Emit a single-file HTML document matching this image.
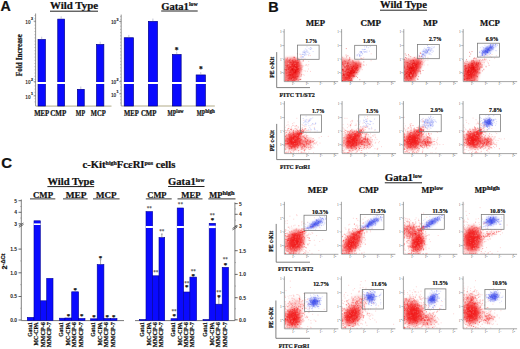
<!DOCTYPE html>
<html><head><meta charset="utf-8"><style>html,body{margin:0;padding:0;background:#fff;width:520px;height:349px;overflow:hidden}svg{display:block} text[font-weight="bold"]{stroke:#111;stroke-width:0.22px}</style></head>
<body><svg width="520" height="349" viewBox="0 0 520 349">
<defs><filter id="b1" x="-50%" y="-50%" width="200%" height="200%"><feGaussianBlur stdDeviation="1.5"/></filter><filter id="b2" x="-50%" y="-50%" width="200%" height="200%"><feGaussianBlur stdDeviation="2"/></filter><radialGradient id="rg"><stop offset="0" stop-color="#f01010" stop-opacity="1"/><stop offset="0.6" stop-color="#f01010" stop-opacity="0.88"/><stop offset="1" stop-color="#f01010" stop-opacity="0.3"/></radialGradient><radialGradient id="bg"><stop offset="0" stop-color="#2236e0" stop-opacity="1"/><stop offset="0.5" stop-color="#2c3ce6" stop-opacity="0.75"/><stop offset="1" stop-color="#2c3ce6" stop-opacity="0.15"/></radialGradient></defs>
<rect width="520" height="349" fill="#fff"/>
<text x="0.6" y="11.1" font-size="14.2" text-anchor="start" font-family='"Liberation Sans", sans-serif' font-weight="bold" fill="#111" >A</text>
<text x="268.2" y="11.6" font-size="14.4" text-anchor="start" font-family='"Liberation Sans", sans-serif' font-weight="bold" fill="#111" >B</text>
<text x="1.3" y="168.2" font-size="15" text-anchor="start" font-family='"Liberation Sans", sans-serif' font-weight="bold" fill="#111" >C</text>
<text x="50" y="9.3" font-size="10.5" font-family='"Liberation Serif", serif' font-weight="bold" fill="#111" textLength="48.0" lengthAdjust="spacingAndGlyphs">Wild Type</text>
<line x1="50" y1="11.2" x2="98" y2="11.2" stroke="#222" stroke-width="1.0"/>
<text x="161.2" y="9.5" font-size="10.5" font-family='"Liberation Serif", serif' font-weight="bold" fill="#111" textLength="36.5" lengthAdjust="spacingAndGlyphs">Gata1<tspan font-size="5.8" dy="-3.5">low</tspan></text>
<line x1="161.2" y1="11.0" x2="197.7" y2="11.0" stroke="#222" stroke-width="1.0"/>
<line x1="35.6" y1="13.5" x2="35.6" y2="106" stroke="#666" stroke-width="0.7"/>
<line x1="34.4" y1="15.5" x2="35.6" y2="15.5" stroke="#888" stroke-width="0.5"/>
<line x1="34.4" y1="18.7" x2="35.6" y2="18.7" stroke="#888" stroke-width="0.5"/>
<line x1="34.4" y1="21.9" x2="35.6" y2="21.9" stroke="#888" stroke-width="0.5"/>
<line x1="34.4" y1="25.099999999999998" x2="35.6" y2="25.099999999999998" stroke="#888" stroke-width="0.5"/>
<line x1="34.4" y1="28.299999999999997" x2="35.6" y2="28.299999999999997" stroke="#888" stroke-width="0.5"/>
<line x1="34.4" y1="31.499999999999996" x2="35.6" y2="31.499999999999996" stroke="#888" stroke-width="0.5"/>
<line x1="34.4" y1="34.699999999999996" x2="35.6" y2="34.699999999999996" stroke="#888" stroke-width="0.5"/>
<line x1="34.4" y1="37.9" x2="35.6" y2="37.9" stroke="#888" stroke-width="0.5"/>
<line x1="34.4" y1="41.1" x2="35.6" y2="41.1" stroke="#888" stroke-width="0.5"/>
<line x1="34.4" y1="44.300000000000004" x2="35.6" y2="44.300000000000004" stroke="#888" stroke-width="0.5"/>
<line x1="34.4" y1="47.50000000000001" x2="35.6" y2="47.50000000000001" stroke="#888" stroke-width="0.5"/>
<line x1="34.4" y1="50.70000000000001" x2="35.6" y2="50.70000000000001" stroke="#888" stroke-width="0.5"/>
<line x1="34.4" y1="53.90000000000001" x2="35.6" y2="53.90000000000001" stroke="#888" stroke-width="0.5"/>
<line x1="34.4" y1="57.100000000000016" x2="35.6" y2="57.100000000000016" stroke="#888" stroke-width="0.5"/>
<line x1="34.4" y1="60.30000000000002" x2="35.6" y2="60.30000000000002" stroke="#888" stroke-width="0.5"/>
<line x1="34.4" y1="63.50000000000002" x2="35.6" y2="63.50000000000002" stroke="#888" stroke-width="0.5"/>
<line x1="34.4" y1="66.70000000000002" x2="35.6" y2="66.70000000000002" stroke="#888" stroke-width="0.5"/>
<line x1="34.4" y1="69.90000000000002" x2="35.6" y2="69.90000000000002" stroke="#888" stroke-width="0.5"/>
<line x1="34.4" y1="73.10000000000002" x2="35.6" y2="73.10000000000002" stroke="#888" stroke-width="0.5"/>
<line x1="34.4" y1="76.30000000000003" x2="35.6" y2="76.30000000000003" stroke="#888" stroke-width="0.5"/>
<line x1="34.4" y1="79.50000000000003" x2="35.6" y2="79.50000000000003" stroke="#888" stroke-width="0.5"/>
<line x1="34.4" y1="82.70000000000003" x2="35.6" y2="82.70000000000003" stroke="#888" stroke-width="0.5"/>
<line x1="34.4" y1="85.90000000000003" x2="35.6" y2="85.90000000000003" stroke="#888" stroke-width="0.5"/>
<line x1="34.4" y1="89.10000000000004" x2="35.6" y2="89.10000000000004" stroke="#888" stroke-width="0.5"/>
<line x1="34.4" y1="92.30000000000004" x2="35.6" y2="92.30000000000004" stroke="#888" stroke-width="0.5"/>
<line x1="34.4" y1="95.50000000000004" x2="35.6" y2="95.50000000000004" stroke="#888" stroke-width="0.5"/>
<line x1="34.4" y1="98.70000000000005" x2="35.6" y2="98.70000000000005" stroke="#888" stroke-width="0.5"/>
<line x1="34.4" y1="101.90000000000005" x2="35.6" y2="101.90000000000005" stroke="#888" stroke-width="0.5"/>
<line x1="33.6" y1="21.2" x2="35.6" y2="21.2" stroke="#555" stroke-width="0.6"/>
<text x="25.3" y="23.9" font-size="6.2" font-family='"Liberation Sans", sans-serif' font-weight="bold" fill="#333" style="stroke:none" textLength="5.4" lengthAdjust="spacingAndGlyphs">10</text>
<text x="31.0" y="20.3" font-size="3.6" font-family='"Liberation Sans", sans-serif' font-weight="bold" fill="#444">3</text>
<line x1="33.6" y1="81.7" x2="35.6" y2="81.7" stroke="#555" stroke-width="0.6"/>
<text x="25.3" y="84.4" font-size="6.2" font-family='"Liberation Sans", sans-serif' font-weight="bold" fill="#333" style="stroke:none" textLength="5.4" lengthAdjust="spacingAndGlyphs">10</text>
<text x="31.0" y="80.8" font-size="3.6" font-family='"Liberation Sans", sans-serif' font-weight="bold" fill="#444">2</text>
<line x1="33.6" y1="95.9" x2="35.6" y2="95.9" stroke="#555" stroke-width="0.6"/>
<text x="25.3" y="98.60000000000001" font-size="6.2" font-family='"Liberation Sans", sans-serif' font-weight="bold" fill="#333" style="stroke:none" textLength="5.4" lengthAdjust="spacingAndGlyphs">10</text>
<text x="31.0" y="95.0" font-size="3.6" font-family='"Liberation Sans", sans-serif' font-weight="bold" fill="#444">1</text>
<line x1="35.6" y1="106.1" x2="111.5" y2="106.1" stroke="#a9a27a" stroke-width="0.9"/>
<rect x="38.05" y="39.55" width="7.30" height="66.45" fill="#0a0aff" stroke="#00008a" stroke-width="0.7"/>
<line x1="41.7" y1="36.7" x2="41.7" y2="39.2" stroke="#88a" stroke-width="0.5"/>
<rect x="57.75" y="19.15" width="6.80" height="86.85" fill="#0a0aff" stroke="#00008a" stroke-width="0.7"/>
<line x1="61.150000000000006" y1="16.3" x2="61.150000000000006" y2="18.8" stroke="#88a" stroke-width="0.5"/>
<rect x="77.35" y="89.35" width="6.90" height="16.65" fill="#0a0aff" stroke="#00008a" stroke-width="0.7"/>
<line x1="80.8" y1="86.5" x2="80.8" y2="89" stroke="#88a" stroke-width="0.5"/>
<rect x="96.55" y="44.55" width="7.30" height="61.45" fill="#0a0aff" stroke="#00008a" stroke-width="0.7"/>
<line x1="100.2" y1="41.7" x2="100.2" y2="44.2" stroke="#88a" stroke-width="0.5"/>
<rect x="36.20" y="82.00" width="76.00" height="2.00" fill="#fff" />
<line x1="121.2" y1="14.6" x2="121.2" y2="106" stroke="#666" stroke-width="0.7"/>
<line x1="120.0" y1="16.6" x2="121.2" y2="16.6" stroke="#888" stroke-width="0.5"/>
<line x1="120.0" y1="19.8" x2="121.2" y2="19.8" stroke="#888" stroke-width="0.5"/>
<line x1="120.0" y1="23.0" x2="121.2" y2="23.0" stroke="#888" stroke-width="0.5"/>
<line x1="120.0" y1="26.2" x2="121.2" y2="26.2" stroke="#888" stroke-width="0.5"/>
<line x1="120.0" y1="29.4" x2="121.2" y2="29.4" stroke="#888" stroke-width="0.5"/>
<line x1="120.0" y1="32.6" x2="121.2" y2="32.6" stroke="#888" stroke-width="0.5"/>
<line x1="120.0" y1="35.800000000000004" x2="121.2" y2="35.800000000000004" stroke="#888" stroke-width="0.5"/>
<line x1="120.0" y1="39.00000000000001" x2="121.2" y2="39.00000000000001" stroke="#888" stroke-width="0.5"/>
<line x1="120.0" y1="42.20000000000001" x2="121.2" y2="42.20000000000001" stroke="#888" stroke-width="0.5"/>
<line x1="120.0" y1="45.40000000000001" x2="121.2" y2="45.40000000000001" stroke="#888" stroke-width="0.5"/>
<line x1="120.0" y1="48.600000000000016" x2="121.2" y2="48.600000000000016" stroke="#888" stroke-width="0.5"/>
<line x1="120.0" y1="51.80000000000002" x2="121.2" y2="51.80000000000002" stroke="#888" stroke-width="0.5"/>
<line x1="120.0" y1="55.00000000000002" x2="121.2" y2="55.00000000000002" stroke="#888" stroke-width="0.5"/>
<line x1="120.0" y1="58.200000000000024" x2="121.2" y2="58.200000000000024" stroke="#888" stroke-width="0.5"/>
<line x1="120.0" y1="61.40000000000003" x2="121.2" y2="61.40000000000003" stroke="#888" stroke-width="0.5"/>
<line x1="120.0" y1="64.60000000000002" x2="121.2" y2="64.60000000000002" stroke="#888" stroke-width="0.5"/>
<line x1="120.0" y1="67.80000000000003" x2="121.2" y2="67.80000000000003" stroke="#888" stroke-width="0.5"/>
<line x1="120.0" y1="71.00000000000003" x2="121.2" y2="71.00000000000003" stroke="#888" stroke-width="0.5"/>
<line x1="120.0" y1="74.20000000000003" x2="121.2" y2="74.20000000000003" stroke="#888" stroke-width="0.5"/>
<line x1="120.0" y1="77.40000000000003" x2="121.2" y2="77.40000000000003" stroke="#888" stroke-width="0.5"/>
<line x1="120.0" y1="80.60000000000004" x2="121.2" y2="80.60000000000004" stroke="#888" stroke-width="0.5"/>
<line x1="120.0" y1="83.80000000000004" x2="121.2" y2="83.80000000000004" stroke="#888" stroke-width="0.5"/>
<line x1="120.0" y1="87.00000000000004" x2="121.2" y2="87.00000000000004" stroke="#888" stroke-width="0.5"/>
<line x1="120.0" y1="90.20000000000005" x2="121.2" y2="90.20000000000005" stroke="#888" stroke-width="0.5"/>
<line x1="120.0" y1="93.40000000000005" x2="121.2" y2="93.40000000000005" stroke="#888" stroke-width="0.5"/>
<line x1="120.0" y1="96.60000000000005" x2="121.2" y2="96.60000000000005" stroke="#888" stroke-width="0.5"/>
<line x1="120.0" y1="99.80000000000005" x2="121.2" y2="99.80000000000005" stroke="#888" stroke-width="0.5"/>
<line x1="120.0" y1="103.00000000000006" x2="121.2" y2="103.00000000000006" stroke="#888" stroke-width="0.5"/>
<line x1="119.2" y1="21.5" x2="121.2" y2="21.5" stroke="#555" stroke-width="0.6"/>
<text x="110.9" y="24.2" font-size="6.2" font-family='"Liberation Sans", sans-serif' font-weight="bold" fill="#333" style="stroke:none" textLength="5.4" lengthAdjust="spacingAndGlyphs">10</text>
<text x="116.60000000000001" y="20.6" font-size="3.6" font-family='"Liberation Sans", sans-serif' font-weight="bold" fill="#444">3</text>
<line x1="119.2" y1="81.7" x2="121.2" y2="81.7" stroke="#555" stroke-width="0.6"/>
<text x="110.9" y="84.4" font-size="6.2" font-family='"Liberation Sans", sans-serif' font-weight="bold" fill="#333" style="stroke:none" textLength="5.4" lengthAdjust="spacingAndGlyphs">10</text>
<text x="116.60000000000001" y="80.8" font-size="3.6" font-family='"Liberation Sans", sans-serif' font-weight="bold" fill="#444">2</text>
<line x1="119.2" y1="93.8" x2="121.2" y2="93.8" stroke="#555" stroke-width="0.6"/>
<text x="110.9" y="96.5" font-size="6.2" font-family='"Liberation Sans", sans-serif' font-weight="bold" fill="#333" style="stroke:none" textLength="5.4" lengthAdjust="spacingAndGlyphs">10</text>
<text x="116.60000000000001" y="92.89999999999999" font-size="3.6" font-family='"Liberation Sans", sans-serif' font-weight="bold" fill="#444">1</text>
<line x1="121.2" y1="106" x2="214.8" y2="106" stroke="#a9a27a" stroke-width="0.9"/>
<rect x="124.25" y="37.75" width="9.20" height="68.25" fill="#0a0aff" stroke="#00008a" stroke-width="0.7"/>
<line x1="128.85000000000002" y1="34.9" x2="128.85000000000002" y2="37.4" stroke="#88a" stroke-width="0.5"/>
<rect x="148.35" y="21.45" width="9.10" height="84.55" fill="#0a0aff" stroke="#00008a" stroke-width="0.7"/>
<line x1="152.9" y1="18.6" x2="152.9" y2="21.1" stroke="#88a" stroke-width="0.5"/>
<rect x="172.35" y="54.55" width="8.80" height="51.45" fill="#0a0aff" stroke="#00008a" stroke-width="0.7"/>
<line x1="176.75" y1="51.7" x2="176.75" y2="54.2" stroke="#88a" stroke-width="0.5"/>
<rect x="196.15" y="74.95" width="9.20" height="31.05" fill="#0a0aff" stroke="#00008a" stroke-width="0.7"/>
<line x1="200.75" y1="72.1" x2="200.75" y2="74.6" stroke="#88a" stroke-width="0.5"/>
<rect x="121.80" y="82.00" width="93.00" height="2.00" fill="#fff" />
<text x="176.7" y="52.8" font-size="7.5" text-anchor="middle" font-family='"Liberation Serif", serif' font-weight="bold" fill="#111" >*</text>
<text x="200.9" y="72.4" font-size="7.5" text-anchor="middle" font-family='"Liberation Serif", serif' font-weight="bold" fill="#111" >*</text>
<text transform="translate(22.3,55.2) rotate(-90)" font-size="7.3" text-anchor="middle" font-family='"Liberation Serif", serif' font-weight="bold" fill="#111">Fold Increase</text>
<text x="34.3" y="115.5" font-size="8.0" font-family='"Liberation Serif", serif' font-weight="bold" fill="#111" stroke="#111" stroke-width="0.3" textLength="14.9" lengthAdjust="spacingAndGlyphs">MEP</text>
<text x="50.3" y="115.5" font-size="8.0" font-family='"Liberation Serif", serif' font-weight="bold" fill="#111" stroke="#111" stroke-width="0.3" textLength="15.9" lengthAdjust="spacingAndGlyphs">CMP</text>
<text x="75.8" y="115.5" font-size="8.0" font-family='"Liberation Serif", serif' font-weight="bold" fill="#111" stroke="#111" stroke-width="0.3" textLength="9.2" lengthAdjust="spacingAndGlyphs">MP</text>
<text x="90.8" y="115.5" font-size="8.0" font-family='"Liberation Serif", serif' font-weight="bold" fill="#111" stroke="#111" stroke-width="0.3" textLength="14.9" lengthAdjust="spacingAndGlyphs">MCP</text>
<text x="124.1" y="115.5" font-size="8.0" font-family='"Liberation Serif", serif' font-weight="bold" fill="#111" stroke="#111" stroke-width="0.3" textLength="14.7" lengthAdjust="spacingAndGlyphs">MEP</text>
<text x="140.9" y="115.5" font-size="8.0" font-family='"Liberation Serif", serif' font-weight="bold" fill="#111" stroke="#111" stroke-width="0.3" textLength="15.5" lengthAdjust="spacingAndGlyphs">CMP</text>
<text x="167.5" y="115.5" font-size="8.0" font-family='"Liberation Serif", serif' font-weight="bold" fill="#111" stroke="#111" stroke-width="0.3" textLength="8.6" lengthAdjust="spacingAndGlyphs">MP</text>
<text x="196.7" y="115.5" font-size="8.0" font-family='"Liberation Serif", serif' font-weight="bold" fill="#111" stroke="#111" stroke-width="0.3" textLength="8.3" lengthAdjust="spacingAndGlyphs">MP</text>
<text x="176.3" y="113.4" font-size="5.2" font-family='"Liberation Serif", serif' font-weight="bold" fill="#111" stroke="#111" stroke-width="0.3" textLength="7.3" lengthAdjust="spacingAndGlyphs">low</text>
<text x="205.2" y="113.4" font-size="5.2" font-family='"Liberation Serif", serif' font-weight="bold" fill="#111" stroke="#111" stroke-width="0.3" textLength="9.6" lengthAdjust="spacingAndGlyphs">high</text>
<text x="82.4" y="168.4" font-size="10.5" font-family='"Liberation Serif", serif' font-weight="bold" fill="#111" textLength="93" lengthAdjust="spacingAndGlyphs">c-Kit<tspan font-size="5.8" dy="-3.3">high</tspan><tspan dy="3.3">Fc&#949;RI</tspan><tspan font-size="5.8" dy="-3.3">pos</tspan><tspan dy="3.3"> cells</tspan></text>
<text x="47.4" y="185" font-size="10.5" font-family='"Liberation Serif", serif' font-weight="bold" fill="#111" textLength="46.8" lengthAdjust="spacingAndGlyphs">Wild Type</text>
<line x1="47.4" y1="186.6" x2="94.2" y2="186.6" stroke="#222" stroke-width="1.0"/>
<text x="168.1" y="185.2" font-size="10.5" font-family='"Liberation Serif", serif' font-weight="bold" fill="#111" textLength="36.4" lengthAdjust="spacingAndGlyphs">Gata1<tspan font-size="5.8" dy="-3.5">low</tspan></text>
<line x1="168.1" y1="186.5" x2="204.5" y2="186.5" stroke="#222" stroke-width="1.0"/>
<text x="33" y="197.7" font-size="8.8" font-family='"Liberation Serif", serif' font-weight="bold" fill="#111" textLength="20.0" lengthAdjust="spacingAndGlyphs">CMP</text>
<line x1="30" y1="198.9" x2="55.3" y2="198.9" stroke="#222" stroke-width="0.9"/>
<text x="65.8" y="197.7" font-size="8.8" font-family='"Liberation Serif", serif' font-weight="bold" fill="#111" textLength="20.7" lengthAdjust="spacingAndGlyphs">MEP</text>
<line x1="63" y1="198.9" x2="87.7" y2="198.9" stroke="#222" stroke-width="0.9"/>
<text x="96" y="197.7" font-size="8.8" font-family='"Liberation Serif", serif' font-weight="bold" fill="#111" textLength="20.5" lengthAdjust="spacingAndGlyphs">MCP</text>
<line x1="93" y1="198.9" x2="119.6" y2="198.9" stroke="#222" stroke-width="0.9"/>
<text x="147.3" y="197.7" font-size="8.8" font-family='"Liberation Serif", serif' font-weight="bold" fill="#111" textLength="19.2" lengthAdjust="spacingAndGlyphs">CMP</text>
<line x1="145.8" y1="198.9" x2="171.7" y2="198.9" stroke="#222" stroke-width="0.9"/>
<text x="181.3" y="197.7" font-size="8.8" font-family='"Liberation Serif", serif' font-weight="bold" fill="#111" textLength="19.3" lengthAdjust="spacingAndGlyphs">MEP</text>
<line x1="177.5" y1="198.9" x2="202.5" y2="198.9" stroke="#222" stroke-width="0.9"/>
<text x="209.2" y="197.7" font-size="8.8" font-family='"Liberation Serif", serif' font-weight="bold" fill="#111" textLength="13.1" lengthAdjust="spacingAndGlyphs">MP</text>
<text x="222.5" y="194.6" font-size="6" font-family='"Liberation Serif", serif' font-weight="bold" fill="#111" textLength="12.1" lengthAdjust="spacingAndGlyphs">high</text>
<line x1="208.3" y1="198.9" x2="235.5" y2="198.9" stroke="#222" stroke-width="0.9"/>
<line x1="21.3" y1="199.5" x2="21.3" y2="320.5" stroke="#555" stroke-width="0.75"/>
<line x1="21.3" y1="200.7" x2="18.5" y2="200.7" stroke="#444" stroke-width="0.8"/>
<text x="17.1" y="202.6" font-size="5.0" text-anchor="end" font-family='"Liberation Sans", sans-serif' font-weight="bold" fill="#222" style="stroke:none">5</text>
<line x1="21.3" y1="212.3" x2="18.5" y2="212.3" stroke="#444" stroke-width="0.8"/>
<text x="17.1" y="214.20000000000002" font-size="5.0" text-anchor="end" font-family='"Liberation Sans", sans-serif' font-weight="bold" fill="#222" style="stroke:none">4</text>
<line x1="21.3" y1="223.8" x2="18.5" y2="223.8" stroke="#444" stroke-width="0.8"/>
<text x="17.1" y="225.70000000000002" font-size="5.0" text-anchor="end" font-family='"Liberation Sans", sans-serif' font-weight="bold" fill="#222" style="stroke:none">3</text>
<line x1="21.3" y1="249.1" x2="18.5" y2="249.1" stroke="#444" stroke-width="0.8"/>
<text x="17.1" y="251.0" font-size="5.0" text-anchor="end" font-family='"Liberation Sans", sans-serif' font-weight="bold" fill="#222" style="stroke:none">1.5</text>
<line x1="21.3" y1="272.8" x2="18.5" y2="272.8" stroke="#444" stroke-width="0.8"/>
<text x="17.1" y="274.7" font-size="5.0" text-anchor="end" font-family='"Liberation Sans", sans-serif' font-weight="bold" fill="#222" style="stroke:none">1.0</text>
<line x1="21.3" y1="296.5" x2="18.5" y2="296.5" stroke="#444" stroke-width="0.8"/>
<text x="17.1" y="298.4" font-size="5.0" text-anchor="end" font-family='"Liberation Sans", sans-serif' font-weight="bold" fill="#222" style="stroke:none">0.5</text>
<line x1="21.3" y1="320" x2="18.5" y2="320" stroke="#444" stroke-width="0.8"/>
<text x="17.1" y="321.9" font-size="5.0" text-anchor="end" font-family='"Liberation Sans", sans-serif' font-weight="bold" fill="#222" style="stroke:none">0.0</text>
<line x1="21.3" y1="206.5" x2="20.2" y2="206.5" stroke="#777" stroke-width="0.5"/>
<line x1="21.3" y1="218.05" x2="20.2" y2="218.05" stroke="#777" stroke-width="0.5"/>
<line x1="21.3" y1="260.95" x2="20.2" y2="260.95" stroke="#777" stroke-width="0.5"/>
<line x1="21.3" y1="284.65" x2="20.2" y2="284.65" stroke="#777" stroke-width="0.5"/>
<line x1="21.3" y1="308.25" x2="20.2" y2="308.25" stroke="#777" stroke-width="0.5"/>
<path d="M18.900000000000002 225.79999999999998 L23.5 223.0 M18.900000000000002 227.29999999999998 L23.5 224.5" stroke="#333" stroke-width="0.7" fill="none"/>
<line x1="234.9" y1="202.4" x2="234.9" y2="320.5" stroke="#555" stroke-width="0.75"/>
<line x1="234.9" y1="203.6" x2="237.70000000000002" y2="203.6" stroke="#444" stroke-width="0.8"/>
<text x="239.1" y="205.5" font-size="5.0" text-anchor="start" font-family='"Liberation Sans", sans-serif' font-weight="bold" fill="#222" style="stroke:none">5</text>
<line x1="234.9" y1="214.3" x2="237.70000000000002" y2="214.3" stroke="#444" stroke-width="0.8"/>
<text x="239.1" y="216.20000000000002" font-size="5.0" text-anchor="start" font-family='"Liberation Sans", sans-serif' font-weight="bold" fill="#222" style="stroke:none">4</text>
<line x1="234.9" y1="226" x2="237.70000000000002" y2="226" stroke="#444" stroke-width="0.8"/>
<text x="239.1" y="227.9" font-size="5.0" text-anchor="start" font-family='"Liberation Sans", sans-serif' font-weight="bold" fill="#222" style="stroke:none">3</text>
<line x1="234.9" y1="250.7" x2="237.70000000000002" y2="250.7" stroke="#444" stroke-width="0.8"/>
<text x="239.1" y="252.6" font-size="5.0" text-anchor="start" font-family='"Liberation Sans", sans-serif' font-weight="bold" fill="#222" style="stroke:none">1.5</text>
<line x1="234.9" y1="274.4" x2="237.70000000000002" y2="274.4" stroke="#444" stroke-width="0.8"/>
<text x="239.1" y="276.29999999999995" font-size="5.0" text-anchor="start" font-family='"Liberation Sans", sans-serif' font-weight="bold" fill="#222" style="stroke:none">1.0</text>
<line x1="234.9" y1="297.7" x2="237.70000000000002" y2="297.7" stroke="#444" stroke-width="0.8"/>
<text x="239.1" y="299.59999999999997" font-size="5.0" text-anchor="start" font-family='"Liberation Sans", sans-serif' font-weight="bold" fill="#222" style="stroke:none">0.5</text>
<line x1="234.9" y1="319.8" x2="237.70000000000002" y2="319.8" stroke="#444" stroke-width="0.8"/>
<text x="239.1" y="321.7" font-size="5.0" text-anchor="start" font-family='"Liberation Sans", sans-serif' font-weight="bold" fill="#222" style="stroke:none">0.0</text>
<line x1="234.9" y1="208.95" x2="236.0" y2="208.95" stroke="#777" stroke-width="0.5"/>
<line x1="234.9" y1="220.15" x2="236.0" y2="220.15" stroke="#777" stroke-width="0.5"/>
<line x1="234.9" y1="262.54999999999995" x2="236.0" y2="262.54999999999995" stroke="#777" stroke-width="0.5"/>
<line x1="234.9" y1="286.04999999999995" x2="236.0" y2="286.04999999999995" stroke="#777" stroke-width="0.5"/>
<line x1="234.9" y1="308.75" x2="236.0" y2="308.75" stroke="#777" stroke-width="0.5"/>
<path d="M232.5 228.4 L237.1 225.60000000000002 M232.5 229.9 L237.1 227.10000000000002" stroke="#333" stroke-width="0.7" fill="none"/>
<line x1="21.3" y1="320.6" x2="124" y2="320.6" stroke="#555" stroke-width="0.8"/>
<line x1="135" y1="320.6" x2="234.9" y2="320.6" stroke="#555" stroke-width="0.8"/>
<rect x="27.30" y="317.40" width="6.70" height="3.10" fill="#0a0aff" />
<rect x="27.30" y="317.40" width="6.70" height="3.10" fill="none" stroke="#00009a" stroke-width="0.6"/>
<rect x="34.00" y="220.80" width="6.30" height="99.70" fill="#0a0aff" />
<rect x="34.00" y="220.80" width="6.30" height="99.70" fill="none" stroke="#00009a" stroke-width="0.6"/>
<rect x="33.70" y="223.40" width="6.90" height="1.60" fill="#fff" />
<rect x="40.30" y="300.80" width="6.40" height="19.70" fill="#0a0aff" />
<rect x="40.30" y="300.80" width="6.40" height="19.70" fill="none" stroke="#00009a" stroke-width="0.6"/>
<rect x="46.70" y="278.40" width="6.30" height="42.10" fill="#0a0aff" />
<rect x="46.70" y="278.40" width="6.30" height="42.10" fill="none" stroke="#00009a" stroke-width="0.6"/>
<rect x="59.50" y="318.20" width="5.50" height="2.30" fill="#0a0aff" />
<rect x="59.50" y="318.20" width="5.50" height="2.30" fill="none" stroke="#00009a" stroke-width="0.6"/>
<rect x="65.00" y="318.00" width="6.70" height="2.50" fill="#0a0aff" />
<rect x="65.00" y="318.00" width="6.70" height="2.50" fill="none" stroke="#00009a" stroke-width="0.6"/>
<text x="68.35" y="317.96" font-size="6.8" text-anchor="middle" font-family='"Liberation Serif", serif' font-weight="bold" fill="#111" >*</text>
<rect x="71.70" y="291.80" width="6.90" height="28.70" fill="#0a0aff" />
<rect x="71.70" y="291.80" width="6.90" height="28.70" fill="none" stroke="#00009a" stroke-width="0.6"/>
<text x="75.15" y="291.76" font-size="6.8" text-anchor="middle" font-family='"Liberation Serif", serif' font-weight="bold" fill="#111" >*</text>
<rect x="78.60" y="318.50" width="6.40" height="2.00" fill="#0a0aff" />
<rect x="78.60" y="318.50" width="6.40" height="2.00" fill="none" stroke="#00009a" stroke-width="0.6"/>
<text x="81.8" y="318.46" font-size="6.8" text-anchor="middle" font-family='"Liberation Serif", serif' font-weight="bold" fill="#111" >*</text>
<rect x="90.60" y="318.80" width="6.60" height="1.70" fill="#0a0aff" />
<rect x="90.60" y="318.80" width="6.60" height="1.70" fill="none" stroke="#00009a" stroke-width="0.6"/>
<text x="93.9" y="318.66" font-size="6.8" text-anchor="middle" font-family='"Liberation Serif", serif' font-weight="bold" fill="#111" >*</text>
<rect x="97.20" y="264.60" width="6.70" height="55.90" fill="#0a0aff" />
<rect x="97.20" y="264.60" width="6.70" height="55.90" fill="none" stroke="#00009a" stroke-width="0.6"/>
<line x1="100.55000000000001" y1="259.7" x2="100.55000000000001" y2="264.6" stroke="#555" stroke-width="0.5"/>
<line x1="99.65" y1="259.7" x2="101.45000000000002" y2="259.7" stroke="#555" stroke-width="0.5"/>
<text x="100.55000000000001" y="259.56" font-size="6.8" text-anchor="middle" font-family='"Liberation Serif", serif' font-weight="bold" fill="#111" >*</text>
<rect x="103.90" y="318.50" width="6.50" height="2.00" fill="#0a0aff" />
<rect x="103.90" y="318.50" width="6.50" height="2.00" fill="none" stroke="#00009a" stroke-width="0.6"/>
<text x="107.15" y="318.96" font-size="6.8" text-anchor="middle" font-family='"Liberation Serif", serif' font-weight="bold" fill="#111" >*</text>
<rect x="110.40" y="318.50" width="6.60" height="2.00" fill="#0a0aff" />
<rect x="110.40" y="318.50" width="6.60" height="2.00" fill="none" stroke="#00009a" stroke-width="0.6"/>
<text x="113.7" y="318.96" font-size="6.8" text-anchor="middle" font-family='"Liberation Serif", serif' font-weight="bold" fill="#111" >*</text>
<rect x="139.30" y="319.50" width="6.70" height="1.00" fill="#0a0aff" />
<rect x="139.30" y="319.50" width="6.70" height="1.00" fill="none" stroke="#00009a" stroke-width="0.6"/>
<rect x="146.00" y="211.60" width="6.60" height="108.90" fill="#0a0aff" />
<rect x="146.00" y="211.60" width="6.60" height="108.90" fill="none" stroke="#00009a" stroke-width="0.6"/>
<rect x="145.70" y="226.00" width="7.20" height="2.00" fill="#fff" />
<text x="149.3" y="210.42" font-size="5.2" text-anchor="middle" font-family='"Liberation Serif", serif' font-weight="bold" fill="#555" style="stroke:none">**</text>
<rect x="152.60" y="275.80" width="6.40" height="44.70" fill="#0a0aff" />
<rect x="152.60" y="275.80" width="6.40" height="44.70" fill="none" stroke="#00009a" stroke-width="0.6"/>
<text x="155.8" y="273.92" font-size="5.2" text-anchor="middle" font-family='"Liberation Serif", serif' font-weight="bold" fill="#555" style="stroke:none">**</text>
<rect x="159.00" y="237.60" width="5.70" height="82.90" fill="#0a0aff" />
<rect x="159.00" y="237.60" width="5.70" height="82.90" fill="none" stroke="#00009a" stroke-width="0.6"/>
<line x1="161.85" y1="234" x2="161.85" y2="237.6" stroke="#555" stroke-width="0.5"/>
<line x1="160.95" y1="234" x2="162.75" y2="234" stroke="#555" stroke-width="0.5"/>
<text x="161.85" y="233.42" font-size="5.2" text-anchor="middle" font-family='"Liberation Serif", serif' font-weight="bold" fill="#555" style="stroke:none">**</text>
<rect x="171.00" y="318.70" width="6.20" height="1.80" fill="#0a0aff" />
<rect x="171.00" y="318.70" width="6.20" height="1.80" fill="none" stroke="#00009a" stroke-width="0.6"/>
<text x="174.1" y="312.92" font-size="5.2" text-anchor="middle" font-family='"Liberation Serif", serif' font-weight="bold" fill="#555" style="stroke:none">**</text>
<text x="174.1" y="318.06" font-size="6.8" text-anchor="middle" font-family='"Liberation Serif", serif' font-weight="bold" fill="#111" >*</text>
<rect x="177.20" y="208.00" width="6.40" height="112.50" fill="#0a0aff" />
<rect x="177.20" y="208.00" width="6.40" height="112.50" fill="none" stroke="#00009a" stroke-width="0.6"/>
<rect x="176.90" y="226.00" width="7.00" height="2.00" fill="#fff" />
<text x="180.39999999999998" y="206.42" font-size="5.2" text-anchor="middle" font-family='"Liberation Serif", serif' font-weight="bold" fill="#555" style="stroke:none">**</text>
<rect x="183.60" y="292.00" width="6.30" height="28.50" fill="#0a0aff" />
<rect x="183.60" y="292.00" width="6.30" height="28.50" fill="none" stroke="#00009a" stroke-width="0.6"/>
<text x="186.75" y="284.72" font-size="5.2" text-anchor="middle" font-family='"Liberation Serif", serif' font-weight="bold" fill="#555" style="stroke:none">**</text>
<text x="186.75" y="288.86" font-size="6.8" text-anchor="middle" font-family='"Liberation Serif", serif' font-weight="bold" fill="#111" >*</text>
<rect x="189.90" y="277.10" width="6.70" height="43.40" fill="#0a0aff" />
<rect x="189.90" y="277.10" width="6.70" height="43.40" fill="none" stroke="#00009a" stroke-width="0.6"/>
<text x="193.25" y="272.62" font-size="5.2" text-anchor="middle" font-family='"Liberation Serif", serif' font-weight="bold" fill="#555" style="stroke:none">**</text>
<text x="193.25" y="277.66" font-size="6.8" text-anchor="middle" font-family='"Liberation Serif", serif' font-weight="bold" fill="#111" >*</text>
<rect x="203.00" y="319.50" width="6.20" height="1.00" fill="#0a0aff" />
<rect x="203.00" y="319.50" width="6.20" height="1.00" fill="none" stroke="#00009a" stroke-width="0.6"/>
<rect x="209.20" y="223.30" width="6.30" height="97.20" fill="#0a0aff" />
<rect x="209.20" y="223.30" width="6.30" height="97.20" fill="none" stroke="#00009a" stroke-width="0.6"/>
<rect x="208.90" y="225.70" width="6.90" height="2.40" fill="#fff" />
<text x="212.35" y="216.92" font-size="5.2" text-anchor="middle" font-family='"Liberation Serif", serif' font-weight="bold" fill="#555" style="stroke:none">**</text>
<text x="212.35" y="222.36" font-size="6.8" text-anchor="middle" font-family='"Liberation Serif", serif' font-weight="bold" fill="#111" >*</text>
<rect x="215.50" y="304.20" width="6.70" height="16.30" fill="#0a0aff" />
<rect x="215.50" y="304.20" width="6.70" height="16.30" fill="none" stroke="#00009a" stroke-width="0.6"/>
<line x1="218.85" y1="297.5" x2="218.85" y2="304.2" stroke="#555" stroke-width="0.5"/>
<line x1="217.95" y1="297.5" x2="219.75" y2="297.5" stroke="#555" stroke-width="0.5"/>
<text x="218.85" y="294.42" font-size="5.2" text-anchor="middle" font-family='"Liberation Serif", serif' font-weight="bold" fill="#555" style="stroke:none">**</text>
<text x="218.85" y="299.36" font-size="6.8" text-anchor="middle" font-family='"Liberation Serif", serif' font-weight="bold" fill="#111" >*</text>
<rect x="222.20" y="267.40" width="6.30" height="53.10" fill="#0a0aff" />
<rect x="222.20" y="267.40" width="6.30" height="53.10" fill="none" stroke="#00009a" stroke-width="0.6"/>
<text x="225.35" y="261.02" font-size="5.2" text-anchor="middle" font-family='"Liberation Serif", serif' font-weight="bold" fill="#555" style="stroke:none">**</text>
<text x="225.35" y="266.56" font-size="6.8" text-anchor="middle" font-family='"Liberation Serif", serif' font-weight="bold" fill="#111" >*</text>
<text transform="translate(7.4,269.4) rotate(-90)" font-size="7.2" text-anchor="start" font-family='"Liberation Sans", sans-serif' font-weight="bold" fill="#111">2<tspan font-size="5.6" dy="-2.9">-&#916;Ct</tspan></text>
<text transform="translate(31.85,322.2) rotate(-90)" font-size="6.2" text-anchor="end" font-family='"Liberation Serif", serif' font-weight="bold" fill="#111" textLength="14.6" lengthAdjust="spacingAndGlyphs">Gata1</text>
<text transform="translate(38.35,322.2) rotate(-90)" font-size="6.2" text-anchor="end" font-family='"Liberation Serif", serif' font-weight="bold" fill="#111" textLength="23.2" lengthAdjust="spacingAndGlyphs">MC-CPA</text>
<text transform="translate(44.70,322.2) rotate(-90)" font-size="6.2" text-anchor="end" font-family='"Liberation Serif", serif' font-weight="bold" fill="#111" textLength="25" lengthAdjust="spacingAndGlyphs">MMCP-6</text>
<text transform="translate(51.05,322.2) rotate(-90)" font-size="6.2" text-anchor="end" font-family='"Liberation Serif", serif' font-weight="bold" fill="#111" textLength="25" lengthAdjust="spacingAndGlyphs">MMCP-7</text>
<text transform="translate(63.45,322.2) rotate(-90)" font-size="6.2" text-anchor="end" font-family='"Liberation Serif", serif' font-weight="bold" fill="#111" textLength="14.6" lengthAdjust="spacingAndGlyphs">Gata1</text>
<text transform="translate(69.55,322.2) rotate(-90)" font-size="6.2" text-anchor="end" font-family='"Liberation Serif", serif' font-weight="bold" fill="#111" textLength="23.2" lengthAdjust="spacingAndGlyphs">MC-CPA</text>
<text transform="translate(76.35,322.2) rotate(-90)" font-size="6.2" text-anchor="end" font-family='"Liberation Serif", serif' font-weight="bold" fill="#111" textLength="25" lengthAdjust="spacingAndGlyphs">MMCP-6</text>
<text transform="translate(83.00,322.2) rotate(-90)" font-size="6.2" text-anchor="end" font-family='"Liberation Serif", serif' font-weight="bold" fill="#111" textLength="25" lengthAdjust="spacingAndGlyphs">MMCP-7</text>
<text transform="translate(95.10,322.2) rotate(-90)" font-size="6.2" text-anchor="end" font-family='"Liberation Serif", serif' font-weight="bold" fill="#111" textLength="14.6" lengthAdjust="spacingAndGlyphs">Gata1</text>
<text transform="translate(101.75,322.2) rotate(-90)" font-size="6.2" text-anchor="end" font-family='"Liberation Serif", serif' font-weight="bold" fill="#111" textLength="23.2" lengthAdjust="spacingAndGlyphs">MC-CPA</text>
<text transform="translate(108.35,322.2) rotate(-90)" font-size="6.2" text-anchor="end" font-family='"Liberation Serif", serif' font-weight="bold" fill="#111" textLength="25" lengthAdjust="spacingAndGlyphs">MMCP-6</text>
<text transform="translate(114.90,322.2) rotate(-90)" font-size="6.2" text-anchor="end" font-family='"Liberation Serif", serif' font-weight="bold" fill="#111" textLength="25" lengthAdjust="spacingAndGlyphs">MMCP-7</text>
<text transform="translate(143.85,322.2) rotate(-90)" font-size="6.2" text-anchor="end" font-family='"Liberation Serif", serif' font-weight="bold" fill="#111" textLength="14.6" lengthAdjust="spacingAndGlyphs">Gata1</text>
<text transform="translate(150.50,322.2) rotate(-90)" font-size="6.2" text-anchor="end" font-family='"Liberation Serif", serif' font-weight="bold" fill="#111" textLength="23.2" lengthAdjust="spacingAndGlyphs">MC-CPA</text>
<text transform="translate(157.00,322.2) rotate(-90)" font-size="6.2" text-anchor="end" font-family='"Liberation Serif", serif' font-weight="bold" fill="#111" textLength="25" lengthAdjust="spacingAndGlyphs">MMCP-6</text>
<text transform="translate(163.05,322.2) rotate(-90)" font-size="6.2" text-anchor="end" font-family='"Liberation Serif", serif' font-weight="bold" fill="#111" textLength="25" lengthAdjust="spacingAndGlyphs">MMCP-7</text>
<text transform="translate(175.30,322.2) rotate(-90)" font-size="6.2" text-anchor="end" font-family='"Liberation Serif", serif' font-weight="bold" fill="#111" textLength="14.6" lengthAdjust="spacingAndGlyphs">Gata1</text>
<text transform="translate(181.60,322.2) rotate(-90)" font-size="6.2" text-anchor="end" font-family='"Liberation Serif", serif' font-weight="bold" fill="#111" textLength="23.2" lengthAdjust="spacingAndGlyphs">MC-CPA</text>
<text transform="translate(187.95,322.2) rotate(-90)" font-size="6.2" text-anchor="end" font-family='"Liberation Serif", serif' font-weight="bold" fill="#111" textLength="25" lengthAdjust="spacingAndGlyphs">MMCP-6</text>
<text transform="translate(194.45,322.2) rotate(-90)" font-size="6.2" text-anchor="end" font-family='"Liberation Serif", serif' font-weight="bold" fill="#111" textLength="25" lengthAdjust="spacingAndGlyphs">MMCP-7</text>
<text transform="translate(207.30,322.2) rotate(-90)" font-size="6.2" text-anchor="end" font-family='"Liberation Serif", serif' font-weight="bold" fill="#111" textLength="14.6" lengthAdjust="spacingAndGlyphs">Gata1</text>
<text transform="translate(213.55,322.2) rotate(-90)" font-size="6.2" text-anchor="end" font-family='"Liberation Serif", serif' font-weight="bold" fill="#111" textLength="23.2" lengthAdjust="spacingAndGlyphs">MC-CPA</text>
<text transform="translate(220.05,322.2) rotate(-90)" font-size="6.2" text-anchor="end" font-family='"Liberation Serif", serif' font-weight="bold" fill="#111" textLength="25" lengthAdjust="spacingAndGlyphs">MMCP-6</text>
<text transform="translate(226.55,322.2) rotate(-90)" font-size="6.2" text-anchor="end" font-family='"Liberation Serif", serif' font-weight="bold" fill="#111" textLength="25" lengthAdjust="spacingAndGlyphs">MMCP-7</text>
<clipPath id="c1"><rect x="284.5" y="29.099999999999994" width="53.7" height="52.2"/></clipPath>
<clipPath id="g1"><rect x="297.79999999999995" y="45.5" width="20.9" height="13.4"/></clipPath>
<g clip-path="url(#c1)">
<path d="M283 58.8 L294 57.8 L299.5 60 L301.3 66 L300 74 L297.5 83 L283 83Z" fill="#f01010" fill-opacity="0.60" filter="url(#b1)"/>
<ellipse cx="294" cy="70" rx="6" ry="11" transform="rotate(12 294 70)" fill="url(#rg)" fill-opacity="0.90" filter="url(#b1)"/>
<path d="M298.4 80.1h0M292.3 64.6h0M286.5 70.2h0M286.9 59.9h0M293.0 70.9h0M294.7 63.6h0M292.0 69.5h0M284.7 73.8h0M293.6 81.3h0M293.0 69.0h0M298.2 71.4h0M296.5 67.4h0M293.1 77.2h0M295.5 70.9h0M286.6 73.1h0M292.4 75.0h0M293.1 77.6h0M291.7 71.4h0M295.3 62.4h0M290.0 66.5h0M301.9 69.3h0M295.3 74.3h0M290.6 59.1h0M296.8 67.1h0M295.6 60.9h0M289.8 78.8h0M299.2 60.9h0M285.3 69.7h0M295.6 71.1h0M293.5 63.1h0M294.9 77.8h0M289.8 60.0h0M288.2 75.3h0M284.7 69.4h0M287.0 69.1h0M290.8 70.1h0M299.5 72.9h0M298.7 69.0h0M289.6 72.7h0M284.6 69.7h0M292.8 61.4h0M294.3 66.1h0M284.9 68.5h0M287.1 66.4h0M291.2 78.8h0M292.5 69.8h0M293.9 57.3h0M298.2 62.5h0M294.2 62.1h0M287.1 67.2h0M301.5 74.9h0M289.0 68.0h0M286.2 69.8h0M289.1 75.1h0M285.2 67.7h0M287.8 65.0h0M295.6 70.9h0M294.9 78.3h0M297.7 60.4h0M294.7 57.7h0M291.7 81.2h0M291.0 67.4h0M292.9 70.1h0M292.1 64.7h0M297.4 76.2h0M290.9 72.2h0M295.3 77.2h0M294.0 74.9h0M290.7 62.5h0M289.5 77.1h0M296.9 71.0h0M289.2 72.2h0M300.3 79.5h0M288.6 69.7h0M284.7 62.1h0M292.9 70.2h0M296.8 78.9h0M296.2 79.2h0M289.3 62.1h0M294.5 81.2h0M293.8 61.9h0M293.2 80.0h0M286.8 75.6h0M288.9 78.9h0M295.9 72.1h0M302.0 67.1h0M288.6 80.8h0M287.6 81.1h0M291.8 62.7h0M292.0 70.9h0M293.0 68.7h0M297.4 53.8h0M289.2 68.2h0M301.1 56.1h0M290.3 62.0h0M288.7 74.5h0M294.1 80.1h0M289.0 71.9h0M297.9 76.3h0M290.3 77.9h0M287.4 80.7h0M292.8 69.2h0M293.4 75.9h0M300.7 69.0h0M290.2 74.1h0M287.6 58.1h0M296.2 67.3h0M297.6 62.8h0M284.9 72.0h0M292.8 81.2h0M294.6 72.2h0M294.9 67.4h0M292.4 60.5h0M294.6 64.4h0M289.8 74.9h0M296.6 62.9h0M302.0 65.9h0M296.2 76.7h0M293.1 71.2h0M301.0 76.2h0M294.2 57.2h0M288.3 78.1h0M293.0 63.3h0M288.8 67.9h0M295.4 72.7h0M297.0 64.3h0M296.9 66.5h0M290.5 80.6h0M292.4 69.0h0M290.9 67.3h0M299.8 79.6h0M295.6 71.3h0M297.2 69.5h0M294.3 72.8h0M292.4 81.2h0M300.8 79.3h0M284.9 80.7h0M295.5 66.8h0M291.9 78.0h0M297.9 76.0h0M292.7 70.3h0M296.2 69.4h0M287.5 65.6h0M291.3 72.3h0M303.3 60.4h0M294.4 69.4h0M293.5 79.5h0M298.2 68.9h0M289.2 60.5h0M291.6 78.7h0M290.7 74.9h0M295.5 72.8h0M297.4 69.2h0M287.9 61.8h0M296.6 67.5h0M290.4 75.8h0M288.1 81.2h0M295.3 66.3h0M288.8 77.6h0M286.1 65.5h0" stroke="#d00" stroke-opacity="0.5" stroke-width="0.8" stroke-linecap="square" fill="none"/>
<path d="M295.2 68.5h0M294.6 48.0h0M294.1 63.9h0M297.2 75.8h0M296.0 66.9h0M294.4 67.4h0M293.2 69.0h0M287.2 80.7h0M296.0 54.2h0M296.9 59.3h0M290.7 65.5h0M289.1 71.9h0M290.2 58.8h0M292.0 72.8h0M301.7 66.8h0M285.5 67.1h0M295.6 63.2h0M288.0 74.3h0M291.9 71.7h0M288.5 63.6h0M290.2 68.8h0M290.2 73.3h0M295.0 74.2h0M294.6 63.2h0M285.8 76.2h0M292.1 70.9h0M285.6 68.4h0M288.5 63.3h0M288.5 58.5h0M292.5 79.0h0M288.1 70.7h0M286.0 75.2h0M302.3 60.5h0M290.7 81.0h0M294.0 70.9h0M285.2 68.8h0M297.0 81.1h0M295.5 65.5h0M288.2 56.0h0M286.1 78.6h0M291.4 59.7h0M299.3 57.1h0M298.9 67.5h0M293.9 75.2h0M293.4 79.8h0M292.1 67.5h0M288.4 58.9h0M288.2 77.6h0M296.5 80.7h0M307.0 75.5h0M294.8 59.9h0M290.7 80.8h0M294.9 68.9h0" stroke="#fff" stroke-opacity="0.25" stroke-width="0.9" stroke-linecap="square" fill="none"/>
<path d="M296.7 64.5h0M310.3 55.6h0M297.1 77.3h0M298.8 70.7h0M300.9 70.7h0M308.6 55.7h0M308.5 69.0h0M299.5 70.4h0M301.7 71.8h0M300.8 67.6h0M305.6 71.1h0M308.7 64.6h0M290.3 67.4h0M304.1 70.8h0M296.5 69.4h0M296.6 68.3h0M293.2 63.1h0M299.8 54.2h0M294.4 69.9h0M303.1 59.0h0M295.3 68.8h0M301.6 70.3h0M300.7 65.4h0M297.7 62.6h0M308.7 61.4h0M303.6 66.0h0M294.2 71.9h0M301.4 74.1h0M299.4 74.4h0M306.6 64.8h0M297.5 71.6h0M296.3 76.7h0M295.9 64.8h0M296.0 66.4h0M301.3 68.3h0M303.1 74.5h0M305.0 58.3h0M285.2 75.9h0M292.6 75.5h0M296.0 76.0h0M305.3 65.2h0M307.5 71.3h0M295.7 70.0h0M306.2 65.1h0M297.4 72.7h0M302.9 61.0h0M294.6 59.4h0M298.0 63.0h0M297.2 61.9h0M293.8 65.6h0M296.8 74.9h0M288.5 65.1h0M298.3 58.6h0M297.5 59.5h0M295.8 67.7h0M304.2 75.2h0M303.3 61.5h0M310.5 71.4h0M295.5 71.8h0M307.8 66.0h0" stroke="#f53535" stroke-opacity="0.28" stroke-width="0.8" stroke-linecap="square" fill="none"/>
</g>
<g clip-path="url(#g1)">
<path d="M304.3 51.8h0M303.2 57.3h0M310.2 49.4h0M310.5 47.7h0M301.6 58.1h0M303.0 54.2h0M309.7 53.7h0M305.7 53.6h0M306.7 49.8h0M303.3 56.7h0M304.7 52.4h0M300.7 54.3h0M306.0 51.1h0M302.9 54.2h0M303.1 54.6h0M305.4 49.0h0M304.8 54.9h0M311.0 47.7h0M305.8 52.3h0M309.0 48.4h0M304.8 55.6h0M304.2 50.4h0M308.8 52.9h0M313.1 51.5h0M303.4 51.9h0M306.4 54.8h0M307.3 52.4h0M303.8 52.5h0M304.8 52.1h0M302.7 52.1h0M305.3 54.1h0M302.7 56.8h0M307.9 51.8h0M310.8 49.5h0M307.1 50.7h0M311.7 48.5h0M307.0 46.8h0M302.2 54.5h0M306.1 51.6h0M304.5 53.0h0M302.6 56.9h0M304.3 54.9h0M308.2 54.6h0M300.9 57.5h0" stroke="#7580f0" stroke-opacity="0.4" stroke-width="0.8" stroke-linecap="square" fill="none"/>
</g>
<line x1="284.2" y1="29.099999999999994" x2="284.2" y2="81.6" stroke="#808080" stroke-width="0.7"/>
<line x1="284.2" y1="81.6" x2="338.2" y2="81.6" stroke="#808080" stroke-width="0.7"/>
<line x1="283.0" y1="31.899999999999995" x2="284.2" y2="31.899999999999995" stroke="#777" stroke-width="0.5"/>
<text x="282.8" y="33.099999999999994" font-size="3.4" text-anchor="end" font-family='"Liberation Serif", serif' fill="#555">1<tspan font-size="2.4" dy="-1.1">1</tspan></text>
<line x1="283.0" y1="45.599999999999994" x2="284.2" y2="45.599999999999994" stroke="#777" stroke-width="0.5"/>
<text x="282.8" y="46.8" font-size="3.4" text-anchor="end" font-family='"Liberation Serif", serif' fill="#555">1<tspan font-size="2.4" dy="-1.1">2</tspan></text>
<line x1="283.0" y1="59.3" x2="284.2" y2="59.3" stroke="#777" stroke-width="0.5"/>
<text x="282.8" y="60.5" font-size="3.4" text-anchor="end" font-family='"Liberation Serif", serif' fill="#555">1<tspan font-size="2.4" dy="-1.1">3</tspan></text>
<line x1="283.0" y1="73.1" x2="284.2" y2="73.1" stroke="#777" stroke-width="0.5"/>
<text x="282.8" y="74.3" font-size="3.4" text-anchor="end" font-family='"Liberation Serif", serif' fill="#555">1<tspan font-size="2.4" dy="-1.1">4</tspan></text>
<line x1="293.2" y1="81.6" x2="293.2" y2="82.8" stroke="#777" stroke-width="0.5"/>
<text x="293.2" y="85.39999999999999" font-size="3.4" text-anchor="middle" font-family='"Liberation Serif", serif' fill="#555">1<tspan font-size="2.4" dy="-1.1">1</tspan></text>
<line x1="307.0" y1="81.6" x2="307.0" y2="82.8" stroke="#777" stroke-width="0.5"/>
<text x="307.0" y="85.39999999999999" font-size="3.4" text-anchor="middle" font-family='"Liberation Serif", serif' fill="#555">1<tspan font-size="2.4" dy="-1.1">2</tspan></text>
<line x1="320.8" y1="81.6" x2="320.8" y2="82.8" stroke="#777" stroke-width="0.5"/>
<text x="320.8" y="85.39999999999999" font-size="3.4" text-anchor="middle" font-family='"Liberation Serif", serif' fill="#555">1<tspan font-size="2.4" dy="-1.1">3</tspan></text>
<line x1="334.59999999999997" y1="81.6" x2="334.59999999999997" y2="82.8" stroke="#777" stroke-width="0.5"/>
<text x="334.59999999999997" y="85.39999999999999" font-size="3.4" text-anchor="middle" font-family='"Liberation Serif", serif' fill="#555">1<tspan font-size="2.4" dy="-1.1">4</tspan></text>
<rect x="297.4" y="45.1" width="21.7" height="14.2" fill="none" stroke="#767676" stroke-width="0.75"/>
<text x="305.6" y="43.1" font-size="5.6" font-family='"Liberation Serif", serif' font-weight="bold" fill="#111" textLength="11.6" lengthAdjust="spacingAndGlyphs">1.7%</text>
<clipPath id="c2"><rect x="341.90000000000003" y="29.099999999999994" width="53.7" height="52.2"/></clipPath>
<clipPath id="g2"><rect x="355.09999999999997" y="45.699999999999996" width="21.0" height="13.1"/></clipPath>
<g clip-path="url(#c2)">
<path d="M340 58 L350 60 L356 61.5 L361.5 64 L358 70 L353 76 L349.5 83 L340 83Z" fill="#f01010" fill-opacity="0.55" filter="url(#b1)"/>
<ellipse cx="351" cy="72.5" rx="5" ry="13" transform="rotate(40 351 72.5)" fill="url(#rg)" fill-opacity="0.90" filter="url(#b1)"/>
<path d="M360.7 66.4h0M351.0 72.0h0M353.2 61.2h0M346.9 65.7h0M343.6 65.1h0M346.4 69.0h0M344.5 74.0h0M346.3 48.6h0M355.0 68.3h0M345.3 72.9h0M350.1 71.4h0M344.7 72.3h0M342.4 81.1h0M342.7 69.6h0M349.1 72.5h0M347.8 74.4h0M342.6 69.4h0M347.6 67.1h0M356.0 63.3h0M347.9 55.8h0M349.7 58.7h0M341.9 80.5h0M351.9 70.0h0M349.2 59.9h0M343.0 73.1h0M342.5 72.0h0M342.4 70.9h0M342.7 80.6h0M353.5 66.4h0M342.6 64.5h0M348.1 63.0h0M349.8 77.1h0M348.1 67.0h0M352.3 68.0h0M352.7 67.8h0M356.5 68.1h0M343.0 70.8h0M345.1 63.4h0M347.7 75.4h0M342.0 69.8h0M347.6 69.1h0M352.4 60.8h0M351.7 68.5h0M348.9 68.6h0M346.7 66.4h0M350.5 80.6h0M353.8 76.3h0M351.3 66.8h0M351.5 80.7h0M342.0 76.2h0M353.6 72.3h0M352.5 80.2h0M359.8 79.7h0M357.0 72.8h0M352.8 71.7h0M350.1 67.2h0M352.1 80.8h0M347.9 72.4h0M351.9 70.7h0M353.5 72.5h0M342.8 63.4h0M352.4 75.1h0M354.4 72.5h0M349.8 59.6h0M355.9 64.2h0M354.1 62.7h0M345.5 71.9h0M346.7 65.8h0M353.4 75.6h0M350.8 68.4h0M344.7 67.4h0M346.2 70.6h0M352.7 69.6h0M344.9 66.5h0M355.3 72.0h0M350.1 72.8h0M351.9 71.9h0M354.8 76.6h0M342.1 70.0h0M363.8 61.9h0M349.6 78.5h0M349.0 80.4h0M342.6 62.2h0M348.0 65.8h0M343.6 75.0h0M350.3 71.1h0M347.0 72.8h0M348.4 65.9h0M351.6 73.6h0M349.4 75.9h0M343.5 70.0h0M346.4 80.3h0M351.5 80.7h0M356.9 68.4h0M343.5 74.4h0M347.6 69.9h0M343.7 75.2h0M349.9 73.8h0M350.6 64.7h0M342.4 69.1h0M345.8 67.3h0M353.8 70.3h0M356.5 72.3h0M352.4 74.6h0M353.0 62.2h0M354.5 71.8h0M344.1 75.3h0M350.7 80.0h0M352.7 73.6h0M342.1 80.7h0M356.4 76.4h0M351.3 79.5h0M344.7 75.9h0M349.1 64.0h0M350.8 73.5h0M357.5 77.6h0M342.0 57.3h0M348.6 69.5h0M344.3 60.8h0M348.0 62.9h0M345.5 77.0h0M350.2 65.7h0M343.4 69.7h0M357.7 67.4h0M357.7 65.5h0M347.9 75.9h0M345.1 71.4h0M342.2 75.6h0M354.8 66.4h0M349.9 68.1h0M342.4 81.0h0M352.1 76.8h0M350.9 72.2h0M360.9 58.2h0M347.4 68.1h0M348.0 75.9h0M345.4 61.7h0M343.4 74.2h0M353.8 76.7h0M357.0 67.4h0M354.0 75.8h0M348.2 65.7h0M353.4 66.2h0M347.5 64.2h0M357.7 70.6h0M346.5 69.3h0M347.9 71.6h0M342.1 62.9h0M351.5 78.6h0M343.9 71.8h0M346.1 55.1h0M347.4 63.4h0M353.4 69.5h0M348.8 60.7h0M349.7 57.4h0M350.1 80.6h0M342.9 77.0h0M356.0 69.6h0M354.6 71.6h0M346.5 56.9h0" stroke="#d00" stroke-opacity="0.5" stroke-width="0.8" stroke-linecap="square" fill="none"/>
<path d="M343.4 67.5h0M353.0 80.8h0M349.4 71.3h0M342.2 72.3h0M344.0 60.2h0M342.2 72.1h0M346.8 76.2h0M347.7 71.0h0M357.1 77.2h0M353.2 81.2h0M350.2 63.3h0M344.6 58.9h0M350.9 67.9h0M351.8 77.4h0M344.5 72.4h0M356.0 71.6h0M354.1 69.5h0M343.8 69.2h0M342.7 76.5h0M346.1 81.0h0M342.2 72.0h0M350.9 69.4h0M351.1 65.1h0M343.1 60.1h0M345.9 64.7h0M350.3 68.1h0M345.3 65.3h0M342.3 68.1h0M351.3 60.6h0M347.6 76.2h0M345.1 72.5h0M346.6 80.6h0M356.7 80.2h0M345.2 76.0h0M348.1 73.8h0M345.8 72.2h0M344.7 73.3h0M358.8 60.3h0M342.0 74.9h0M353.4 68.1h0M352.3 74.3h0M352.1 80.5h0M345.4 76.1h0M350.1 65.6h0M351.8 60.8h0M342.0 79.4h0M342.8 81.3h0M354.8 66.9h0M344.1 53.5h0M348.6 58.2h0M357.8 57.8h0M349.3 49.6h0M347.0 81.0h0" stroke="#fff" stroke-opacity="0.25" stroke-width="0.9" stroke-linecap="square" fill="none"/>
<path d="M354.8 75.4h0M361.6 58.5h0M353.6 71.6h0M362.4 69.7h0M356.1 69.6h0M355.5 66.4h0M357.8 74.4h0M360.7 64.9h0M360.4 66.8h0M355.6 69.4h0M357.3 69.0h0M361.0 68.8h0M357.3 69.8h0M357.5 65.0h0M366.5 64.9h0M352.2 73.8h0M363.5 64.9h0M358.9 62.3h0M356.1 62.3h0M349.6 80.7h0M355.3 71.0h0M353.9 67.1h0M359.0 60.6h0M351.9 68.6h0M371.2 53.8h0M358.9 61.6h0M354.5 71.5h0M360.4 64.5h0M360.4 63.9h0M363.3 59.3h0M359.2 64.2h0M358.4 72.2h0M360.2 64.2h0M357.3 68.5h0M364.4 65.3h0M371.1 60.7h0M356.6 66.1h0M359.9 62.7h0M352.4 71.2h0M363.2 65.1h0M361.3 64.2h0M363.7 57.7h0M350.7 71.3h0M359.0 63.6h0M355.6 68.1h0M360.3 65.4h0M359.0 66.4h0M360.8 67.4h0M348.8 68.3h0M362.3 58.9h0M347.6 74.4h0M359.9 66.0h0M358.2 60.8h0M360.9 67.2h0M358.5 69.5h0M354.7 70.5h0M357.1 59.9h0M352.4 69.0h0M359.5 71.2h0M361.2 63.1h0" stroke="#f53535" stroke-opacity="0.28" stroke-width="0.8" stroke-linecap="square" fill="none"/>
</g>
<g clip-path="url(#g2)">
<path d="M359.6 52.0h0M368.3 47.7h0M364.5 52.0h0M357.1 55.8h0M357.0 54.9h0M360.5 51.9h0M370.3 46.6h0M364.6 46.9h0M361.9 52.6h0M364.1 51.9h0M358.6 53.9h0M369.4 51.2h0M359.9 55.2h0M366.9 52.4h0M361.2 52.0h0M366.5 47.2h0M360.0 55.9h0M361.0 51.5h0M361.4 52.5h0M361.2 52.0h0M365.0 49.4h0M361.6 55.6h0M359.9 56.4h0M365.1 49.4h0M362.2 49.4h0M362.9 49.8h0M359.7 55.6h0M360.0 54.9h0M365.8 51.7h0M365.8 51.8h0M359.4 54.4h0M367.0 51.0h0M364.3 49.7h0M357.5 54.9h0M366.6 46.6h0M362.7 53.6h0M364.0 49.5h0M365.0 52.0h0M362.4 54.0h0M361.4 51.5h0M359.4 56.0h0M363.2 51.4h0M360.8 53.4h0" stroke="#7580f0" stroke-opacity="0.4" stroke-width="0.8" stroke-linecap="square" fill="none"/>
</g>
<line x1="341.6" y1="29.099999999999994" x2="341.6" y2="81.6" stroke="#808080" stroke-width="0.7"/>
<line x1="341.6" y1="81.6" x2="395.6" y2="81.6" stroke="#808080" stroke-width="0.7"/>
<line x1="340.40000000000003" y1="31.899999999999995" x2="341.6" y2="31.899999999999995" stroke="#777" stroke-width="0.5"/>
<text x="340.20000000000005" y="33.099999999999994" font-size="3.4" text-anchor="end" font-family='"Liberation Serif", serif' fill="#555">1<tspan font-size="2.4" dy="-1.1">1</tspan></text>
<line x1="340.40000000000003" y1="45.599999999999994" x2="341.6" y2="45.599999999999994" stroke="#777" stroke-width="0.5"/>
<text x="340.20000000000005" y="46.8" font-size="3.4" text-anchor="end" font-family='"Liberation Serif", serif' fill="#555">1<tspan font-size="2.4" dy="-1.1">2</tspan></text>
<line x1="340.40000000000003" y1="59.3" x2="341.6" y2="59.3" stroke="#777" stroke-width="0.5"/>
<text x="340.20000000000005" y="60.5" font-size="3.4" text-anchor="end" font-family='"Liberation Serif", serif' fill="#555">1<tspan font-size="2.4" dy="-1.1">3</tspan></text>
<line x1="340.40000000000003" y1="73.1" x2="341.6" y2="73.1" stroke="#777" stroke-width="0.5"/>
<text x="340.20000000000005" y="74.3" font-size="3.4" text-anchor="end" font-family='"Liberation Serif", serif' fill="#555">1<tspan font-size="2.4" dy="-1.1">4</tspan></text>
<line x1="350.6" y1="81.6" x2="350.6" y2="82.8" stroke="#777" stroke-width="0.5"/>
<text x="350.6" y="85.39999999999999" font-size="3.4" text-anchor="middle" font-family='"Liberation Serif", serif' fill="#555">1<tspan font-size="2.4" dy="-1.1">1</tspan></text>
<line x1="364.40000000000003" y1="81.6" x2="364.40000000000003" y2="82.8" stroke="#777" stroke-width="0.5"/>
<text x="364.40000000000003" y="85.39999999999999" font-size="3.4" text-anchor="middle" font-family='"Liberation Serif", serif' fill="#555">1<tspan font-size="2.4" dy="-1.1">2</tspan></text>
<line x1="378.20000000000005" y1="81.6" x2="378.20000000000005" y2="82.8" stroke="#777" stroke-width="0.5"/>
<text x="378.20000000000005" y="85.39999999999999" font-size="3.4" text-anchor="middle" font-family='"Liberation Serif", serif' fill="#555">1<tspan font-size="2.4" dy="-1.1">3</tspan></text>
<line x1="392.0" y1="81.6" x2="392.0" y2="82.8" stroke="#777" stroke-width="0.5"/>
<text x="392.0" y="85.39999999999999" font-size="3.4" text-anchor="middle" font-family='"Liberation Serif", serif' fill="#555">1<tspan font-size="2.4" dy="-1.1">4</tspan></text>
<rect x="354.7" y="45.3" width="21.8" height="13.9" fill="none" stroke="#767676" stroke-width="0.75"/>
<text x="363" y="43.1" font-size="5.6" font-family='"Liberation Serif", serif' font-weight="bold" fill="#111" textLength="12.5" lengthAdjust="spacingAndGlyphs">1.8%</text>
<clipPath id="c3"><rect x="404.1" y="29.099999999999994" width="53.7" height="52.2"/></clipPath>
<clipPath id="g3"><rect x="417.9" y="44.9" width="21.0" height="13.4"/></clipPath>
<g clip-path="url(#c3)">
<path d="M402 59.5 L412 59 L418 58.5 L423 60.5 L421 66 L418 72 L415 79 L413 83 L402 83Z" fill="#f01010" fill-opacity="0.55" filter="url(#b1)"/>
<ellipse cx="412.5" cy="69.5" rx="6" ry="12" transform="rotate(32 412.5 69.5)" fill="url(#rg)" fill-opacity="0.90" filter="url(#b1)"/>
<path d="M411.5 78.8h0M406.3 76.9h0M409.7 68.2h0M420.5 71.1h0M410.8 75.1h0M416.6 69.8h0M413.9 63.2h0M409.2 66.9h0M404.3 59.4h0M404.7 68.3h0M410.1 67.8h0M411.3 60.7h0M410.6 71.7h0M414.8 64.1h0M409.0 55.9h0M408.5 54.6h0M404.5 77.7h0M404.7 75.6h0M412.6 67.8h0M413.3 73.7h0M416.2 68.4h0M408.0 65.8h0M406.1 69.7h0M407.1 77.5h0M404.2 62.3h0M406.2 55.3h0M420.5 53.1h0M409.6 66.3h0M419.3 56.1h0M416.4 64.9h0M410.2 65.3h0M414.2 62.0h0M410.6 72.5h0M420.2 53.2h0M418.6 76.6h0M408.6 72.1h0M408.7 80.7h0M412.0 68.5h0M409.9 68.6h0M410.1 63.8h0M421.3 56.6h0M404.8 69.1h0M410.3 72.6h0M410.0 69.0h0M412.7 76.8h0M408.8 67.4h0M420.7 73.7h0M406.1 81.3h0M414.9 65.9h0M405.1 72.1h0M406.8 62.6h0M404.5 66.5h0M416.5 67.0h0M404.4 74.7h0M411.3 75.9h0M417.0 68.8h0M410.3 69.7h0M405.3 74.7h0M417.9 71.2h0M409.8 68.2h0M407.1 64.4h0M409.0 64.1h0M408.8 59.0h0M412.8 70.3h0M405.2 53.9h0M411.0 77.7h0M407.3 66.6h0M408.2 74.6h0M406.4 76.9h0M409.5 76.5h0M411.2 68.4h0M404.6 65.2h0M409.7 74.6h0M412.2 65.1h0M413.0 76.9h0M410.3 66.9h0M409.0 75.7h0M413.7 63.5h0M412.9 66.6h0M407.2 78.7h0M415.1 64.9h0M411.4 73.5h0M407.8 69.2h0M414.3 57.5h0M412.6 75.2h0M413.5 60.6h0M412.6 64.0h0M413.8 74.2h0M412.1 64.6h0M408.0 76.0h0M406.5 73.5h0M413.6 68.0h0M423.0 70.5h0M421.7 55.9h0M404.8 76.9h0M414.2 67.8h0M410.7 56.7h0M407.9 62.8h0M409.9 76.2h0M411.3 72.6h0M407.5 67.0h0M411.6 68.0h0M417.3 63.9h0M420.5 63.1h0M416.3 64.6h0M419.2 71.0h0M413.0 75.2h0M407.8 62.7h0M404.3 78.5h0M407.5 65.9h0M410.8 81.2h0M404.3 71.7h0M409.0 73.7h0M404.6 67.2h0M415.2 80.9h0M419.0 64.0h0M411.3 69.2h0M404.1 59.9h0M414.8 71.7h0M410.3 78.5h0M406.0 73.7h0M411.0 69.6h0M413.5 71.2h0M412.3 71.9h0M420.7 67.8h0M416.1 74.3h0M409.3 75.6h0M406.7 78.1h0M407.0 66.6h0M412.6 75.8h0M415.5 76.3h0M410.0 63.3h0M413.7 72.1h0M406.2 76.8h0M412.0 63.3h0M413.2 60.7h0M406.6 72.8h0M404.7 70.3h0M404.2 75.2h0M407.4 71.3h0M404.4 67.6h0M415.7 73.2h0M404.4 76.5h0M415.5 67.4h0M418.1 62.6h0M410.6 77.8h0M417.6 79.0h0M405.5 57.5h0M413.0 60.0h0M410.3 61.0h0M416.3 75.6h0M413.8 70.1h0M411.2 67.9h0M412.9 71.7h0M413.3 67.0h0M420.5 72.0h0M418.0 79.3h0M406.6 58.2h0M417.3 67.3h0M411.4 68.2h0" stroke="#d00" stroke-opacity="0.5" stroke-width="0.8" stroke-linecap="square" fill="none"/>
<path d="M406.9 74.3h0M409.0 71.6h0M404.6 70.0h0M404.6 76.7h0M415.5 80.0h0M411.3 58.5h0M404.7 69.1h0M404.7 57.1h0M412.5 72.8h0M410.9 52.8h0M405.1 69.1h0M410.3 65.2h0M410.6 75.1h0M406.9 66.6h0M411.9 81.1h0M415.4 68.1h0M409.4 62.4h0M415.4 61.9h0M410.6 75.4h0M417.2 71.3h0M408.5 73.2h0M407.9 75.2h0M411.5 65.8h0M417.3 69.5h0M406.0 65.0h0M416.2 57.7h0M405.1 66.9h0M409.0 55.1h0M404.7 77.3h0M417.0 67.9h0M411.5 75.6h0M409.3 58.7h0M421.4 66.1h0M411.2 75.0h0M410.8 75.0h0M407.9 55.4h0M414.4 66.5h0M414.2 65.0h0M404.9 75.8h0M413.1 71.7h0M413.3 64.5h0M406.5 78.0h0M410.7 69.2h0M408.0 77.1h0M407.2 70.5h0M404.6 60.2h0M405.7 76.1h0M414.2 74.2h0M409.6 66.8h0M420.1 59.0h0M421.7 80.5h0M404.3 79.4h0M411.2 63.6h0" stroke="#fff" stroke-opacity="0.25" stroke-width="0.9" stroke-linecap="square" fill="none"/>
<path d="M417.6 65.6h0M415.8 67.7h0M415.8 61.8h0M416.8 65.6h0M413.9 64.7h0M427.8 64.9h0M417.9 64.1h0M421.9 61.5h0M419.1 70.2h0M413.8 66.3h0M415.2 64.5h0M420.0 66.2h0M427.9 60.0h0M417.7 61.0h0M417.9 62.1h0M421.4 66.6h0M420.5 62.7h0M416.5 66.9h0M418.7 61.4h0M419.4 68.0h0M411.5 69.4h0M417.6 72.1h0M423.8 62.8h0M422.4 63.1h0M418.3 59.2h0M422.3 64.4h0M415.0 71.4h0M420.1 57.9h0M417.2 65.1h0M418.3 66.9h0M413.7 68.4h0M422.4 64.8h0M419.8 63.3h0M419.3 56.8h0M423.7 59.7h0M413.4 67.8h0M407.6 66.4h0M417.0 63.5h0M421.7 59.1h0M412.2 66.8h0M427.9 57.4h0M415.3 64.1h0M414.6 67.9h0M424.2 65.0h0M425.8 60.2h0M415.3 64.6h0M407.4 70.6h0M421.3 61.6h0M419.1 59.5h0M424.7 61.2h0M421.0 64.8h0M408.6 71.3h0M419.4 71.6h0M418.2 63.5h0M421.9 58.3h0M425.2 56.9h0M418.0 62.1h0M419.5 55.9h0M421.6 59.5h0M418.0 61.2h0" stroke="#f53535" stroke-opacity="0.28" stroke-width="0.8" stroke-linecap="square" fill="none"/>
</g>
<g clip-path="url(#g3)">
<path d="M427.5 51.3h0M429.6 50.0h0M430.7 50.9h0M422.4 51.8h0M425.2 55.3h0M425.0 50.2h0M433.4 51.2h0M423.8 51.3h0M422.4 57.0h0M422.3 53.9h0M429.8 49.1h0M426.0 50.6h0M422.7 55.0h0M427.6 52.3h0M423.7 54.7h0M428.7 50.1h0M430.4 51.1h0M427.2 51.3h0M421.1 56.7h0M425.1 51.9h0M422.2 56.5h0M427.0 52.3h0M422.8 54.7h0M421.6 53.8h0M427.6 51.4h0M424.4 51.2h0M426.1 49.1h0M429.8 48.1h0M427.0 53.2h0M427.5 47.6h0M425.1 53.7h0M425.5 52.2h0M428.5 50.3h0M427.0 51.8h0M434.2 46.8h0M428.5 49.0h0M432.0 46.9h0M427.5 45.5h0M427.2 50.8h0M425.0 56.0h0M428.1 50.0h0M425.4 57.2h0M430.9 49.8h0M423.4 57.3h0M428.7 49.2h0M423.4 49.9h0M428.2 47.5h0M430.1 47.7h0M423.0 55.3h0M425.8 49.3h0M426.3 53.3h0M423.0 51.0h0M423.5 51.5h0M422.9 54.6h0M425.5 51.9h0M424.4 52.2h0M429.2 54.4h0M429.2 47.5h0M424.4 55.4h0M431.6 48.8h0M428.3 49.8h0M423.3 53.6h0M433.8 47.7h0M426.5 52.4h0M432.0 50.3h0M425.2 52.4h0M431.0 54.7h0M428.9 53.0h0M422.4 54.5h0M427.4 51.8h0M426.7 50.4h0M432.1 52.3h0M432.0 48.8h0M430.0 53.5h0M418.9 55.1h0M424.3 48.2h0M423.1 57.1h0M423.7 54.2h0M428.4 47.2h0M426.7 49.9h0M419.7 56.2h0" stroke="#7580f0" stroke-opacity="0.45" stroke-width="0.8" stroke-linecap="square" fill="none"/>
<ellipse cx="426" cy="52" rx="6" ry="1.6" transform="rotate(-38 426 52)" fill="url(#bg)" fill-opacity="0.30" filter="url(#b1)"/>
</g>
<line x1="403.8" y1="29.099999999999994" x2="403.8" y2="81.6" stroke="#808080" stroke-width="0.7"/>
<line x1="403.8" y1="81.6" x2="457.8" y2="81.6" stroke="#808080" stroke-width="0.7"/>
<line x1="402.6" y1="31.899999999999995" x2="403.8" y2="31.899999999999995" stroke="#777" stroke-width="0.5"/>
<text x="402.40000000000003" y="33.099999999999994" font-size="3.4" text-anchor="end" font-family='"Liberation Serif", serif' fill="#555">1<tspan font-size="2.4" dy="-1.1">1</tspan></text>
<line x1="402.6" y1="45.599999999999994" x2="403.8" y2="45.599999999999994" stroke="#777" stroke-width="0.5"/>
<text x="402.40000000000003" y="46.8" font-size="3.4" text-anchor="end" font-family='"Liberation Serif", serif' fill="#555">1<tspan font-size="2.4" dy="-1.1">2</tspan></text>
<line x1="402.6" y1="59.3" x2="403.8" y2="59.3" stroke="#777" stroke-width="0.5"/>
<text x="402.40000000000003" y="60.5" font-size="3.4" text-anchor="end" font-family='"Liberation Serif", serif' fill="#555">1<tspan font-size="2.4" dy="-1.1">3</tspan></text>
<line x1="402.6" y1="73.1" x2="403.8" y2="73.1" stroke="#777" stroke-width="0.5"/>
<text x="402.40000000000003" y="74.3" font-size="3.4" text-anchor="end" font-family='"Liberation Serif", serif' fill="#555">1<tspan font-size="2.4" dy="-1.1">4</tspan></text>
<line x1="412.8" y1="81.6" x2="412.8" y2="82.8" stroke="#777" stroke-width="0.5"/>
<text x="412.8" y="85.39999999999999" font-size="3.4" text-anchor="middle" font-family='"Liberation Serif", serif' fill="#555">1<tspan font-size="2.4" dy="-1.1">1</tspan></text>
<line x1="426.6" y1="81.6" x2="426.6" y2="82.8" stroke="#777" stroke-width="0.5"/>
<text x="426.6" y="85.39999999999999" font-size="3.4" text-anchor="middle" font-family='"Liberation Serif", serif' fill="#555">1<tspan font-size="2.4" dy="-1.1">2</tspan></text>
<line x1="440.40000000000003" y1="81.6" x2="440.40000000000003" y2="82.8" stroke="#777" stroke-width="0.5"/>
<text x="440.40000000000003" y="85.39999999999999" font-size="3.4" text-anchor="middle" font-family='"Liberation Serif", serif' fill="#555">1<tspan font-size="2.4" dy="-1.1">3</tspan></text>
<line x1="454.2" y1="81.6" x2="454.2" y2="82.8" stroke="#777" stroke-width="0.5"/>
<text x="454.2" y="85.39999999999999" font-size="3.4" text-anchor="middle" font-family='"Liberation Serif", serif' fill="#555">1<tspan font-size="2.4" dy="-1.1">4</tspan></text>
<rect x="417.5" y="44.5" width="21.8" height="14.2" fill="none" stroke="#767676" stroke-width="0.75"/>
<text x="429" y="40.7" font-size="5.6" font-family='"Liberation Serif", serif' font-weight="bold" fill="#111" textLength="12.6" lengthAdjust="spacingAndGlyphs">2.7%</text>
<clipPath id="c4"><rect x="463.5" y="29.099999999999994" width="53.7" height="52.2"/></clipPath>
<clipPath id="g4"><rect x="477.9" y="43.6" width="21.3" height="13.1"/></clipPath>
<g clip-path="url(#c4)">
<path d="M462 64.5 L470 62.5 L478 60.3 L481 61 L480.5 66 L478.5 74 L476.5 83 L462 83Z" fill="#f01010" fill-opacity="0.55" filter="url(#b1)"/>
<ellipse cx="471.5" cy="71" rx="6.5" ry="11" transform="rotate(30 471.5 71)" fill="url(#rg)" fill-opacity="0.90" filter="url(#b1)"/>
<path d="M471.2 73.3h0M468.2 72.5h0M476.6 72.9h0M480.4 63.8h0M471.4 65.1h0M466.3 68.7h0M472.3 72.9h0M474.0 81.0h0M476.2 58.8h0M472.2 65.6h0M467.9 79.1h0M469.7 56.3h0M472.9 68.0h0M464.0 63.6h0M467.2 69.8h0M468.4 70.5h0M482.0 64.4h0M466.2 68.3h0M477.6 65.1h0M479.6 60.8h0M464.8 69.6h0M465.8 65.7h0M473.7 75.1h0M471.7 68.1h0M479.1 72.8h0M469.6 78.5h0M465.6 71.2h0M475.0 69.9h0M467.6 72.5h0M467.8 65.8h0M464.9 79.1h0M467.7 78.1h0M473.3 68.2h0M475.0 71.9h0M471.8 60.4h0M471.4 76.3h0M473.9 77.0h0M479.9 72.9h0M482.8 59.4h0M469.6 52.3h0M475.9 70.7h0M481.1 67.4h0M463.5 78.9h0M463.6 61.1h0M469.9 74.4h0M467.9 71.3h0M463.9 80.7h0M470.6 70.8h0M474.5 71.2h0M472.2 63.5h0M470.3 73.1h0M477.3 69.2h0M471.5 72.4h0M474.4 71.4h0M469.5 66.4h0M477.7 72.1h0M471.1 80.8h0M476.3 76.0h0M471.9 62.9h0M477.8 69.4h0M471.3 77.2h0M477.1 71.7h0M471.1 81.0h0M474.4 62.8h0M475.5 71.1h0M471.2 74.8h0M472.4 80.5h0M472.2 71.8h0M478.0 66.1h0M477.1 69.6h0M478.1 64.1h0M473.5 58.8h0M468.4 70.1h0M474.0 80.8h0M482.0 60.6h0M466.5 78.8h0M473.6 60.4h0M473.9 62.1h0M465.9 61.2h0M469.4 81.2h0M473.3 69.3h0M486.1 66.8h0M470.1 68.2h0M473.5 67.8h0M479.7 68.0h0M474.4 71.6h0M465.9 63.2h0M470.7 54.0h0M471.1 70.6h0M471.9 69.5h0M473.1 67.6h0M474.9 58.6h0M476.5 63.9h0M473.9 66.8h0M468.5 64.5h0M479.0 62.4h0M463.8 71.5h0M472.6 70.3h0M465.2 65.5h0M476.4 62.8h0M474.7 75.1h0M471.8 61.5h0M482.4 70.9h0M472.2 67.4h0M465.3 68.2h0M472.2 64.1h0M471.7 78.0h0M473.6 69.3h0M477.3 76.4h0M476.4 64.5h0M463.6 75.6h0M471.4 67.4h0M473.9 66.9h0M467.3 80.5h0M464.3 75.9h0M477.1 80.6h0M472.5 73.6h0M465.5 70.2h0M464.0 66.1h0M470.8 69.3h0M468.1 78.1h0M463.7 70.9h0M468.6 70.3h0M471.3 81.2h0M464.6 79.4h0M479.4 69.1h0M467.3 61.4h0M465.9 81.1h0M463.7 73.2h0M466.9 80.6h0M472.9 60.6h0M467.9 71.4h0M471.8 63.4h0M469.3 66.8h0M473.9 71.9h0M472.4 65.9h0M475.7 66.1h0M466.0 67.0h0M469.1 67.9h0M464.2 79.4h0M474.7 79.2h0M468.6 75.2h0M472.2 70.2h0M481.7 65.9h0M474.4 57.9h0M474.4 68.8h0M464.9 65.9h0M464.1 62.6h0M472.0 51.6h0M477.5 76.8h0M466.5 59.7h0M463.6 61.1h0M466.5 81.1h0M464.3 75.3h0M478.5 63.4h0M469.4 74.7h0M467.1 78.7h0M483.8 69.7h0M466.1 74.2h0M473.0 64.8h0" stroke="#d00" stroke-opacity="0.5" stroke-width="0.8" stroke-linecap="square" fill="none"/>
<path d="M466.1 80.6h0M477.0 80.8h0M467.5 61.2h0M476.0 68.5h0M467.2 69.3h0M472.4 71.1h0M469.6 73.6h0M490.1 79.0h0M467.6 80.8h0M467.8 58.1h0M463.5 54.3h0M478.6 61.5h0M464.1 65.6h0M469.6 60.4h0M467.2 69.9h0M475.2 62.7h0M474.6 71.9h0M474.6 65.8h0M463.5 77.4h0M474.8 64.8h0M465.8 75.3h0M484.3 72.8h0M487.6 72.3h0M473.2 73.7h0M478.1 58.3h0M471.9 79.7h0M463.9 71.8h0M475.9 81.2h0M481.3 69.7h0M484.7 61.4h0M463.8 80.3h0M475.4 61.1h0M478.2 76.7h0M475.8 66.5h0M464.2 56.9h0M469.5 68.8h0M467.6 65.6h0M477.1 61.2h0M466.0 80.7h0M466.8 65.0h0M478.0 56.0h0M481.7 60.1h0M465.4 60.0h0M464.6 64.2h0M477.1 69.4h0M480.1 76.0h0M464.2 70.1h0M466.9 66.6h0M471.8 72.8h0M473.8 53.5h0M469.9 66.4h0M483.2 68.1h0M470.7 70.0h0" stroke="#fff" stroke-opacity="0.25" stroke-width="0.9" stroke-linecap="square" fill="none"/>
<path d="M482.5 65.3h0M480.7 62.4h0M474.1 74.2h0M478.4 57.2h0M482.7 67.1h0M480.8 57.1h0M479.8 64.8h0M492.0 54.5h0M484.7 58.4h0M480.2 59.5h0M473.2 64.0h0M481.7 67.2h0M484.1 64.9h0M485.8 59.4h0M483.8 68.9h0M489.6 60.5h0M496.4 55.8h0M483.8 62.0h0M488.9 65.0h0M473.7 61.7h0M479.7 63.9h0M481.1 66.4h0M484.7 59.6h0M486.0 66.1h0M494.6 58.3h0M482.7 66.3h0M473.1 62.2h0M491.6 57.4h0M487.9 62.7h0M490.3 56.2h0M484.5 62.3h0M486.3 59.1h0M480.7 73.0h0M477.4 63.5h0M484.7 59.5h0M489.2 65.5h0M487.8 55.4h0M483.5 60.6h0M486.2 55.0h0M474.4 61.8h0M485.2 60.9h0M487.1 61.1h0M475.8 65.8h0M479.5 69.0h0M483.3 55.3h0M484.8 60.2h0M484.0 63.1h0M478.7 63.6h0M477.8 63.0h0M479.6 68.7h0M484.4 59.1h0M478.9 73.6h0M482.7 62.3h0M488.5 63.4h0M476.2 57.7h0M480.7 63.1h0M482.3 67.6h0M480.7 64.4h0M479.9 66.9h0M480.6 66.6h0" stroke="#f53535" stroke-opacity="0.28" stroke-width="0.8" stroke-linecap="square" fill="none"/>
</g>
<g clip-path="url(#g4)">
<ellipse cx="487.6" cy="50" rx="8" ry="2.8" transform="rotate(-36 487.6 50)" fill="url(#bg)" fill-opacity="1.00" filter="url(#b1)"/>
<path d="M488.4 49.8h0M487.4 46.9h0M486.2 51.5h0M487.4 52.7h0M490.4 46.5h0M492.1 46.3h0M491.1 50.1h0M482.6 52.0h0M487.3 49.8h0M481.9 55.6h0M488.6 49.8h0M489.6 50.1h0M484.8 52.7h0M485.6 50.5h0M485.5 54.1h0M490.1 47.6h0M486.2 53.2h0M483.8 52.2h0M488.8 48.1h0M485.8 51.5h0M490.6 46.0h0M489.7 48.4h0M485.0 49.1h0M495.0 45.8h0M488.4 48.8h0M493.3 44.5h0M483.0 51.8h0M487.8 50.5h0M480.2 56.0h0M489.8 50.7h0M487.9 52.9h0M487.6 52.1h0M492.4 46.6h0M490.6 44.6h0M491.8 47.9h0M491.7 48.1h0M489.9 47.5h0M488.1 48.4h0M488.2 49.6h0M490.8 47.7h0M483.4 52.8h0M493.0 47.7h0M483.7 50.3h0M482.6 53.4h0M486.7 49.9h0M485.9 51.7h0M493.8 47.6h0M486.8 52.3h0M488.0 52.4h0M492.7 48.3h0M497.4 45.1h0M492.7 49.3h0M483.4 52.4h0M487.3 52.1h0M486.7 48.2h0M484.6 51.8h0M485.5 50.6h0M482.2 54.3h0M482.3 53.1h0M485.0 51.3h0M492.9 45.3h0M483.7 47.7h0M484.5 52.8h0M487.3 51.9h0M487.4 51.9h0M489.8 50.7h0M487.5 52.0h0M485.1 50.3h0M490.8 44.9h0M485.8 54.8h0M488.8 50.0h0M488.6 49.3h0M495.5 44.4h0M493.3 45.9h0M484.8 51.5h0M490.5 53.3h0M485.8 52.3h0M482.3 55.1h0M487.6 50.9h0M487.6 49.1h0M488.0 49.8h0M491.7 46.9h0M485.9 48.6h0M491.0 47.2h0M485.4 54.2h0M491.3 47.3h0M486.6 48.0h0M482.5 55.1h0M486.6 51.3h0M486.0 52.1h0M490.9 47.9h0M491.4 48.9h0M485.4 48.1h0M489.5 47.4h0M481.8 50.4h0M495.9 46.8h0M489.2 46.0h0M482.6 55.0h0M490.4 46.1h0M479.7 52.5h0M487.7 51.8h0M495.8 45.0h0M482.5 51.4h0" stroke="#3a4af0" stroke-opacity="0.45" stroke-width="0.8" stroke-linecap="square" fill="none"/>
<path d="M489.1 51.3h0M484.5 55.4h0M486.3 46.7h0M485.8 48.2h0M493.2 48.7h0M489.4 54.7h0M484.5 56.0h0M484.9 45.3h0M483.7 50.3h0M483.5 51.3h0M484.0 50.7h0M490.6 45.4h0M487.1 48.2h0M481.9 52.8h0M490.2 48.6h0M483.3 51.0h0M487.7 48.6h0M483.5 51.4h0M492.3 46.7h0M487.8 47.3h0M495.9 44.3h0M484.1 56.6h0M492.3 44.8h0M484.6 50.8h0M488.4 51.1h0M490.5 45.2h0M480.4 47.7h0M484.8 53.8h0M489.8 52.8h0M486.0 52.1h0M482.2 46.9h0M483.6 49.0h0M491.3 48.6h0M493.1 49.7h0M490.4 45.1h0M482.1 52.8h0M482.9 51.1h0M494.9 44.9h0M488.2 47.5h0M479.8 51.4h0M496.6 50.8h0M484.8 51.7h0M487.3 51.7h0M484.7 52.5h0M481.7 53.7h0M495.6 50.6h0" stroke="#7580f0" stroke-opacity="0.35" stroke-width="0.8" stroke-linecap="square" fill="none"/>
</g>
<line x1="463.2" y1="29.099999999999994" x2="463.2" y2="81.6" stroke="#808080" stroke-width="0.7"/>
<line x1="463.2" y1="81.6" x2="517.2" y2="81.6" stroke="#808080" stroke-width="0.7"/>
<line x1="462.0" y1="31.899999999999995" x2="463.2" y2="31.899999999999995" stroke="#777" stroke-width="0.5"/>
<text x="461.8" y="33.099999999999994" font-size="3.4" text-anchor="end" font-family='"Liberation Serif", serif' fill="#555">1<tspan font-size="2.4" dy="-1.1">1</tspan></text>
<line x1="462.0" y1="45.599999999999994" x2="463.2" y2="45.599999999999994" stroke="#777" stroke-width="0.5"/>
<text x="461.8" y="46.8" font-size="3.4" text-anchor="end" font-family='"Liberation Serif", serif' fill="#555">1<tspan font-size="2.4" dy="-1.1">2</tspan></text>
<line x1="462.0" y1="59.3" x2="463.2" y2="59.3" stroke="#777" stroke-width="0.5"/>
<text x="461.8" y="60.5" font-size="3.4" text-anchor="end" font-family='"Liberation Serif", serif' fill="#555">1<tspan font-size="2.4" dy="-1.1">3</tspan></text>
<line x1="462.0" y1="73.1" x2="463.2" y2="73.1" stroke="#777" stroke-width="0.5"/>
<text x="461.8" y="74.3" font-size="3.4" text-anchor="end" font-family='"Liberation Serif", serif' fill="#555">1<tspan font-size="2.4" dy="-1.1">4</tspan></text>
<line x1="472.2" y1="81.6" x2="472.2" y2="82.8" stroke="#777" stroke-width="0.5"/>
<text x="472.2" y="85.39999999999999" font-size="3.4" text-anchor="middle" font-family='"Liberation Serif", serif' fill="#555">1<tspan font-size="2.4" dy="-1.1">1</tspan></text>
<line x1="486.0" y1="81.6" x2="486.0" y2="82.8" stroke="#777" stroke-width="0.5"/>
<text x="486.0" y="85.39999999999999" font-size="3.4" text-anchor="middle" font-family='"Liberation Serif", serif' fill="#555">1<tspan font-size="2.4" dy="-1.1">2</tspan></text>
<line x1="499.8" y1="81.6" x2="499.8" y2="82.8" stroke="#777" stroke-width="0.5"/>
<text x="499.8" y="85.39999999999999" font-size="3.4" text-anchor="middle" font-family='"Liberation Serif", serif' fill="#555">1<tspan font-size="2.4" dy="-1.1">3</tspan></text>
<line x1="513.6" y1="81.6" x2="513.6" y2="82.8" stroke="#777" stroke-width="0.5"/>
<text x="513.6" y="85.39999999999999" font-size="3.4" text-anchor="middle" font-family='"Liberation Serif", serif' fill="#555">1<tspan font-size="2.4" dy="-1.1">4</tspan></text>
<rect x="477.5" y="43.2" width="22.1" height="13.9" fill="none" stroke="#767676" stroke-width="0.75"/>
<text x="485.8" y="40.8" font-size="5.6" font-family='"Liberation Serif", serif' font-weight="bold" fill="#111" textLength="12.7" lengthAdjust="spacingAndGlyphs">6.9%</text>
<clipPath id="c5"><rect x="284.7" y="101.1" width="53.7" height="52.2"/></clipPath>
<clipPath id="g5"><rect x="301.0" y="115.30000000000001" width="20.0" height="16.5"/></clipPath>
<g clip-path="url(#c5)">
<ellipse cx="305.5" cy="143" rx="7" ry="5.5" transform="rotate(-10 305.5 143)" fill="url(#rg)" fill-opacity="0.38" filter="url(#b1)"/>
<path d="M300.4 140.4h0M306.8 135.7h0M303.8 136.4h0M309.8 142.9h0M310.4 140.6h0M306.9 141.9h0M302.8 143.9h0M300.5 142.8h0M308.2 142.7h0M305.1 149.8h0M305.4 141.2h0M305.8 141.3h0M303.9 142.2h0M313.2 141.7h0M306.5 144.9h0M313.0 141.0h0M304.4 150.8h0M299.8 142.9h0M309.2 149.4h0M300.6 136.4h0M307.7 141.0h0M304.3 144.6h0M306.5 143.7h0M304.5 147.1h0M311.2 142.1h0M304.2 145.5h0M306.8 139.6h0M304.3 146.4h0M305.0 142.1h0M306.3 142.8h0M304.5 137.3h0M312.2 142.4h0M302.7 146.5h0M306.7 142.8h0M310.7 149.0h0M308.4 147.4h0M313.1 138.5h0M303.9 145.7h0M298.9 143.3h0M310.9 145.2h0M306.7 137.0h0M314.7 143.1h0M308.7 144.0h0M298.2 139.9h0M301.9 149.5h0M302.2 142.8h0M304.8 144.9h0M307.5 143.5h0M299.1 134.5h0M306.3 143.7h0M310.1 141.9h0M303.4 144.6h0M299.1 140.9h0M301.8 144.5h0M313.8 143.9h0M310.0 142.9h0M306.3 141.5h0M303.2 135.9h0M300.3 140.0h0M309.0 144.4h0M310.6 146.9h0M304.9 146.3h0M312.9 141.7h0M309.5 141.8h0M299.4 144.4h0M302.4 143.9h0M303.9 144.3h0M298.5 150.6h0M310.5 141.0h0M302.1 143.6h0M308.3 143.8h0M306.0 136.9h0M301.9 147.8h0M305.6 138.3h0M301.4 139.3h0M302.2 147.2h0M305.3 146.5h0M305.4 138.3h0M304.2 150.4h0M302.0 140.3h0M310.3 142.4h0M306.3 147.5h0M298.9 145.5h0M300.7 139.5h0M303.0 147.1h0M304.0 137.5h0M302.0 148.4h0M308.9 139.0h0M314.7 140.2h0M300.8 143.4h0M310.0 147.3h0M309.3 141.0h0" stroke="#f41818" stroke-opacity="0.5" stroke-width="0.8" stroke-linecap="square" fill="none"/>
<path d="M302.3 138.6h0M304.8 141.1h0M305.8 138.6h0M302.8 140.5h0M299.7 140.0h0M300.5 139.8h0M308.0 142.9h0M300.2 145.7h0M307.6 147.6h0M304.6 142.4h0M302.7 143.9h0M307.7 143.2h0M304.8 145.1h0M306.0 143.8h0M301.7 144.4h0M300.8 140.9h0M307.4 149.9h0M309.7 142.3h0M305.3 146.4h0M312.1 146.0h0" stroke="#fff" stroke-opacity="0.25" stroke-width="0.9" stroke-linecap="square" fill="none"/>
<path d="M304.4 144.2h0M303.0 141.9h0M299.5 142.7h0M290.0 139.2h0M307.5 137.6h0M307.9 135.6h0M303.4 145.5h0M297.9 140.5h0M321.4 136.5h0M300.2 140.8h0M305.7 142.8h0M312.8 146.0h0M302.5 141.6h0M294.6 136.8h0M301.2 147.7h0M307.1 147.1h0M311.7 141.0h0M319.1 137.8h0M300.9 141.5h0M313.0 140.9h0M301.0 146.2h0M313.0 141.1h0M304.8 149.0h0M313.0 146.8h0M300.6 145.4h0M306.3 133.1h0M313.6 142.1h0M305.3 153.1h0M305.8 139.0h0M305.6 146.0h0M310.9 141.7h0M299.1 140.4h0M299.1 138.4h0M304.9 140.4h0M305.1 138.6h0M299.5 143.0h0M304.2 149.5h0M299.6 145.1h0M304.0 136.2h0M310.5 143.0h0M292.0 148.6h0M311.0 137.7h0M317.0 141.8h0M298.3 147.3h0M301.9 136.4h0M291.4 146.8h0M301.2 147.2h0M307.6 139.8h0M303.6 152.9h0M317.6 144.9h0M302.2 138.3h0M304.5 152.2h0M308.3 140.9h0M297.5 145.3h0M299.6 144.1h0M311.4 147.7h0M306.1 141.0h0M308.7 152.2h0M306.7 135.2h0M316.1 142.5h0M328.3 136.4h0M304.6 141.6h0M307.5 139.5h0M293.9 134.7h0M304.2 140.5h0M303.6 152.9h0M311.8 147.8h0M302.4 145.2h0M303.9 142.2h0M311.0 145.3h0M307.7 143.4h0M295.2 140.8h0M307.7 140.6h0M300.7 145.8h0M298.7 140.6h0M311.0 140.1h0M315.5 144.1h0M311.9 148.0h0M291.1 145.1h0M296.5 142.1h0" stroke="#f53535" stroke-opacity="0.26" stroke-width="0.8" stroke-linecap="square" fill="none"/>
<ellipse cx="300" cy="133" rx="5" ry="2.5" transform="rotate(-45 300 133)" fill="url(#rg)" fill-opacity="0.28" filter="url(#b1)"/>
<path d="M301.5 134.7h0M298.9 134.0h0M301.1 133.7h0M299.3 132.5h0M298.0 132.3h0M303.2 131.3h0M301.1 132.4h0M298.4 133.8h0M300.8 130.6h0M300.0 136.1h0M303.4 130.2h0M301.2 132.1h0M302.4 129.8h0M300.6 133.3h0M302.6 129.9h0M300.0 132.1h0M298.1 133.6h0M301.0 133.7h0M298.0 133.8h0M299.6 134.1h0M300.1 130.4h0M299.7 131.3h0M300.5 130.7h0M297.2 134.4h0M298.9 132.1h0M300.6 132.7h0M300.4 133.1h0M301.0 130.6h0M300.0 133.0h0M296.4 137.4h0M297.8 133.8h0M299.2 134.0h0M301.1 132.8h0M299.3 135.0h0M300.4 131.8h0M300.7 133.8h0M301.5 132.8h0M301.3 133.9h0M304.8 129.1h0M298.6 137.8h0M297.5 132.8h0M295.8 138.0h0M303.1 131.8h0M300.7 135.2h0M299.3 132.6h0M300.3 133.1h0M300.5 133.3h0M297.3 138.8h0M299.5 134.7h0M298.6 134.7h0M298.1 131.8h0M301.4 132.9h0M295.8 133.1h0M297.9 133.4h0M300.2 132.8h0M303.8 130.5h0M299.7 133.7h0M293.5 137.7h0M298.1 134.7h0M300.8 132.6h0M301.1 130.5h0M300.5 132.3h0M300.3 133.3h0M299.7 133.8h0M300.9 134.1h0M300.1 133.5h0M305.7 128.6h0M302.0 133.1h0M298.7 135.6h0" stroke="#f41818" stroke-opacity="0.5" stroke-width="0.8" stroke-linecap="square" fill="none"/>
<path d="M302.1 131.9h0M302.9 131.8h0M301.8 129.8h0M300.3 131.5h0M302.8 130.5h0M297.4 135.9h0M298.9 136.2h0M297.0 131.4h0M300.3 134.9h0M300.0 131.6h0M302.0 132.2h0M304.1 130.8h0M299.9 131.4h0M300.9 132.7h0M300.5 133.4h0" stroke="#fff" stroke-opacity="0.25" stroke-width="0.9" stroke-linecap="square" fill="none"/>
<path d="M297.0 137.9h0M300.6 133.6h0M299.2 132.8h0M302.2 133.5h0M299.5 134.6h0M298.1 136.3h0M297.9 130.8h0M302.4 127.6h0M298.1 130.5h0M295.3 139.9h0M291.9 134.2h0M296.7 131.1h0M302.4 136.7h0M299.3 134.9h0M302.3 131.5h0M302.1 135.9h0M300.3 133.9h0M298.2 130.5h0M301.2 132.0h0M303.3 132.0h0M302.1 124.6h0M297.4 134.1h0M297.8 136.6h0M300.0 133.5h0M293.0 136.8h0M299.0 132.5h0M297.8 134.8h0M297.3 132.2h0M304.4 126.3h0M303.2 131.8h0M302.3 128.8h0M297.4 137.0h0M296.9 128.2h0M290.4 140.8h0M298.3 133.8h0M299.8 130.0h0M310.3 125.7h0M304.8 129.1h0M293.5 140.3h0M298.9 135.6h0M300.7 134.5h0M296.5 135.3h0M298.8 131.7h0M299.5 135.5h0M306.0 126.3h0M300.8 128.4h0M299.0 135.1h0M300.2 129.4h0M302.2 131.3h0M305.9 130.2h0M301.2 130.5h0M299.4 130.7h0M294.2 132.7h0M293.6 135.2h0M299.8 133.5h0M295.4 137.3h0M302.9 133.2h0M300.0 133.7h0M300.3 135.8h0M295.2 138.6h0" stroke="#f53535" stroke-opacity="0.26" stroke-width="0.8" stroke-linecap="square" fill="none"/>
<ellipse cx="293.5" cy="140.5" rx="8.5" ry="9.5" transform="rotate(20 293.5 140.5)" fill="url(#rg)" fill-opacity="0.95" filter="url(#b1)"/>
<path d="M284.9 145.1h0M301.2 131.7h0M293.7 132.8h0M286.6 135.7h0M287.8 144.1h0M293.2 134.3h0M292.4 142.3h0M296.1 144.2h0M288.5 134.1h0M294.2 136.1h0M297.3 140.0h0M293.8 138.5h0M296.3 133.2h0M303.5 141.0h0M293.5 130.7h0M295.5 133.6h0M292.8 146.7h0M296.9 139.2h0M299.3 141.5h0M293.1 140.6h0M290.7 141.7h0M291.3 129.9h0M299.9 138.7h0M291.3 141.5h0M293.5 134.0h0M294.3 135.5h0M296.6 139.1h0M291.0 143.7h0M289.4 130.8h0M294.4 147.7h0M295.1 137.1h0M297.9 144.8h0M301.1 133.3h0M294.7 135.2h0M287.7 141.5h0M297.4 139.3h0M290.0 146.7h0M296.5 140.8h0M295.5 141.7h0M288.9 135.9h0M293.6 143.8h0M289.7 134.6h0M293.6 132.2h0M297.4 144.3h0M303.0 131.9h0M286.8 147.9h0M290.6 129.4h0M291.7 148.3h0M297.9 136.8h0M295.1 143.3h0M293.9 142.7h0M295.0 147.3h0M297.5 147.7h0M296.1 131.2h0M298.5 134.0h0M305.3 138.4h0M288.7 128.6h0M294.6 142.5h0M295.8 142.8h0M288.7 143.1h0M293.1 132.1h0M296.4 144.4h0M289.9 137.7h0M296.3 146.6h0M286.9 144.1h0M285.3 136.8h0M295.3 140.4h0M296.8 132.8h0M292.0 142.6h0M289.2 139.6h0M296.7 129.3h0M289.8 142.3h0M286.7 138.1h0M297.2 134.8h0M290.8 144.4h0M298.3 136.8h0M297.3 143.7h0M291.4 147.9h0M296.0 143.4h0M296.5 145.2h0M299.2 141.9h0M284.9 145.2h0M296.0 144.3h0M293.8 140.1h0M295.6 136.0h0M296.7 142.1h0M288.9 140.2h0M292.1 139.8h0M291.1 152.9h0M288.1 140.8h0M295.8 143.6h0M300.7 140.7h0M292.1 139.9h0M285.6 143.7h0M287.1 141.2h0M300.2 138.3h0M293.1 139.2h0M300.5 144.5h0M285.3 142.9h0M301.5 132.4h0M285.2 148.9h0M297.6 130.3h0M295.6 149.0h0M284.8 142.9h0M296.6 141.5h0M289.8 141.2h0M289.7 140.0h0M293.2 137.9h0M294.1 146.1h0M296.6 144.1h0M303.0 137.0h0M293.5 141.5h0M302.8 131.4h0M292.1 138.2h0M290.3 151.8h0M294.7 140.4h0M293.6 145.9h0M289.8 148.4h0M286.0 144.6h0M294.8 146.5h0M300.7 141.8h0M294.8 142.4h0M292.2 135.8h0M288.6 143.4h0M285.8 130.6h0M291.5 147.0h0M290.8 146.5h0M294.2 137.8h0M286.3 138.9h0M300.9 143.7h0M287.9 141.7h0M289.5 132.7h0M297.6 144.3h0M297.3 143.2h0M292.7 141.2h0M290.2 145.1h0M291.2 129.2h0M288.2 143.5h0M295.2 128.4h0M307.6 140.5h0M291.6 143.0h0M295.4 140.3h0M285.8 140.6h0M289.5 138.1h0M297.5 139.8h0M286.7 134.7h0M294.9 144.9h0M287.7 138.7h0M292.9 146.2h0M295.0 141.9h0M291.3 142.3h0M297.1 140.9h0M289.2 148.5h0M294.7 136.6h0M298.6 135.5h0M287.1 143.2h0M292.2 144.4h0M298.2 138.0h0M296.4 139.5h0M294.0 142.1h0M295.4 134.1h0M294.8 141.1h0M297.7 136.2h0M294.7 139.8h0M292.1 138.5h0M294.8 133.5h0M291.9 137.4h0M295.8 140.5h0M298.6 145.7h0M294.5 142.0h0M286.7 140.0h0M300.8 137.6h0M298.1 145.6h0M295.5 138.9h0M295.0 136.7h0M293.3 140.7h0M295.9 134.7h0M298.7 138.8h0M294.2 144.0h0M288.3 152.0h0M293.3 142.7h0M291.8 141.7h0M286.9 141.6h0M292.8 137.5h0M295.2 146.1h0M293.5 134.9h0M286.6 132.5h0M294.5 144.3h0M288.0 138.8h0M299.4 138.5h0M292.7 135.3h0M298.6 132.0h0M292.1 142.6h0M291.6 145.0h0M297.0 139.0h0M291.0 133.8h0M295.8 140.6h0M295.6 136.3h0M296.9 146.5h0M298.7 136.3h0M303.2 148.6h0M287.1 143.4h0M294.3 136.5h0M289.3 141.7h0M294.5 142.0h0M294.4 135.2h0M295.0 139.6h0M291.6 143.1h0M301.9 140.1h0M298.9 138.5h0M296.0 144.9h0M293.2 141.7h0M290.8 137.7h0M296.3 145.7h0M305.0 139.2h0M291.3 140.3h0M294.6 138.2h0M291.9 139.4h0M299.2 142.0h0M289.7 140.8h0M284.9 132.3h0M290.3 141.0h0M285.3 135.9h0M287.2 143.5h0M297.7 139.6h0M297.5 135.6h0M294.0 142.1h0M298.8 140.1h0M285.3 141.0h0M289.8 136.2h0" stroke="#f41818" stroke-opacity="0.5" stroke-width="0.8" stroke-linecap="square" fill="none"/>
<path d="M302.7 152.8h0M294.6 143.6h0M296.8 145.2h0M289.2 130.8h0M294.8 149.0h0M296.9 146.6h0M291.6 145.5h0M299.7 145.9h0M297.1 149.0h0M288.0 145.4h0M291.7 134.4h0M304.2 134.7h0M290.9 144.9h0M296.1 139.2h0M288.2 141.6h0M296.1 141.0h0M291.7 131.4h0M293.6 140.2h0M298.0 140.3h0M300.0 135.8h0M285.3 142.5h0M293.1 135.4h0M295.2 134.0h0M294.5 132.7h0M295.4 137.8h0M293.3 140.4h0M298.8 132.4h0M294.7 139.4h0M288.7 137.2h0M295.0 143.8h0M303.4 142.2h0M290.5 150.8h0M292.3 135.2h0M292.5 136.7h0M293.1 141.2h0M292.1 133.3h0M295.6 134.1h0M289.1 141.0h0M294.9 135.2h0M288.8 132.9h0M285.6 140.8h0M296.4 143.3h0M295.9 138.5h0M294.2 141.1h0M294.6 138.1h0M288.0 140.2h0M297.4 135.4h0M292.5 139.9h0M299.0 132.6h0M289.6 131.0h0" stroke="#fff" stroke-opacity="0.25" stroke-width="0.9" stroke-linecap="square" fill="none"/>
<path d="M303.2 133.3h0M308.3 148.4h0M298.7 142.0h0M298.7 145.9h0M297.6 147.4h0M296.9 145.3h0M301.5 143.6h0M285.0 152.2h0M288.8 142.5h0M310.8 140.9h0M293.5 134.3h0M284.8 143.4h0M291.6 141.0h0M285.5 139.9h0M294.0 122.8h0M293.0 125.5h0M310.2 131.0h0M298.7 132.8h0M291.3 127.8h0M305.7 134.7h0M288.2 140.7h0M288.7 145.2h0M292.9 125.3h0M293.3 151.5h0M299.9 135.1h0M299.7 150.1h0M289.4 143.1h0M292.9 141.4h0M295.6 149.4h0M294.0 141.3h0M285.3 127.3h0M299.3 135.2h0M296.8 139.9h0M293.7 141.5h0M301.6 148.1h0M297.4 131.0h0M299.4 132.7h0M304.6 138.1h0M289.4 137.7h0M285.0 141.9h0M297.9 135.9h0M285.3 152.9h0M300.3 148.1h0M291.1 152.8h0M291.5 137.4h0M295.7 131.5h0M285.2 153.3h0M297.3 133.7h0M293.2 136.0h0M290.5 138.9h0M288.1 122.0h0M292.7 138.1h0M285.3 136.6h0M288.8 140.7h0M288.7 149.1h0M301.8 149.7h0M291.2 147.6h0M297.5 146.4h0M300.3 139.6h0M297.6 147.0h0M297.0 140.4h0M288.9 144.3h0M293.1 130.6h0M302.3 152.6h0M285.3 149.9h0M285.5 140.2h0M297.8 144.5h0M289.8 146.5h0M300.7 132.9h0M285.3 146.9h0M302.4 133.5h0M285.1 140.4h0M289.8 132.7h0M289.2 141.2h0M285.1 141.7h0M288.2 147.2h0M287.9 130.7h0M294.2 150.1h0M294.2 138.0h0M300.1 153.1h0M296.5 139.6h0M300.7 149.7h0M286.7 151.7h0M301.0 145.5h0M294.7 148.3h0M293.8 129.9h0M307.0 130.7h0M286.8 125.4h0M294.1 150.5h0M285.1 149.6h0M301.5 152.8h0M285.1 148.0h0M312.9 139.6h0M284.7 146.9h0M297.5 141.9h0M298.3 126.8h0M286.9 140.1h0M294.3 149.6h0M301.8 139.5h0M288.9 152.2h0M285.5 141.5h0M286.8 140.3h0M305.9 148.9h0M292.4 134.1h0M285.0 136.9h0M285.1 134.2h0M297.3 133.8h0M284.7 148.4h0M296.6 153.1h0M301.0 146.4h0M288.4 150.3h0M298.1 144.1h0M307.2 144.3h0M291.7 150.3h0M297.0 142.8h0M293.0 152.6h0M289.2 145.6h0M296.3 143.4h0M306.1 144.6h0M309.0 137.4h0M297.0 134.6h0M294.3 147.4h0M297.1 144.2h0M295.4 130.2h0M299.8 143.3h0M307.1 130.2h0M296.9 126.3h0M303.8 137.8h0M284.9 145.2h0M292.3 142.6h0M289.6 149.7h0M294.9 143.7h0M290.7 148.7h0M302.9 141.0h0M304.4 130.9h0M289.4 134.4h0M286.6 143.2h0M288.1 124.4h0M297.6 134.2h0M293.8 141.6h0M289.9 135.7h0M299.8 143.1h0M292.1 146.4h0M291.9 129.0h0M286.2 153.1h0M291.4 153.1h0M298.1 150.9h0M294.9 126.0h0M285.3 136.3h0M288.9 128.2h0M296.8 144.7h0M284.9 139.4h0M301.0 152.1h0M285.7 146.6h0M285.2 133.0h0M286.6 149.6h0M287.5 129.7h0M288.9 146.0h0M285.2 138.9h0M292.3 136.0h0M285.4 140.8h0M293.4 144.6h0M295.2 140.3h0M287.1 138.3h0M298.9 144.0h0M294.9 149.3h0M296.8 139.6h0M285.1 148.5h0M292.8 138.9h0M291.8 147.6h0M302.0 137.2h0M289.6 150.0h0M289.0 139.4h0M291.7 126.6h0M285.0 138.6h0M303.6 120.3h0M292.4 138.2h0M284.9 136.0h0M285.0 149.7h0M284.7 146.6h0M288.0 129.1h0M306.3 138.4h0M295.2 126.6h0M290.5 152.6h0M292.3 137.7h0M295.9 134.5h0M284.8 137.7h0M296.4 125.5h0M284.8 138.1h0M285.0 141.0h0M300.3 142.5h0M296.8 118.3h0M302.1 152.1h0M291.2 129.9h0M303.1 125.5h0M296.0 150.2h0M287.9 128.6h0M308.1 141.4h0M295.8 138.2h0M285.3 143.4h0" stroke="#f53535" stroke-opacity="0.26" stroke-width="0.8" stroke-linecap="square" fill="none"/>
<path d="M304.7 135.0h0M296.0 145.5h0M288.1 130.6h0M305.0 145.4h0M295.3 143.0h0M297.0 133.9h0M285.1 143.7h0M285.3 133.1h0M286.1 152.6h0M316.4 143.2h0M295.3 138.3h0M294.2 152.8h0M292.6 123.6h0M296.4 137.1h0M292.1 147.4h0M314.4 127.4h0M313.5 152.8h0M288.0 135.4h0M305.2 142.7h0M285.1 136.7h0M287.0 152.7h0M287.5 139.2h0M297.3 131.4h0M291.9 140.0h0M298.6 152.7h0M287.2 130.4h0M289.1 126.1h0M286.5 136.9h0M297.5 139.8h0M303.4 144.3h0M311.0 138.9h0M292.2 143.6h0M291.5 147.7h0M300.9 153.1h0M292.3 138.4h0M314.1 147.7h0M288.7 134.5h0M295.3 135.3h0M314.0 124.4h0M294.4 135.5h0M285.0 145.7h0M290.3 134.6h0M296.4 141.2h0M289.7 137.2h0M284.8 144.4h0M305.5 131.9h0M297.1 133.3h0M315.0 132.2h0M284.7 140.0h0M287.8 152.8h0M286.0 153.0h0M308.2 120.1h0M295.4 134.5h0M293.3 150.9h0M308.7 130.6h0M305.0 140.0h0M292.6 142.6h0M297.9 148.7h0M290.5 143.1h0M284.9 149.5h0M284.7 129.4h0M298.3 137.1h0M299.3 135.3h0M301.4 151.9h0M296.3 125.6h0M284.7 140.2h0M290.1 140.6h0M296.9 142.3h0M320.0 143.1h0M304.8 135.4h0M289.1 141.8h0M298.3 127.7h0M306.0 152.8h0M298.8 136.8h0M289.2 139.6h0M290.0 131.5h0M293.5 145.3h0M286.8 131.4h0M285.0 139.0h0M285.0 141.6h0" stroke="#f53535" stroke-opacity="0.28" stroke-width="0.8" stroke-linecap="square" fill="none"/>
</g>
<g clip-path="url(#g5)">
<path d="M306.1 116.2h0M309.1 121.3h0M312.5 123.8h0M305.0 121.2h0M305.2 120.0h0M314.9 129.8h0M308.7 129.4h0M309.7 120.5h0M309.7 127.6h0M315.8 123.2h0M304.9 124.9h0M308.3 121.4h0M311.7 124.9h0M305.3 121.3h0M315.5 123.2h0M305.8 124.1h0M306.2 124.7h0M310.3 118.8h0M317.2 130.9h0M303.4 122.9h0M304.9 122.4h0M308.2 123.1h0M314.4 128.7h0M308.8 125.7h0M312.7 117.9h0M310.3 120.1h0M314.6 129.0h0M311.3 129.8h0M308.9 121.0h0M315.3 124.1h0M311.3 118.8h0M312.9 123.7h0M309.5 119.8h0M307.0 122.4h0M310.6 129.0h0M303.2 118.5h0M306.3 121.1h0M306.7 119.4h0" stroke="#7580f0" stroke-opacity="0.4" stroke-width="0.8" stroke-linecap="square" fill="none"/>
</g>
<line x1="284.4" y1="101.1" x2="284.4" y2="153.6" stroke="#808080" stroke-width="0.7"/>
<line x1="284.4" y1="153.6" x2="338.4" y2="153.6" stroke="#808080" stroke-width="0.7"/>
<line x1="283.2" y1="103.89999999999999" x2="284.4" y2="103.89999999999999" stroke="#777" stroke-width="0.5"/>
<text x="283.0" y="105.1" font-size="3.4" text-anchor="end" font-family='"Liberation Serif", serif' fill="#555">1<tspan font-size="2.4" dy="-1.1">1</tspan></text>
<line x1="283.2" y1="117.6" x2="284.4" y2="117.6" stroke="#777" stroke-width="0.5"/>
<text x="283.0" y="118.8" font-size="3.4" text-anchor="end" font-family='"Liberation Serif", serif' fill="#555">1<tspan font-size="2.4" dy="-1.1">2</tspan></text>
<line x1="283.2" y1="131.29999999999998" x2="284.4" y2="131.29999999999998" stroke="#777" stroke-width="0.5"/>
<text x="283.0" y="132.49999999999997" font-size="3.4" text-anchor="end" font-family='"Liberation Serif", serif' fill="#555">1<tspan font-size="2.4" dy="-1.1">3</tspan></text>
<line x1="283.2" y1="145.1" x2="284.4" y2="145.1" stroke="#777" stroke-width="0.5"/>
<text x="283.0" y="146.29999999999998" font-size="3.4" text-anchor="end" font-family='"Liberation Serif", serif' fill="#555">1<tspan font-size="2.4" dy="-1.1">4</tspan></text>
<line x1="293.4" y1="153.6" x2="293.4" y2="154.79999999999998" stroke="#777" stroke-width="0.5"/>
<text x="293.4" y="157.4" font-size="3.4" text-anchor="middle" font-family='"Liberation Serif", serif' fill="#555">1<tspan font-size="2.4" dy="-1.1">1</tspan></text>
<line x1="307.2" y1="153.6" x2="307.2" y2="154.79999999999998" stroke="#777" stroke-width="0.5"/>
<text x="307.2" y="157.4" font-size="3.4" text-anchor="middle" font-family='"Liberation Serif", serif' fill="#555">1<tspan font-size="2.4" dy="-1.1">2</tspan></text>
<line x1="321.0" y1="153.6" x2="321.0" y2="154.79999999999998" stroke="#777" stroke-width="0.5"/>
<text x="321.0" y="157.4" font-size="3.4" text-anchor="middle" font-family='"Liberation Serif", serif' fill="#555">1<tspan font-size="2.4" dy="-1.1">3</tspan></text>
<line x1="334.79999999999995" y1="153.6" x2="334.79999999999995" y2="154.79999999999998" stroke="#777" stroke-width="0.5"/>
<text x="334.79999999999995" y="157.4" font-size="3.4" text-anchor="middle" font-family='"Liberation Serif", serif' fill="#555">1<tspan font-size="2.4" dy="-1.1">4</tspan></text>
<rect x="300.6" y="114.9" width="20.8" height="17.3" fill="none" stroke="#767676" stroke-width="0.75"/>
<text x="312" y="113.2" font-size="5.6" font-family='"Liberation Serif", serif' font-weight="bold" fill="#111" textLength="12.5" lengthAdjust="spacingAndGlyphs">1.7%</text>
<clipPath id="c6"><rect x="342.40000000000003" y="101.1" width="53.7" height="52.2"/></clipPath>
<clipPath id="g6"><rect x="359.09999999999997" y="115.30000000000001" width="20.1" height="16.5"/></clipPath>
<g clip-path="url(#c6)">
<ellipse cx="364.5" cy="142" rx="7" ry="5.5" transform="rotate(-10 364.5 142)" fill="url(#rg)" fill-opacity="0.38" filter="url(#b1)"/>
<path d="M365.5 136.3h0M361.6 142.7h0M370.1 141.0h0M358.4 144.0h0M360.6 146.5h0M364.5 147.5h0M363.5 139.0h0M358.7 141.9h0M366.8 145.2h0M365.1 139.6h0M365.6 137.4h0M366.0 139.4h0M370.7 144.0h0M365.4 138.7h0M366.8 142.7h0M362.1 140.5h0M369.1 140.0h0M366.9 145.8h0M359.8 148.3h0M368.0 139.4h0M360.3 139.0h0M366.7 133.7h0M368.1 141.9h0M361.6 140.9h0M363.0 141.6h0M367.4 138.9h0M369.2 144.2h0M363.9 144.0h0M362.5 142.5h0M367.4 147.4h0M364.2 141.6h0M364.5 141.4h0M361.4 148.3h0M361.8 140.7h0M362.2 144.5h0M377.3 149.1h0M368.4 142.4h0M363.9 139.0h0M367.3 141.2h0M372.3 139.8h0M359.7 137.2h0M358.1 145.0h0M365.2 138.3h0M358.8 143.9h0M363.3 142.9h0M364.0 139.7h0M358.0 143.6h0M365.0 142.5h0M368.6 144.1h0M362.9 144.1h0M356.6 145.5h0M364.9 145.1h0M367.8 138.5h0M364.6 145.4h0M362.5 142.6h0M362.5 144.2h0M365.2 139.3h0M357.9 136.3h0M367.5 140.1h0M361.6 140.9h0M361.3 144.7h0M365.7 134.8h0M364.4 142.3h0M363.3 142.5h0M371.1 141.8h0M369.6 144.3h0M359.7 148.4h0M365.2 141.0h0M368.9 148.2h0M361.1 140.5h0M365.0 136.4h0M360.3 142.9h0M367.7 143.1h0M368.3 144.7h0M362.7 141.3h0M363.1 141.2h0M369.3 143.9h0M356.9 144.9h0M359.9 139.4h0M370.2 145.2h0M369.4 143.3h0M370.9 137.3h0M367.4 139.4h0M361.3 137.5h0M371.4 146.4h0M367.6 139.7h0M364.7 138.7h0M364.3 146.8h0M371.1 143.0h0M367.5 141.1h0M365.9 141.3h0M366.1 139.8h0" stroke="#f41818" stroke-opacity="0.5" stroke-width="0.8" stroke-linecap="square" fill="none"/>
<path d="M368.7 140.5h0M365.4 141.4h0M371.6 143.9h0M360.7 139.5h0M367.1 142.0h0M363.7 142.9h0M371.5 140.5h0M370.3 139.4h0M363.8 143.2h0M364.0 140.5h0M359.9 141.7h0M362.9 142.3h0M369.3 143.0h0M369.6 141.9h0M366.9 143.8h0M368.2 144.9h0M362.5 143.9h0M366.2 146.0h0M367.8 139.6h0M366.8 144.1h0" stroke="#fff" stroke-opacity="0.25" stroke-width="0.9" stroke-linecap="square" fill="none"/>
<path d="M366.2 148.6h0M365.3 135.2h0M367.4 145.8h0M360.0 146.7h0M348.2 153.0h0M354.9 141.2h0M361.2 135.1h0M365.8 137.0h0M353.6 131.6h0M370.3 147.4h0M363.0 143.5h0M375.6 142.3h0M373.2 146.0h0M370.1 144.0h0M372.8 141.9h0M364.9 138.2h0M350.1 139.8h0M363.5 147.9h0M360.6 132.2h0M370.4 147.8h0M367.1 143.3h0M366.6 141.5h0M373.3 136.2h0M358.4 135.4h0M360.8 139.1h0M360.6 143.9h0M370.5 133.8h0M364.9 138.3h0M359.9 140.6h0M365.8 133.3h0M374.7 139.9h0M358.5 134.7h0M372.5 144.6h0M370.8 141.9h0M377.8 148.3h0M379.4 141.5h0M370.8 139.1h0M365.3 140.4h0M365.2 142.5h0M365.0 142.1h0M365.5 139.8h0M359.7 140.6h0M369.8 145.2h0M374.2 153.2h0M358.8 147.8h0M355.5 140.7h0M359.4 143.4h0M374.9 148.6h0M367.9 146.8h0M366.5 135.2h0M375.3 137.0h0M361.2 142.4h0M357.7 139.9h0M368.9 136.2h0M358.8 133.9h0M352.5 146.0h0M367.2 139.7h0M375.2 134.9h0M367.5 137.7h0M364.9 144.8h0M356.9 150.9h0M364.1 142.5h0M363.9 144.2h0M355.4 137.3h0M366.9 140.6h0M362.3 144.3h0M374.1 134.9h0M348.1 143.3h0M353.1 142.9h0M358.3 143.5h0M377.0 139.4h0M352.5 138.3h0M356.3 135.8h0M367.9 142.6h0M372.2 145.2h0M363.3 139.2h0M361.3 142.5h0M358.7 134.5h0M381.5 146.7h0M362.4 140.0h0" stroke="#f53535" stroke-opacity="0.26" stroke-width="0.8" stroke-linecap="square" fill="none"/>
<ellipse cx="359" cy="133" rx="5" ry="2.5" transform="rotate(-45 359 133)" fill="url(#rg)" fill-opacity="0.28" filter="url(#b1)"/>
<path d="M356.3 131.5h0M360.1 133.0h0M354.9 134.3h0M357.8 132.1h0M361.9 131.8h0M356.1 136.9h0M355.5 135.2h0M361.4 130.1h0M359.9 131.3h0M363.0 129.0h0M365.7 127.5h0M358.4 133.8h0M360.1 135.0h0M357.9 135.9h0M363.1 131.1h0M357.7 136.9h0M361.9 132.4h0M357.2 135.1h0M361.5 130.8h0M359.1 132.1h0M358.8 133.3h0M364.0 127.8h0M357.0 133.0h0M360.1 132.3h0M356.4 132.3h0M362.7 129.0h0M357.9 134.7h0M357.0 134.5h0M354.6 136.3h0M354.6 139.0h0M358.6 132.8h0M357.5 131.6h0M358.8 133.1h0M359.9 130.6h0M357.7 134.0h0M359.4 132.7h0M360.2 133.4h0M359.7 132.9h0M357.1 131.9h0M359.5 131.5h0M357.4 132.1h0M363.4 130.7h0M358.7 134.3h0M362.8 133.2h0M360.3 133.6h0M357.0 134.5h0M358.2 133.1h0M357.2 135.9h0M356.1 134.0h0M360.0 134.7h0M361.0 130.6h0M355.3 133.8h0M359.7 133.8h0M360.5 131.2h0M357.7 135.1h0M361.4 130.5h0M359.6 131.7h0M359.9 134.9h0M359.1 135.5h0M358.2 133.8h0M361.3 132.1h0M357.7 134.1h0M359.0 133.1h0M359.7 134.0h0M357.8 135.8h0M359.6 129.9h0M358.1 132.3h0M355.9 136.2h0M359.7 131.4h0" stroke="#f41818" stroke-opacity="0.5" stroke-width="0.8" stroke-linecap="square" fill="none"/>
<path d="M359.7 132.3h0M354.5 137.1h0M362.6 132.4h0M354.7 134.0h0M359.5 131.9h0M358.8 132.1h0M361.3 132.2h0M358.2 133.8h0M359.4 133.9h0M360.0 132.7h0M360.6 131.6h0M358.9 135.0h0M356.6 132.6h0M357.2 134.9h0M357.5 133.6h0" stroke="#fff" stroke-opacity="0.25" stroke-width="0.9" stroke-linecap="square" fill="none"/>
<path d="M360.5 133.0h0M357.3 133.1h0M361.1 134.0h0M353.6 136.5h0M354.0 135.5h0M365.1 133.9h0M357.0 131.6h0M356.8 137.8h0M364.2 131.1h0M360.7 129.5h0M356.4 135.6h0M360.9 129.4h0M357.6 138.4h0M356.5 140.7h0M356.4 138.0h0M359.6 136.6h0M357.6 134.7h0M359.9 130.8h0M353.4 136.3h0M356.4 136.2h0M348.3 147.5h0M366.2 126.3h0M354.8 134.8h0M354.1 134.3h0M359.4 124.5h0M355.7 136.0h0M357.0 140.6h0M357.8 134.4h0M357.2 134.0h0M358.2 137.8h0M354.5 134.8h0M359.2 128.8h0M364.5 126.4h0M361.4 136.4h0M356.9 141.3h0M355.2 134.4h0M364.9 132.9h0M358.9 133.6h0M358.9 132.7h0M359.9 132.3h0M354.6 134.0h0M351.6 141.2h0M357.0 135.5h0M360.6 131.4h0M361.6 131.1h0M362.2 129.3h0M358.3 136.3h0M357.2 138.9h0M356.2 133.7h0M364.1 133.6h0M354.6 135.9h0M366.2 134.6h0M350.9 139.7h0M354.7 133.1h0M366.9 126.2h0M359.3 131.7h0M364.6 129.8h0M357.0 133.1h0M360.5 131.4h0M354.7 135.7h0" stroke="#f53535" stroke-opacity="0.26" stroke-width="0.8" stroke-linecap="square" fill="none"/>
<ellipse cx="352.5" cy="140.5" rx="8.5" ry="9.5" transform="rotate(20 352.5 140.5)" fill="url(#rg)" fill-opacity="0.95" filter="url(#b1)"/>
<path d="M347.0 145.7h0M344.4 141.0h0M352.8 139.9h0M348.0 145.0h0M348.5 146.2h0M354.4 141.7h0M349.5 139.1h0M351.9 145.8h0M348.6 134.6h0M349.5 135.6h0M342.9 141.6h0M361.5 134.8h0M359.6 140.2h0M352.0 148.5h0M350.3 144.3h0M351.3 140.9h0M349.4 140.7h0M351.1 145.9h0M355.3 133.5h0M347.1 146.7h0M348.1 141.8h0M348.7 141.6h0M355.2 153.2h0M348.7 134.5h0M349.8 135.4h0M352.3 139.9h0M356.6 144.7h0M351.8 140.4h0M351.9 144.9h0M361.4 141.6h0M356.3 143.2h0M350.3 142.1h0M344.0 152.9h0M356.2 139.7h0M353.9 138.1h0M351.8 138.5h0M350.6 134.0h0M358.4 142.4h0M356.0 139.6h0M351.2 137.4h0M361.7 150.5h0M356.3 142.7h0M350.2 143.1h0M359.4 135.7h0M346.8 143.2h0M353.8 139.3h0M350.6 130.8h0M349.6 135.3h0M351.4 143.5h0M352.8 145.3h0M347.8 148.2h0M352.9 143.1h0M355.8 135.9h0M356.4 148.7h0M356.2 143.2h0M346.9 142.2h0M349.1 152.0h0M349.9 137.1h0M351.1 135.8h0M347.9 136.0h0M349.1 150.5h0M358.7 149.9h0M346.9 141.5h0M355.3 145.7h0M347.4 145.3h0M352.5 138.1h0M359.2 148.2h0M351.7 148.3h0M354.7 131.7h0M358.7 143.0h0M353.5 139.6h0M361.4 144.3h0M352.8 132.4h0M355.6 134.1h0M352.3 143.5h0M358.7 143.5h0M350.3 124.9h0M351.6 143.3h0M342.8 145.8h0M349.6 150.9h0M349.9 132.3h0M356.3 148.5h0M344.9 143.1h0M355.6 143.0h0M349.9 137.8h0M350.7 139.2h0M349.7 147.4h0M342.4 150.3h0M348.9 142.7h0M345.9 142.7h0M343.1 151.2h0M352.0 147.4h0M355.9 138.6h0M350.9 146.5h0M360.3 134.6h0M359.0 136.0h0M359.3 148.9h0M352.7 141.4h0M351.7 140.2h0M355.0 142.4h0M356.2 141.4h0M362.2 133.4h0M352.0 142.9h0M351.3 147.8h0M352.6 135.9h0M353.5 138.8h0M356.4 142.7h0M350.8 130.8h0M362.8 140.3h0M358.9 141.4h0M350.9 140.7h0M345.3 132.7h0M355.6 135.5h0M350.1 132.2h0M359.6 142.8h0M345.6 130.4h0M352.6 140.5h0M356.4 140.9h0M356.2 141.9h0M352.6 140.9h0M355.5 136.5h0M356.0 147.6h0M352.2 145.3h0M348.4 141.7h0M353.4 137.2h0M356.2 136.1h0M348.3 141.1h0M356.0 139.7h0M348.8 141.4h0M352.9 141.5h0M352.1 131.1h0M348.8 144.6h0M353.6 139.2h0M348.5 148.0h0M351.2 144.2h0M349.3 138.5h0M352.8 142.1h0M360.8 142.5h0M351.7 143.0h0M347.4 137.8h0M357.2 140.1h0M355.7 149.6h0M353.4 144.2h0M350.6 150.9h0M357.1 141.0h0M349.9 133.2h0M343.9 140.3h0M347.0 146.8h0M352.9 143.3h0M353.1 143.6h0M356.0 140.8h0M352.3 139.7h0M359.6 136.3h0M350.6 125.4h0M359.2 144.8h0M357.2 151.3h0M356.2 142.1h0M348.4 137.0h0M353.6 138.9h0M353.3 140.1h0M360.8 140.7h0M353.9 141.2h0M353.4 142.5h0M353.0 144.0h0M347.7 137.8h0M347.3 152.9h0M349.3 135.6h0M357.6 135.6h0M360.7 136.0h0M344.0 146.2h0M352.1 139.5h0M346.8 145.8h0M353.0 132.5h0M356.4 133.0h0M356.1 139.4h0M362.2 137.6h0M354.9 137.6h0M347.7 132.1h0M355.3 138.4h0M357.3 144.0h0M356.1 145.1h0M353.5 142.8h0M358.6 137.4h0M356.7 144.7h0M349.3 145.2h0M356.6 130.2h0M353.1 140.9h0M355.1 139.9h0M357.7 135.5h0M348.3 135.1h0M343.6 143.2h0M356.3 140.7h0M350.9 145.8h0M347.0 143.6h0M356.7 140.2h0M356.3 140.0h0M345.3 144.6h0M351.8 129.4h0M350.7 136.8h0M354.9 137.4h0M356.2 142.5h0M353.3 140.6h0M358.9 136.2h0M351.5 133.6h0M352.1 146.4h0M360.9 143.4h0M347.4 141.4h0M348.0 141.3h0M349.5 142.2h0M353.6 140.3h0M354.1 147.2h0M358.6 135.8h0M354.1 146.1h0M361.7 142.8h0M348.9 152.9h0M355.1 141.4h0M355.2 138.6h0M356.3 143.4h0M359.9 142.0h0M352.9 150.5h0M347.0 147.7h0M347.0 136.3h0M346.2 138.3h0M346.9 131.0h0M343.9 137.7h0M350.7 139.6h0M348.1 131.5h0M347.5 141.3h0M351.1 136.9h0M351.3 146.5h0" stroke="#f41818" stroke-opacity="0.5" stroke-width="0.8" stroke-linecap="square" fill="none"/>
<path d="M345.9 134.4h0M357.6 137.9h0M352.2 135.9h0M352.0 146.9h0M350.0 144.7h0M351.2 133.6h0M353.3 147.9h0M356.2 141.6h0M353.4 135.5h0M354.3 127.8h0M362.2 142.6h0M347.0 150.0h0M356.5 149.5h0M350.8 125.6h0M343.0 144.9h0M350.4 140.0h0M355.5 140.0h0M350.3 132.4h0M351.6 132.4h0M360.3 140.4h0M357.5 144.9h0M361.8 140.3h0M346.1 140.9h0M356.0 131.1h0M355.8 143.1h0M351.7 140.8h0M350.8 133.1h0M348.9 147.2h0M358.1 141.4h0M352.4 146.7h0M352.3 137.1h0M350.9 133.0h0M358.0 142.9h0M358.2 143.8h0M351.8 143.3h0M345.1 142.0h0M359.6 146.0h0M346.1 143.1h0M348.0 136.5h0M353.4 142.1h0M343.1 153.0h0M351.6 138.4h0M349.1 135.1h0M350.4 148.9h0M366.6 137.5h0M343.9 134.3h0M356.8 139.2h0M349.4 139.4h0M358.4 129.5h0M353.2 135.4h0" stroke="#fff" stroke-opacity="0.25" stroke-width="0.9" stroke-linecap="square" fill="none"/>
<path d="M352.8 149.9h0M345.0 152.8h0M366.1 147.6h0M350.8 140.8h0M358.9 135.0h0M356.6 152.4h0M343.8 138.9h0M348.5 144.1h0M356.2 138.9h0M358.6 147.5h0M352.7 132.1h0M368.8 139.7h0M343.0 128.2h0M357.8 140.3h0M344.8 153.3h0M342.9 152.9h0M357.7 128.4h0M350.6 127.0h0M362.0 132.8h0M353.8 143.2h0M357.2 153.1h0M352.8 141.8h0M348.3 146.1h0M363.0 129.4h0M359.9 143.3h0M349.3 134.0h0M367.8 141.1h0M357.2 145.7h0M375.7 137.7h0M354.1 146.3h0M354.6 131.4h0M351.0 153.3h0M352.3 138.5h0M343.2 140.3h0M348.3 145.9h0M355.5 139.4h0M358.9 146.9h0M356.0 143.8h0M343.2 144.6h0M358.1 138.3h0M351.2 152.0h0M348.8 140.9h0M359.8 150.6h0M352.2 134.4h0M352.7 144.8h0M342.5 148.6h0M356.1 124.1h0M355.9 131.2h0M356.1 142.2h0M367.2 152.7h0M342.5 144.2h0M349.3 144.3h0M350.4 135.8h0M361.3 135.3h0M345.6 144.3h0M352.1 132.7h0M342.5 153.1h0M350.6 137.2h0M357.5 132.2h0M351.0 147.0h0M355.6 135.3h0M351.1 135.4h0M342.5 144.9h0M352.2 142.6h0M342.9 142.5h0M359.0 146.6h0M343.1 150.6h0M355.2 143.5h0M364.4 149.1h0M348.8 126.1h0M347.0 118.3h0M352.1 141.1h0M351.3 134.9h0M352.9 144.3h0M351.4 123.4h0M353.7 148.4h0M365.9 138.2h0M358.2 142.5h0M352.3 139.8h0M343.6 143.2h0M350.3 148.5h0M366.3 148.9h0M356.1 148.9h0M351.8 151.1h0M342.8 149.7h0M352.4 121.7h0M351.2 139.1h0M356.7 135.4h0M361.0 130.1h0M346.4 153.1h0M353.0 130.2h0M350.0 145.9h0M353.8 141.9h0M350.1 146.5h0M359.4 138.0h0M361.8 142.0h0M353.1 143.6h0M356.7 141.9h0M344.3 131.6h0M348.6 143.9h0M345.0 135.0h0M347.7 140.3h0M354.8 149.2h0M348.2 152.9h0M346.5 134.8h0M343.1 135.3h0M367.9 125.8h0M344.4 137.2h0M345.0 148.0h0M342.8 152.5h0M349.0 131.1h0M355.2 125.5h0M344.9 152.1h0M355.6 132.9h0M343.9 131.5h0M362.8 148.8h0M345.6 144.6h0M355.6 135.2h0M361.7 144.1h0M346.0 152.7h0M344.8 153.1h0M342.8 146.9h0M361.1 127.0h0M357.6 121.0h0M364.0 137.6h0M358.2 138.7h0M360.9 153.1h0M343.2 133.7h0M357.3 142.7h0M355.0 135.8h0M368.9 128.8h0M354.1 136.2h0M351.7 120.8h0M359.2 145.6h0M364.0 153.2h0M355.7 153.2h0M360.5 126.6h0M368.0 141.2h0M360.7 152.5h0M343.0 153.1h0M347.3 145.1h0M344.9 137.1h0M349.8 131.6h0M343.1 142.1h0M361.0 142.5h0M361.0 129.4h0M348.6 144.2h0M345.6 134.4h0M345.9 148.7h0M343.9 142.8h0M342.5 134.8h0M350.6 121.8h0M355.2 130.7h0M347.4 152.7h0M352.1 138.0h0M362.3 153.1h0M352.3 140.9h0M371.9 128.7h0M351.1 124.9h0M347.2 147.0h0M349.9 138.0h0M344.7 150.2h0M342.5 146.0h0M378.6 142.7h0M359.9 141.5h0M346.8 135.1h0M352.8 141.9h0M342.9 148.0h0M345.7 147.3h0M354.9 146.6h0M366.8 134.5h0M362.4 141.4h0M351.2 152.2h0M350.5 147.9h0M342.7 150.5h0M354.2 133.6h0M365.5 129.7h0M353.1 143.8h0M348.0 137.9h0M357.4 142.3h0M351.8 136.9h0M349.5 133.9h0M349.1 150.1h0M347.4 153.3h0M358.5 137.2h0M343.7 145.0h0M356.0 139.0h0M351.5 145.9h0M359.4 138.3h0M363.4 126.3h0M360.9 136.9h0M346.5 144.9h0M343.0 138.2h0M342.7 153.0h0M356.5 137.3h0M348.1 153.1h0M352.6 143.0h0M344.8 145.7h0M344.8 149.7h0M352.6 120.4h0" stroke="#f53535" stroke-opacity="0.26" stroke-width="0.8" stroke-linecap="square" fill="none"/>
<path d="M363.3 148.6h0M342.9 148.3h0M356.2 125.3h0M367.6 118.7h0M342.6 139.0h0M363.5 145.2h0M354.1 139.5h0M357.2 137.7h0M357.9 144.5h0M360.4 132.9h0M368.5 134.6h0M347.0 142.8h0M342.7 137.6h0M353.7 133.3h0M351.7 138.7h0M367.4 144.8h0M358.0 144.8h0M359.0 136.7h0M350.9 145.2h0M342.7 131.4h0M351.8 144.7h0M362.4 128.0h0M343.0 124.6h0M355.9 147.6h0M347.6 134.2h0M363.2 139.0h0M346.6 149.1h0M364.0 134.1h0M346.1 145.5h0M366.8 127.6h0M369.1 146.6h0M350.0 138.5h0M355.4 140.8h0M352.7 145.6h0M351.6 133.0h0M344.8 130.3h0M367.3 132.8h0M348.1 147.4h0M353.2 136.5h0M342.6 144.7h0M360.3 138.4h0M370.0 147.3h0M362.6 140.6h0M374.9 130.4h0M344.7 133.1h0M357.7 150.0h0M375.2 143.2h0M347.4 127.7h0M368.0 134.9h0M354.5 130.8h0M344.2 129.2h0M367.5 116.6h0M355.1 141.5h0M347.7 124.3h0M363.8 138.1h0M344.9 118.3h0M356.1 144.9h0M354.9 145.2h0M342.7 127.6h0M347.1 141.8h0M347.8 144.4h0M360.0 141.9h0M348.9 152.9h0M352.8 152.8h0M357.2 139.2h0M361.7 152.5h0M360.4 142.2h0M359.2 132.9h0M351.7 130.9h0M362.2 131.5h0M360.8 128.0h0M361.3 144.4h0M342.8 141.1h0M357.1 137.8h0M365.8 143.3h0M356.2 144.7h0M350.2 140.6h0M363.0 123.2h0M372.6 135.7h0M354.9 133.7h0" stroke="#f53535" stroke-opacity="0.28" stroke-width="0.8" stroke-linecap="square" fill="none"/>
</g>
<g clip-path="url(#g6)">
<path d="M368.0 123.5h0M370.1 124.6h0M366.4 124.7h0M364.3 120.5h0M366.9 120.2h0M365.5 126.1h0M371.7 121.5h0M371.2 128.9h0M366.3 121.7h0M369.7 120.9h0M367.0 121.8h0M365.5 123.5h0M366.5 125.7h0M373.2 123.7h0M367.1 123.8h0M364.7 117.1h0M374.6 119.1h0M365.9 121.6h0M369.3 128.8h0M370.1 124.3h0M375.1 129.5h0M364.5 122.5h0M365.9 119.2h0M362.6 126.8h0M363.5 120.1h0M370.6 121.8h0M367.8 127.0h0M367.3 126.6h0M365.9 119.8h0M370.5 121.2h0M360.1 121.1h0M359.6 116.9h0M369.0 124.2h0M363.8 121.9h0M359.7 122.9h0M366.8 121.5h0M371.6 127.3h0M363.9 125.9h0" stroke="#7580f0" stroke-opacity="0.4" stroke-width="0.8" stroke-linecap="square" fill="none"/>
</g>
<line x1="342.1" y1="101.1" x2="342.1" y2="153.6" stroke="#808080" stroke-width="0.7"/>
<line x1="342.1" y1="153.6" x2="396.1" y2="153.6" stroke="#808080" stroke-width="0.7"/>
<line x1="340.90000000000003" y1="103.89999999999999" x2="342.1" y2="103.89999999999999" stroke="#777" stroke-width="0.5"/>
<text x="340.70000000000005" y="105.1" font-size="3.4" text-anchor="end" font-family='"Liberation Serif", serif' fill="#555">1<tspan font-size="2.4" dy="-1.1">1</tspan></text>
<line x1="340.90000000000003" y1="117.6" x2="342.1" y2="117.6" stroke="#777" stroke-width="0.5"/>
<text x="340.70000000000005" y="118.8" font-size="3.4" text-anchor="end" font-family='"Liberation Serif", serif' fill="#555">1<tspan font-size="2.4" dy="-1.1">2</tspan></text>
<line x1="340.90000000000003" y1="131.29999999999998" x2="342.1" y2="131.29999999999998" stroke="#777" stroke-width="0.5"/>
<text x="340.70000000000005" y="132.49999999999997" font-size="3.4" text-anchor="end" font-family='"Liberation Serif", serif' fill="#555">1<tspan font-size="2.4" dy="-1.1">3</tspan></text>
<line x1="340.90000000000003" y1="145.1" x2="342.1" y2="145.1" stroke="#777" stroke-width="0.5"/>
<text x="340.70000000000005" y="146.29999999999998" font-size="3.4" text-anchor="end" font-family='"Liberation Serif", serif' fill="#555">1<tspan font-size="2.4" dy="-1.1">4</tspan></text>
<line x1="351.1" y1="153.6" x2="351.1" y2="154.79999999999998" stroke="#777" stroke-width="0.5"/>
<text x="351.1" y="157.4" font-size="3.4" text-anchor="middle" font-family='"Liberation Serif", serif' fill="#555">1<tspan font-size="2.4" dy="-1.1">1</tspan></text>
<line x1="364.90000000000003" y1="153.6" x2="364.90000000000003" y2="154.79999999999998" stroke="#777" stroke-width="0.5"/>
<text x="364.90000000000003" y="157.4" font-size="3.4" text-anchor="middle" font-family='"Liberation Serif", serif' fill="#555">1<tspan font-size="2.4" dy="-1.1">2</tspan></text>
<line x1="378.70000000000005" y1="153.6" x2="378.70000000000005" y2="154.79999999999998" stroke="#777" stroke-width="0.5"/>
<text x="378.70000000000005" y="157.4" font-size="3.4" text-anchor="middle" font-family='"Liberation Serif", serif' fill="#555">1<tspan font-size="2.4" dy="-1.1">3</tspan></text>
<line x1="392.5" y1="153.6" x2="392.5" y2="154.79999999999998" stroke="#777" stroke-width="0.5"/>
<text x="392.5" y="157.4" font-size="3.4" text-anchor="middle" font-family='"Liberation Serif", serif' fill="#555">1<tspan font-size="2.4" dy="-1.1">4</tspan></text>
<rect x="358.7" y="114.9" width="20.9" height="17.3" fill="none" stroke="#767676" stroke-width="0.75"/>
<text x="366" y="113.2" font-size="5.6" font-family='"Liberation Serif", serif' font-weight="bold" fill="#111" textLength="12.7" lengthAdjust="spacingAndGlyphs">1.5%</text>
<clipPath id="c7"><rect x="403.7" y="101.1" width="53.7" height="52.2"/></clipPath>
<clipPath id="g7"><rect x="420.0" y="114.80000000000001" width="20.8" height="16.5"/></clipPath>
<g clip-path="url(#c7)">
<ellipse cx="426" cy="142" rx="6.5" ry="5" transform="rotate(-10 426 142)" fill="url(#rg)" fill-opacity="0.38" filter="url(#b1)"/>
<path d="M425.3 143.5h0M425.1 141.3h0M422.6 142.0h0M430.1 142.5h0M429.8 142.0h0M427.5 142.3h0M420.5 145.4h0M428.0 143.0h0M419.2 138.3h0M422.6 141.3h0M427.1 141.7h0M427.5 139.9h0M427.3 142.9h0M424.5 147.1h0M428.5 144.9h0M423.5 140.4h0M424.7 141.9h0M428.3 142.3h0M424.0 139.7h0M424.8 145.6h0M423.3 143.2h0M426.8 137.7h0M426.8 145.5h0M418.8 142.4h0M425.2 139.9h0M427.7 141.5h0M421.2 145.2h0M428.8 144.1h0M431.2 142.1h0M425.8 138.4h0M427.9 140.0h0M423.8 138.9h0M422.3 141.2h0M429.6 135.7h0M421.0 143.6h0M431.4 142.7h0M418.1 136.4h0M426.9 139.8h0M422.5 145.3h0M430.0 141.7h0M427.1 143.0h0M431.9 142.7h0M428.1 143.2h0M421.1 146.4h0M429.6 142.8h0M418.7 141.5h0M428.1 136.6h0M425.8 144.9h0M422.2 147.2h0M427.9 141.3h0M427.5 143.6h0M427.0 145.0h0M423.5 141.3h0M429.7 141.4h0M423.4 145.1h0M430.9 139.9h0M421.1 142.5h0M425.3 141.3h0M430.5 138.3h0M429.8 137.8h0M423.5 144.2h0M430.4 143.6h0M427.3 142.2h0M426.8 143.5h0M425.5 142.9h0M428.0 141.6h0M429.0 143.1h0M433.2 141.6h0M424.3 141.3h0M426.4 144.5h0M425.0 143.3h0M431.2 133.9h0M422.2 143.4h0M427.5 142.4h0M424.8 144.0h0M426.7 140.4h0M434.7 141.5h0M424.0 142.1h0M425.2 142.0h0M416.2 142.4h0M429.0 138.2h0M426.2 144.6h0M429.7 145.5h0M419.8 142.1h0M425.1 143.9h0M428.6 134.1h0M429.1 137.4h0M427.7 137.5h0M427.2 145.1h0M425.6 142.6h0M428.9 141.9h0M426.4 146.2h0" stroke="#f41818" stroke-opacity="0.5" stroke-width="0.8" stroke-linecap="square" fill="none"/>
<path d="M429.9 140.4h0M435.9 136.8h0M429.4 140.6h0M426.9 144.0h0M427.2 143.7h0M419.3 138.6h0M427.9 138.7h0M421.3 138.4h0M431.3 143.3h0M431.2 138.2h0M425.4 138.6h0M429.8 146.2h0M423.4 147.2h0M429.7 140.8h0M419.2 147.5h0M425.3 140.3h0M427.7 142.9h0M431.2 138.0h0M431.1 145.6h0M431.5 140.5h0" stroke="#fff" stroke-opacity="0.25" stroke-width="0.9" stroke-linecap="square" fill="none"/>
<path d="M422.3 147.6h0M426.8 142.5h0M434.4 139.2h0M411.7 142.7h0M415.4 147.8h0M427.4 138.8h0M426.6 145.9h0M427.6 148.1h0M426.5 146.9h0M436.4 147.9h0M422.6 146.8h0M413.7 138.9h0M414.9 149.1h0M418.5 143.3h0M424.8 142.1h0M422.6 143.7h0M436.9 140.3h0M430.1 146.1h0M423.8 136.3h0M423.5 147.6h0M415.5 141.0h0M432.8 144.6h0M426.7 145.8h0M426.0 136.3h0M416.0 140.7h0M431.1 138.4h0M419.9 139.4h0M416.6 143.1h0M419.1 145.0h0M411.9 146.1h0M420.5 133.6h0M430.2 139.9h0M411.7 140.3h0M427.4 139.5h0M431.4 144.7h0M430.3 142.8h0M434.7 143.7h0M427.0 131.8h0M432.5 147.2h0M423.8 140.1h0M436.3 131.7h0M430.9 152.8h0M420.9 146.2h0M437.4 139.4h0M430.2 145.6h0M420.4 142.6h0M428.5 145.5h0M425.6 141.1h0M419.5 141.4h0M431.5 141.5h0M420.1 139.0h0M443.2 144.5h0M427.7 129.2h0M430.2 143.6h0M436.6 142.2h0M426.0 144.5h0M415.0 148.9h0M427.4 138.4h0M435.6 149.0h0M416.9 140.4h0M427.9 142.5h0M422.8 137.9h0M439.8 144.6h0M417.6 137.0h0M437.2 144.8h0M437.7 143.8h0M420.9 144.2h0M412.2 140.8h0M426.1 144.5h0M421.5 142.2h0M429.1 143.3h0M430.1 142.3h0M424.7 146.0h0M425.6 138.1h0M422.2 142.7h0M425.5 142.9h0M426.1 142.8h0M424.1 136.3h0M429.4 146.5h0M428.5 140.6h0" stroke="#f53535" stroke-opacity="0.26" stroke-width="0.8" stroke-linecap="square" fill="none"/>
<ellipse cx="419" cy="132.5" rx="5" ry="3" transform="rotate(-45 419 132.5)" fill="url(#rg)" fill-opacity="0.43" filter="url(#b1)"/>
<path d="M418.7 130.5h0M415.4 136.3h0M418.1 135.2h0M413.8 131.5h0M418.8 136.4h0M416.7 131.6h0M418.1 134.6h0M420.2 131.7h0M422.7 130.4h0M419.7 133.2h0M423.4 130.4h0M419.7 129.2h0M419.6 133.6h0M419.7 134.3h0M421.2 132.4h0M421.6 135.9h0M421.2 129.8h0M422.2 135.4h0M419.4 134.2h0M420.9 130.6h0M416.9 135.0h0M421.0 133.1h0M420.6 131.0h0M421.3 131.5h0M419.5 132.2h0M419.3 133.8h0M416.2 133.8h0M417.3 130.8h0M415.8 131.0h0M418.3 134.5h0M420.0 131.3h0M416.9 131.3h0M423.2 129.5h0M420.1 129.3h0M416.5 130.7h0M421.6 132.1h0M415.2 136.1h0M418.2 129.2h0M414.2 134.8h0M416.1 132.1h0M419.4 132.7h0M421.1 132.1h0M423.3 130.9h0M415.9 134.5h0M415.7 133.3h0M418.8 132.7h0M418.1 129.7h0M416.6 134.9h0M418.2 132.5h0M418.0 131.7h0M420.8 131.5h0M418.0 131.9h0M415.5 129.7h0M417.1 134.5h0M416.3 135.7h0M417.7 130.6h0M418.1 132.6h0M420.6 132.3h0M417.9 131.6h0M418.6 132.7h0M420.8 131.4h0M416.0 132.3h0M417.4 132.4h0M416.7 134.5h0M418.2 133.6h0M419.5 131.0h0M423.1 127.6h0M421.3 130.5h0M418.4 127.6h0M417.8 134.2h0M422.9 134.1h0M421.1 133.4h0M421.6 132.1h0M419.8 131.3h0M418.7 130.3h0M420.1 129.0h0M422.0 134.5h0M418.6 133.0h0M421.3 130.3h0M417.7 134.4h0M421.0 132.2h0M419.5 136.0h0M422.3 129.3h0M419.0 131.5h0M420.9 128.9h0M419.8 130.6h0M418.5 134.7h0M421.6 129.9h0M418.6 134.8h0M419.3 133.0h0M423.3 130.9h0M420.7 136.2h0M419.9 133.4h0M417.7 133.7h0M417.7 138.0h0M420.2 128.4h0M414.2 133.5h0M420.8 129.7h0M418.5 132.3h0M417.5 131.5h0M417.4 130.8h0M419.2 133.0h0M419.6 131.3h0" stroke="#f41818" stroke-opacity="0.5" stroke-width="0.8" stroke-linecap="square" fill="none"/>
<path d="M417.3 134.6h0M420.0 135.5h0M420.5 130.7h0M417.1 132.6h0M416.6 134.0h0M420.3 132.5h0M422.9 134.0h0M417.5 134.0h0M422.6 124.2h0M418.1 133.8h0M419.8 132.7h0M419.0 133.5h0M420.1 133.4h0M413.9 135.4h0M417.7 131.2h0M417.6 135.5h0M418.4 134.7h0M421.0 131.3h0M419.9 131.3h0M416.0 135.5h0M419.3 130.9h0M419.7 133.7h0" stroke="#fff" stroke-opacity="0.25" stroke-width="0.9" stroke-linecap="square" fill="none"/>
<path d="M417.3 136.7h0M424.1 125.1h0M419.2 131.7h0M424.8 128.0h0M420.6 128.1h0M418.9 132.5h0M415.9 141.4h0M418.5 126.0h0M421.2 129.7h0M421.2 131.7h0M413.5 137.1h0M422.9 126.3h0M412.8 133.2h0M415.6 137.3h0M425.6 127.7h0M424.3 136.2h0M415.9 132.9h0M421.9 131.8h0M413.2 133.6h0M420.5 132.0h0M414.2 136.5h0M418.1 135.2h0M418.4 132.7h0M419.9 135.8h0M422.9 127.1h0M420.3 128.1h0M420.8 133.8h0M423.3 126.6h0M419.1 133.1h0M414.0 137.6h0M417.5 135.5h0M411.2 132.3h0M419.7 132.9h0M418.9 136.1h0M416.9 132.2h0M417.4 127.7h0M416.7 134.7h0M421.5 129.3h0M418.7 130.1h0M423.4 134.8h0M421.5 139.6h0M416.9 134.7h0M421.6 134.0h0M410.6 132.4h0M422.6 132.1h0M426.4 135.7h0M420.2 132.3h0M422.9 130.1h0M422.1 124.4h0M410.8 126.8h0M421.0 129.0h0M426.4 133.7h0M418.5 132.0h0M415.6 132.5h0M418.2 135.9h0M419.3 132.5h0M420.3 134.9h0M420.4 130.6h0M420.9 130.0h0M418.1 139.3h0M418.6 129.0h0M423.3 129.6h0M417.0 141.0h0M421.9 133.2h0M419.4 131.5h0M415.8 139.7h0M418.5 131.8h0M420.3 131.5h0M420.5 129.5h0M414.6 128.3h0M418.9 135.3h0M422.8 127.3h0M421.8 136.1h0M419.4 135.1h0M424.7 126.9h0M421.7 126.9h0M419.5 131.6h0M421.7 134.4h0M425.7 123.1h0M418.1 135.4h0M416.5 137.0h0M420.4 130.0h0M417.7 127.6h0M418.4 126.8h0M415.5 133.7h0M419.4 135.6h0M418.5 131.4h0M424.0 133.9h0M419.8 133.2h0M423.7 128.9h0" stroke="#f53535" stroke-opacity="0.26" stroke-width="0.8" stroke-linecap="square" fill="none"/>
<ellipse cx="412.5" cy="140.5" rx="9" ry="10" transform="rotate(30 412.5 140.5)" fill="url(#rg)" fill-opacity="0.95" filter="url(#b1)"/>
<path d="M404.4 149.2h0M427.4 136.5h0M411.2 142.4h0M414.8 146.1h0M414.2 134.8h0M410.1 145.7h0M410.7 132.9h0M417.7 131.2h0M412.6 137.8h0M416.4 138.3h0M409.8 136.4h0M414.1 137.2h0M410.5 144.1h0M412.9 151.6h0M410.3 136.6h0M404.1 143.4h0M409.5 138.5h0M418.5 135.3h0M414.6 141.5h0M403.9 137.4h0M422.8 134.6h0M415.4 143.5h0M413.3 143.8h0M418.7 142.7h0M417.4 140.7h0M417.9 138.4h0M407.3 148.5h0M414.8 140.8h0M409.8 133.9h0M410.7 145.5h0M412.9 144.1h0M408.6 146.8h0M412.3 136.9h0M416.1 143.0h0M412.9 137.1h0M409.7 142.8h0M417.3 135.6h0M413.8 142.4h0M406.1 141.7h0M412.2 138.2h0M412.3 148.8h0M408.3 140.9h0M404.0 149.4h0M407.1 145.0h0M407.5 142.8h0M429.0 133.9h0M409.3 141.8h0M413.9 137.1h0M421.5 146.2h0M404.4 140.5h0M403.9 141.7h0M409.6 139.8h0M417.6 144.2h0M411.2 129.0h0M415.5 147.0h0M406.6 142.6h0M412.8 144.8h0M404.1 133.5h0M414.3 146.2h0M423.0 131.0h0M411.9 143.3h0M426.1 142.3h0M411.0 139.9h0M417.5 140.6h0M419.6 139.6h0M415.1 138.6h0M415.1 137.6h0M404.1 141.8h0M415.3 138.6h0M410.6 145.7h0M408.6 137.6h0M413.4 144.3h0M416.9 129.6h0M416.9 145.1h0M413.3 139.2h0M414.8 139.1h0M410.1 134.4h0M411.6 136.1h0M405.8 140.7h0M405.1 140.4h0M407.2 139.7h0M417.8 144.9h0M409.2 138.9h0M417.9 132.6h0M409.4 139.8h0M410.3 139.7h0M413.5 146.0h0M414.8 145.5h0M411.3 139.7h0M412.2 138.3h0M416.5 131.8h0M411.1 139.6h0M408.4 138.0h0M415.2 141.0h0M428.6 133.2h0M416.6 131.3h0M409.4 152.7h0M404.3 134.9h0M415.6 140.3h0M421.0 131.2h0M415.1 144.4h0M414.2 137.8h0M416.6 139.8h0M414.9 138.6h0M404.2 134.8h0M411.3 144.6h0M408.8 138.2h0M414.7 142.7h0M412.3 153.1h0M413.9 129.1h0M412.0 149.9h0M414.2 146.7h0M411.8 135.6h0M418.8 138.4h0M407.5 131.3h0M417.9 153.0h0M411.6 135.3h0M415.6 137.5h0M418.3 143.4h0M404.2 144.0h0M409.4 140.1h0M413.3 139.0h0M415.8 138.0h0M410.7 125.4h0M409.2 133.8h0M412.2 140.7h0M414.6 142.4h0M411.0 135.2h0M403.9 134.5h0M413.1 144.2h0M412.5 139.4h0M416.5 142.9h0M414.1 145.1h0M409.8 147.3h0M411.0 137.4h0M411.2 134.7h0M414.3 152.7h0M411.0 143.3h0M415.3 147.3h0M421.1 137.5h0M408.5 141.1h0M418.4 144.5h0M409.8 136.7h0M412.0 134.8h0M420.7 141.2h0M406.6 150.9h0M416.7 145.0h0M408.7 140.9h0M417.7 147.5h0M417.6 144.1h0M415.3 140.8h0M410.8 147.8h0M406.5 136.7h0M415.1 138.4h0M409.0 143.5h0M419.3 148.5h0M418.2 133.9h0M420.6 145.6h0M415.4 135.1h0M415.3 135.1h0M411.5 142.9h0M411.9 141.9h0M404.9 145.2h0M414.7 130.2h0M413.8 136.4h0M409.1 136.3h0M417.0 135.6h0M408.0 147.0h0M415.8 141.5h0M413.4 140.2h0M410.3 143.9h0M418.7 128.8h0M414.9 136.2h0M417.0 139.2h0M407.1 151.2h0M411.1 132.6h0M413.0 125.6h0M404.0 137.6h0M414.9 130.0h0M404.4 139.8h0M410.2 136.8h0M410.2 147.8h0M418.0 150.2h0M412.6 141.7h0M416.3 151.8h0M409.9 141.9h0M413.6 141.5h0M414.0 132.9h0M414.5 131.8h0M416.3 146.1h0M403.8 144.2h0M421.6 133.6h0M418.2 148.9h0M424.7 139.7h0M413.6 143.8h0M412.9 141.8h0M421.1 136.0h0M411.0 130.8h0M411.8 136.2h0M413.3 142.7h0M414.5 137.4h0M408.0 143.9h0M415.5 142.9h0M406.8 147.1h0M408.2 142.1h0M418.2 142.1h0M419.1 137.2h0M416.3 144.0h0M403.9 139.8h0M405.1 144.4h0M410.0 138.0h0M414.6 139.6h0M415.1 138.5h0M415.4 142.2h0M421.0 127.9h0M417.4 143.5h0M404.6 136.5h0M411.6 146.8h0M404.4 145.2h0M405.2 151.5h0M410.0 143.4h0M414.0 134.3h0M414.7 147.5h0M416.7 148.4h0M414.6 131.2h0M411.6 135.7h0M407.4 141.3h0M414.6 140.0h0M413.6 140.2h0M411.3 144.6h0" stroke="#f41818" stroke-opacity="0.5" stroke-width="0.8" stroke-linecap="square" fill="none"/>
<path d="M412.7 130.9h0M412.1 146.8h0M417.3 134.3h0M413.8 146.7h0M416.5 139.5h0M411.5 145.4h0M415.4 129.4h0M412.6 143.9h0M409.9 145.2h0M410.0 138.5h0M409.4 142.6h0M420.7 143.5h0M417.5 153.0h0M414.4 145.7h0M421.3 144.3h0M415.2 134.7h0M410.7 148.8h0M413.7 144.1h0M411.1 140.8h0M404.3 142.1h0M413.9 133.7h0M411.5 134.2h0M413.3 148.3h0M403.8 141.6h0M418.4 139.9h0M407.8 132.6h0M408.5 140.6h0M416.9 129.0h0M418.2 133.2h0M420.4 136.7h0M411.8 134.2h0M406.1 145.8h0M414.7 145.9h0M418.6 133.3h0M411.7 136.2h0M406.4 140.5h0M411.2 134.8h0M413.8 127.0h0M411.3 149.0h0M416.2 135.9h0M404.5 134.1h0M417.3 145.3h0M412.4 150.7h0M419.1 141.2h0M415.1 147.4h0M406.5 134.2h0M406.2 136.1h0M418.4 136.5h0M404.0 141.7h0M409.8 149.2h0" stroke="#fff" stroke-opacity="0.25" stroke-width="0.9" stroke-linecap="square" fill="none"/>
<path d="M416.7 146.0h0M411.1 140.7h0M404.0 140.8h0M414.5 132.0h0M408.6 146.0h0M422.8 120.5h0M407.9 136.6h0M419.3 134.1h0M411.0 145.2h0M423.3 127.0h0M411.0 130.4h0M408.9 135.4h0M420.2 142.7h0M410.4 123.8h0M420.7 134.0h0M404.2 149.0h0M416.0 153.1h0M403.8 148.1h0M407.1 148.0h0M407.3 149.1h0M412.4 141.2h0M415.2 133.3h0M408.7 147.6h0M404.1 137.1h0M410.7 127.2h0M404.1 148.5h0M415.3 139.2h0M429.2 129.1h0M415.9 136.6h0M423.5 133.3h0M413.6 141.3h0M424.9 142.9h0M410.3 144.3h0M413.2 147.1h0M417.9 133.7h0M413.3 153.2h0M416.4 136.4h0M424.5 137.9h0M421.6 129.8h0M427.9 137.5h0M417.8 137.4h0M414.8 129.2h0M417.2 131.4h0M423.5 137.5h0M408.6 146.2h0M413.8 151.1h0M418.3 148.3h0M413.4 151.1h0M403.9 135.3h0M413.5 140.1h0M421.5 135.3h0M405.1 130.0h0M420.2 136.0h0M403.8 141.2h0M418.8 151.3h0M412.2 138.3h0M408.4 127.6h0M420.3 140.9h0M421.9 144.4h0M404.2 133.1h0M422.4 149.9h0M410.8 132.5h0M420.5 137.1h0M403.7 136.9h0M416.4 135.3h0M404.3 139.8h0M403.9 127.8h0M403.7 153.2h0M404.4 141.9h0M405.7 149.5h0M424.2 144.8h0M418.3 134.4h0M406.3 145.4h0M407.0 129.3h0M414.3 138.5h0M419.6 122.1h0M410.7 138.5h0M411.7 141.2h0M408.7 153.1h0M408.5 128.0h0M426.6 125.3h0M408.9 128.6h0M409.8 126.8h0M407.4 128.1h0M408.2 152.6h0M404.4 137.2h0M414.5 145.8h0M423.0 151.0h0M425.3 139.7h0M404.4 146.3h0M420.6 131.5h0M408.2 147.3h0M404.8 140.6h0M403.8 139.9h0M415.4 140.7h0M411.1 138.4h0M416.5 152.9h0M403.8 123.6h0M411.1 140.3h0M404.4 143.3h0M436.8 142.8h0M404.2 137.4h0M416.9 152.5h0M410.8 145.7h0M413.2 141.0h0M413.2 135.8h0M416.0 141.6h0M417.0 138.9h0M423.4 148.7h0M405.4 152.6h0M412.0 143.5h0M421.7 128.7h0M425.9 134.3h0M418.1 151.5h0M415.5 130.5h0M419.2 140.9h0M425.7 144.2h0M413.7 141.3h0M411.6 123.6h0M416.1 147.1h0M414.8 135.3h0M422.2 136.4h0M417.4 147.2h0M407.7 132.4h0M413.0 135.3h0M418.9 134.2h0M411.4 127.6h0M403.8 140.8h0M427.7 123.5h0M420.6 131.3h0M410.2 142.9h0M425.1 145.0h0M419.4 135.8h0M404.5 117.3h0M423.0 133.6h0M405.0 147.0h0M421.0 138.5h0M414.4 127.9h0M428.4 137.6h0M412.1 140.9h0M406.9 148.7h0M405.4 125.9h0M415.1 139.9h0M426.8 131.4h0M423.6 136.3h0M404.2 152.9h0M423.2 131.1h0M420.6 140.0h0M417.5 150.5h0M417.0 136.1h0M423.5 121.4h0M407.1 152.3h0M413.6 130.1h0M410.5 147.5h0M421.0 126.0h0M408.9 139.6h0M424.6 129.8h0M407.3 151.9h0M430.7 137.3h0M404.9 134.4h0M410.1 135.3h0M411.4 146.3h0M414.7 131.8h0M407.5 133.2h0M408.6 137.6h0M432.4 153.0h0M408.4 141.8h0M409.9 124.7h0M412.7 152.9h0M404.4 145.8h0M414.3 141.9h0M427.9 148.1h0M404.1 135.9h0M404.2 153.2h0M403.9 140.2h0M422.7 126.2h0M418.8 142.3h0M416.6 144.6h0M412.0 144.4h0M419.6 149.0h0M422.0 137.1h0M431.3 143.5h0M419.2 150.2h0M408.1 141.3h0M419.0 142.1h0M405.4 130.2h0M425.0 143.3h0M403.7 142.4h0M412.4 152.7h0M417.9 143.2h0M417.1 145.2h0M404.1 149.2h0M429.3 138.4h0M422.5 151.9h0M416.5 127.5h0M415.1 141.7h0M413.8 153.2h0M425.5 141.9h0M404.4 149.3h0M414.9 136.7h0" stroke="#f53535" stroke-opacity="0.26" stroke-width="0.8" stroke-linecap="square" fill="none"/>
<path d="M413.9 147.2h0M419.4 143.9h0M419.8 131.1h0M420.7 147.1h0M406.0 153.0h0M435.9 152.9h0M434.9 144.7h0M411.6 132.6h0M406.9 139.0h0M414.7 144.0h0M403.7 153.2h0M437.8 137.8h0M421.8 142.3h0M417.7 136.1h0M413.8 130.6h0M416.8 137.8h0M418.2 130.3h0M415.4 138.4h0M421.0 128.4h0M419.2 146.8h0M421.0 134.7h0M410.1 135.9h0M422.3 152.0h0M413.4 132.2h0M418.8 139.8h0M405.9 131.4h0M414.0 144.0h0M404.5 128.8h0M420.0 127.0h0M416.1 141.2h0M413.9 128.8h0M414.4 135.0h0M418.4 130.5h0M425.9 122.9h0M413.2 138.1h0M424.6 132.5h0M420.5 132.9h0M422.4 152.7h0M411.0 142.0h0M405.7 146.8h0M427.1 138.3h0M404.4 141.6h0M426.5 147.8h0M423.1 121.5h0M408.2 150.8h0M404.2 148.2h0M433.8 144.9h0M426.2 135.0h0M404.3 137.1h0M413.0 137.6h0M422.0 136.7h0M416.9 141.8h0M414.9 152.6h0M419.4 138.8h0M412.9 132.4h0M428.4 139.4h0M404.2 132.9h0M413.6 134.0h0M425.8 127.5h0M419.9 139.3h0M404.4 138.4h0M414.1 142.5h0M410.5 140.7h0M403.7 128.2h0M422.8 147.4h0M414.9 132.6h0M425.8 119.2h0M407.0 144.0h0M421.5 128.7h0M404.2 151.1h0M416.5 129.9h0M415.5 146.1h0M403.9 148.0h0M422.4 119.3h0M422.7 122.0h0M426.4 141.6h0M437.5 132.5h0M415.0 147.4h0M408.6 131.7h0M411.3 137.3h0" stroke="#f53535" stroke-opacity="0.28" stroke-width="0.8" stroke-linecap="square" fill="none"/>
</g>
<g clip-path="url(#g7)">
<path d="M427.6 120.5h0M420.2 120.9h0M426.8 121.2h0M424.8 122.5h0M432.1 122.1h0M427.0 127.8h0M432.9 126.2h0M433.6 121.9h0M428.5 126.9h0M426.8 122.6h0M430.5 124.3h0M427.9 126.4h0M428.3 125.5h0M433.3 125.3h0M431.9 118.9h0M423.8 120.8h0M430.9 128.3h0M424.1 124.1h0M425.6 120.4h0M427.9 125.4h0M429.9 127.1h0M425.1 126.1h0M432.7 123.2h0M430.9 121.0h0M424.6 121.6h0M427.1 128.8h0M429.8 124.1h0M432.0 120.3h0M432.7 124.3h0M422.9 125.1h0M431.2 124.6h0M435.3 121.5h0M431.0 125.6h0M425.4 127.2h0M423.2 118.4h0M431.1 119.2h0M428.5 117.2h0M429.3 119.0h0M430.4 117.6h0M430.8 122.1h0M429.3 122.8h0M429.5 118.4h0M425.3 121.4h0M430.7 116.1h0M425.9 120.9h0M424.8 124.1h0M428.4 120.1h0M425.1 125.8h0M426.4 125.0h0M430.8 116.4h0M424.7 123.0h0M430.4 125.7h0M432.2 126.6h0M427.5 122.3h0M432.1 121.5h0M433.2 117.4h0M431.6 122.4h0M421.1 126.4h0M430.2 123.1h0M424.7 121.4h0M435.0 120.1h0M424.2 122.5h0M427.4 119.8h0M425.6 126.7h0M423.2 129.8h0M426.8 119.2h0M432.1 125.0h0M424.8 125.6h0M421.6 119.8h0M433.5 122.1h0M423.8 124.8h0M432.7 122.9h0M421.8 121.8h0M430.7 125.7h0M436.4 122.1h0M427.1 122.9h0M433.8 119.7h0M432.2 120.6h0M430.8 125.4h0M424.3 122.7h0M430.0 125.1h0M425.3 119.5h0M428.2 122.2h0M423.0 126.3h0M426.9 128.0h0" stroke="#7580f0" stroke-opacity="0.45" stroke-width="0.8" stroke-linecap="square" fill="none"/>
<ellipse cx="429" cy="122.5" rx="4" ry="3.2" transform="rotate(0 429 122.5)" fill="url(#bg)" fill-opacity="0.30" filter="url(#b1)"/>
</g>
<line x1="403.4" y1="101.1" x2="403.4" y2="153.6" stroke="#808080" stroke-width="0.7"/>
<line x1="403.4" y1="153.6" x2="457.4" y2="153.6" stroke="#808080" stroke-width="0.7"/>
<line x1="402.2" y1="103.89999999999999" x2="403.4" y2="103.89999999999999" stroke="#777" stroke-width="0.5"/>
<text x="402.0" y="105.1" font-size="3.4" text-anchor="end" font-family='"Liberation Serif", serif' fill="#555">1<tspan font-size="2.4" dy="-1.1">1</tspan></text>
<line x1="402.2" y1="117.6" x2="403.4" y2="117.6" stroke="#777" stroke-width="0.5"/>
<text x="402.0" y="118.8" font-size="3.4" text-anchor="end" font-family='"Liberation Serif", serif' fill="#555">1<tspan font-size="2.4" dy="-1.1">2</tspan></text>
<line x1="402.2" y1="131.29999999999998" x2="403.4" y2="131.29999999999998" stroke="#777" stroke-width="0.5"/>
<text x="402.0" y="132.49999999999997" font-size="3.4" text-anchor="end" font-family='"Liberation Serif", serif' fill="#555">1<tspan font-size="2.4" dy="-1.1">3</tspan></text>
<line x1="402.2" y1="145.1" x2="403.4" y2="145.1" stroke="#777" stroke-width="0.5"/>
<text x="402.0" y="146.29999999999998" font-size="3.4" text-anchor="end" font-family='"Liberation Serif", serif' fill="#555">1<tspan font-size="2.4" dy="-1.1">4</tspan></text>
<line x1="412.4" y1="153.6" x2="412.4" y2="154.79999999999998" stroke="#777" stroke-width="0.5"/>
<text x="412.4" y="157.4" font-size="3.4" text-anchor="middle" font-family='"Liberation Serif", serif' fill="#555">1<tspan font-size="2.4" dy="-1.1">1</tspan></text>
<line x1="426.2" y1="153.6" x2="426.2" y2="154.79999999999998" stroke="#777" stroke-width="0.5"/>
<text x="426.2" y="157.4" font-size="3.4" text-anchor="middle" font-family='"Liberation Serif", serif' fill="#555">1<tspan font-size="2.4" dy="-1.1">2</tspan></text>
<line x1="440.0" y1="153.6" x2="440.0" y2="154.79999999999998" stroke="#777" stroke-width="0.5"/>
<text x="440.0" y="157.4" font-size="3.4" text-anchor="middle" font-family='"Liberation Serif", serif' fill="#555">1<tspan font-size="2.4" dy="-1.1">3</tspan></text>
<line x1="453.79999999999995" y1="153.6" x2="453.79999999999995" y2="154.79999999999998" stroke="#777" stroke-width="0.5"/>
<text x="453.79999999999995" y="157.4" font-size="3.4" text-anchor="middle" font-family='"Liberation Serif", serif' fill="#555">1<tspan font-size="2.4" dy="-1.1">4</tspan></text>
<rect x="419.6" y="114.4" width="21.6" height="17.3" fill="none" stroke="#767676" stroke-width="0.75"/>
<text x="430.6" y="112.1" font-size="5.6" font-family='"Liberation Serif", serif' font-weight="bold" fill="#111" textLength="12.9" lengthAdjust="spacingAndGlyphs">2.9%</text>
<clipPath id="c8"><rect x="463.40000000000003" y="101.1" width="53.7" height="52.2"/></clipPath>
<clipPath id="g8"><rect x="480.09999999999997" y="114.80000000000001" width="20.1" height="16.5"/></clipPath>
<g clip-path="url(#c8)">
<ellipse cx="486" cy="142" rx="7" ry="5" transform="rotate(-10 486 142)" fill="url(#rg)" fill-opacity="0.43" filter="url(#b1)"/>
<path d="M488.6 148.6h0M490.7 144.3h0M488.6 142.6h0M488.6 141.5h0M482.9 140.1h0M481.9 143.7h0M489.4 146.3h0M488.5 142.6h0M489.0 141.7h0M479.7 146.4h0M484.8 143.2h0M486.9 150.5h0M491.1 142.6h0M482.5 145.5h0M483.6 146.1h0M480.5 143.0h0M489.7 139.2h0M487.0 142.6h0M490.0 140.2h0M490.2 147.6h0M480.2 140.9h0M488.0 140.1h0M481.9 147.2h0M490.9 144.7h0M491.2 143.5h0M482.1 136.2h0M488.0 138.9h0M487.0 143.3h0M481.4 142.2h0M493.8 143.2h0M480.1 142.8h0M486.9 143.9h0M489.5 141.6h0M486.1 144.9h0M481.5 146.5h0M487.6 140.6h0M484.4 143.3h0M479.6 136.7h0M488.7 146.1h0M485.9 142.5h0M485.9 139.5h0M488.4 144.2h0M486.9 144.7h0M482.4 143.6h0M483.1 141.3h0M487.4 142.4h0M490.0 143.4h0M482.3 146.6h0M480.0 142.9h0M487.3 141.6h0M488.1 141.8h0M482.7 145.0h0M485.4 139.5h0M486.3 141.9h0M487.1 140.2h0M486.6 141.4h0M492.1 139.9h0M490.9 140.9h0M491.5 147.7h0M484.6 142.7h0M482.1 140.7h0M483.9 142.6h0M490.0 143.8h0M484.2 142.7h0M480.6 144.6h0M484.6 139.2h0M483.5 144.1h0M486.7 143.7h0M484.4 142.7h0M484.3 138.0h0M485.3 141.7h0M483.7 144.6h0M495.0 144.5h0M485.6 138.8h0M485.0 140.4h0M487.2 145.2h0M485.1 138.1h0M491.2 141.2h0M490.8 138.7h0M495.0 136.9h0M486.9 144.1h0M475.7 141.6h0M480.7 147.8h0M488.2 138.9h0M478.4 138.4h0M486.3 139.7h0M487.2 140.3h0M480.3 148.1h0M487.5 139.7h0M485.3 145.8h0M488.6 138.0h0M491.3 139.3h0M487.6 138.3h0M483.8 144.6h0M481.4 143.0h0M487.3 139.9h0M491.9 142.9h0M486.0 144.9h0M491.9 144.5h0M485.9 144.3h0M487.0 138.7h0M485.6 147.8h0M483.2 143.9h0" stroke="#f41818" stroke-opacity="0.5" stroke-width="0.8" stroke-linecap="square" fill="none"/>
<path d="M492.9 139.6h0M485.6 139.8h0M487.5 137.9h0M487.5 139.2h0M486.5 136.6h0M481.9 145.6h0M486.9 132.4h0M491.9 138.4h0M490.2 144.4h0M485.1 141.0h0M478.1 144.8h0M493.1 136.9h0M491.1 143.4h0M489.4 138.1h0M485.6 142.8h0M492.7 137.9h0M483.3 140.1h0M488.8 136.6h0M484.4 138.2h0M484.9 144.5h0M484.1 144.5h0M483.9 142.2h0" stroke="#fff" stroke-opacity="0.25" stroke-width="0.9" stroke-linecap="square" fill="none"/>
<path d="M484.2 137.9h0M489.2 144.6h0M481.2 146.1h0M486.2 139.8h0M487.6 145.7h0M492.1 148.1h0M487.8 142.7h0M475.5 141.1h0M488.9 136.0h0M481.2 151.7h0M484.4 136.8h0M471.1 140.3h0M501.1 139.1h0M490.5 144.4h0M482.9 144.1h0M485.9 140.3h0M491.9 136.8h0M480.3 139.7h0M493.5 138.2h0M496.7 133.5h0M477.1 130.7h0M479.8 143.4h0M489.6 136.5h0M483.6 149.2h0M482.7 143.0h0M489.2 136.6h0M493.8 139.6h0M490.7 139.6h0M488.6 147.3h0M485.8 133.1h0M483.6 140.4h0M484.8 143.0h0M476.5 152.1h0M481.2 149.0h0M483.1 140.7h0M484.7 140.4h0M490.4 147.0h0M499.3 148.6h0M478.3 146.4h0M489.0 141.0h0M487.9 141.7h0M477.6 139.3h0M492.1 140.5h0M494.6 138.2h0M482.1 143.1h0M487.3 146.3h0M483.1 146.3h0M487.5 137.4h0M484.6 141.3h0M493.5 146.5h0M489.9 138.7h0M490.8 141.9h0M482.6 146.1h0M480.6 141.4h0M477.9 136.7h0M486.9 134.1h0M481.3 140.9h0M488.4 138.2h0M489.9 137.3h0M480.0 138.9h0M482.0 139.1h0M475.9 140.0h0M481.1 147.9h0M479.1 144.7h0M480.6 147.0h0M484.5 139.4h0M494.6 147.6h0M496.6 144.6h0M485.7 138.7h0M482.2 139.9h0M488.8 139.3h0M487.5 142.6h0M484.6 139.0h0M481.0 153.2h0M483.7 134.5h0M477.1 140.4h0M498.1 140.5h0M481.3 151.2h0M474.5 149.5h0M504.4 138.8h0M493.0 144.0h0M467.2 146.9h0M479.9 129.7h0M491.2 138.2h0M488.6 143.7h0M480.0 131.6h0M482.3 138.8h0M477.5 139.5h0M487.1 149.2h0M486.7 143.0h0" stroke="#f53535" stroke-opacity="0.26" stroke-width="0.8" stroke-linecap="square" fill="none"/>
<ellipse cx="479" cy="132.5" rx="5" ry="3" transform="rotate(-45 479 132.5)" fill="url(#rg)" fill-opacity="0.38" filter="url(#b1)"/>
<path d="M476.1 135.6h0M480.5 133.4h0M477.6 132.2h0M476.2 134.9h0M478.3 134.0h0M476.2 131.9h0M482.3 133.1h0M474.9 132.7h0M478.1 130.7h0M477.6 131.9h0M478.1 132.6h0M478.8 135.0h0M480.1 129.1h0M481.0 127.9h0M481.4 129.6h0M476.5 133.2h0M481.7 133.9h0M477.7 132.9h0M479.9 133.2h0M477.0 131.4h0M481.6 133.3h0M477.2 133.6h0M474.5 139.5h0M480.6 132.3h0M474.7 134.4h0M480.2 130.2h0M478.5 131.8h0M477.6 136.9h0M476.8 132.5h0M476.4 133.5h0M474.4 135.6h0M480.2 131.1h0M476.3 129.5h0M476.4 133.4h0M478.4 135.0h0M475.9 134.1h0M487.2 129.9h0M480.1 134.3h0M481.4 133.2h0M481.0 131.4h0M478.4 134.4h0M477.9 133.7h0M475.7 136.1h0M473.2 133.8h0M480.7 130.0h0M476.2 136.1h0M479.8 129.7h0M476.0 132.4h0M476.6 134.7h0M478.0 135.0h0M475.9 136.3h0M480.0 132.5h0M480.4 129.8h0M475.1 131.5h0M477.3 131.2h0M481.1 129.4h0M478.1 133.9h0M482.6 132.4h0M479.8 130.4h0M475.8 135.1h0M477.2 133.1h0M480.3 129.6h0M476.6 131.4h0M476.9 136.0h0M481.3 133.0h0M476.1 132.8h0M479.4 133.5h0M480.2 132.1h0M481.1 132.8h0M475.5 134.5h0M476.7 136.3h0M481.0 130.9h0M481.7 131.7h0M476.0 134.1h0M477.6 134.6h0M479.1 133.4h0M481.0 133.0h0M478.0 133.1h0M479.0 132.0h0M481.4 131.9h0M479.1 134.9h0M476.6 132.0h0M478.2 130.7h0M477.0 132.3h0M479.9 132.3h0M481.0 132.8h0M480.1 134.4h0M474.6 132.4h0M484.3 132.0h0M483.1 128.4h0M480.7 130.5h0M478.4 130.5h0" stroke="#f41818" stroke-opacity="0.5" stroke-width="0.8" stroke-linecap="square" fill="none"/>
<path d="M474.2 135.4h0M480.3 130.4h0M482.7 134.4h0M473.7 134.8h0M482.2 134.2h0M480.2 132.5h0M480.7 136.5h0M478.2 135.1h0M479.3 133.2h0M477.2 135.4h0M479.0 136.0h0M480.1 138.0h0M480.4 129.2h0M482.2 131.3h0M475.5 133.5h0M476.9 136.5h0M482.3 129.2h0M482.3 130.1h0M476.0 133.3h0M479.5 131.7h0" stroke="#fff" stroke-opacity="0.25" stroke-width="0.9" stroke-linecap="square" fill="none"/>
<path d="M484.7 127.5h0M481.1 131.7h0M478.6 129.5h0M481.1 125.6h0M475.7 132.5h0M489.7 127.3h0M480.9 124.1h0M476.2 135.1h0M475.1 133.4h0M480.5 132.8h0M478.0 134.7h0M483.5 139.1h0M483.7 124.4h0M473.1 137.9h0M483.8 132.5h0M484.3 126.1h0M483.5 127.6h0M479.2 133.1h0M481.9 137.1h0M473.9 136.6h0M478.3 130.0h0M486.7 131.3h0M478.1 132.9h0M474.2 131.2h0M478.1 131.3h0M481.4 136.5h0M475.9 132.4h0M481.5 129.4h0M479.7 130.4h0M470.5 144.3h0M473.9 131.3h0M480.6 127.1h0M471.9 137.4h0M469.7 139.8h0M478.9 132.4h0M481.4 138.2h0M479.7 132.3h0M473.0 135.5h0M486.9 123.3h0M473.1 133.9h0M471.8 138.2h0M477.4 132.1h0M477.8 132.8h0M479.0 135.6h0M480.4 129.7h0M477.7 137.4h0M482.2 133.6h0M480.5 137.1h0M477.6 128.7h0M479.9 128.1h0M478.1 131.6h0M477.9 135.9h0M480.4 128.0h0M477.5 138.1h0M484.0 125.4h0M477.8 128.0h0M478.0 128.6h0M477.9 135.9h0M480.6 134.6h0M472.3 139.2h0M481.3 134.2h0M481.0 135.1h0M484.4 129.2h0M480.2 124.4h0M478.7 134.7h0M475.0 129.8h0M480.1 132.7h0M475.7 132.4h0M474.3 136.4h0M479.6 130.5h0M479.5 133.1h0M477.7 132.3h0M479.6 127.5h0M476.2 135.0h0M479.4 130.6h0M471.6 136.2h0M477.9 132.5h0M482.2 131.5h0M477.7 131.6h0M484.6 124.6h0" stroke="#f53535" stroke-opacity="0.26" stroke-width="0.8" stroke-linecap="square" fill="none"/>
<ellipse cx="473.5" cy="139.5" rx="9" ry="9" transform="rotate(30 473.5 139.5)" fill="url(#rg)" fill-opacity="0.95" filter="url(#b1)"/>
<path d="M467.8 131.1h0M472.9 136.6h0M472.4 139.6h0M464.0 137.5h0M466.2 140.1h0M466.6 142.1h0M464.0 144.9h0M469.6 139.7h0M471.5 139.3h0M466.6 143.7h0M468.1 139.9h0M469.7 147.9h0M478.5 138.5h0M478.0 142.2h0M480.4 137.6h0M472.6 141.7h0M475.5 139.1h0M471.4 133.2h0M473.0 144.8h0M489.6 133.8h0M474.2 140.5h0M472.6 140.8h0M475.5 139.6h0M464.2 142.5h0M470.0 138.4h0M475.7 142.3h0M466.0 145.5h0M467.3 138.8h0M470.6 143.7h0M475.9 139.7h0M474.4 135.3h0M465.6 139.4h0M468.3 141.9h0M468.4 137.0h0M476.2 143.6h0M468.5 140.7h0M469.8 143.4h0M474.4 137.8h0M476.8 144.6h0M468.8 132.0h0M474.0 140.0h0M472.2 136.3h0M469.8 137.6h0M476.5 145.1h0M468.9 142.9h0M478.7 137.9h0M477.2 137.6h0M473.0 144.5h0M467.7 144.9h0M475.8 147.1h0M471.8 144.3h0M472.7 142.1h0M476.0 153.1h0M478.1 149.8h0M463.6 136.7h0M473.0 146.0h0M473.9 135.3h0M470.0 129.4h0M472.3 139.5h0M470.5 131.4h0M464.3 137.3h0M468.5 141.5h0M471.3 139.3h0M477.5 145.3h0M476.6 139.0h0M477.9 139.2h0M472.1 139.5h0M479.0 143.0h0M480.4 138.1h0M475.2 146.6h0M474.8 144.9h0M475.9 135.3h0M470.0 142.0h0M472.9 140.1h0M475.3 134.9h0M473.0 143.7h0M477.5 143.4h0M470.1 133.5h0M463.9 136.9h0M473.8 142.8h0M470.4 135.5h0M467.5 144.7h0M468.3 135.8h0M474.3 134.4h0M463.9 131.2h0M473.7 145.0h0M470.7 131.6h0M474.6 141.7h0M469.2 145.4h0M473.1 140.8h0M470.6 139.5h0M475.1 127.5h0M476.8 134.0h0M472.4 139.6h0M467.5 138.8h0M469.7 142.9h0M478.2 140.3h0M470.5 143.9h0M474.9 139.7h0M463.7 134.9h0M470.2 136.7h0M466.9 143.3h0M476.1 151.4h0M475.3 128.8h0M473.5 140.4h0M468.9 142.7h0M468.2 135.0h0M482.0 147.4h0M473.8 142.7h0M474.7 144.2h0M473.8 147.3h0M471.1 140.5h0M464.7 142.3h0M472.2 138.1h0M470.7 134.4h0M466.9 134.6h0M474.6 147.1h0M480.3 130.8h0M470.0 140.2h0M478.0 123.3h0M479.8 141.7h0M464.3 145.8h0M474.1 146.6h0M479.4 137.2h0M475.9 134.8h0M474.3 136.2h0M473.7 136.8h0M473.4 142.0h0M473.0 139.8h0M475.9 128.8h0M474.8 138.8h0M471.2 138.3h0M473.1 138.8h0M478.8 140.7h0M473.3 144.6h0M469.0 143.0h0M464.0 139.8h0M472.0 140.6h0M469.8 135.3h0M463.7 144.2h0M478.1 137.3h0M475.3 149.6h0M482.1 132.1h0M469.9 139.9h0M468.8 135.7h0M474.6 137.0h0M479.4 141.3h0M468.8 144.3h0M479.0 147.0h0M471.1 137.2h0M477.6 144.1h0M476.2 137.0h0M480.1 141.2h0M463.5 132.1h0M466.4 142.4h0M469.1 140.6h0M464.1 131.8h0M475.6 144.0h0M476.8 143.4h0M478.8 146.7h0M474.5 126.9h0M475.4 135.3h0M472.6 136.7h0M471.2 139.2h0M480.5 141.8h0M470.3 144.7h0M463.5 141.2h0M473.9 131.8h0M472.8 136.8h0M468.0 131.6h0M473.0 139.6h0M472.7 140.1h0M470.2 134.9h0M477.0 148.8h0M470.8 144.1h0M474.2 145.5h0M469.1 133.1h0M475.9 141.1h0M473.9 143.7h0M481.0 133.4h0M476.3 133.8h0M476.7 142.1h0M466.8 135.0h0M468.2 140.7h0M468.6 143.1h0M468.8 139.0h0M480.3 139.8h0M473.3 129.7h0M475.2 136.1h0M477.0 133.6h0M467.5 134.7h0M477.1 137.4h0M469.2 143.9h0M477.2 147.4h0M472.6 143.7h0M480.4 131.8h0M472.1 141.6h0M473.7 132.7h0M470.4 139.8h0M475.6 140.2h0M476.9 138.3h0M471.0 144.0h0M475.2 147.7h0M472.9 143.4h0M465.5 143.6h0M479.4 145.1h0M468.8 145.0h0M476.5 140.5h0M476.7 142.2h0M474.5 136.0h0M463.5 147.2h0M485.3 135.3h0M471.3 146.8h0M467.4 144.3h0M479.6 135.5h0M467.3 135.9h0M473.9 136.6h0M474.2 137.0h0M477.7 137.8h0M473.9 140.3h0M472.8 137.7h0M472.0 139.6h0M474.8 129.7h0M478.8 143.8h0M472.8 133.2h0M477.6 140.8h0M479.6 138.7h0M472.1 143.2h0M476.8 147.2h0M471.2 145.7h0" stroke="#f41818" stroke-opacity="0.5" stroke-width="0.8" stroke-linecap="square" fill="none"/>
<path d="M475.8 133.5h0M475.6 152.4h0M479.5 143.6h0M463.4 135.2h0M469.2 130.0h0M471.2 145.7h0M476.9 135.6h0M475.7 134.4h0M469.6 141.4h0M475.0 123.7h0M476.2 142.1h0M475.5 142.2h0M467.6 135.8h0M474.0 136.7h0M476.8 138.0h0M477.1 135.4h0M465.1 133.5h0M480.2 139.4h0M476.4 143.2h0M476.4 129.9h0M480.3 138.3h0M475.2 143.5h0M470.6 139.3h0M469.3 141.4h0M475.7 133.9h0M471.0 135.7h0M475.9 133.1h0M479.6 150.1h0M475.0 143.3h0M478.2 147.9h0M479.1 137.4h0M479.0 131.5h0M485.6 134.8h0M472.7 132.2h0M476.3 142.1h0M479.4 142.5h0M477.3 140.1h0M481.3 133.9h0M475.4 135.2h0M477.8 141.8h0M484.8 145.6h0M474.5 141.4h0M469.3 139.7h0M470.1 139.9h0M474.7 137.4h0M471.5 135.1h0M467.1 143.1h0M480.8 144.8h0M465.1 136.8h0M483.5 132.7h0" stroke="#fff" stroke-opacity="0.25" stroke-width="0.9" stroke-linecap="square" fill="none"/>
<path d="M469.1 146.0h0M468.5 134.3h0M463.5 138.3h0M475.6 136.6h0M467.4 141.1h0M465.5 139.0h0M464.5 153.2h0M475.5 140.7h0M475.8 134.0h0M485.7 139.7h0M491.8 128.5h0M484.6 120.3h0M473.2 145.2h0M473.8 139.7h0M483.5 130.5h0M470.0 142.7h0M477.7 148.8h0M473.9 139.7h0M465.4 129.0h0M471.0 143.8h0M488.4 139.7h0M463.6 150.2h0M464.1 135.9h0M475.6 130.2h0M469.9 140.7h0M463.4 143.3h0M467.3 143.5h0M470.5 141.3h0M485.3 135.9h0M468.7 123.7h0M470.1 131.4h0M479.2 137.2h0M484.9 118.9h0M475.1 145.6h0M463.8 143.8h0M466.6 134.3h0M482.4 138.8h0M472.7 141.5h0M499.5 148.8h0M484.3 143.4h0M463.7 124.8h0M468.0 133.8h0M473.2 133.1h0M468.9 136.4h0M470.2 147.2h0M476.3 124.0h0M479.4 147.6h0M477.0 137.8h0M468.4 150.6h0M464.0 152.0h0M483.1 148.1h0M470.1 133.6h0M476.1 132.9h0M478.9 148.1h0M480.2 148.5h0M471.0 149.1h0M485.9 143.3h0M464.1 127.6h0M463.8 139.2h0M496.7 142.7h0M483.7 146.0h0M482.1 125.3h0M470.1 137.0h0M466.8 139.3h0M469.8 137.2h0M479.8 153.0h0M463.6 134.6h0M470.6 131.4h0M466.6 122.4h0M475.0 152.4h0M496.5 146.4h0M471.9 137.2h0M475.1 129.8h0M479.4 141.8h0M474.5 143.2h0M466.1 129.7h0M463.7 132.3h0M477.7 141.6h0M466.5 133.5h0M476.2 144.4h0M467.5 132.7h0M471.4 141.8h0M477.9 122.0h0M474.8 153.3h0M463.5 141.4h0M495.0 143.9h0M484.4 148.4h0M475.3 141.3h0M469.9 133.6h0M483.4 142.3h0M466.9 147.4h0M472.1 138.9h0M484.7 136.7h0M478.5 124.0h0M474.5 138.4h0M475.2 127.6h0M472.8 128.3h0M476.9 138.6h0M463.9 143.1h0M463.8 143.1h0M484.5 140.2h0M474.5 136.6h0M466.5 147.3h0M484.1 145.8h0M469.7 136.7h0M473.5 130.2h0M477.0 144.4h0M472.1 149.8h0M466.4 134.4h0M475.8 139.0h0M481.4 134.6h0M473.1 146.2h0M463.5 152.8h0M469.8 133.4h0M463.9 153.0h0M463.9 153.1h0M472.1 140.3h0M489.5 149.3h0M490.2 141.9h0M472.4 138.4h0M468.8 135.0h0M463.6 135.3h0M471.8 152.7h0M474.2 142.0h0M475.9 147.4h0M478.2 152.8h0M463.6 138.7h0M469.9 150.2h0M476.9 142.2h0M473.7 146.8h0M479.6 136.1h0M471.0 148.9h0M480.4 143.7h0M469.8 128.9h0M482.5 136.8h0M470.2 136.3h0M463.7 126.8h0M472.3 136.7h0M463.7 140.1h0M487.9 151.8h0M481.0 130.1h0M479.0 131.2h0M472.6 129.7h0M474.7 134.1h0M467.9 143.9h0M463.6 125.5h0M463.9 135.4h0M478.3 138.9h0M466.0 149.5h0M481.4 132.5h0M465.3 152.7h0M471.8 138.4h0M476.5 153.1h0M470.3 142.4h0M463.9 150.4h0M475.9 147.6h0M481.0 135.1h0M469.3 138.9h0M473.6 146.2h0M469.8 144.9h0M475.6 145.8h0M466.1 120.3h0M463.8 142.8h0M472.4 148.0h0M470.7 147.1h0M474.6 153.2h0M477.6 136.4h0M480.4 145.7h0M464.1 146.6h0M469.5 153.0h0M483.7 137.7h0M488.6 135.4h0M475.4 153.2h0M482.5 141.5h0M475.9 137.6h0M499.2 138.5h0M489.8 148.4h0M477.3 127.9h0M464.1 138.6h0M468.2 139.6h0M479.4 145.0h0M477.0 140.6h0M464.0 143.8h0M485.9 125.8h0M469.2 130.3h0M480.4 138.7h0M468.0 132.2h0M465.5 139.6h0M463.5 130.9h0M476.9 139.5h0M467.4 139.0h0M484.2 141.8h0M469.3 131.6h0M473.2 148.6h0M463.9 148.0h0M477.2 132.9h0M467.4 141.4h0M485.9 141.6h0M471.6 134.3h0M490.2 145.4h0" stroke="#f53535" stroke-opacity="0.26" stroke-width="0.8" stroke-linecap="square" fill="none"/>
<path d="M495.8 140.2h0M478.9 142.8h0M463.7 135.9h0M467.7 141.5h0M463.6 140.2h0M469.7 136.4h0M478.8 133.9h0M469.3 136.0h0M475.5 139.9h0M471.9 136.5h0M492.7 136.5h0M485.6 132.3h0M479.5 134.5h0M463.7 139.9h0M470.4 136.7h0M475.5 152.7h0M476.8 138.2h0M475.2 130.8h0M469.7 135.7h0M477.6 153.1h0M495.7 132.0h0M468.1 139.4h0M474.8 128.5h0M478.2 128.5h0M468.2 131.0h0M468.5 131.9h0M471.1 138.3h0M463.4 134.3h0M480.0 141.1h0M480.2 142.3h0M476.0 119.7h0M471.5 144.5h0M483.0 145.3h0M479.4 118.0h0M464.0 145.1h0M484.8 153.0h0M472.8 131.9h0M463.6 139.2h0M480.4 130.9h0M473.1 118.1h0M478.2 141.9h0M477.2 152.6h0M491.6 134.7h0M485.2 131.8h0M464.9 134.0h0M463.8 144.7h0M482.0 139.0h0M474.8 145.3h0M477.7 140.5h0M476.8 141.9h0M464.6 149.5h0M476.4 132.4h0M474.3 145.5h0M496.4 145.3h0M475.0 128.2h0M476.7 147.1h0M480.7 138.0h0M469.6 139.7h0M463.8 148.4h0M481.3 123.6h0M489.6 152.9h0M483.6 134.6h0M472.1 136.7h0M464.9 142.2h0M478.0 134.2h0M484.3 144.2h0M475.4 140.2h0M475.2 134.7h0M484.2 125.6h0M488.0 149.6h0M465.1 135.1h0M470.0 145.8h0M471.8 145.6h0M472.7 151.4h0M491.1 145.0h0M471.7 152.5h0M493.6 142.1h0M480.7 147.3h0M472.9 129.8h0M470.0 143.6h0" stroke="#f53535" stroke-opacity="0.28" stroke-width="0.8" stroke-linecap="square" fill="none"/>
</g>
<g clip-path="url(#g8)">
<ellipse cx="488.3" cy="122.3" rx="4.2" ry="3.6" transform="rotate(-30 488.3 122.3)" fill="url(#bg)" fill-opacity="1.00" filter="url(#b1)"/>
<path d="M489.0 122.6h0M487.5 127.3h0M490.0 121.8h0M491.8 124.8h0M488.3 124.7h0M482.6 123.8h0M484.6 121.5h0M488.2 123.7h0M489.9 119.7h0M486.0 122.2h0M486.7 125.1h0M487.0 121.7h0M490.4 121.8h0M489.7 121.3h0M487.9 123.0h0M487.6 126.8h0M488.1 120.4h0M490.6 120.8h0M489.4 120.6h0M489.0 128.8h0M486.8 120.5h0M487.8 119.8h0M489.8 118.7h0M490.0 124.6h0M490.5 120.6h0M486.5 126.6h0M487.4 122.7h0M486.7 122.6h0M488.8 123.8h0M485.1 122.8h0M489.6 122.6h0M484.8 122.7h0M489.0 122.2h0M491.5 122.6h0M490.2 121.8h0M488.2 123.4h0M483.7 119.2h0M485.6 121.4h0M490.3 120.9h0M489.4 121.3h0M490.9 124.3h0M492.5 125.3h0M487.6 123.6h0M491.3 119.5h0M485.2 121.9h0M486.6 122.0h0M486.8 125.9h0M489.1 119.5h0M485.2 122.1h0M489.3 123.6h0M492.6 123.6h0M484.6 120.9h0M489.5 119.2h0M488.4 123.4h0M487.3 122.6h0M490.0 118.1h0M490.3 123.0h0M484.2 123.8h0M484.0 126.1h0M490.8 123.8h0M489.9 122.2h0M490.1 122.8h0M486.7 125.7h0M493.4 120.2h0M491.1 124.1h0M488.8 122.5h0M486.2 124.1h0M489.3 121.3h0M489.3 120.0h0M489.2 121.6h0M484.0 125.3h0M488.1 124.4h0M489.6 123.4h0M488.6 123.6h0M484.1 119.4h0M489.8 123.6h0M485.9 124.3h0M483.0 122.4h0M488.2 121.5h0M487.7 126.1h0M487.8 120.3h0M488.6 121.4h0M488.3 124.9h0M490.9 124.3h0M493.8 119.8h0M487.6 121.0h0M488.8 119.4h0M488.9 115.5h0M491.9 125.5h0M489.4 122.7h0M489.6 124.0h0M485.1 124.1h0M489.9 125.0h0M485.8 122.0h0M490.4 120.7h0M488.7 122.5h0M486.6 124.0h0M485.7 120.1h0M489.3 123.2h0M490.1 123.1h0M488.9 126.0h0M487.4 122.9h0M489.0 120.6h0M491.9 120.2h0M486.6 122.3h0M490.4 123.6h0M488.7 119.5h0M485.3 120.4h0M485.3 120.0h0M491.4 120.0h0" stroke="#3a4af0" stroke-opacity="0.45" stroke-width="0.8" stroke-linecap="square" fill="none"/>
<path d="M484.3 122.9h0M490.8 120.4h0M489.0 125.9h0M488.3 122.5h0M486.5 118.7h0M492.0 124.2h0M482.7 122.4h0M496.6 121.6h0M494.1 115.1h0M484.2 121.7h0M487.6 129.7h0M489.0 122.8h0M495.3 119.0h0M490.2 120.8h0M484.7 130.6h0M485.6 124.1h0M493.6 120.2h0M485.6 126.7h0M484.0 122.2h0M483.8 126.6h0M490.6 118.8h0M481.7 120.5h0M488.8 118.2h0M483.1 123.0h0M496.1 123.8h0M493.0 121.5h0M482.6 126.7h0M494.4 122.4h0M494.1 120.0h0M495.9 119.5h0M491.1 120.1h0M493.4 115.7h0M489.2 126.6h0M480.5 117.6h0M484.8 122.2h0M491.6 122.8h0M485.6 124.9h0M484.4 124.6h0M488.8 122.2h0M484.7 120.1h0M487.5 124.0h0M485.8 115.2h0M492.2 120.1h0M481.3 118.5h0M485.4 125.0h0M481.1 125.6h0M491.6 123.8h0M489.9 124.2h0M489.0 122.8h0M487.2 125.4h0M492.4 125.6h0M484.0 127.3h0M481.0 130.5h0M488.0 117.0h0M495.5 125.4h0M489.5 117.5h0M487.0 118.6h0M485.6 118.1h0M488.8 123.3h0M486.1 126.1h0M480.3 121.6h0M488.8 128.7h0" stroke="#7580f0" stroke-opacity="0.35" stroke-width="0.8" stroke-linecap="square" fill="none"/>
</g>
<line x1="463.1" y1="101.1" x2="463.1" y2="153.6" stroke="#808080" stroke-width="0.7"/>
<line x1="463.1" y1="153.6" x2="517.1" y2="153.6" stroke="#808080" stroke-width="0.7"/>
<line x1="461.90000000000003" y1="103.89999999999999" x2="463.1" y2="103.89999999999999" stroke="#777" stroke-width="0.5"/>
<text x="461.70000000000005" y="105.1" font-size="3.4" text-anchor="end" font-family='"Liberation Serif", serif' fill="#555">1<tspan font-size="2.4" dy="-1.1">1</tspan></text>
<line x1="461.90000000000003" y1="117.6" x2="463.1" y2="117.6" stroke="#777" stroke-width="0.5"/>
<text x="461.70000000000005" y="118.8" font-size="3.4" text-anchor="end" font-family='"Liberation Serif", serif' fill="#555">1<tspan font-size="2.4" dy="-1.1">2</tspan></text>
<line x1="461.90000000000003" y1="131.29999999999998" x2="463.1" y2="131.29999999999998" stroke="#777" stroke-width="0.5"/>
<text x="461.70000000000005" y="132.49999999999997" font-size="3.4" text-anchor="end" font-family='"Liberation Serif", serif' fill="#555">1<tspan font-size="2.4" dy="-1.1">3</tspan></text>
<line x1="461.90000000000003" y1="145.1" x2="463.1" y2="145.1" stroke="#777" stroke-width="0.5"/>
<text x="461.70000000000005" y="146.29999999999998" font-size="3.4" text-anchor="end" font-family='"Liberation Serif", serif' fill="#555">1<tspan font-size="2.4" dy="-1.1">4</tspan></text>
<line x1="472.1" y1="153.6" x2="472.1" y2="154.79999999999998" stroke="#777" stroke-width="0.5"/>
<text x="472.1" y="157.4" font-size="3.4" text-anchor="middle" font-family='"Liberation Serif", serif' fill="#555">1<tspan font-size="2.4" dy="-1.1">1</tspan></text>
<line x1="485.90000000000003" y1="153.6" x2="485.90000000000003" y2="154.79999999999998" stroke="#777" stroke-width="0.5"/>
<text x="485.90000000000003" y="157.4" font-size="3.4" text-anchor="middle" font-family='"Liberation Serif", serif' fill="#555">1<tspan font-size="2.4" dy="-1.1">2</tspan></text>
<line x1="499.70000000000005" y1="153.6" x2="499.70000000000005" y2="154.79999999999998" stroke="#777" stroke-width="0.5"/>
<text x="499.70000000000005" y="157.4" font-size="3.4" text-anchor="middle" font-family='"Liberation Serif", serif' fill="#555">1<tspan font-size="2.4" dy="-1.1">3</tspan></text>
<line x1="513.5" y1="153.6" x2="513.5" y2="154.79999999999998" stroke="#777" stroke-width="0.5"/>
<text x="513.5" y="157.4" font-size="3.4" text-anchor="middle" font-family='"Liberation Serif", serif' fill="#555">1<tspan font-size="2.4" dy="-1.1">4</tspan></text>
<rect x="479.7" y="114.4" width="20.9" height="17.3" fill="none" stroke="#767676" stroke-width="0.75"/>
<text x="489" y="112.3" font-size="5.6" font-family='"Liberation Serif", serif' font-weight="bold" fill="#111" textLength="13.2" lengthAdjust="spacingAndGlyphs">7.8%</text>
<clipPath id="c9"><rect x="284.7" y="201.8" width="53.7" height="52.2"/></clipPath>
<clipPath id="g9"><rect x="304.4" y="215.6" width="21.8" height="14.6"/></clipPath>
<g clip-path="url(#c9)">
<ellipse cx="302" cy="232.5" rx="5" ry="2.2" transform="rotate(-35 302 232.5)" fill="url(#rg)" fill-opacity="0.17" filter="url(#b1)"/>
<path d="M300.0 234.2h0M306.0 232.0h0M304.7 230.7h0M302.6 231.7h0M298.7 234.1h0M304.3 231.3h0M300.6 232.0h0M301.4 232.1h0M302.4 232.9h0M296.8 236.0h0M298.1 233.9h0M300.0 235.5h0M303.8 231.9h0M299.3 232.2h0M301.3 233.3h0M302.3 233.3h0M302.4 234.8h0M304.8 233.4h0M302.4 231.9h0M300.7 234.6h0M304.5 231.0h0M302.7 231.6h0M300.9 232.9h0M297.1 234.5h0M302.2 232.6h0M304.9 231.4h0M303.0 231.9h0M297.0 236.1h0M300.3 234.4h0M301.1 232.6h0M300.6 233.1h0M296.5 234.0h0M305.0 231.0h0M300.8 232.9h0M303.4 236.3h0M303.1 231.7h0M298.8 231.2h0M303.2 233.7h0M304.2 231.3h0M299.8 232.3h0M301.9 232.0h0" stroke="#f41818" stroke-opacity="0.5" stroke-width="0.8" stroke-linecap="square" fill="none"/>
<path d="M300.4 236.2h0M299.3 233.5h0M297.4 238.4h0M301.5 232.7h0M302.0 231.1h0M300.7 233.9h0M300.2 234.3h0M305.5 231.2h0M306.2 231.2h0" stroke="#fff" stroke-opacity="0.25" stroke-width="0.9" stroke-linecap="square" fill="none"/>
<path d="M309.0 228.3h0M302.3 229.5h0M300.4 231.8h0M300.4 230.9h0M306.3 236.0h0M299.6 235.6h0M303.5 229.6h0M300.2 232.4h0M302.9 230.2h0M313.1 226.9h0M309.0 233.1h0M307.2 228.6h0M303.4 231.6h0M304.1 233.4h0M292.2 235.0h0M301.2 234.2h0M299.8 233.5h0M307.0 230.7h0M301.1 232.2h0M296.8 237.4h0M301.2 230.6h0M303.3 230.6h0M298.5 230.6h0M304.4 228.8h0M303.2 232.1h0M299.5 234.0h0M300.5 232.8h0M301.7 230.9h0M304.5 230.9h0M297.6 236.4h0M300.6 234.5h0M293.0 239.5h0M292.3 237.9h0M314.8 225.0h0M304.8 228.5h0M297.0 235.5h0" stroke="#f53535" stroke-opacity="0.26" stroke-width="0.8" stroke-linecap="square" fill="none"/>
<ellipse cx="295" cy="241.5" rx="9.5" ry="12.5" transform="rotate(25 295 241.5)" fill="url(#rg)" fill-opacity="0.95" filter="url(#b1)"/>
<path d="M297.0 241.0h0M294.1 233.7h0M288.2 249.9h0M295.9 238.5h0M296.4 234.2h0M288.0 238.9h0M299.8 247.1h0M284.9 247.5h0M290.7 253.5h0M298.2 232.4h0M296.5 240.7h0M291.9 234.1h0M295.6 234.8h0M297.0 244.5h0M293.8 237.9h0M298.0 245.7h0M288.6 240.2h0M302.3 247.0h0M286.5 249.0h0M306.3 247.8h0M288.3 227.2h0M304.4 244.6h0M296.8 246.7h0M290.9 252.7h0M294.3 246.2h0M295.9 244.4h0M310.0 240.6h0M286.2 246.3h0M288.6 240.4h0M287.4 245.8h0M293.1 246.4h0M292.1 239.6h0M285.1 242.2h0M297.0 242.9h0M296.5 239.7h0M289.3 253.6h0M293.6 237.6h0M297.7 245.0h0M287.4 250.9h0M304.0 243.7h0M307.8 237.3h0M307.2 235.2h0M297.3 241.9h0M291.5 245.1h0M292.7 235.0h0M285.3 248.8h0M291.2 242.8h0M290.9 247.9h0M292.7 234.1h0M291.5 241.7h0M290.1 243.1h0M294.6 249.7h0M293.6 251.9h0M294.9 238.0h0M293.8 236.1h0M287.6 241.4h0M301.7 228.9h0M296.7 237.1h0M291.6 238.1h0M300.5 245.2h0M285.4 239.4h0M286.1 250.2h0M293.0 240.2h0M296.5 236.1h0M293.5 240.2h0M305.2 247.4h0M297.2 243.6h0M295.0 244.4h0M310.4 226.5h0M294.5 235.2h0M301.5 238.7h0M296.5 250.9h0M290.8 244.2h0M290.4 246.1h0M294.0 250.6h0M302.0 237.5h0M301.9 245.4h0M299.9 244.9h0M303.0 236.7h0M304.3 238.9h0M293.0 244.8h0M286.9 241.1h0M292.9 247.3h0M297.6 235.7h0M292.4 234.6h0M296.3 241.3h0M293.6 253.0h0M295.1 238.6h0M295.7 245.7h0M286.8 233.3h0M293.8 245.9h0M295.9 234.6h0M313.9 227.2h0M303.7 240.9h0M293.3 240.8h0M299.4 236.4h0M287.5 240.5h0M301.7 242.5h0M309.3 238.5h0M297.4 246.2h0M304.4 237.5h0M298.3 242.1h0M285.5 233.6h0M289.2 236.0h0M298.2 242.2h0M301.7 249.8h0M293.2 238.2h0M299.0 238.0h0M296.0 246.6h0M299.0 245.1h0M299.1 235.2h0M296.5 241.7h0M294.8 245.1h0M293.1 238.3h0M295.2 233.6h0M289.7 231.9h0M304.0 229.1h0M295.4 247.7h0M300.3 242.1h0M290.5 247.9h0M293.8 253.2h0M294.6 238.8h0M301.4 242.4h0M290.8 250.0h0M300.0 241.6h0M298.0 243.3h0M299.1 246.8h0M286.3 251.1h0M294.7 242.7h0M292.3 241.1h0M291.8 245.1h0M294.2 250.8h0M300.3 241.1h0M294.3 236.0h0M302.0 239.9h0M301.8 246.9h0M294.5 243.5h0M303.3 247.1h0M296.5 235.3h0M289.7 234.8h0M299.5 249.0h0M298.8 225.8h0M299.4 247.1h0M286.1 236.6h0M287.2 246.3h0M300.1 239.7h0M285.6 235.6h0M305.8 250.9h0M290.0 246.9h0M288.0 251.4h0M288.3 235.8h0M299.1 252.9h0M302.0 234.4h0M293.4 246.6h0M293.0 241.4h0M300.5 241.8h0M298.4 241.7h0M294.1 230.2h0M294.3 234.9h0M299.7 244.6h0M285.2 247.0h0M307.9 244.4h0M298.1 242.4h0M298.4 244.3h0M297.3 242.8h0M293.1 238.2h0M293.3 235.9h0M285.5 253.8h0M293.3 253.5h0M288.8 236.7h0M296.1 251.9h0M298.7 240.0h0M287.5 239.9h0M286.4 239.5h0M294.5 236.1h0M296.1 230.2h0M288.0 240.5h0M293.9 234.5h0M297.5 246.8h0M300.9 232.3h0M298.3 246.9h0M291.9 235.2h0M295.6 250.6h0M296.5 233.3h0M302.2 241.2h0M298.7 243.7h0M295.6 238.8h0M303.1 242.7h0M297.0 237.8h0M304.4 246.5h0M290.1 238.7h0M287.5 236.5h0M285.7 246.6h0M295.0 253.9h0M296.0 235.7h0M284.8 238.8h0M287.6 248.5h0M309.1 237.7h0M289.5 252.4h0M291.7 231.2h0M298.2 246.3h0M285.1 241.1h0M293.4 241.4h0M292.0 253.9h0M302.1 238.2h0M299.7 250.0h0M299.4 238.9h0M290.8 240.3h0M300.7 248.2h0M295.1 244.2h0M297.5 240.8h0M300.9 230.3h0M292.2 247.5h0M291.8 251.7h0M303.5 243.4h0M289.0 239.1h0M286.2 244.0h0M292.4 245.9h0M295.9 236.4h0M303.0 244.3h0M294.8 242.9h0M293.8 238.6h0M288.6 238.5h0M299.4 236.5h0M288.2 234.4h0M295.9 247.0h0M299.2 236.8h0M297.3 241.2h0M297.5 246.3h0M290.0 240.8h0" stroke="#f41818" stroke-opacity="0.5" stroke-width="0.8" stroke-linecap="square" fill="none"/>
<path d="M298.5 236.9h0M295.1 253.6h0M296.1 246.2h0M295.9 253.7h0M295.5 237.0h0M302.1 252.7h0M297.0 251.9h0M296.4 231.9h0M289.3 240.0h0M289.1 250.4h0M295.5 249.4h0M291.7 247.8h0M302.8 238.3h0M294.1 231.6h0M304.0 245.8h0M304.8 236.4h0M286.0 235.0h0M299.8 241.4h0M294.9 247.9h0M298.5 243.8h0M295.4 242.2h0M294.3 241.7h0M285.3 238.4h0M295.6 239.2h0M296.6 236.9h0M301.8 233.5h0M290.6 237.0h0M298.8 242.6h0M299.1 240.1h0M296.8 245.5h0M303.1 248.9h0M293.9 250.9h0M291.3 247.5h0M300.4 233.8h0M288.9 252.2h0M295.2 243.5h0M297.4 227.4h0M300.6 231.4h0M308.7 239.9h0M292.9 238.4h0M291.8 235.8h0M296.6 234.8h0M297.1 244.9h0M296.2 252.6h0M296.2 232.6h0M286.9 249.9h0M288.1 241.4h0M290.6 253.7h0M288.3 241.7h0M293.1 249.3h0" stroke="#fff" stroke-opacity="0.25" stroke-width="0.9" stroke-linecap="square" fill="none"/>
<path d="M291.5 226.2h0M298.0 253.6h0M299.1 247.7h0M299.2 237.7h0M288.5 251.8h0M319.7 241.5h0M290.3 253.5h0M305.0 232.4h0M290.5 246.3h0M296.6 243.9h0M305.1 252.5h0M293.4 238.1h0M322.7 239.6h0M285.9 243.6h0M308.8 234.3h0M298.0 234.6h0M299.2 229.4h0M296.9 243.8h0M290.8 249.1h0M285.1 253.6h0M288.5 243.8h0M296.2 244.8h0M285.0 244.5h0M300.8 251.7h0M293.3 242.8h0M289.8 240.3h0M293.2 253.5h0M286.0 242.7h0M285.2 229.8h0M289.9 216.2h0M297.9 231.1h0M296.7 241.6h0M294.2 247.3h0M286.2 245.7h0M285.4 247.1h0M284.9 249.1h0M297.0 215.6h0M303.8 242.3h0M285.2 253.4h0M312.7 227.0h0M297.4 249.7h0M286.8 242.8h0M285.0 238.4h0M284.9 246.3h0M284.7 252.1h0M290.9 237.3h0M304.7 254.0h0M302.6 234.6h0M294.0 246.8h0M291.9 228.0h0M309.3 240.4h0M288.2 230.5h0M316.6 235.6h0M294.8 247.2h0M295.3 243.2h0M317.9 225.1h0M285.1 235.0h0M295.0 225.2h0M284.8 250.9h0M291.5 245.5h0M305.7 253.8h0M307.7 222.2h0M300.2 235.0h0M287.6 246.1h0M295.6 241.2h0M285.1 253.7h0M294.9 240.7h0M296.8 247.5h0M291.0 253.8h0M308.2 252.4h0M285.0 239.4h0M285.4 252.7h0M301.9 253.6h0M289.2 253.5h0M286.6 230.1h0M285.5 231.1h0M302.6 250.2h0M285.2 236.1h0M300.1 253.2h0M296.4 244.2h0M312.0 253.4h0M295.0 253.4h0M303.1 251.4h0M290.6 253.5h0M301.6 225.0h0M285.5 231.3h0M297.7 242.8h0M290.2 253.6h0M296.3 239.1h0M291.9 253.6h0M291.6 244.8h0M293.5 243.7h0M309.7 250.6h0M285.0 253.5h0M287.1 253.9h0M296.8 240.7h0M287.3 220.7h0M298.0 236.3h0M301.7 222.8h0M295.2 253.7h0M293.4 234.7h0M310.8 225.5h0M300.7 250.8h0M294.5 240.4h0M285.5 229.8h0M285.2 250.2h0M314.3 240.3h0M299.1 241.7h0M302.3 244.9h0M289.2 245.3h0M305.1 229.8h0M284.8 240.4h0M284.8 235.3h0M296.0 253.7h0M293.9 243.6h0M299.2 241.9h0M307.6 226.2h0M284.9 243.2h0M291.8 249.1h0M310.7 234.3h0M301.5 230.1h0M306.9 252.0h0M303.0 242.3h0M293.8 235.7h0M309.4 243.3h0M303.7 253.4h0M295.9 229.4h0M285.2 221.2h0M296.3 228.6h0M307.9 243.8h0M303.0 228.8h0M304.2 223.2h0M285.8 237.3h0M291.9 253.3h0M298.9 230.0h0M303.5 253.8h0M293.7 225.8h0M296.2 253.7h0M301.9 221.4h0M295.7 250.2h0M294.3 240.9h0M300.5 242.7h0M296.2 253.5h0M289.4 254.0h0M294.6 234.1h0M304.7 252.3h0M312.0 232.6h0M298.1 250.1h0M292.6 241.4h0M312.7 233.4h0M315.0 245.2h0M302.2 235.5h0M293.7 219.2h0M298.1 243.2h0M298.7 242.8h0M304.4 238.9h0M290.4 252.1h0M308.6 235.1h0M299.2 253.8h0M285.0 254.0h0M285.2 233.7h0M289.1 235.1h0M318.8 250.5h0M287.3 233.2h0M289.8 227.2h0M285.4 253.3h0M285.1 247.6h0M284.9 223.2h0M302.7 240.1h0M304.1 249.5h0M290.4 234.0h0M287.8 246.5h0M299.5 251.6h0M287.1 235.8h0M304.4 234.3h0M303.7 223.6h0M286.1 236.8h0M288.6 253.3h0M319.5 227.1h0M314.4 217.8h0M290.0 232.0h0M308.0 245.3h0M305.2 253.3h0M287.3 223.4h0M285.3 245.5h0M289.7 228.7h0M304.4 237.0h0M296.6 214.7h0M303.5 253.5h0M296.8 229.2h0M302.9 248.8h0M294.9 248.9h0M285.2 235.7h0M308.4 240.1h0M302.4 228.6h0M301.5 246.4h0M298.6 253.7h0M284.8 253.7h0M292.4 243.7h0M286.2 253.5h0" stroke="#f53535" stroke-opacity="0.26" stroke-width="0.8" stroke-linecap="square" fill="none"/>
</g>
<g clip-path="url(#g9)">
<ellipse cx="315.8" cy="223.8" rx="9.5" ry="2.3" transform="rotate(-30 315.8 223.8)" fill="url(#bg)" fill-opacity="1.00" filter="url(#b1)"/>
<path d="M311.4 228.2h0M318.4 221.4h0M315.3 223.4h0M318.8 222.6h0M315.2 225.8h0M325.6 219.2h0M316.6 224.7h0M310.7 227.1h0M314.6 224.3h0M314.5 224.3h0M318.4 223.4h0M307.8 228.2h0M317.0 223.2h0M313.0 226.0h0M312.7 222.8h0M319.2 221.5h0M313.3 224.9h0M308.1 227.5h0M305.0 226.7h0M312.6 226.8h0M322.3 218.4h0M318.4 223.8h0M315.8 223.2h0M318.7 219.1h0M314.0 224.2h0M313.0 225.1h0M318.3 221.6h0M321.2 221.2h0M317.9 225.7h0M317.2 223.7h0M312.6 226.9h0M308.6 229.9h0M320.2 222.6h0M322.2 218.2h0M314.2 224.2h0M320.5 221.1h0M314.4 224.0h0M320.4 222.1h0M316.8 220.7h0M313.3 226.1h0M310.7 226.0h0M316.2 224.4h0M317.9 222.8h0M316.2 219.7h0M317.2 220.7h0M312.2 226.3h0M310.9 226.8h0M320.4 217.6h0M312.9 226.2h0M312.8 221.9h0M317.1 220.2h0M308.5 228.4h0M321.6 225.6h0M317.8 225.4h0M316.7 220.1h0M312.5 227.1h0M326.0 218.3h0M313.2 224.9h0M313.7 226.3h0M311.7 226.4h0M316.0 225.6h0M315.2 222.4h0M311.5 226.8h0M323.1 218.6h0M315.0 223.8h0M315.5 222.3h0M313.2 223.6h0M321.6 221.4h0M315.0 223.3h0M312.5 224.9h0M317.4 222.9h0M313.3 226.0h0M318.3 223.6h0M316.3 221.7h0M305.6 228.2h0M318.0 225.9h0M311.3 224.1h0M318.1 222.0h0M311.3 227.5h0M316.7 224.6h0M316.1 220.9h0M315.3 224.6h0M309.5 227.5h0M319.1 220.3h0M307.2 228.0h0M311.4 224.4h0M323.6 219.6h0M310.4 227.7h0M307.2 228.1h0M322.2 222.9h0M322.6 222.2h0M316.4 223.1h0M306.7 228.1h0M315.0 225.1h0M318.9 221.6h0M320.3 221.2h0M321.4 219.9h0M319.2 222.4h0M315.2 224.0h0M317.1 224.6h0M311.1 226.4h0M314.5 225.1h0M309.3 226.1h0M314.2 221.5h0" stroke="#3a4af0" stroke-opacity="0.45" stroke-width="0.8" stroke-linecap="square" fill="none"/>
<path d="M320.6 218.9h0M316.8 224.5h0M309.6 223.4h0M317.3 222.5h0M314.3 222.3h0M313.5 226.0h0M319.6 225.4h0M321.6 218.8h0M313.5 223.1h0M312.7 227.0h0M308.1 227.3h0M315.5 229.4h0M307.7 222.7h0M324.7 216.9h0M313.2 228.7h0M311.2 224.4h0M316.9 219.7h0M310.4 227.4h0M321.2 223.0h0M313.1 223.7h0M320.2 227.8h0M319.5 216.2h0M324.7 223.9h0M306.2 229.6h0M315.9 226.4h0M312.1 223.8h0M324.7 215.8h0M314.0 222.6h0M318.9 223.0h0M316.4 227.7h0M319.9 217.2h0M310.2 224.5h0M310.4 228.7h0M305.6 224.3h0M319.7 224.9h0M314.8 226.7h0M323.4 225.0h0M324.9 222.8h0M309.6 228.6h0M315.8 223.3h0M313.6 226.2h0M326.0 218.0h0" stroke="#7580f0" stroke-opacity="0.35" stroke-width="0.8" stroke-linecap="square" fill="none"/>
</g>
<line x1="284.4" y1="201.8" x2="284.4" y2="254.3" stroke="#808080" stroke-width="0.7"/>
<line x1="284.4" y1="254.3" x2="338.4" y2="254.3" stroke="#808080" stroke-width="0.7"/>
<line x1="283.2" y1="204.60000000000002" x2="284.4" y2="204.60000000000002" stroke="#777" stroke-width="0.5"/>
<text x="283.0" y="205.8" font-size="3.4" text-anchor="end" font-family='"Liberation Serif", serif' fill="#555">1<tspan font-size="2.4" dy="-1.1">1</tspan></text>
<line x1="283.2" y1="218.3" x2="284.4" y2="218.3" stroke="#777" stroke-width="0.5"/>
<text x="283.0" y="219.5" font-size="3.4" text-anchor="end" font-family='"Liberation Serif", serif' fill="#555">1<tspan font-size="2.4" dy="-1.1">2</tspan></text>
<line x1="283.2" y1="232.0" x2="284.4" y2="232.0" stroke="#777" stroke-width="0.5"/>
<text x="283.0" y="233.2" font-size="3.4" text-anchor="end" font-family='"Liberation Serif", serif' fill="#555">1<tspan font-size="2.4" dy="-1.1">3</tspan></text>
<line x1="283.2" y1="245.8" x2="284.4" y2="245.8" stroke="#777" stroke-width="0.5"/>
<text x="283.0" y="247.0" font-size="3.4" text-anchor="end" font-family='"Liberation Serif", serif' fill="#555">1<tspan font-size="2.4" dy="-1.1">4</tspan></text>
<line x1="293.4" y1="254.3" x2="293.4" y2="255.5" stroke="#777" stroke-width="0.5"/>
<text x="293.4" y="258.1" font-size="3.4" text-anchor="middle" font-family='"Liberation Serif", serif' fill="#555">1<tspan font-size="2.4" dy="-1.1">1</tspan></text>
<line x1="307.2" y1="254.3" x2="307.2" y2="255.5" stroke="#777" stroke-width="0.5"/>
<text x="307.2" y="258.1" font-size="3.4" text-anchor="middle" font-family='"Liberation Serif", serif' fill="#555">1<tspan font-size="2.4" dy="-1.1">2</tspan></text>
<line x1="321.0" y1="254.3" x2="321.0" y2="255.5" stroke="#777" stroke-width="0.5"/>
<text x="321.0" y="258.1" font-size="3.4" text-anchor="middle" font-family='"Liberation Serif", serif' fill="#555">1<tspan font-size="2.4" dy="-1.1">3</tspan></text>
<line x1="334.79999999999995" y1="254.3" x2="334.79999999999995" y2="255.5" stroke="#777" stroke-width="0.5"/>
<text x="334.79999999999995" y="258.1" font-size="3.4" text-anchor="middle" font-family='"Liberation Serif", serif' fill="#555">1<tspan font-size="2.4" dy="-1.1">4</tspan></text>
<rect x="304" y="215.2" width="22.6" height="15.4" fill="none" stroke="#767676" stroke-width="0.75"/>
<text x="312" y="213.6" font-size="5.6" font-family='"Liberation Serif", serif' font-weight="bold" fill="#111" textLength="16.5" lengthAdjust="spacingAndGlyphs">10.3%</text>
<clipPath id="c10"><rect x="341.7" y="201.8" width="53.7" height="52.2"/></clipPath>
<clipPath id="g10"><rect x="360.7" y="214.8" width="22.8" height="14.5"/></clipPath>
<g clip-path="url(#c10)">
<ellipse cx="360" cy="231.5" rx="4.5" ry="2" transform="rotate(-40 360 231.5)" fill="url(#rg)" fill-opacity="0.17" filter="url(#b1)"/>
<path d="M357.9 232.6h0M358.6 232.2h0M360.2 228.9h0M359.0 231.6h0M358.2 232.8h0M361.7 233.6h0M360.6 231.0h0M360.9 229.2h0M359.3 232.9h0M358.4 231.5h0M357.9 231.3h0M363.1 230.7h0M364.8 227.1h0M359.4 231.7h0M361.0 230.7h0M361.3 230.0h0M358.4 235.1h0M359.9 233.3h0M359.5 232.2h0M356.2 233.3h0M361.2 231.4h0M359.7 232.0h0M356.5 234.5h0M358.0 231.7h0M360.3 230.6h0M358.0 232.6h0M359.0 231.9h0M359.8 231.0h0M362.8 231.4h0M361.7 229.6h0M359.1 232.8h0M360.6 233.0h0M360.7 231.5h0M359.0 232.6h0M356.9 232.0h0M359.6 230.2h0M359.5 233.2h0M363.0 229.0h0M359.7 232.8h0M362.2 230.4h0M358.0 232.5h0" stroke="#f41818" stroke-opacity="0.5" stroke-width="0.8" stroke-linecap="square" fill="none"/>
<path d="M361.3 228.7h0M361.1 232.5h0M361.6 229.1h0M359.2 231.8h0M357.8 233.5h0M358.7 233.5h0M357.3 232.8h0M358.8 232.6h0M355.7 236.6h0" stroke="#fff" stroke-opacity="0.25" stroke-width="0.9" stroke-linecap="square" fill="none"/>
<path d="M359.4 232.3h0M364.1 228.1h0M361.5 230.5h0M363.6 230.2h0M363.7 228.3h0M356.9 234.7h0M356.4 234.5h0M356.4 229.3h0M357.7 231.0h0M353.6 232.5h0M362.1 231.2h0M355.1 233.1h0M356.0 232.3h0M360.6 228.5h0M360.0 225.5h0M355.0 237.6h0M356.1 229.7h0M367.7 226.6h0M357.8 227.0h0M362.5 229.1h0M358.5 231.5h0M352.4 234.8h0M362.1 231.9h0M362.3 230.4h0M360.9 231.8h0M366.8 225.7h0M355.2 236.5h0M357.3 231.0h0M356.5 236.1h0M357.3 233.1h0M358.3 235.6h0M357.8 232.1h0M353.3 233.9h0M362.0 227.2h0M363.7 229.5h0M361.2 231.0h0" stroke="#f53535" stroke-opacity="0.26" stroke-width="0.8" stroke-linecap="square" fill="none"/>
<ellipse cx="352.5" cy="242" rx="7.5" ry="13.5" transform="rotate(35 352.5 242)" fill="url(#rg)" fill-opacity="0.95" filter="url(#b1)"/>
<path d="M347.7 248.6h0M358.8 233.6h0M345.0 250.4h0M348.7 238.9h0M347.6 248.3h0M343.8 248.1h0M348.3 240.2h0M348.0 240.3h0M356.8 231.6h0M357.7 236.9h0M365.5 228.5h0M358.2 245.3h0M355.2 250.9h0M353.5 241.3h0M347.8 245.8h0M358.1 233.5h0M349.4 245.5h0M351.6 244.9h0M364.2 229.6h0M346.6 252.6h0M355.4 242.3h0M351.2 236.9h0M360.6 244.8h0M354.5 244.0h0M359.6 237.3h0M347.5 236.2h0M363.8 227.4h0M350.8 243.3h0M353.4 239.9h0M349.7 232.9h0M345.4 244.4h0M351.2 245.8h0M352.5 230.8h0M353.4 242.6h0M358.5 241.0h0M347.0 245.6h0M351.6 237.4h0M349.9 253.5h0M356.9 233.1h0M363.1 223.3h0M348.3 253.3h0M357.4 237.9h0M350.7 237.1h0M349.5 248.9h0M348.9 253.4h0M348.8 251.2h0M349.1 229.2h0M357.2 237.1h0M350.8 242.8h0M354.1 245.6h0M353.9 242.1h0M349.2 251.2h0M349.0 244.0h0M353.9 242.1h0M352.2 236.2h0M348.9 244.4h0M350.6 248.6h0M357.3 235.2h0M362.3 230.5h0M348.0 253.4h0M351.6 236.7h0M346.2 236.0h0M350.1 242.9h0M354.7 242.4h0M352.5 251.0h0M348.2 245.9h0M355.5 228.7h0M342.4 250.0h0M353.1 233.9h0M352.1 241.4h0M349.9 251.6h0M353.8 239.1h0M353.7 235.0h0M351.5 237.0h0M349.2 248.0h0M355.2 242.7h0M359.2 238.2h0M354.5 250.9h0M358.0 247.7h0M342.4 250.8h0M356.0 236.0h0M354.4 224.4h0M351.0 246.4h0M343.3 251.9h0M349.3 246.6h0M352.9 234.3h0M346.1 243.1h0M352.8 242.4h0M353.4 243.1h0M365.5 226.1h0M351.9 247.9h0M355.7 245.1h0M355.1 233.0h0M359.1 240.0h0M354.3 246.1h0M348.6 241.3h0M355.8 247.1h0M346.7 239.0h0M350.4 243.2h0M349.7 245.6h0M350.0 241.5h0M353.7 248.1h0M352.0 244.9h0M351.8 251.2h0M361.9 233.1h0M351.0 235.1h0M357.1 235.6h0M347.6 237.7h0M353.8 233.6h0M354.2 234.2h0M349.6 247.5h0M355.4 235.2h0M357.8 238.9h0M353.5 238.8h0M342.6 251.9h0M349.3 251.1h0M356.0 246.6h0M342.9 241.1h0M361.7 234.5h0M344.5 247.8h0M350.6 249.4h0M346.5 244.3h0M349.2 245.9h0M348.4 237.5h0M348.8 230.8h0M351.5 239.5h0M353.5 236.6h0M355.0 241.9h0M345.9 241.0h0M357.5 243.4h0M343.2 246.2h0M363.4 230.1h0M354.4 238.7h0M360.8 246.7h0M345.5 242.3h0M364.5 233.0h0M354.1 239.2h0M353.8 246.5h0M348.7 241.5h0M359.7 231.7h0M344.4 244.6h0M345.6 253.7h0M350.1 245.6h0M341.8 246.7h0M352.1 233.7h0M357.7 237.5h0M365.3 244.2h0M348.6 235.9h0M359.8 237.5h0M351.3 250.9h0M343.8 240.8h0M352.0 243.0h0M351.0 246.0h0M348.8 243.6h0M345.3 247.4h0M350.6 249.3h0M352.0 242.3h0M355.1 234.3h0M362.2 230.5h0M355.6 248.4h0M343.6 240.5h0M351.9 253.1h0M350.3 242.2h0M343.7 240.2h0M353.6 246.7h0M352.6 242.6h0M359.3 236.6h0M349.9 231.8h0M354.3 253.3h0M360.9 230.2h0M357.8 237.4h0M361.9 253.2h0M353.9 232.4h0M354.9 236.5h0M354.3 235.0h0M348.1 249.5h0M349.0 241.1h0M361.8 228.7h0M352.4 240.8h0M349.6 236.4h0M357.0 238.1h0M348.7 248.1h0M349.4 253.1h0M355.9 246.3h0M353.9 241.0h0M346.5 253.3h0M343.6 250.3h0M355.4 245.8h0M354.1 244.9h0M356.9 246.5h0M348.4 241.5h0M344.9 243.3h0M349.9 245.4h0M355.6 247.6h0M353.9 237.2h0M344.7 234.2h0M345.6 239.7h0M345.6 246.5h0M359.9 233.4h0M352.2 237.5h0M354.4 247.0h0M355.9 236.0h0M356.7 234.8h0M354.1 248.2h0M350.8 238.4h0M343.8 253.5h0M351.3 233.7h0M356.0 248.3h0M350.4 249.4h0M347.2 243.9h0M355.8 238.4h0M361.5 242.3h0M345.1 237.8h0M348.2 232.8h0M342.4 236.7h0M358.5 233.0h0M357.9 245.3h0M346.5 250.9h0M350.4 248.6h0M354.5 237.8h0M348.9 242.5h0M348.8 242.8h0M358.4 229.7h0M346.4 239.4h0M360.4 231.1h0M360.0 234.7h0M359.0 231.9h0M347.6 236.3h0M348.2 252.4h0M353.8 234.3h0" stroke="#f41818" stroke-opacity="0.5" stroke-width="0.8" stroke-linecap="square" fill="none"/>
<path d="M355.8 241.6h0M356.7 237.9h0M345.7 244.2h0M345.9 243.0h0M352.7 244.0h0M355.7 236.5h0M344.4 251.5h0M358.4 233.9h0M357.8 237.4h0M360.8 238.8h0M363.4 234.7h0M360.0 225.9h0M357.7 234.8h0M352.1 248.5h0M352.6 240.6h0M352.1 236.0h0M350.9 241.4h0M354.0 249.8h0M349.6 245.6h0M354.5 240.9h0M358.8 228.8h0M360.9 239.1h0M354.6 247.0h0M358.6 239.0h0M348.3 235.4h0M351.5 236.9h0M351.9 235.5h0M350.3 243.7h0M341.9 253.5h0M347.4 247.3h0M354.5 242.8h0M347.9 248.4h0M347.8 240.9h0M349.6 245.5h0M351.4 239.1h0M358.5 246.6h0M357.2 236.0h0M356.0 240.5h0M361.1 239.3h0M353.2 239.7h0M355.5 238.1h0M349.3 237.0h0M353.9 246.1h0M361.7 240.4h0M341.7 253.6h0M354.4 249.6h0M363.4 231.5h0M354.9 230.8h0M344.5 253.7h0M356.0 232.7h0" stroke="#fff" stroke-opacity="0.25" stroke-width="0.9" stroke-linecap="square" fill="none"/>
<path d="M355.2 232.0h0M352.4 238.8h0M341.7 250.1h0M364.0 232.9h0M360.6 241.2h0M364.6 237.5h0M348.0 240.7h0M368.9 228.8h0M344.4 245.3h0M345.1 250.9h0M354.3 253.3h0M347.3 242.2h0M355.1 235.0h0M353.4 241.6h0M348.1 231.5h0M346.4 246.3h0M364.6 238.1h0M355.5 235.2h0M364.2 252.3h0M351.0 245.8h0M363.2 229.5h0M358.9 248.6h0M341.8 231.4h0M351.9 236.8h0M354.4 223.5h0M358.7 243.6h0M352.0 239.3h0M356.8 242.5h0M357.8 220.4h0M341.7 234.5h0M341.9 245.1h0M354.2 240.9h0M370.6 231.8h0M347.3 253.6h0M347.1 248.3h0M344.1 234.4h0M344.0 245.8h0M344.2 253.3h0M349.7 224.3h0M353.7 241.1h0M351.3 247.8h0M342.0 253.3h0M342.3 236.5h0M361.5 235.7h0M356.4 245.0h0M353.3 228.9h0M343.5 253.3h0M355.1 245.4h0M345.8 234.8h0M361.1 240.4h0M362.7 232.8h0M342.5 253.5h0M343.0 236.0h0M342.2 253.6h0M350.4 241.2h0M354.6 249.5h0M348.4 242.5h0M364.5 234.1h0M363.9 242.7h0M357.9 236.6h0M355.1 246.9h0M349.7 242.5h0M359.6 241.2h0M355.1 239.2h0M360.9 236.5h0M345.5 235.1h0M352.7 233.7h0M345.1 252.3h0M352.4 241.8h0M350.0 246.2h0M366.9 231.0h0M366.3 231.3h0M356.1 247.6h0M362.9 237.4h0M347.1 246.5h0M356.4 241.1h0M344.3 246.7h0M356.4 218.6h0M370.6 214.1h0M342.3 253.5h0M354.4 238.3h0M348.6 224.9h0M355.6 246.3h0M346.9 233.4h0M345.1 227.9h0M341.8 248.2h0M345.9 229.3h0M342.0 249.8h0M367.5 232.0h0M365.4 239.4h0M342.4 253.7h0M343.8 247.5h0M353.9 229.8h0M358.7 246.0h0M361.6 241.4h0M344.6 253.4h0M355.7 232.5h0M351.3 232.4h0M354.3 244.0h0M342.4 248.6h0M344.8 253.4h0M348.0 244.5h0M342.3 253.4h0M366.3 232.6h0M356.5 252.9h0M356.0 246.1h0M355.9 254.0h0M359.6 235.9h0M360.0 246.8h0M358.7 237.9h0M364.8 229.4h0M355.4 253.7h0M360.1 232.2h0M349.4 246.0h0M352.3 233.9h0M345.2 253.9h0M350.6 253.6h0M344.8 248.3h0M343.6 242.6h0M346.2 242.3h0M368.4 219.8h0M348.6 229.3h0M359.9 235.2h0M364.7 235.6h0M354.6 228.6h0M363.3 237.4h0M356.9 233.3h0M348.7 253.3h0M357.6 237.8h0M357.6 233.2h0M352.0 253.7h0M355.5 249.9h0M356.9 224.9h0M356.1 237.4h0M351.3 251.0h0M372.4 228.2h0M345.5 243.1h0M353.0 231.4h0M359.2 249.3h0M365.0 240.7h0M354.9 237.8h0M353.4 218.3h0M345.4 250.7h0M342.6 253.5h0M341.7 253.7h0M357.5 227.9h0M357.8 235.0h0M344.8 253.0h0M342.7 245.5h0M358.2 244.9h0M370.3 230.3h0M343.4 249.9h0M359.8 250.5h0M348.5 240.1h0M362.3 239.1h0M344.5 253.6h0M349.8 250.3h0M355.8 226.2h0M352.6 253.9h0M362.5 229.8h0M352.7 228.5h0M365.5 226.7h0M362.7 230.7h0M348.5 240.9h0M357.8 226.0h0M364.1 227.7h0M350.4 240.7h0M356.2 225.7h0M351.3 249.7h0M348.8 241.2h0M354.9 243.4h0M363.0 219.2h0M355.6 250.8h0M342.0 241.9h0M362.3 243.9h0M367.3 220.9h0M352.5 246.7h0M356.8 218.7h0M365.0 217.3h0M349.8 250.9h0M346.7 253.9h0M357.6 242.7h0M343.6 241.6h0M349.6 236.1h0M352.2 242.0h0M359.5 247.2h0M352.7 253.2h0M343.1 244.3h0M341.8 253.4h0M341.9 253.2h0M355.9 253.3h0M342.4 253.3h0M359.3 253.6h0M360.5 231.9h0M356.4 253.8h0M363.7 222.5h0M360.1 221.1h0M341.8 246.4h0M360.0 239.8h0M347.0 251.3h0" stroke="#f53535" stroke-opacity="0.26" stroke-width="0.8" stroke-linecap="square" fill="none"/>
</g>
<g clip-path="url(#g10)">
<ellipse cx="371.5" cy="223" rx="9.5" ry="2.4" transform="rotate(-32 371.5 223)" fill="url(#bg)" fill-opacity="1.00" filter="url(#b1)"/>
<path d="M367.9 225.9h0M375.7 224.2h0M369.4 223.7h0M367.5 225.9h0M372.2 220.4h0M377.5 219.5h0M367.8 225.4h0M368.3 225.5h0M374.7 222.1h0M373.2 221.9h0M362.8 227.0h0M374.4 219.8h0M369.4 222.5h0M368.8 224.3h0M374.0 218.7h0M371.8 225.1h0M375.3 223.5h0M374.0 222.2h0M367.5 225.8h0M369.4 224.7h0M370.3 222.8h0M377.0 220.8h0M373.8 219.3h0M370.4 222.4h0M368.0 226.9h0M370.6 225.1h0M371.5 222.3h0M368.5 223.7h0M372.1 225.7h0M372.0 222.1h0M375.7 221.2h0M367.2 226.3h0M368.1 223.9h0M375.2 225.3h0M380.3 217.4h0M377.3 215.4h0M371.9 220.6h0M374.8 221.3h0M366.3 225.2h0M371.8 222.6h0M369.9 224.3h0M371.3 224.7h0M369.4 221.4h0M369.0 222.8h0M363.4 227.7h0M370.0 222.9h0M376.2 217.7h0M369.3 221.9h0M368.4 224.6h0M373.5 222.1h0M375.0 221.1h0M377.8 219.0h0M380.7 217.2h0M376.5 220.5h0M367.7 224.8h0M374.4 219.8h0M362.7 226.1h0M368.5 227.4h0M370.7 221.4h0M366.9 226.4h0M368.5 224.0h0M367.9 225.6h0M368.9 224.3h0M379.0 218.8h0M371.7 223.2h0M377.6 221.7h0M367.7 226.5h0M361.4 227.1h0M369.7 220.9h0M377.1 220.7h0M369.2 223.3h0M370.3 224.2h0M370.9 221.3h0M378.3 220.7h0M376.4 219.3h0M376.3 218.7h0M368.8 226.2h0M380.7 216.5h0M366.0 227.3h0M368.0 228.0h0M373.0 220.7h0M369.7 223.9h0M378.8 221.0h0M373.7 221.3h0M372.3 221.9h0M369.8 225.7h0M375.1 219.6h0M367.9 226.7h0M377.0 220.3h0M372.2 223.6h0M381.6 217.9h0M373.3 224.4h0M368.0 226.2h0M372.7 221.1h0M366.7 226.5h0M371.1 219.5h0M370.5 223.9h0M378.4 219.8h0M371.1 222.9h0M377.4 219.0h0M372.0 223.0h0M369.6 224.8h0M373.6 221.2h0M368.9 222.9h0M376.1 219.3h0M361.0 225.5h0M368.2 226.6h0" stroke="#3a4af0" stroke-opacity="0.45" stroke-width="0.8" stroke-linecap="square" fill="none"/>
<path d="M372.2 223.9h0M371.3 218.9h0M375.4 218.5h0M371.9 228.7h0M379.3 219.1h0M370.5 218.8h0M366.7 229.2h0M361.9 227.7h0M378.3 220.5h0M364.1 227.5h0M364.4 226.5h0M373.5 220.0h0M365.4 221.9h0M365.4 226.5h0M383.1 216.9h0M376.5 216.1h0M367.3 221.1h0M379.1 215.3h0M372.6 222.1h0M370.8 221.0h0M375.7 215.0h0M372.3 222.7h0M370.1 224.3h0M375.0 220.6h0M369.0 226.8h0M380.5 218.7h0M381.5 219.7h0M366.7 225.6h0M368.8 222.9h0M381.9 221.0h0M381.1 220.1h0M370.1 222.4h0M375.6 218.4h0M363.2 226.8h0M367.2 227.7h0M378.0 218.8h0M381.6 215.2h0M363.0 227.9h0M374.0 216.9h0M364.9 227.1h0M363.2 226.1h0M367.6 228.0h0M376.8 219.1h0M361.6 228.7h0M382.5 217.6h0M365.1 225.8h0M375.0 218.7h0M378.5 216.8h0M378.0 218.3h0M375.5 222.6h0M381.4 219.7h0" stroke="#7580f0" stroke-opacity="0.35" stroke-width="0.8" stroke-linecap="square" fill="none"/>
</g>
<line x1="341.4" y1="201.8" x2="341.4" y2="254.3" stroke="#808080" stroke-width="0.7"/>
<line x1="341.4" y1="254.3" x2="395.4" y2="254.3" stroke="#808080" stroke-width="0.7"/>
<line x1="340.2" y1="204.60000000000002" x2="341.4" y2="204.60000000000002" stroke="#777" stroke-width="0.5"/>
<text x="340.0" y="205.8" font-size="3.4" text-anchor="end" font-family='"Liberation Serif", serif' fill="#555">1<tspan font-size="2.4" dy="-1.1">1</tspan></text>
<line x1="340.2" y1="218.3" x2="341.4" y2="218.3" stroke="#777" stroke-width="0.5"/>
<text x="340.0" y="219.5" font-size="3.4" text-anchor="end" font-family='"Liberation Serif", serif' fill="#555">1<tspan font-size="2.4" dy="-1.1">2</tspan></text>
<line x1="340.2" y1="232.0" x2="341.4" y2="232.0" stroke="#777" stroke-width="0.5"/>
<text x="340.0" y="233.2" font-size="3.4" text-anchor="end" font-family='"Liberation Serif", serif' fill="#555">1<tspan font-size="2.4" dy="-1.1">3</tspan></text>
<line x1="340.2" y1="245.8" x2="341.4" y2="245.8" stroke="#777" stroke-width="0.5"/>
<text x="340.0" y="247.0" font-size="3.4" text-anchor="end" font-family='"Liberation Serif", serif' fill="#555">1<tspan font-size="2.4" dy="-1.1">4</tspan></text>
<line x1="350.4" y1="254.3" x2="350.4" y2="255.5" stroke="#777" stroke-width="0.5"/>
<text x="350.4" y="258.1" font-size="3.4" text-anchor="middle" font-family='"Liberation Serif", serif' fill="#555">1<tspan font-size="2.4" dy="-1.1">1</tspan></text>
<line x1="364.2" y1="254.3" x2="364.2" y2="255.5" stroke="#777" stroke-width="0.5"/>
<text x="364.2" y="258.1" font-size="3.4" text-anchor="middle" font-family='"Liberation Serif", serif' fill="#555">1<tspan font-size="2.4" dy="-1.1">2</tspan></text>
<line x1="378.0" y1="254.3" x2="378.0" y2="255.5" stroke="#777" stroke-width="0.5"/>
<text x="378.0" y="258.1" font-size="3.4" text-anchor="middle" font-family='"Liberation Serif", serif' fill="#555">1<tspan font-size="2.4" dy="-1.1">3</tspan></text>
<line x1="391.79999999999995" y1="254.3" x2="391.79999999999995" y2="255.5" stroke="#777" stroke-width="0.5"/>
<text x="391.79999999999995" y="258.1" font-size="3.4" text-anchor="middle" font-family='"Liberation Serif", serif' fill="#555">1<tspan font-size="2.4" dy="-1.1">4</tspan></text>
<rect x="360.3" y="214.4" width="23.6" height="15.3" fill="none" stroke="#767676" stroke-width="0.75"/>
<text x="370.5" y="213.3" font-size="5.6" font-family='"Liberation Serif", serif' font-weight="bold" fill="#111" textLength="15.7" lengthAdjust="spacingAndGlyphs">11.5%</text>
<clipPath id="c11"><rect x="403.7" y="201.8" width="53.7" height="52.2"/></clipPath>
<clipPath id="g11"><rect x="421.9" y="214.8" width="22.0" height="14.1"/></clipPath>
<g clip-path="url(#c11)">
<ellipse cx="410" cy="231" rx="7.5" ry="7" transform="rotate(0 410 231)" fill="url(#rg)" fill-opacity="0.47" filter="url(#b1)"/>
<path d="M405.0 232.5h0M414.1 229.0h0M404.5 230.7h0M412.0 235.2h0M405.0 226.0h0M412.9 232.8h0M416.3 234.8h0M409.6 229.9h0M420.6 229.9h0M406.8 226.6h0M410.4 231.6h0M408.6 230.8h0M411.1 233.7h0M414.5 231.8h0M403.9 233.7h0M404.1 230.3h0M403.9 231.0h0M406.8 231.8h0M423.6 230.8h0M413.5 225.9h0M408.8 233.6h0M409.6 232.4h0M410.4 227.1h0M412.3 227.9h0M417.7 229.1h0M412.8 231.0h0M413.9 228.7h0M414.1 230.5h0M415.2 233.4h0M410.6 228.0h0M413.2 232.8h0M416.8 229.5h0M412.3 233.0h0M411.2 231.8h0M410.8 228.7h0M405.8 229.5h0M412.4 236.8h0M414.0 235.1h0M413.2 233.7h0M410.8 234.0h0M417.3 229.7h0M407.1 238.5h0M411.0 234.7h0M413.6 226.6h0M420.0 237.8h0M410.7 233.9h0M410.5 227.6h0M409.5 232.4h0M414.6 233.7h0M410.2 236.2h0M406.9 234.1h0M414.6 229.9h0M403.8 227.5h0M411.0 233.0h0M416.4 227.1h0M410.0 233.5h0M409.3 221.9h0M413.3 239.9h0M414.1 227.5h0M408.3 231.9h0M420.3 233.4h0M410.5 237.0h0M409.7 238.2h0M407.2 229.2h0M413.0 236.5h0M412.7 232.2h0M404.1 228.3h0M407.5 228.9h0M412.4 229.7h0M413.2 231.3h0M408.6 231.5h0M411.8 234.3h0M408.0 230.1h0M404.4 237.2h0M416.0 230.3h0M408.0 226.2h0M410.7 231.8h0M419.0 231.9h0M406.8 221.6h0M415.8 231.7h0M403.9 231.7h0M403.9 244.4h0M414.6 233.2h0M409.3 222.8h0M409.5 225.0h0M412.5 222.8h0M406.3 235.7h0M416.8 226.5h0M404.0 234.4h0M413.5 227.2h0M407.1 228.3h0M405.1 228.4h0M415.2 233.7h0M418.5 230.7h0M409.4 227.2h0M409.5 225.9h0M404.2 233.7h0M415.9 234.2h0M415.5 232.0h0M407.0 231.3h0M408.5 226.7h0M404.1 225.3h0M410.0 231.6h0M408.0 236.5h0M410.7 233.2h0M415.0 227.8h0M404.0 233.9h0M407.2 236.0h0M411.4 234.9h0M413.2 223.0h0M413.0 228.4h0M406.9 229.3h0M413.2 234.4h0M414.2 224.6h0M407.6 221.9h0" stroke="#f41818" stroke-opacity="0.5" stroke-width="0.8" stroke-linecap="square" fill="none"/>
<path d="M416.8 220.9h0M408.3 231.5h0M419.0 232.7h0M416.8 232.7h0M406.5 229.5h0M410.2 230.2h0M413.3 234.5h0M418.4 232.2h0M410.2 233.3h0M416.1 232.7h0M404.0 233.0h0M405.4 224.7h0M416.6 229.4h0M411.6 235.5h0M410.3 231.6h0M404.2 232.2h0M411.5 234.0h0M406.1 236.4h0M403.8 230.3h0M410.2 226.8h0M412.5 222.2h0M418.9 236.1h0M409.6 228.8h0M404.0 232.7h0M413.7 228.8h0" stroke="#fff" stroke-opacity="0.25" stroke-width="0.9" stroke-linecap="square" fill="none"/>
<path d="M419.2 222.8h0M417.5 228.5h0M407.2 227.3h0M407.7 218.9h0M404.3 222.8h0M413.5 244.9h0M429.5 228.8h0M404.0 228.3h0M404.3 244.2h0M414.1 226.2h0M416.7 234.6h0M403.8 227.5h0M408.3 231.1h0M410.9 228.7h0M411.4 227.1h0M404.0 241.1h0M412.6 233.9h0M404.1 229.9h0M415.8 222.4h0M417.8 228.4h0M412.9 230.1h0M411.6 239.0h0M407.1 241.4h0M404.4 224.8h0M415.1 223.9h0M407.4 237.0h0M418.6 219.2h0M413.6 243.5h0M418.5 229.4h0M405.7 229.0h0M403.7 229.2h0M408.7 230.0h0M418.4 229.5h0M404.0 238.0h0M404.2 228.0h0M409.0 228.7h0M404.2 229.3h0M425.6 227.0h0M409.0 238.5h0M415.3 236.1h0M416.1 217.9h0M403.8 231.9h0M413.6 239.6h0M413.3 229.4h0M410.3 229.6h0M411.8 235.5h0M407.6 225.6h0M403.9 238.3h0M419.1 237.6h0M416.1 236.5h0M410.0 235.4h0M403.9 229.6h0M404.8 235.8h0M405.9 230.3h0M412.9 240.0h0M404.4 224.8h0M415.8 223.6h0M413.2 227.2h0M409.2 218.9h0M415.1 227.7h0M404.5 244.8h0M415.1 253.5h0M412.9 228.7h0M410.8 241.7h0M409.8 234.0h0M413.7 224.9h0M410.9 227.7h0M404.0 236.8h0M414.7 231.5h0M404.2 217.7h0M413.5 230.3h0M404.2 230.6h0M404.1 230.8h0M411.0 233.4h0M411.5 232.1h0M404.0 228.4h0M406.4 229.4h0M411.9 235.1h0M421.6 213.9h0M412.9 229.7h0M426.2 237.2h0M404.5 233.7h0M406.3 237.6h0M404.2 230.3h0M409.1 230.4h0M405.8 218.8h0M413.3 237.6h0M409.5 224.2h0M411.4 234.8h0M408.7 230.9h0M420.0 223.6h0M406.0 218.3h0M405.0 226.1h0M404.3 226.4h0M422.8 229.7h0M409.2 245.6h0M409.6 219.5h0M412.9 224.8h0M421.7 222.7h0M405.9 220.3h0" stroke="#f53535" stroke-opacity="0.26" stroke-width="0.8" stroke-linecap="square" fill="none"/>
<ellipse cx="421" cy="229.5" rx="5" ry="2" transform="rotate(-40 421 229.5)" fill="url(#rg)" fill-opacity="0.19" filter="url(#b1)"/>
<path d="M419.5 226.8h0M424.0 227.2h0M420.3 228.9h0M420.6 230.1h0M422.3 229.7h0M422.6 228.8h0M422.7 227.1h0M415.4 234.0h0M413.8 233.6h0M417.5 230.4h0M424.0 227.9h0M420.8 229.2h0M421.9 228.3h0M419.8 230.6h0M418.1 232.0h0M426.4 226.3h0M419.1 231.9h0M419.0 230.4h0M421.3 231.3h0M419.2 230.6h0M420.1 229.1h0M422.6 228.2h0M422.3 228.6h0M420.4 228.6h0M423.1 226.3h0M427.7 225.2h0M421.7 228.7h0M422.4 227.4h0M415.7 234.5h0M422.0 230.4h0M423.7 226.4h0M415.7 234.8h0M421.3 227.5h0M423.9 228.4h0M419.8 230.8h0M423.7 227.8h0M423.2 228.8h0M419.2 229.7h0M421.7 230.8h0M418.4 232.9h0M413.3 235.0h0M423.9 226.3h0M421.4 229.9h0M423.1 226.2h0M419.1 230.1h0M421.6 231.1h0" stroke="#f41818" stroke-opacity="0.5" stroke-width="0.8" stroke-linecap="square" fill="none"/>
<path d="M417.8 231.4h0M417.5 230.5h0M422.2 229.6h0M425.9 225.0h0M421.3 228.9h0M422.9 228.3h0M418.6 232.5h0M423.9 228.3h0M422.0 228.9h0M418.8 229.5h0" stroke="#fff" stroke-opacity="0.25" stroke-width="0.9" stroke-linecap="square" fill="none"/>
<path d="M417.7 230.5h0M418.6 231.7h0M419.3 234.3h0M421.3 228.4h0M427.4 227.3h0M415.1 231.5h0M423.1 230.3h0M422.9 232.4h0M418.7 234.1h0M424.1 226.7h0M414.6 233.6h0M423.8 225.9h0M420.3 230.9h0M421.7 228.2h0M425.9 227.0h0M415.7 234.3h0M421.1 233.5h0M423.6 228.1h0M419.8 229.6h0M420.9 233.3h0M419.0 229.2h0M424.0 228.8h0M419.3 228.6h0M426.5 227.5h0M412.5 234.3h0M427.5 222.0h0M415.8 235.6h0M420.9 231.6h0M415.8 237.3h0M422.6 227.0h0M419.6 232.4h0M419.5 232.6h0M419.7 231.7h0M414.2 233.5h0M413.7 234.4h0M418.6 230.9h0M418.9 226.1h0M421.1 229.9h0M416.3 233.1h0M411.1 235.2h0" stroke="#f53535" stroke-opacity="0.26" stroke-width="0.8" stroke-linecap="square" fill="none"/>
<ellipse cx="417.5" cy="242.5" rx="7" ry="10.5" transform="rotate(15 417.5 242.5)" fill="url(#rg)" fill-opacity="0.95" filter="url(#b1)"/>
<path d="M415.8 233.3h0M421.1 246.4h0M418.5 240.3h0M421.6 248.4h0M419.1 241.4h0M416.7 239.8h0M419.5 234.4h0M416.5 246.5h0M419.7 235.9h0M419.3 237.0h0M409.0 253.6h0M417.0 236.2h0M412.3 238.9h0M418.6 230.0h0M410.1 246.5h0M416.4 232.1h0M422.6 233.2h0M427.1 235.4h0M416.0 236.5h0M418.4 232.3h0M413.3 244.3h0M419.3 250.8h0M421.2 243.2h0M417.9 246.1h0M414.2 243.9h0M418.9 242.5h0M416.2 244.9h0M415.7 233.7h0M417.6 244.5h0M412.2 243.1h0M418.6 241.9h0M418.7 245.2h0M417.0 246.7h0M418.4 234.9h0M416.9 246.1h0M416.2 245.7h0M418.9 237.7h0M411.8 237.7h0M414.5 242.3h0M425.9 236.1h0M413.4 247.7h0M422.1 241.9h0M417.2 244.3h0M424.7 240.9h0M412.9 246.1h0M414.7 241.3h0M423.1 243.5h0M417.3 243.3h0M413.7 242.5h0M421.5 234.5h0M416.3 240.0h0M418.2 247.1h0M414.0 253.6h0M412.4 240.3h0M420.5 243.1h0M415.6 241.3h0M417.6 242.2h0M423.2 233.6h0M418.7 240.6h0M414.4 251.1h0M420.0 247.1h0M407.7 242.8h0M412.7 235.1h0M412.8 251.2h0M408.6 246.8h0M421.8 249.7h0M416.9 249.6h0M415.5 241.4h0M420.2 238.7h0M416.4 244.4h0M414.5 248.0h0M418.1 237.2h0M417.5 239.9h0M413.2 245.5h0M424.9 242.2h0M417.4 241.7h0M411.7 247.5h0M416.0 249.8h0M416.9 242.6h0M424.3 243.8h0M416.9 250.3h0M415.2 247.5h0M414.8 240.5h0M414.3 246.7h0M417.1 238.4h0M417.1 251.6h0M410.1 253.2h0M412.9 237.6h0M411.6 250.7h0M418.8 244.6h0M420.9 248.4h0M417.8 238.9h0M410.1 247.1h0M416.5 240.8h0M417.0 245.8h0M419.1 247.2h0M423.5 250.1h0M412.7 244.4h0M415.7 233.9h0M420.4 238.0h0M414.3 247.0h0M421.1 244.0h0M418.3 226.6h0M421.0 234.9h0M417.1 241.7h0M414.6 246.5h0M417.0 240.1h0M413.1 246.3h0M421.9 232.8h0M416.4 239.9h0M421.5 230.7h0M414.6 240.1h0M415.4 241.9h0M419.3 225.9h0M411.9 240.0h0M419.6 239.7h0M423.1 241.2h0M417.4 244.8h0M415.7 249.9h0M417.7 237.5h0M421.3 241.1h0M415.5 242.7h0M419.6 242.5h0M422.4 239.6h0M413.8 238.7h0M413.5 253.5h0M424.5 243.8h0M416.4 240.4h0M420.0 238.8h0M420.4 240.6h0M412.5 236.1h0M417.6 249.5h0M418.2 243.4h0M418.2 253.6h0M423.4 240.8h0M413.4 249.8h0M418.7 237.0h0M413.3 235.5h0M419.9 243.5h0M415.3 242.6h0M412.6 246.3h0M418.0 249.1h0M415.2 249.6h0M413.0 248.7h0M422.4 245.9h0M420.3 254.0h0M415.1 237.9h0M412.0 245.4h0M417.5 233.2h0M419.3 236.1h0M424.7 244.0h0M421.0 238.6h0M412.3 244.2h0M422.3 239.7h0M413.8 240.5h0M420.9 240.4h0M422.3 247.0h0M423.8 238.5h0M413.9 235.8h0M413.9 249.1h0M418.9 244.2h0M412.8 243.5h0M416.2 243.3h0M417.7 235.7h0M416.4 247.3h0M414.7 244.4h0M423.6 249.6h0M423.3 242.2h0M421.3 238.9h0M419.4 239.0h0M419.3 235.3h0M419.3 241.4h0M418.7 239.9h0M409.5 236.9h0M420.3 243.3h0M415.2 246.9h0M423.6 249.0h0M420.4 237.8h0M412.9 247.5h0M418.3 243.1h0M420.8 240.3h0M408.8 240.3h0M421.9 242.7h0M417.1 247.2h0M426.0 238.8h0M417.2 253.2h0M413.6 246.8h0M418.4 253.6h0M420.0 243.1h0M416.6 239.4h0M418.7 241.5h0M420.7 249.3h0M411.5 252.7h0M423.2 237.1h0M419.6 250.0h0M421.9 241.2h0M419.3 245.0h0M413.2 250.2h0M417.4 246.0h0M415.8 250.8h0M419.8 237.5h0M416.1 231.6h0M415.8 239.7h0M411.6 253.9h0M417.1 238.2h0M417.0 240.4h0M421.7 242.9h0M413.3 240.1h0M421.8 245.9h0M415.8 246.5h0M418.6 240.4h0M413.7 251.3h0M416.4 247.0h0M415.5 240.8h0M429.0 234.9h0M421.2 244.9h0M419.0 237.0h0M422.2 240.7h0M417.8 249.5h0M416.5 237.8h0M416.1 233.4h0M413.3 240.6h0M422.6 236.4h0M408.9 238.3h0M418.2 251.9h0M418.3 249.8h0M416.3 248.6h0M421.0 233.1h0M419.3 238.7h0M414.8 242.1h0" stroke="#f41818" stroke-opacity="0.5" stroke-width="0.8" stroke-linecap="square" fill="none"/>
<path d="M413.7 235.6h0M411.6 235.1h0M417.6 245.9h0M422.0 244.6h0M412.8 244.0h0M414.0 253.2h0M423.9 250.5h0M413.7 238.1h0M419.4 238.4h0M418.5 247.2h0M420.5 244.8h0M415.3 236.4h0M414.8 250.4h0M422.3 250.2h0M417.9 247.0h0M418.7 251.3h0M423.5 234.1h0M420.7 245.9h0M414.8 245.2h0M418.8 242.5h0M410.5 241.3h0M419.8 242.8h0M410.3 243.6h0M420.1 244.4h0M419.8 240.8h0M414.0 245.0h0M415.8 243.2h0M429.5 250.4h0M420.7 232.8h0M416.7 247.2h0M415.0 240.3h0M407.4 243.4h0M414.0 246.0h0M423.3 243.0h0M421.1 245.1h0M417.1 240.6h0M412.0 249.4h0M422.7 237.3h0M422.1 239.0h0M409.4 248.2h0M410.4 248.3h0M416.8 248.2h0M417.7 250.1h0M418.0 246.4h0M416.7 249.4h0M414.3 248.3h0M423.7 243.8h0M420.1 239.9h0M415.9 243.8h0M417.6 236.7h0" stroke="#fff" stroke-opacity="0.25" stroke-width="0.9" stroke-linecap="square" fill="none"/>
<path d="M416.8 244.3h0M417.7 249.9h0M404.5 253.1h0M418.4 234.8h0M414.0 246.1h0M424.0 240.5h0M422.6 227.4h0M418.9 241.7h0M412.4 250.3h0M426.4 253.3h0M408.5 253.4h0M415.5 241.5h0M412.6 245.9h0M420.7 244.9h0M416.5 240.8h0M412.4 251.2h0M414.5 240.2h0M418.1 234.9h0M419.8 228.0h0M418.7 248.4h0M411.6 253.6h0M410.8 246.4h0M421.9 238.2h0M413.7 250.6h0M417.2 245.3h0M425.9 247.0h0M408.7 232.6h0M423.2 242.7h0M415.7 221.7h0M415.7 253.2h0M415.1 219.6h0M422.1 238.2h0M416.5 238.9h0M410.6 245.2h0M422.4 247.6h0M411.3 251.5h0M415.3 247.9h0M409.8 247.2h0M418.9 253.9h0M416.5 246.8h0M411.6 250.0h0M419.7 253.3h0M418.2 230.2h0M417.6 240.4h0M411.2 247.0h0M422.5 247.9h0M423.6 248.2h0M412.8 235.3h0M413.5 248.5h0M423.0 245.4h0M426.0 236.4h0M413.0 253.4h0M417.7 253.2h0M409.8 223.4h0M409.5 250.6h0M429.4 239.4h0M413.8 231.2h0M410.4 246.3h0M410.7 253.8h0M423.8 237.2h0M419.4 241.5h0M420.2 252.5h0M413.0 250.4h0M421.3 242.7h0M417.4 249.4h0M417.2 235.6h0M425.5 244.7h0M412.6 245.9h0M408.0 240.6h0M410.0 236.2h0M408.1 232.7h0M423.6 242.3h0M405.4 253.4h0M409.8 253.6h0M417.9 227.8h0M430.3 241.6h0M419.3 253.6h0M409.0 241.0h0M412.4 247.3h0M420.6 230.6h0M415.9 249.9h0M414.2 247.4h0M414.3 241.2h0M419.4 244.5h0M423.1 253.7h0M421.0 250.8h0M421.4 231.8h0M419.8 253.3h0M419.6 240.6h0M414.2 253.9h0M421.8 233.8h0M418.4 235.0h0M418.5 233.8h0M408.3 253.8h0M428.2 229.2h0M412.5 236.7h0M418.6 228.9h0M427.2 228.9h0M420.1 250.3h0M416.9 235.8h0M417.5 244.1h0M407.5 227.2h0M421.1 242.5h0M417.4 232.5h0M415.0 234.2h0M438.2 235.5h0M426.0 249.7h0M418.4 244.8h0M411.1 253.8h0M420.8 243.2h0M416.3 244.3h0M411.2 237.7h0M412.0 247.4h0M426.0 226.0h0M413.6 251.5h0M412.4 229.3h0M424.1 243.1h0M417.8 230.4h0M420.0 237.6h0M417.8 247.0h0M422.8 240.7h0M414.2 242.0h0M416.5 244.0h0M414.8 239.5h0M415.3 236.1h0M415.6 253.7h0M412.7 247.2h0M419.4 244.2h0M423.2 238.5h0M420.3 246.4h0M404.2 240.1h0M416.4 253.9h0M410.6 241.7h0M422.2 234.0h0M423.9 248.9h0M415.6 230.0h0M408.9 253.6h0M437.4 222.9h0M404.4 245.8h0M418.5 236.4h0M421.1 244.5h0M418.7 245.6h0M407.4 253.2h0M411.8 252.5h0M421.8 244.1h0M418.5 242.4h0M406.8 236.4h0M424.3 228.1h0M405.4 250.3h0M426.5 229.3h0M420.6 242.9h0M424.5 241.2h0M418.0 235.1h0M419.0 241.7h0M414.3 238.2h0M411.2 247.2h0M415.0 226.1h0M408.7 251.2h0M412.7 247.8h0M423.5 239.0h0M421.0 248.6h0M419.0 235.8h0M420.4 230.3h0M417.3 236.6h0M419.4 246.6h0M411.3 249.7h0M424.9 245.2h0M411.6 246.1h0M404.3 232.9h0M416.1 253.6h0M409.0 253.8h0M427.5 253.4h0M404.4 249.0h0M416.2 252.5h0M418.0 236.4h0M412.2 253.4h0M423.6 241.2h0M417.7 251.4h0M421.2 243.1h0M415.2 234.4h0M416.2 236.5h0M411.1 226.4h0M426.0 233.4h0M409.3 239.9h0M423.5 253.6h0M417.5 232.0h0M416.4 232.9h0M412.8 246.2h0M412.7 233.3h0M415.9 241.8h0M414.6 233.7h0M412.2 233.4h0M421.5 241.1h0M404.4 243.1h0M419.3 234.1h0M423.6 213.1h0M404.0 250.9h0M425.5 253.4h0M412.7 241.6h0M425.6 232.1h0" stroke="#f53535" stroke-opacity="0.26" stroke-width="0.8" stroke-linecap="square" fill="none"/>
<path d="M418.0 241.0h0M415.0 235.5h0M403.8 248.8h0M415.3 230.1h0M416.7 242.1h0M420.3 223.9h0M415.8 232.0h0M419.1 233.5h0M403.9 220.6h0M412.2 228.1h0M408.3 225.7h0M421.2 234.8h0M407.9 245.6h0M410.8 246.0h0M411.1 228.7h0M422.6 244.0h0M408.4 235.0h0M429.0 248.3h0M406.5 228.6h0M422.7 253.8h0M407.7 220.3h0M408.0 240.0h0M408.8 236.8h0M406.6 227.1h0M416.9 225.7h0M404.3 236.9h0M420.7 231.0h0M411.1 227.7h0M406.5 230.5h0M418.2 228.7h0M421.3 223.3h0M404.0 239.9h0M404.4 243.6h0M405.1 228.2h0M421.6 237.7h0M411.1 243.5h0M420.2 231.9h0M408.4 221.4h0M413.3 243.3h0M425.9 248.1h0M412.9 243.4h0M403.9 248.0h0M420.1 224.3h0M409.1 232.8h0M416.1 231.7h0M407.3 240.6h0M410.7 220.8h0M404.0 250.0h0M414.9 233.4h0M406.2 226.5h0M406.5 241.7h0M407.6 246.3h0M403.9 219.3h0M440.9 229.8h0M404.2 244.3h0M404.8 222.7h0M416.3 234.0h0M404.1 236.1h0M409.5 228.8h0M419.2 233.6h0M409.6 237.6h0M403.8 243.1h0M417.7 236.7h0M405.5 223.9h0M412.7 227.1h0M418.5 220.5h0M413.7 229.5h0M411.4 234.3h0M426.8 217.3h0M414.6 232.8h0M406.4 243.0h0M408.7 233.1h0M414.9 226.6h0M408.4 233.8h0M408.7 232.0h0M422.2 239.7h0M408.7 249.0h0M413.2 243.3h0M418.9 236.1h0M404.5 237.4h0M404.4 238.4h0M426.9 244.7h0M426.4 253.7h0M403.9 232.6h0M404.0 222.4h0M422.1 231.9h0M418.2 234.3h0M419.1 220.7h0M411.8 228.9h0M410.9 233.6h0M418.9 238.9h0M425.6 231.3h0M414.6 231.7h0M409.9 235.8h0M412.7 238.4h0M420.0 230.1h0M404.0 234.9h0M429.5 219.8h0M404.4 229.6h0M420.4 228.9h0M408.5 248.1h0M412.6 242.6h0M403.8 238.4h0M407.0 241.4h0M410.3 234.9h0M414.6 231.2h0M404.3 232.0h0M407.8 237.8h0M420.0 239.1h0M408.9 243.5h0M414.8 248.9h0M411.8 234.1h0M404.2 247.0h0M425.1 234.5h0M421.3 231.9h0M406.0 229.0h0M409.1 245.7h0M406.4 229.8h0M403.7 234.2h0M413.1 231.0h0" stroke="#f53535" stroke-opacity="0.28" stroke-width="0.8" stroke-linecap="square" fill="none"/>
</g>
<g clip-path="url(#g11)">
<ellipse cx="431.7" cy="222.5" rx="9.5" ry="2.4" transform="rotate(-33 431.7 222.5)" fill="url(#bg)" fill-opacity="1.00" filter="url(#b1)"/>
<path d="M431.6 222.0h0M426.7 224.2h0M437.3 217.8h0M443.0 215.7h0M430.8 220.8h0M439.6 217.5h0M426.0 227.5h0M442.1 215.3h0M439.7 218.6h0M424.8 228.1h0M428.5 225.8h0M429.6 224.2h0M429.5 226.4h0M434.0 221.4h0M434.3 218.6h0M429.3 223.8h0M435.2 221.2h0M437.3 218.2h0M434.4 220.2h0M427.1 226.6h0M432.7 221.1h0M434.9 219.1h0M436.8 219.5h0M427.4 227.1h0M436.3 218.6h0M429.2 222.5h0M431.7 221.7h0M431.1 221.9h0M428.7 223.9h0M430.5 224.2h0M428.8 226.2h0M426.9 225.4h0M422.8 226.8h0M428.5 226.3h0M429.3 226.4h0M432.7 223.2h0M429.9 221.4h0M431.9 223.0h0M433.1 220.1h0M429.8 221.9h0M426.5 224.4h0M441.8 215.4h0M426.6 226.3h0M433.9 223.9h0M435.4 221.0h0M432.3 221.8h0M428.8 222.3h0M427.4 224.8h0M440.1 220.5h0M431.1 219.8h0M439.3 219.3h0M432.8 222.9h0M425.1 226.3h0M438.5 220.1h0M437.6 217.4h0M430.3 222.0h0M435.5 217.9h0M432.0 223.6h0M437.7 218.9h0M432.3 223.6h0M432.1 223.2h0M428.0 225.1h0M431.5 224.0h0M438.1 221.2h0M434.9 218.6h0M423.9 226.8h0M424.6 226.6h0M438.3 216.8h0M431.9 223.0h0M435.6 219.3h0M432.0 221.1h0M427.5 225.7h0M428.3 220.6h0M425.5 226.5h0M430.1 224.5h0M433.8 220.9h0M437.8 217.6h0M441.7 217.6h0M437.3 220.2h0M443.8 218.2h0M429.7 227.1h0M438.7 218.9h0M432.8 221.9h0M426.6 222.7h0M432.0 220.3h0M437.3 219.8h0M434.9 222.3h0M429.0 225.8h0M435.3 222.7h0M427.4 226.3h0M437.0 220.0h0M429.2 223.8h0M431.0 224.4h0M426.6 221.9h0M439.4 215.9h0M432.5 221.8h0M425.4 226.7h0M428.1 222.7h0M422.1 226.1h0M437.1 220.0h0M432.8 221.7h0M440.1 219.3h0M432.7 221.8h0" stroke="#3a4af0" stroke-opacity="0.45" stroke-width="0.8" stroke-linecap="square" fill="none"/>
<path d="M426.1 222.6h0M431.8 222.3h0M425.8 227.9h0M431.0 223.4h0M431.5 220.2h0M425.8 226.9h0M435.1 219.0h0M436.5 221.3h0M429.4 226.0h0M426.9 223.6h0M424.9 226.6h0M435.1 218.9h0M433.7 223.8h0M422.3 223.6h0M428.1 224.5h0M431.2 220.5h0M435.0 223.6h0M440.0 216.9h0M440.3 216.7h0M432.0 219.5h0M432.5 219.0h0M430.9 227.2h0M429.5 220.3h0M432.1 221.8h0M423.1 228.1h0M436.2 221.3h0M438.4 216.9h0M435.8 219.1h0M423.6 220.3h0M434.1 222.5h0M425.1 219.2h0M424.0 228.4h0M437.6 220.4h0M434.6 220.1h0M436.1 222.3h0M439.2 218.4h0M434.2 222.3h0M437.6 219.7h0M439.0 219.0h0M429.8 216.6h0M426.5 225.8h0M427.8 228.6h0M441.0 215.9h0M426.3 226.4h0M429.7 224.4h0M435.3 221.8h0M430.2 221.3h0M438.0 218.7h0M433.2 218.0h0M424.8 224.1h0" stroke="#7580f0" stroke-opacity="0.35" stroke-width="0.8" stroke-linecap="square" fill="none"/>
</g>
<line x1="403.4" y1="201.8" x2="403.4" y2="254.3" stroke="#808080" stroke-width="0.7"/>
<line x1="403.4" y1="254.3" x2="457.4" y2="254.3" stroke="#808080" stroke-width="0.7"/>
<line x1="402.2" y1="204.60000000000002" x2="403.4" y2="204.60000000000002" stroke="#777" stroke-width="0.5"/>
<text x="402.0" y="205.8" font-size="3.4" text-anchor="end" font-family='"Liberation Serif", serif' fill="#555">1<tspan font-size="2.4" dy="-1.1">1</tspan></text>
<line x1="402.2" y1="218.3" x2="403.4" y2="218.3" stroke="#777" stroke-width="0.5"/>
<text x="402.0" y="219.5" font-size="3.4" text-anchor="end" font-family='"Liberation Serif", serif' fill="#555">1<tspan font-size="2.4" dy="-1.1">2</tspan></text>
<line x1="402.2" y1="232.0" x2="403.4" y2="232.0" stroke="#777" stroke-width="0.5"/>
<text x="402.0" y="233.2" font-size="3.4" text-anchor="end" font-family='"Liberation Serif", serif' fill="#555">1<tspan font-size="2.4" dy="-1.1">3</tspan></text>
<line x1="402.2" y1="245.8" x2="403.4" y2="245.8" stroke="#777" stroke-width="0.5"/>
<text x="402.0" y="247.0" font-size="3.4" text-anchor="end" font-family='"Liberation Serif", serif' fill="#555">1<tspan font-size="2.4" dy="-1.1">4</tspan></text>
<line x1="412.4" y1="254.3" x2="412.4" y2="255.5" stroke="#777" stroke-width="0.5"/>
<text x="412.4" y="258.1" font-size="3.4" text-anchor="middle" font-family='"Liberation Serif", serif' fill="#555">1<tspan font-size="2.4" dy="-1.1">1</tspan></text>
<line x1="426.2" y1="254.3" x2="426.2" y2="255.5" stroke="#777" stroke-width="0.5"/>
<text x="426.2" y="258.1" font-size="3.4" text-anchor="middle" font-family='"Liberation Serif", serif' fill="#555">1<tspan font-size="2.4" dy="-1.1">2</tspan></text>
<line x1="440.0" y1="254.3" x2="440.0" y2="255.5" stroke="#777" stroke-width="0.5"/>
<text x="440.0" y="258.1" font-size="3.4" text-anchor="middle" font-family='"Liberation Serif", serif' fill="#555">1<tspan font-size="2.4" dy="-1.1">3</tspan></text>
<line x1="453.79999999999995" y1="254.3" x2="453.79999999999995" y2="255.5" stroke="#777" stroke-width="0.5"/>
<text x="453.79999999999995" y="258.1" font-size="3.4" text-anchor="middle" font-family='"Liberation Serif", serif' fill="#555">1<tspan font-size="2.4" dy="-1.1">4</tspan></text>
<rect x="421.5" y="214.4" width="22.8" height="14.9" fill="none" stroke="#767676" stroke-width="0.75"/>
<text x="432.5" y="213.3" font-size="5.6" font-family='"Liberation Serif", serif' font-weight="bold" fill="#111" textLength="15.7" lengthAdjust="spacingAndGlyphs">11.5%</text>
<clipPath id="c12"><rect x="463.40000000000003" y="201.8" width="53.7" height="52.2"/></clipPath>
<clipPath id="g12"><rect x="481.7" y="214.8" width="21.9" height="14.1"/></clipPath>
<g clip-path="url(#c12)">
<ellipse cx="490" cy="234" rx="9" ry="2.2" transform="rotate(-20 490 234)" fill="url(#rg)" fill-opacity="0.14" filter="url(#b1)"/>
<path d="M483.4 236.7h0M488.5 233.9h0M494.5 232.4h0M489.5 236.5h0M487.2 233.4h0M483.4 235.7h0M493.4 233.9h0M496.1 234.2h0M498.3 231.8h0M496.6 232.5h0M487.9 235.9h0M490.4 233.6h0M499.9 231.5h0M488.0 234.7h0M501.1 229.7h0M494.0 233.4h0M492.9 233.8h0M487.8 234.3h0M489.4 233.8h0M494.7 234.4h0M486.3 236.1h0M485.4 234.9h0M489.2 234.5h0M487.1 231.7h0M496.7 231.3h0M487.6 235.8h0M486.9 233.3h0M492.8 233.6h0M486.7 236.4h0M491.6 232.0h0M498.7 231.3h0M485.1 236.4h0M491.3 234.9h0M484.4 237.5h0" stroke="#f41818" stroke-opacity="0.5" stroke-width="0.8" stroke-linecap="square" fill="none"/>
<path d="M495.5 233.1h0M494.0 234.5h0M494.1 232.8h0M486.5 236.9h0M495.5 232.5h0M491.4 234.6h0M477.5 239.1h0" stroke="#fff" stroke-opacity="0.25" stroke-width="0.9" stroke-linecap="square" fill="none"/>
<path d="M470.3 241.8h0M500.4 234.6h0M486.9 236.2h0M488.3 229.7h0M496.4 231.8h0M490.3 231.9h0M490.1 234.2h0M501.1 230.7h0M488.2 234.6h0M484.9 239.4h0M494.8 229.5h0M492.1 235.9h0M479.0 238.5h0M490.2 239.3h0M493.5 231.9h0M487.2 239.4h0M488.3 239.9h0M477.6 238.2h0M488.0 233.3h0M489.2 236.0h0M484.0 233.1h0M502.4 232.9h0M485.0 236.6h0M470.2 243.7h0M479.2 236.8h0M507.1 225.0h0M489.8 231.8h0M474.5 237.1h0M491.7 230.6h0" stroke="#f53535" stroke-opacity="0.26" stroke-width="0.8" stroke-linecap="square" fill="none"/>
<ellipse cx="472.5" cy="239.5" rx="10" ry="14" transform="rotate(5 472.5 239.5)" fill="url(#rg)" fill-opacity="0.95" filter="url(#b1)"/>
<path d="M469.0 245.3h0M472.7 229.6h0M481.0 241.5h0M481.2 232.4h0M483.0 230.2h0M463.5 235.7h0M470.5 241.7h0M469.2 244.5h0M480.6 235.4h0M465.4 236.1h0M476.7 246.6h0M471.5 232.0h0M472.0 247.4h0M467.9 249.6h0M473.8 242.2h0M468.3 250.2h0M474.0 228.3h0M477.5 237.0h0M478.6 241.7h0M469.1 240.9h0M470.5 233.2h0M472.3 246.3h0M473.2 239.2h0M469.2 244.0h0M473.6 247.4h0M473.3 253.8h0M464.0 238.7h0M475.1 247.1h0M465.0 229.6h0M471.8 248.0h0M479.8 228.6h0M472.6 249.0h0M473.6 231.9h0M469.6 229.1h0M479.5 238.4h0M470.9 232.9h0M472.6 232.7h0M467.3 239.1h0M471.1 243.3h0M472.7 249.1h0M472.3 241.8h0M474.5 233.7h0M479.7 236.0h0M464.0 248.8h0M476.7 235.8h0M477.3 247.8h0M477.4 231.1h0M474.4 231.9h0M469.7 235.2h0M467.7 243.2h0M467.9 244.3h0M474.1 235.2h0M473.2 245.3h0M479.2 238.4h0M481.9 245.1h0M480.5 230.0h0M466.0 248.7h0M471.1 243.3h0M480.3 229.2h0M473.9 253.6h0M477.1 240.9h0M475.8 240.2h0M476.1 250.3h0M471.1 244.2h0M473.9 245.7h0M478.0 231.9h0M478.6 247.1h0M466.8 237.1h0M464.8 236.9h0M475.3 231.0h0M469.0 232.7h0M469.4 233.5h0M466.4 243.7h0M472.1 233.4h0M478.5 235.9h0M478.5 230.7h0M480.8 237.1h0M467.2 242.5h0M466.1 230.8h0M474.3 236.2h0M474.8 241.1h0M474.0 241.0h0M476.6 240.2h0M478.1 247.7h0M464.1 225.3h0M481.6 237.1h0M473.8 239.0h0M472.7 253.9h0M468.7 240.0h0M473.4 231.5h0M468.1 237.3h0M472.3 242.8h0M463.5 226.8h0M481.9 239.2h0M477.5 237.0h0M467.3 253.2h0M466.5 232.2h0M476.4 240.3h0M463.6 240.1h0M477.7 228.4h0M469.1 245.6h0M484.8 222.8h0M468.9 239.7h0M468.3 232.4h0M469.6 243.5h0M466.2 246.0h0M476.7 246.8h0M481.5 236.5h0M471.7 247.5h0M479.0 247.6h0M470.5 235.8h0M465.7 235.8h0M468.1 235.6h0M470.0 246.0h0M477.4 239.8h0M466.4 238.8h0M474.5 246.6h0M473.3 246.1h0M468.6 244.5h0M477.0 237.4h0M467.7 248.9h0M466.7 244.6h0M471.4 237.0h0M471.6 236.3h0M471.3 253.5h0M480.7 239.5h0M474.6 247.0h0M469.1 253.7h0M472.4 244.6h0M468.2 230.7h0M467.6 234.4h0M478.6 237.9h0M477.8 237.0h0M467.3 240.6h0M471.6 226.8h0M472.1 248.9h0M472.3 230.5h0M469.3 230.1h0M472.0 232.4h0M471.9 241.1h0M480.7 231.5h0M463.9 251.3h0M475.3 237.2h0M476.1 232.9h0M470.4 244.8h0M470.9 240.7h0M475.0 240.9h0M471.0 243.6h0M479.1 250.2h0M467.3 245.2h0M464.0 228.0h0M474.5 244.1h0M481.3 227.2h0M479.0 236.1h0M469.8 243.0h0M481.0 233.2h0M463.7 234.4h0M471.2 248.9h0M474.9 237.7h0M470.2 236.0h0M479.1 227.5h0M469.4 232.7h0M478.7 241.3h0M468.5 245.2h0M482.7 248.5h0M465.6 237.5h0M480.1 226.4h0M466.2 236.0h0M476.1 233.7h0M473.6 238.6h0M475.2 230.7h0M463.8 222.2h0M472.9 247.3h0M476.3 227.6h0M463.5 236.7h0M468.8 225.2h0M470.0 233.3h0M471.7 242.5h0M473.5 241.2h0M475.5 239.1h0M470.4 236.8h0M479.3 238.1h0M475.9 252.8h0M483.6 224.0h0M472.8 247.3h0M470.6 234.0h0M465.2 233.8h0M473.9 225.2h0M473.1 233.2h0M473.4 231.3h0M472.9 240.9h0M469.2 234.2h0M477.3 244.9h0M468.0 242.6h0M466.6 235.1h0M464.2 233.9h0M476.6 236.2h0M476.2 235.0h0M474.3 238.6h0M465.8 253.6h0M468.9 228.9h0M473.0 243.3h0M474.5 239.0h0M474.5 247.0h0M476.9 229.3h0M482.0 240.2h0M464.1 245.0h0M471.6 241.7h0M483.8 236.5h0M469.8 231.8h0M473.2 244.8h0M474.6 241.1h0M463.5 240.6h0M478.8 236.2h0M470.3 231.6h0M474.9 227.8h0M483.2 239.0h0M470.1 230.0h0M474.9 247.3h0M469.4 240.7h0M473.5 247.2h0M475.1 249.4h0M463.6 253.6h0M470.6 230.8h0M467.2 242.1h0M475.2 253.8h0M479.8 234.4h0M471.0 235.9h0M469.4 238.0h0M468.4 248.3h0" stroke="#f41818" stroke-opacity="0.5" stroke-width="0.8" stroke-linecap="square" fill="none"/>
<path d="M475.9 234.7h0M475.4 242.2h0M468.8 253.7h0M479.7 231.4h0M470.8 240.4h0M474.4 235.8h0M473.7 248.2h0M475.3 235.7h0M483.9 247.5h0M482.2 241.1h0M475.2 245.2h0M473.4 248.3h0M483.2 232.8h0M470.1 238.5h0M474.2 245.9h0M477.7 221.9h0M477.7 241.2h0M475.9 238.6h0M476.3 243.0h0M476.5 235.6h0M472.3 235.3h0M470.9 235.1h0M465.0 231.0h0M477.7 233.7h0M478.6 239.2h0M485.6 234.8h0M475.3 239.7h0M470.0 252.2h0M476.3 235.6h0M474.1 230.1h0M475.0 239.8h0M476.8 240.2h0M481.2 235.0h0M482.4 226.1h0M464.6 246.9h0M468.2 228.4h0M482.1 250.0h0M475.4 247.4h0M469.8 226.4h0M475.4 233.3h0M468.5 252.1h0M483.7 245.5h0M469.4 247.0h0M467.8 251.4h0M473.6 243.6h0M475.2 241.5h0M463.6 220.8h0M479.1 240.4h0M468.8 244.9h0M470.6 242.7h0" stroke="#fff" stroke-opacity="0.25" stroke-width="0.9" stroke-linecap="square" fill="none"/>
<path d="M477.0 242.5h0M486.9 231.5h0M490.0 238.4h0M472.8 230.0h0M491.5 253.9h0M468.1 219.5h0M481.3 253.2h0M468.6 237.9h0M475.7 254.0h0M469.9 235.2h0M485.3 251.5h0M465.0 251.0h0M475.8 246.1h0M463.7 238.9h0M474.0 246.6h0M467.9 241.3h0M481.9 246.1h0M486.5 247.6h0M476.0 219.1h0M478.1 237.6h0M464.0 245.2h0M488.3 252.5h0M497.8 251.4h0M463.9 204.2h0M490.2 251.5h0M489.0 235.7h0M463.9 229.2h0M464.1 240.9h0M463.5 230.7h0M463.8 249.0h0M463.6 221.5h0M474.7 227.9h0M472.0 229.9h0M463.9 240.4h0M472.4 234.4h0M475.6 246.5h0M468.8 233.6h0M463.8 227.9h0M466.1 243.1h0M465.2 231.0h0M466.7 242.2h0M469.9 228.1h0M483.7 239.0h0M466.0 211.3h0M474.5 239.4h0M476.7 237.1h0M489.0 233.5h0M470.1 253.5h0M463.4 233.1h0M466.1 228.4h0M466.0 221.7h0M485.9 241.3h0M469.4 213.5h0M464.0 234.8h0M475.7 246.7h0M475.4 236.8h0M476.8 235.9h0M463.8 250.9h0M482.4 243.1h0M476.4 227.3h0M473.6 243.8h0M476.9 237.9h0M467.4 222.4h0M468.8 253.7h0M470.7 231.0h0M470.6 253.6h0M474.1 253.9h0M464.1 244.6h0M484.1 222.8h0M465.3 227.0h0M482.0 249.8h0M463.7 247.3h0M468.6 243.9h0M463.8 253.3h0M464.1 238.7h0M478.5 243.3h0M470.1 253.2h0M487.3 253.4h0M472.3 240.0h0M471.8 253.6h0M463.7 222.2h0M492.4 253.4h0M480.6 227.6h0M468.4 230.0h0M473.2 241.1h0M492.4 234.5h0M463.9 244.4h0M463.4 241.2h0M484.2 253.6h0M476.9 253.5h0M463.9 220.4h0M468.5 233.6h0M477.2 228.1h0M463.7 228.9h0M477.0 239.0h0M464.3 242.0h0M478.9 229.0h0M487.8 228.2h0M464.1 249.2h0M471.0 233.3h0M470.4 246.2h0M478.2 228.4h0M466.0 253.4h0M477.8 239.3h0M470.8 230.4h0M478.4 218.6h0M475.5 222.2h0M484.2 253.3h0M481.1 251.5h0M480.0 237.5h0M463.6 240.7h0M468.2 229.7h0M463.9 252.1h0M472.0 231.4h0M466.6 215.4h0M463.8 221.4h0M470.8 250.3h0M478.0 232.3h0M475.8 245.2h0M487.0 224.0h0M475.7 253.7h0M475.3 253.8h0M484.8 241.7h0M473.9 223.8h0M469.6 234.4h0M463.5 244.2h0M464.1 253.8h0M463.7 224.3h0M472.9 228.2h0M481.8 218.0h0M463.6 247.6h0M463.8 247.5h0M466.6 252.2h0M463.8 253.3h0M463.6 226.7h0M463.5 236.5h0M477.3 253.7h0M464.0 242.8h0M467.6 238.5h0M464.3 220.0h0M468.2 245.0h0M485.7 237.0h0M470.3 244.6h0M466.9 234.8h0M485.7 228.0h0M469.7 252.7h0M477.8 244.9h0M464.1 228.1h0M464.0 252.7h0M471.8 245.7h0M478.4 229.0h0M469.3 253.4h0M467.9 233.0h0M481.5 251.5h0M467.1 224.7h0M480.6 253.9h0M463.8 245.6h0M476.7 235.1h0M464.2 239.0h0M468.8 231.9h0M472.1 249.0h0M465.4 234.8h0M490.7 229.2h0M472.3 226.0h0M479.4 224.5h0M480.1 207.6h0M482.7 253.2h0M481.1 232.5h0M470.9 242.2h0M478.1 234.5h0M476.6 240.2h0M463.7 236.3h0M485.1 229.6h0M488.4 253.4h0M485.9 223.2h0M488.3 226.0h0M467.8 218.2h0M500.4 247.7h0M482.4 240.8h0M463.7 231.9h0M465.3 252.4h0M465.3 253.9h0M480.8 242.5h0M467.5 227.1h0M482.8 242.2h0M483.5 233.3h0M472.5 226.5h0M484.1 238.5h0M478.9 222.7h0M477.2 227.6h0M499.4 224.6h0M490.6 223.7h0M466.0 248.1h0M487.7 225.2h0M464.1 229.4h0M484.5 241.8h0M482.8 246.3h0M473.1 253.9h0M476.3 249.8h0M475.6 222.3h0" stroke="#f53535" stroke-opacity="0.26" stroke-width="0.8" stroke-linecap="square" fill="none"/>
</g>
<g clip-path="url(#g12)">
<ellipse cx="491.5" cy="220.9" rx="7" ry="3.8" transform="rotate(-20 491.5 220.9)" fill="url(#bg)" fill-opacity="1.00" filter="url(#b1)"/>
<path d="M495.8 219.2h0M493.5 218.0h0M496.0 216.9h0M492.1 221.2h0M495.0 222.5h0M492.9 221.0h0M490.7 221.7h0M490.6 224.4h0M493.9 224.3h0M492.0 223.0h0M486.0 225.6h0M498.8 219.6h0M501.4 220.9h0M484.9 221.9h0M485.5 222.7h0M490.2 220.1h0M496.1 224.2h0M492.6 222.3h0M497.8 219.8h0M491.5 220.2h0M492.5 219.6h0M486.8 222.7h0M492.1 222.8h0M484.7 223.6h0M492.0 222.5h0M494.5 219.5h0M499.9 221.3h0M493.7 219.3h0M483.3 223.0h0M490.6 223.2h0M493.6 220.2h0M487.3 220.7h0M493.6 218.1h0M491.7 223.2h0M495.1 221.7h0M490.1 219.9h0M489.7 219.5h0M490.0 220.5h0M498.0 221.3h0M489.0 218.5h0M487.8 221.4h0M493.2 217.8h0M493.3 216.7h0M489.1 225.6h0M489.2 224.5h0M489.2 220.6h0M496.7 222.9h0M491.1 222.3h0M487.5 221.2h0M490.8 219.6h0M494.0 222.1h0M490.1 222.2h0M494.1 221.6h0M489.3 221.3h0M488.4 220.3h0M490.6 225.7h0M490.4 218.7h0M492.1 223.6h0M486.5 219.4h0M491.4 220.9h0M500.8 224.3h0M486.7 221.8h0M497.6 221.5h0M492.5 218.7h0M491.6 221.8h0M490.7 223.9h0M491.0 221.2h0M494.2 220.9h0M493.8 217.9h0M487.3 226.3h0M490.6 217.7h0M486.9 217.1h0M488.4 221.7h0M488.8 216.3h0M492.8 222.8h0M490.7 216.9h0M498.7 219.7h0M492.0 222.0h0M495.9 220.1h0M489.2 222.2h0M490.4 219.8h0M491.2 221.4h0M496.3 220.4h0M488.4 225.4h0M489.3 222.7h0M500.0 224.2h0M490.9 217.5h0M493.1 222.9h0M490.6 217.7h0M491.6 223.1h0M491.8 220.1h0M486.8 219.6h0M486.4 222.4h0M494.3 218.9h0M490.3 217.4h0M491.1 220.1h0M489.5 219.4h0M498.7 222.2h0M491.9 223.4h0M491.2 222.1h0M491.1 224.3h0M486.3 219.7h0M493.8 221.6h0M493.0 217.8h0M490.3 218.6h0" stroke="#3a4af0" stroke-opacity="0.45" stroke-width="0.8" stroke-linecap="square" fill="none"/>
<path d="M490.0 222.0h0M489.4 218.6h0M482.4 219.3h0M491.5 225.2h0M495.1 217.4h0M489.5 220.7h0M493.7 220.3h0M483.4 221.5h0M498.5 222.9h0M493.7 221.3h0M489.7 224.5h0M491.6 215.3h0M486.9 219.8h0M489.2 223.1h0M487.2 218.9h0M493.2 215.2h0M493.2 221.5h0M490.1 219.0h0M490.5 221.0h0M501.8 218.4h0M499.0 218.4h0M489.4 224.1h0M489.0 219.5h0M501.4 217.0h0M494.4 222.5h0M488.3 217.4h0M489.2 218.8h0M499.8 223.1h0M497.0 219.8h0M496.2 220.5h0M482.9 227.0h0M489.4 218.2h0M491.5 225.6h0M487.1 228.5h0M501.0 227.0h0M485.3 226.6h0M494.2 223.2h0M484.2 226.3h0M493.0 226.0h0M487.4 223.8h0M486.7 219.5h0M497.0 219.7h0M483.6 226.7h0M497.8 219.3h0M487.8 228.0h0M496.2 220.8h0M494.8 220.4h0M489.0 225.4h0M486.2 219.8h0M492.5 222.1h0" stroke="#7580f0" stroke-opacity="0.35" stroke-width="0.8" stroke-linecap="square" fill="none"/>
</g>
<line x1="463.1" y1="201.8" x2="463.1" y2="254.3" stroke="#808080" stroke-width="0.7"/>
<line x1="463.1" y1="254.3" x2="517.1" y2="254.3" stroke="#808080" stroke-width="0.7"/>
<line x1="461.90000000000003" y1="204.60000000000002" x2="463.1" y2="204.60000000000002" stroke="#777" stroke-width="0.5"/>
<text x="461.70000000000005" y="205.8" font-size="3.4" text-anchor="end" font-family='"Liberation Serif", serif' fill="#555">1<tspan font-size="2.4" dy="-1.1">1</tspan></text>
<line x1="461.90000000000003" y1="218.3" x2="463.1" y2="218.3" stroke="#777" stroke-width="0.5"/>
<text x="461.70000000000005" y="219.5" font-size="3.4" text-anchor="end" font-family='"Liberation Serif", serif' fill="#555">1<tspan font-size="2.4" dy="-1.1">2</tspan></text>
<line x1="461.90000000000003" y1="232.0" x2="463.1" y2="232.0" stroke="#777" stroke-width="0.5"/>
<text x="461.70000000000005" y="233.2" font-size="3.4" text-anchor="end" font-family='"Liberation Serif", serif' fill="#555">1<tspan font-size="2.4" dy="-1.1">3</tspan></text>
<line x1="461.90000000000003" y1="245.8" x2="463.1" y2="245.8" stroke="#777" stroke-width="0.5"/>
<text x="461.70000000000005" y="247.0" font-size="3.4" text-anchor="end" font-family='"Liberation Serif", serif' fill="#555">1<tspan font-size="2.4" dy="-1.1">4</tspan></text>
<line x1="472.1" y1="254.3" x2="472.1" y2="255.5" stroke="#777" stroke-width="0.5"/>
<text x="472.1" y="258.1" font-size="3.4" text-anchor="middle" font-family='"Liberation Serif", serif' fill="#555">1<tspan font-size="2.4" dy="-1.1">1</tspan></text>
<line x1="485.90000000000003" y1="254.3" x2="485.90000000000003" y2="255.5" stroke="#777" stroke-width="0.5"/>
<text x="485.90000000000003" y="258.1" font-size="3.4" text-anchor="middle" font-family='"Liberation Serif", serif' fill="#555">1<tspan font-size="2.4" dy="-1.1">2</tspan></text>
<line x1="499.70000000000005" y1="254.3" x2="499.70000000000005" y2="255.5" stroke="#777" stroke-width="0.5"/>
<text x="499.70000000000005" y="258.1" font-size="3.4" text-anchor="middle" font-family='"Liberation Serif", serif' fill="#555">1<tspan font-size="2.4" dy="-1.1">3</tspan></text>
<line x1="513.5" y1="254.3" x2="513.5" y2="255.5" stroke="#777" stroke-width="0.5"/>
<text x="513.5" y="258.1" font-size="3.4" text-anchor="middle" font-family='"Liberation Serif", serif' fill="#555">1<tspan font-size="2.4" dy="-1.1">4</tspan></text>
<rect x="481.3" y="214.4" width="22.7" height="14.9" fill="none" stroke="#767676" stroke-width="0.75"/>
<text x="490" y="213.3" font-size="5.6" font-family='"Liberation Serif", serif' font-weight="bold" fill="#111" textLength="15.7" lengthAdjust="spacingAndGlyphs">10.8%</text>
<clipPath id="c13"><rect x="284.7" y="276.3" width="53.7" height="52.2"/></clipPath>
<clipPath id="g13"><rect x="304.9" y="293.4" width="21.6" height="17.6"/></clipPath>
<g clip-path="url(#c13)">
<ellipse cx="296" cy="306" rx="9" ry="8" transform="rotate(0 296 306)" fill="url(#rg)" fill-opacity="0.19" filter="url(#b1)"/>
<path d="M295.6 312.7h0M292.1 298.2h0M297.4 308.9h0M298.1 308.5h0M295.7 303.7h0M292.6 305.4h0M294.5 310.5h0M299.5 300.9h0M300.0 306.3h0M302.1 313.1h0M299.3 298.6h0M299.8 299.5h0M304.4 303.6h0M295.6 314.6h0M287.7 306.6h0M291.2 304.2h0M292.5 309.5h0M295.0 308.0h0M299.8 298.9h0M303.6 305.4h0M288.2 303.6h0M300.9 311.0h0M293.1 307.0h0M297.8 311.1h0M295.9 310.9h0M292.1 303.3h0M299.9 309.7h0M296.3 309.2h0M297.6 310.0h0M302.4 308.8h0M300.7 304.7h0M293.8 296.0h0M298.6 306.7h0M299.3 298.1h0M294.1 304.0h0M287.5 310.6h0M302.7 300.8h0M298.8 314.3h0M290.5 310.9h0M304.6 314.9h0M289.7 301.7h0M297.6 311.9h0M290.2 303.1h0M290.9 311.5h0M293.8 309.1h0M299.8 311.7h0" stroke="#f41818" stroke-opacity="0.5" stroke-width="0.8" stroke-linecap="square" fill="none"/>
<path d="M298.9 308.2h0M303.0 308.9h0M289.7 303.9h0M301.6 307.2h0M294.7 307.8h0M315.0 306.3h0M299.3 308.8h0M295.1 312.4h0M301.4 308.5h0M289.1 312.8h0" stroke="#fff" stroke-opacity="0.25" stroke-width="0.9" stroke-linecap="square" fill="none"/>
<path d="M303.7 306.2h0M284.9 306.4h0M286.4 305.1h0M292.5 300.4h0M305.9 307.8h0M307.8 299.4h0M295.3 317.5h0M299.9 301.2h0M289.2 302.3h0M296.3 312.3h0M298.3 312.8h0M304.4 307.8h0M308.3 312.6h0M295.4 305.6h0M296.8 301.1h0M285.2 307.2h0M292.5 311.5h0M291.7 307.6h0M298.7 303.2h0M298.7 301.2h0M293.2 313.1h0M300.4 306.8h0M290.1 312.3h0M314.5 289.9h0M306.2 308.5h0M306.6 316.0h0M288.0 320.4h0M291.7 304.9h0M302.5 306.2h0M299.3 302.8h0M287.8 307.0h0M287.4 317.3h0M299.1 317.8h0M286.0 290.6h0M285.5 303.9h0M285.6 309.6h0M284.9 296.0h0M299.4 303.7h0M302.9 313.1h0M300.0 297.3h0" stroke="#f53535" stroke-opacity="0.26" stroke-width="0.8" stroke-linecap="square" fill="none"/>
<ellipse cx="293" cy="318" rx="8.5" ry="10" transform="rotate(10 293 318)" fill="url(#rg)" fill-opacity="0.95" filter="url(#b1)"/>
<path d="M294.1 319.1h0M300.0 320.9h0M297.8 324.4h0M308.0 304.1h0M295.7 313.0h0M288.0 309.8h0M293.0 313.5h0M293.6 315.4h0M285.2 328.2h0M289.3 318.1h0M295.1 312.4h0M294.1 318.2h0M291.9 322.8h0M296.5 317.0h0M299.8 310.4h0M284.9 324.4h0M294.5 311.9h0M291.6 323.9h0M298.3 314.9h0M293.7 323.2h0M289.9 318.0h0M292.0 317.2h0M294.8 315.2h0M297.1 323.2h0M287.8 328.0h0M287.4 317.1h0M295.2 315.0h0M294.2 310.1h0M285.1 322.1h0M301.8 321.1h0M297.0 327.1h0M293.6 319.6h0M284.8 316.1h0M291.7 324.2h0M290.8 315.0h0M292.4 317.7h0M285.1 319.6h0M290.7 320.9h0M299.3 321.8h0M285.2 321.7h0M293.3 315.5h0M303.3 313.2h0M298.2 309.3h0M291.3 309.6h0M291.0 311.2h0M292.4 320.9h0M293.3 310.6h0M298.7 321.8h0M289.5 313.1h0M296.4 307.3h0M285.6 323.7h0M287.0 317.0h0M285.5 322.9h0M285.1 320.7h0M288.2 324.2h0M299.7 314.8h0M291.4 319.3h0M288.1 317.9h0M297.7 309.8h0M298.1 318.4h0M287.3 320.8h0M293.4 315.8h0M293.0 321.1h0M290.5 321.8h0M296.2 317.8h0M296.8 316.8h0M294.1 328.2h0M294.7 319.7h0M293.9 319.7h0M290.2 320.0h0M293.3 318.9h0M292.8 316.3h0M292.5 325.1h0M299.0 313.6h0M292.6 309.5h0M297.4 308.3h0M293.6 319.6h0M289.8 312.8h0M285.3 315.4h0M295.0 326.1h0M288.2 319.8h0M292.3 322.4h0M288.4 313.8h0M296.5 316.1h0M293.0 315.5h0M291.9 315.1h0M302.4 308.4h0M291.0 327.8h0M292.9 322.7h0M296.3 322.2h0M297.8 324.2h0M289.2 314.7h0M292.8 314.0h0M290.1 322.1h0M302.6 319.8h0M294.6 319.6h0M297.2 308.9h0M288.1 319.0h0M293.1 318.2h0M289.7 316.9h0M297.1 328.2h0M297.2 319.4h0M294.7 309.0h0M298.0 324.6h0M287.5 314.0h0M301.3 316.0h0M287.6 311.4h0M287.1 317.3h0M296.8 311.6h0M292.2 318.7h0M294.9 313.4h0M289.2 319.3h0M288.9 315.4h0M297.2 312.3h0M286.1 313.3h0M287.3 319.5h0M294.5 309.3h0M294.6 306.5h0M288.0 314.6h0M293.6 322.0h0M287.6 319.7h0M294.3 317.2h0M287.3 324.4h0M285.0 319.2h0M295.9 326.6h0M287.1 320.0h0M297.0 320.7h0M296.9 310.1h0M288.9 315.0h0M299.6 321.3h0M285.5 319.6h0M290.1 313.8h0M295.1 316.3h0M295.0 317.7h0M299.3 317.7h0M285.0 320.3h0M287.6 316.5h0M300.0 322.9h0M291.4 314.5h0M296.0 322.3h0M302.3 315.2h0M291.7 318.1h0M295.0 315.1h0M293.5 311.6h0M295.7 317.8h0M296.5 310.0h0M298.8 319.8h0M289.6 325.7h0M300.0 317.2h0M286.7 317.2h0M292.0 324.1h0M297.5 324.7h0M297.7 321.6h0M294.4 324.7h0M293.9 318.6h0M288.9 311.0h0M299.2 313.7h0M295.6 318.4h0M289.5 311.6h0M293.7 320.9h0M292.2 324.6h0M296.1 310.0h0M291.5 316.8h0M293.2 311.4h0M294.9 325.1h0M292.3 322.7h0M285.2 319.4h0M296.3 322.3h0M292.2 326.2h0M295.1 314.4h0M293.1 311.9h0M293.0 322.4h0M285.3 314.2h0M292.9 317.9h0M295.4 311.2h0M289.6 319.3h0M285.9 319.9h0M292.2 320.9h0M297.3 314.6h0M300.9 324.4h0M295.8 321.9h0M289.0 311.7h0M295.7 316.4h0M285.2 311.8h0M285.6 318.5h0M285.5 318.5h0M297.3 317.4h0M293.5 313.0h0M300.0 313.1h0M300.4 310.4h0M285.0 308.9h0M295.3 324.5h0M297.9 322.2h0M292.3 313.6h0M295.7 313.1h0M293.4 321.5h0M289.4 314.8h0M296.5 320.0h0M298.3 317.9h0M291.9 312.4h0M298.1 322.2h0M293.1 320.8h0M288.8 311.6h0M303.9 320.8h0M295.7 318.9h0M287.6 325.8h0M294.2 309.0h0M284.8 321.5h0M299.0 328.3h0M295.4 319.4h0M294.7 308.7h0M292.0 314.1h0M297.6 313.8h0M293.1 320.4h0M294.6 318.1h0M292.9 323.1h0M300.9 312.9h0M297.7 312.2h0M300.4 320.0h0M294.9 327.9h0M294.7 317.9h0M293.3 313.9h0M299.2 326.0h0M289.1 319.0h0M291.6 317.0h0M286.4 320.6h0M294.9 316.2h0M295.0 316.7h0M293.3 322.9h0M293.6 320.2h0" stroke="#f41818" stroke-opacity="0.5" stroke-width="0.8" stroke-linecap="square" fill="none"/>
<path d="M291.1 318.0h0M297.3 328.0h0M285.7 325.9h0M288.8 311.5h0M287.8 323.4h0M287.1 320.7h0M295.4 317.4h0M293.3 327.8h0M302.1 314.7h0M294.9 316.1h0M293.0 314.9h0M296.8 313.7h0M286.8 317.4h0M293.5 325.7h0M297.4 313.7h0M288.2 319.3h0M293.7 322.8h0M302.1 306.2h0M289.5 320.9h0M286.0 327.2h0M292.1 321.7h0M291.7 320.2h0M294.6 321.8h0M288.2 305.8h0M291.9 322.9h0M292.1 317.1h0M297.8 323.1h0M288.2 318.4h0M292.0 318.4h0M292.2 321.6h0M292.7 320.3h0M293.5 317.1h0M290.0 319.4h0M293.8 328.0h0M306.3 316.5h0M288.8 323.9h0M291.0 318.7h0M286.2 320.7h0M284.8 322.9h0M288.8 318.9h0M299.0 314.2h0M290.4 328.1h0M286.0 317.8h0M284.8 318.6h0M293.5 311.5h0M285.9 324.6h0M297.8 311.8h0M298.2 313.6h0M288.8 320.0h0M292.1 321.3h0" stroke="#fff" stroke-opacity="0.25" stroke-width="0.9" stroke-linecap="square" fill="none"/>
<path d="M293.5 327.9h0M301.5 301.7h0M294.8 310.3h0M285.4 325.0h0M284.7 325.2h0M301.1 322.8h0M284.9 314.1h0M306.6 316.5h0M285.0 328.0h0M296.1 316.6h0M285.2 321.8h0M289.8 324.2h0M295.3 311.9h0M291.6 317.1h0M285.4 320.2h0M296.8 318.8h0M309.4 308.4h0M286.4 316.5h0M286.6 328.2h0M286.3 311.7h0M292.4 313.8h0M285.2 328.1h0M301.8 313.7h0M299.7 299.5h0M288.7 316.5h0M300.9 328.2h0M286.0 326.7h0M310.6 327.2h0M288.7 327.9h0M288.7 310.9h0M293.5 328.4h0M290.9 321.1h0M293.6 320.5h0M298.0 315.0h0M303.8 313.4h0M302.1 316.7h0M292.2 321.9h0M285.9 306.5h0M288.8 298.1h0M301.0 327.5h0M291.3 295.7h0M289.1 328.2h0M303.1 321.8h0M286.7 327.2h0M295.1 326.8h0M286.3 325.6h0M287.7 320.9h0M295.8 327.9h0M308.6 319.7h0M297.7 328.1h0M296.1 325.4h0M300.3 319.0h0M299.9 326.6h0M285.9 310.7h0M302.7 316.0h0M288.6 322.2h0M285.2 308.4h0M285.1 316.4h0M289.7 328.1h0M303.6 319.2h0M292.7 309.7h0M294.0 320.9h0M284.8 301.7h0M290.9 304.2h0M299.5 311.5h0M286.9 320.2h0M301.1 306.5h0M284.9 313.2h0M295.3 316.9h0M292.9 328.2h0M292.9 311.0h0M284.8 320.9h0M287.4 327.9h0M300.0 322.9h0M285.3 301.9h0M285.4 315.0h0M289.1 305.4h0M285.9 319.3h0M302.1 327.9h0M297.2 304.9h0M294.6 309.9h0M295.5 328.3h0M285.2 318.8h0M299.7 312.3h0M284.7 326.9h0M302.0 311.2h0M284.9 304.6h0M295.4 317.0h0M296.6 317.9h0M284.7 312.9h0M298.9 318.1h0M311.2 327.9h0M284.9 319.3h0M286.7 320.3h0M302.6 321.9h0M293.1 328.0h0M315.9 321.3h0M289.0 325.4h0M299.3 328.3h0M294.0 322.7h0M302.8 313.5h0M298.0 314.6h0M295.7 328.0h0M292.2 312.2h0M285.1 316.0h0M286.1 316.8h0M289.1 318.8h0M294.9 320.3h0M297.1 312.4h0M291.9 313.6h0M294.7 316.8h0M298.3 307.8h0M308.9 309.7h0M295.5 318.7h0M292.5 320.8h0M296.6 314.6h0M288.0 296.3h0M290.4 287.4h0M289.6 309.7h0M298.7 317.9h0M285.8 313.4h0M287.0 314.7h0M318.0 315.0h0M291.9 307.1h0M312.6 314.3h0M307.7 326.6h0M295.3 321.1h0M291.3 327.0h0M284.8 316.8h0M297.9 328.1h0M288.9 317.2h0M310.8 320.6h0M285.3 327.8h0M285.0 320.3h0M304.2 314.0h0M290.9 320.1h0M285.1 318.8h0M289.4 327.8h0M298.9 319.8h0M284.7 317.6h0M292.6 311.2h0M287.9 328.0h0M291.1 323.1h0M288.8 311.0h0M284.8 301.8h0M307.4 317.4h0M307.4 317.6h0M285.3 328.0h0M296.0 323.2h0M289.0 317.1h0M286.3 309.5h0M293.7 328.4h0M300.0 324.8h0M286.3 328.5h0M296.5 326.1h0M292.8 310.0h0M295.5 314.3h0M294.0 318.9h0M285.1 312.8h0M285.5 314.1h0M297.8 314.2h0M295.6 324.3h0M302.9 304.5h0M293.2 318.3h0M314.2 320.0h0M289.4 328.3h0M301.5 322.9h0M296.4 328.0h0M297.0 328.0h0M287.0 326.7h0M302.8 316.1h0M306.0 317.8h0M292.6 325.2h0M301.3 304.2h0M299.6 328.2h0M287.9 328.4h0M309.2 307.3h0M294.2 323.0h0M289.6 327.9h0M304.8 317.0h0M297.2 300.9h0M285.1 318.1h0M298.5 306.1h0M317.1 300.3h0M285.5 318.6h0M298.7 328.3h0M288.9 325.0h0M285.0 315.1h0M291.0 307.9h0M288.4 306.2h0M304.6 312.5h0M297.4 312.9h0M293.7 317.3h0M293.8 316.6h0M288.9 312.4h0M297.5 328.2h0M298.9 327.9h0M297.2 322.0h0M285.5 324.0h0M290.2 309.9h0" stroke="#f53535" stroke-opacity="0.26" stroke-width="0.8" stroke-linecap="square" fill="none"/>
<path d="M296.2 313.9h0M299.6 296.3h0M304.8 300.6h0M305.0 308.5h0M307.5 299.0h0M314.5 303.3h0M295.6 300.9h0M296.4 306.9h0M294.8 311.4h0M302.8 304.0h0M296.9 307.6h0M305.9 317.4h0M289.2 312.1h0M303.9 293.5h0M301.5 320.5h0M293.2 295.0h0M284.9 305.8h0M295.4 304.1h0M305.0 294.8h0M296.4 321.4h0M311.3 299.9h0M285.2 308.4h0M300.6 307.4h0M289.0 312.1h0M289.8 295.7h0M289.4 305.0h0M296.8 294.6h0M301.1 317.4h0M284.9 310.1h0M290.3 281.1h0M299.0 295.3h0M294.4 299.4h0M284.7 296.9h0M304.9 312.5h0M285.1 312.0h0M303.0 318.7h0M315.6 321.0h0M309.3 312.3h0M297.9 294.6h0M297.0 314.5h0M305.8 299.8h0M285.4 297.5h0M285.1 307.6h0M284.8 296.1h0M294.6 302.6h0M299.0 313.2h0M300.2 317.8h0M290.5 310.2h0M324.2 309.3h0M291.9 306.6h0M295.9 302.6h0M311.1 323.1h0M293.8 298.6h0M307.7 316.8h0M298.4 314.0h0" stroke="#f53535" stroke-opacity="0.28" stroke-width="0.8" stroke-linecap="square" fill="none"/>
</g>
<g clip-path="url(#g13)">
<ellipse cx="314.3" cy="302" rx="5" ry="4.5" transform="rotate(0 314.3 302)" fill="url(#bg)" fill-opacity="1.00" filter="url(#b1)"/>
<path d="M320.4 304.3h0M310.5 301.8h0M314.8 301.7h0M315.9 303.1h0M313.8 300.7h0M309.4 300.2h0M310.7 304.3h0M317.6 302.8h0M311.1 304.9h0M310.9 304.5h0M319.9 298.3h0M316.1 298.1h0M317.4 301.3h0M319.7 302.6h0M312.6 303.9h0M317.2 301.1h0M318.7 306.4h0M315.3 302.0h0M313.7 300.4h0M314.3 301.8h0M313.5 304.6h0M310.8 298.8h0M313.4 300.4h0M314.9 301.3h0M313.4 302.3h0M314.7 299.0h0M307.8 304.3h0M314.5 305.9h0M313.9 301.0h0M314.6 299.6h0M313.7 297.5h0M312.8 304.3h0M313.1 302.7h0M309.9 300.2h0M317.4 301.3h0M310.2 300.9h0M314.7 298.0h0M319.9 300.6h0M317.5 301.4h0M312.6 301.5h0M310.7 301.7h0M310.0 306.9h0M318.3 298.5h0M313.1 305.4h0M316.2 299.9h0M312.6 301.1h0M317.9 300.7h0M308.7 303.7h0M313.8 305.3h0M308.9 305.1h0M307.1 302.0h0M314.9 300.8h0M311.3 300.4h0M317.8 306.5h0M317.6 295.5h0M312.6 302.1h0M311.1 297.7h0M313.6 306.5h0M311.4 302.3h0M318.9 301.6h0M319.4 301.1h0M315.3 300.4h0M314.3 300.8h0M314.8 297.9h0M311.1 304.1h0M318.7 301.0h0M312.1 308.7h0M314.8 299.8h0M311.9 303.2h0M308.9 303.8h0M309.1 306.4h0M313.3 304.4h0M312.9 306.6h0M315.7 303.0h0M316.1 297.9h0M316.1 304.3h0M319.7 303.9h0M314.9 301.5h0M314.8 300.0h0M316.0 301.8h0M316.7 301.2h0M310.7 300.8h0M315.1 299.6h0M315.4 297.3h0M313.8 301.3h0M312.3 302.6h0M317.4 301.9h0M316.6 300.1h0M314.2 303.8h0M314.0 300.8h0M310.7 302.5h0M319.8 300.6h0M316.9 303.1h0M309.6 304.0h0M318.0 304.5h0M313.3 305.6h0M313.1 303.3h0M317.8 297.9h0M312.5 304.0h0M315.0 304.4h0M313.0 302.7h0M317.1 300.6h0M314.2 304.1h0M316.1 304.6h0M309.7 304.5h0M313.4 303.7h0M316.6 305.7h0M315.2 303.3h0M317.5 303.7h0M311.9 305.9h0" stroke="#3a4af0" stroke-opacity="0.45" stroke-width="0.8" stroke-linecap="square" fill="none"/>
<path d="M307.4 309.2h0M314.5 306.8h0M317.2 295.0h0M308.5 302.3h0M318.8 300.0h0M307.2 305.9h0M309.3 310.1h0M314.2 299.3h0M321.6 298.1h0M320.4 299.4h0M319.3 297.8h0M322.3 296.7h0M317.7 307.0h0M311.0 306.4h0M313.3 306.1h0M313.9 297.0h0M311.2 301.7h0M318.8 308.4h0M308.4 305.5h0M316.3 300.9h0M310.5 293.8h0M317.7 306.3h0M309.8 308.1h0M317.3 300.8h0M310.6 299.2h0M311.7 303.0h0M307.0 301.5h0M312.7 310.8h0M312.5 307.4h0M313.1 301.6h0M320.5 297.9h0M315.1 295.4h0M305.9 302.1h0M315.3 307.4h0M316.1 302.2h0M308.8 298.5h0M318.7 296.2h0M313.8 294.6h0M307.3 306.9h0M309.9 298.5h0M311.7 297.2h0M311.8 308.6h0M321.5 300.6h0M318.5 298.8h0M314.4 299.9h0M320.3 298.5h0M305.2 297.5h0M311.2 300.8h0M317.9 300.7h0M310.4 301.7h0M320.1 304.5h0M312.1 303.3h0M317.9 296.5h0M311.7 300.3h0M309.1 308.6h0M310.1 298.8h0M310.6 302.4h0M310.6 295.7h0" stroke="#7580f0" stroke-opacity="0.35" stroke-width="0.8" stroke-linecap="square" fill="none"/>
</g>
<line x1="284.4" y1="276.3" x2="284.4" y2="328.8" stroke="#808080" stroke-width="0.7"/>
<line x1="284.4" y1="328.8" x2="338.4" y2="328.8" stroke="#808080" stroke-width="0.7"/>
<line x1="283.2" y1="279.1" x2="284.4" y2="279.1" stroke="#777" stroke-width="0.5"/>
<text x="283.0" y="280.3" font-size="3.4" text-anchor="end" font-family='"Liberation Serif", serif' fill="#555">1<tspan font-size="2.4" dy="-1.1">1</tspan></text>
<line x1="283.2" y1="292.8" x2="284.4" y2="292.8" stroke="#777" stroke-width="0.5"/>
<text x="283.0" y="294.0" font-size="3.4" text-anchor="end" font-family='"Liberation Serif", serif' fill="#555">1<tspan font-size="2.4" dy="-1.1">2</tspan></text>
<line x1="283.2" y1="306.5" x2="284.4" y2="306.5" stroke="#777" stroke-width="0.5"/>
<text x="283.0" y="307.7" font-size="3.4" text-anchor="end" font-family='"Liberation Serif", serif' fill="#555">1<tspan font-size="2.4" dy="-1.1">3</tspan></text>
<line x1="283.2" y1="320.3" x2="284.4" y2="320.3" stroke="#777" stroke-width="0.5"/>
<text x="283.0" y="321.5" font-size="3.4" text-anchor="end" font-family='"Liberation Serif", serif' fill="#555">1<tspan font-size="2.4" dy="-1.1">4</tspan></text>
<line x1="293.4" y1="328.8" x2="293.4" y2="330.0" stroke="#777" stroke-width="0.5"/>
<text x="293.4" y="332.6" font-size="3.4" text-anchor="middle" font-family='"Liberation Serif", serif' fill="#555">1<tspan font-size="2.4" dy="-1.1">1</tspan></text>
<line x1="307.2" y1="328.8" x2="307.2" y2="330.0" stroke="#777" stroke-width="0.5"/>
<text x="307.2" y="332.6" font-size="3.4" text-anchor="middle" font-family='"Liberation Serif", serif' fill="#555">1<tspan font-size="2.4" dy="-1.1">2</tspan></text>
<line x1="321.0" y1="328.8" x2="321.0" y2="330.0" stroke="#777" stroke-width="0.5"/>
<text x="321.0" y="332.6" font-size="3.4" text-anchor="middle" font-family='"Liberation Serif", serif' fill="#555">1<tspan font-size="2.4" dy="-1.1">3</tspan></text>
<line x1="334.79999999999995" y1="328.8" x2="334.79999999999995" y2="330.0" stroke="#777" stroke-width="0.5"/>
<text x="334.79999999999995" y="332.6" font-size="3.4" text-anchor="middle" font-family='"Liberation Serif", serif' fill="#555">1<tspan font-size="2.4" dy="-1.1">4</tspan></text>
<rect x="304.5" y="293" width="22.4" height="18.4" fill="none" stroke="#767676" stroke-width="0.75"/>
<text x="313.2" y="285.8" font-size="5.6" font-family='"Liberation Serif", serif' font-weight="bold" fill="#111" textLength="16.0" lengthAdjust="spacingAndGlyphs">12.7%</text>
<clipPath id="c14"><rect x="341.7" y="276.3" width="53.7" height="52.2"/></clipPath>
<clipPath id="g14"><rect x="362.7" y="289.79999999999995" width="20.5" height="18.8"/></clipPath>
<g clip-path="url(#c14)">
<ellipse cx="358" cy="303" rx="9" ry="8" transform="rotate(-40 358 303)" fill="url(#rg)" fill-opacity="0.19" filter="url(#b1)"/>
<path d="M365.4 302.4h0M347.3 300.8h0M359.8 305.9h0M353.3 298.6h0M360.2 309.4h0M355.7 310.9h0M361.3 303.0h0M359.4 298.7h0M362.7 309.5h0M355.4 302.8h0M351.4 305.9h0M364.3 304.9h0M362.3 303.1h0M361.2 302.3h0M361.4 299.3h0M361.9 299.4h0M348.4 303.8h0M356.0 302.1h0M351.3 304.3h0M359.9 303.8h0M358.8 297.4h0M362.4 305.3h0M364.3 307.8h0M356.2 304.5h0M357.6 301.1h0M358.5 303.9h0M356.5 301.4h0M356.1 304.1h0M352.8 308.4h0M353.2 305.6h0M354.2 306.7h0M355.9 303.3h0M355.6 305.7h0M358.9 292.0h0M360.6 302.1h0M353.1 300.0h0M364.4 298.7h0M360.7 298.6h0M358.2 309.0h0M359.9 299.7h0M358.9 305.7h0M352.7 302.7h0M360.7 306.5h0M361.7 300.9h0M362.6 298.3h0M362.7 312.3h0" stroke="#f41818" stroke-opacity="0.5" stroke-width="0.8" stroke-linecap="square" fill="none"/>
<path d="M357.8 306.8h0M360.6 301.5h0M361.1 304.7h0M358.5 299.0h0M362.2 308.0h0M359.7 299.0h0M355.3 299.2h0M351.3 305.5h0M362.7 295.3h0M349.8 309.3h0" stroke="#fff" stroke-opacity="0.25" stroke-width="0.9" stroke-linecap="square" fill="none"/>
<path d="M357.3 310.9h0M364.4 294.5h0M354.6 297.3h0M362.4 292.4h0M369.6 316.3h0M353.0 308.9h0M360.0 305.9h0M368.2 308.9h0M364.1 303.8h0M352.2 311.9h0M355.4 317.0h0M362.4 308.8h0M356.1 307.0h0M361.3 305.7h0M354.7 300.2h0M352.7 301.3h0M346.5 301.1h0M357.8 321.5h0M348.2 300.7h0M365.8 299.3h0M362.7 310.1h0M366.0 288.2h0M369.9 298.7h0M363.0 293.8h0M374.4 300.6h0M347.7 324.1h0M360.2 288.0h0M359.5 300.2h0M355.5 296.9h0M365.8 303.7h0M357.2 303.2h0M349.8 315.3h0M350.2 309.9h0M365.5 322.1h0M365.5 311.7h0M357.7 303.0h0M362.7 298.9h0M372.2 289.5h0M362.9 287.5h0M355.5 311.6h0" stroke="#f53535" stroke-opacity="0.26" stroke-width="0.8" stroke-linecap="square" fill="none"/>
<ellipse cx="352.2" cy="315.5" rx="8.5" ry="11" transform="rotate(35 352.2 315.5)" fill="url(#rg)" fill-opacity="0.95" filter="url(#b1)"/>
<path d="M342.5 321.5h0M353.9 317.4h0M360.6 317.7h0M358.2 301.1h0M346.0 309.1h0M341.9 313.8h0M354.3 320.4h0M349.0 307.2h0M344.6 315.4h0M356.8 317.2h0M351.7 316.9h0M358.0 313.2h0M345.9 316.9h0M352.5 319.3h0M349.8 319.5h0M356.0 313.9h0M354.9 325.4h0M351.6 314.5h0M354.3 306.9h0M353.1 305.9h0M348.6 315.4h0M356.9 308.4h0M353.6 312.0h0M344.3 318.1h0M345.2 317.2h0M344.9 312.5h0M346.3 318.4h0M356.4 312.8h0M350.2 323.5h0M352.2 326.3h0M343.5 325.2h0M350.5 313.4h0M347.1 310.5h0M346.4 312.3h0M342.2 320.1h0M349.8 325.6h0M356.1 319.5h0M353.3 317.9h0M349.1 304.9h0M347.5 319.2h0M346.3 312.9h0M347.5 317.8h0M358.7 312.5h0M342.8 319.8h0M356.3 318.3h0M355.2 318.2h0M355.4 315.0h0M348.5 325.3h0M353.4 325.8h0M349.4 320.8h0M351.6 313.1h0M356.5 310.7h0M358.9 307.7h0M355.5 324.2h0M355.8 313.0h0M351.3 312.1h0M347.4 309.2h0M345.8 317.4h0M352.3 326.4h0M351.8 305.3h0M354.9 323.4h0M353.9 321.8h0M345.8 326.8h0M353.2 321.4h0M347.9 313.8h0M355.4 322.0h0M356.3 317.2h0M356.9 314.8h0M347.8 320.5h0M359.8 318.6h0M352.2 313.9h0M351.4 315.3h0M354.4 319.7h0M350.6 317.9h0M346.0 310.2h0M363.3 315.9h0M349.1 315.4h0M356.9 317.1h0M342.9 320.4h0M346.4 305.0h0M357.4 302.1h0M350.6 327.9h0M347.9 309.5h0M348.8 318.4h0M349.5 317.9h0M354.5 316.2h0M347.5 322.7h0M350.6 319.3h0M349.6 319.1h0M358.1 320.4h0M352.9 310.7h0M358.8 314.5h0M345.2 328.1h0M346.8 325.1h0M352.6 315.2h0M357.5 312.9h0M343.1 308.9h0M348.7 314.7h0M357.6 324.0h0M344.9 313.6h0M352.9 300.0h0M363.6 316.8h0M344.0 309.3h0M349.8 317.4h0M352.3 314.2h0M356.1 317.1h0M348.1 315.4h0M346.2 319.5h0M353.0 314.8h0M348.4 317.5h0M357.1 316.9h0M341.8 313.6h0M347.1 316.7h0M348.4 316.1h0M354.0 311.0h0M347.5 311.6h0M358.5 307.9h0M341.9 310.4h0M363.4 317.5h0M355.0 309.5h0M342.1 319.7h0M345.0 312.5h0M347.3 316.6h0M357.7 320.7h0M347.2 320.3h0M357.6 305.5h0M359.3 316.7h0M345.2 327.5h0M354.7 319.8h0M361.8 315.8h0M349.7 305.4h0M351.8 317.1h0M342.0 324.7h0M354.7 318.9h0M349.7 313.5h0M354.6 314.7h0M357.4 328.4h0M354.7 317.7h0M341.9 316.4h0M345.8 319.2h0M358.5 310.3h0M353.1 315.0h0M351.6 314.7h0M353.4 315.0h0M353.5 320.8h0M352.1 314.6h0M352.3 312.9h0M350.8 316.4h0M357.6 305.5h0M355.7 311.5h0M343.3 328.2h0M364.6 306.5h0M341.8 315.9h0M354.7 305.6h0M346.0 310.2h0M349.1 313.4h0M351.0 314.9h0M353.4 310.4h0M349.5 325.5h0M349.4 312.5h0M364.0 315.7h0M345.9 315.3h0M355.8 318.0h0M357.1 318.2h0M353.2 316.1h0M353.4 316.6h0M355.3 323.3h0M359.1 319.4h0M351.3 310.4h0M349.5 316.2h0M349.6 315.9h0M358.0 311.0h0M342.1 318.5h0M343.1 323.4h0M355.9 307.9h0M350.5 308.4h0M369.1 313.4h0M346.3 304.6h0M344.6 327.0h0M359.6 313.6h0M353.7 326.4h0M347.5 316.8h0M354.2 316.0h0M352.5 311.5h0M355.8 314.2h0M353.2 321.5h0M344.5 313.4h0M348.8 319.1h0M346.7 320.6h0M352.2 322.5h0M359.5 310.4h0M348.1 321.0h0M353.6 321.1h0M352.3 315.3h0M353.2 302.9h0M348.6 319.3h0M353.1 312.2h0M346.8 321.9h0M350.1 313.5h0M349.8 322.0h0M355.6 314.3h0M354.2 308.6h0M348.0 320.1h0M354.4 314.0h0M349.2 310.9h0M353.0 320.9h0M351.0 321.2h0M356.2 320.1h0M361.5 307.8h0M355.9 315.8h0M356.4 311.8h0M355.1 309.4h0M355.5 310.4h0M357.3 317.0h0M355.0 313.0h0M354.2 311.9h0M347.2 315.9h0M353.6 308.1h0M342.8 325.9h0M355.4 319.9h0M352.2 318.1h0M345.8 328.5h0M357.5 320.8h0M348.9 306.6h0M354.8 314.3h0M355.0 315.6h0M352.5 319.4h0M354.9 308.2h0M353.5 311.6h0M348.4 313.8h0" stroke="#f41818" stroke-opacity="0.5" stroke-width="0.8" stroke-linecap="square" fill="none"/>
<path d="M354.5 311.7h0M348.0 313.5h0M352.2 321.2h0M342.4 309.7h0M357.0 310.4h0M348.7 318.8h0M345.4 318.7h0M354.1 316.2h0M350.2 321.6h0M351.3 313.7h0M356.8 320.1h0M359.2 322.0h0M353.7 308.6h0M357.1 318.8h0M355.9 316.1h0M354.2 320.8h0M347.2 309.7h0M352.6 324.8h0M341.7 326.2h0M360.5 308.0h0M353.2 317.0h0M355.8 319.8h0M354.0 317.7h0M360.4 327.9h0M348.4 314.2h0M351.7 320.4h0M353.8 325.6h0M362.2 315.7h0M354.9 322.4h0M357.8 313.0h0M352.9 314.7h0M346.1 309.7h0M349.7 315.4h0M361.0 319.0h0M344.8 323.0h0M350.5 324.0h0M355.8 307.5h0M342.3 314.2h0M350.1 315.6h0M351.8 319.0h0M353.8 313.8h0M358.6 317.7h0M357.4 327.4h0M355.4 317.4h0M350.4 312.0h0M352.2 317.9h0M356.2 314.5h0M350.7 319.2h0M341.8 326.7h0M350.5 319.3h0" stroke="#fff" stroke-opacity="0.25" stroke-width="0.9" stroke-linecap="square" fill="none"/>
<path d="M371.7 301.7h0M344.3 324.1h0M361.2 307.9h0M342.3 327.8h0M357.1 318.9h0M354.6 314.2h0M359.9 310.4h0M353.8 316.4h0M348.0 325.1h0M341.7 307.1h0M352.2 318.8h0M349.6 319.5h0M362.1 317.4h0M348.9 323.9h0M345.0 324.4h0M341.7 323.5h0M345.5 327.7h0M366.9 314.8h0M355.4 324.9h0M355.3 313.3h0M356.2 316.0h0M352.4 316.6h0M354.3 314.6h0M342.0 311.5h0M342.2 303.4h0M352.0 314.7h0M347.0 316.4h0M358.6 314.2h0M354.0 305.0h0M341.8 314.3h0M343.3 327.6h0M348.8 299.5h0M355.9 312.8h0M359.5 310.4h0M362.0 319.6h0M348.0 327.1h0M346.6 307.3h0M341.8 318.4h0M343.5 303.7h0M342.7 320.6h0M362.5 324.1h0M360.4 328.3h0M344.5 308.3h0M341.8 318.1h0M353.3 320.6h0M347.8 310.1h0M344.6 309.9h0M362.9 320.5h0M360.8 323.8h0M347.0 319.2h0M342.0 322.7h0M360.5 307.7h0M362.9 311.2h0M350.8 328.4h0M365.6 310.3h0M343.6 323.4h0M352.3 322.6h0M361.7 327.9h0M357.6 304.8h0M356.5 300.5h0M346.4 313.2h0M343.6 310.2h0M345.8 317.3h0M348.3 303.5h0M349.5 320.2h0M370.2 291.1h0M361.7 298.6h0M357.1 306.4h0M349.0 306.4h0M355.8 317.1h0M355.8 317.8h0M341.9 323.9h0M369.3 318.2h0M361.4 303.7h0M357.4 308.3h0M358.4 324.6h0M347.2 325.8h0M370.8 293.4h0M352.8 328.4h0M345.9 326.4h0M363.9 305.4h0M342.1 320.7h0M348.3 328.5h0M365.8 323.0h0M353.2 324.6h0M354.0 323.6h0M347.0 316.3h0M342.0 310.9h0M353.6 307.3h0M352.6 320.0h0M358.5 310.8h0M349.5 310.7h0M353.7 311.5h0M344.1 312.2h0M348.0 311.9h0M359.3 291.0h0M350.6 319.2h0M345.8 322.4h0M354.5 314.6h0M358.1 323.8h0M346.9 313.6h0M355.1 305.8h0M357.6 317.5h0M349.3 312.4h0M356.4 328.3h0M367.0 312.0h0M342.5 308.4h0M349.1 321.3h0M348.6 322.9h0M342.1 317.2h0M345.9 322.9h0M366.1 303.5h0M344.4 326.4h0M354.2 328.1h0M351.8 309.7h0M364.1 309.2h0M358.3 317.7h0M350.3 328.3h0M356.5 309.3h0M347.0 314.7h0M341.9 308.3h0M346.0 323.2h0M378.4 305.8h0M344.5 308.7h0M342.2 307.8h0M371.8 314.1h0M348.1 307.0h0M365.4 309.4h0M355.4 317.4h0M361.9 299.5h0M351.0 316.1h0M342.0 327.7h0M358.0 308.0h0M355.9 313.7h0M359.1 304.2h0M358.2 318.7h0M344.1 319.5h0M342.9 314.3h0M348.7 326.0h0M358.2 325.6h0M359.8 311.1h0M342.5 310.9h0M365.3 308.0h0M344.3 294.4h0M341.8 311.1h0M360.6 313.4h0M341.8 314.8h0M359.0 300.9h0M345.1 316.2h0M363.0 302.8h0M347.7 311.1h0M356.3 325.0h0M369.9 313.9h0M358.3 306.4h0M370.5 309.0h0M342.4 323.4h0M346.4 317.7h0M347.2 312.6h0M374.8 320.0h0M348.4 320.5h0M344.3 327.9h0M341.7 325.4h0M358.4 319.6h0M356.3 313.4h0M359.3 325.6h0M346.4 320.0h0M342.0 306.7h0M342.3 313.9h0M355.0 311.8h0M350.5 314.1h0M350.2 320.4h0M346.4 327.9h0M359.0 321.9h0M352.7 316.7h0M362.4 315.9h0M364.6 310.2h0M346.7 301.8h0M356.6 318.9h0M360.3 284.9h0M348.9 325.2h0M355.6 302.8h0M353.8 312.7h0M343.6 327.9h0M360.6 302.6h0M366.4 303.8h0M357.8 319.5h0M353.9 319.6h0M357.0 306.4h0M354.3 314.9h0M342.1 310.0h0M342.1 320.5h0M368.2 309.8h0M343.1 321.6h0M360.6 305.8h0M341.7 314.8h0M342.6 328.4h0M342.2 321.1h0M365.3 297.9h0M361.5 307.8h0M347.8 303.0h0" stroke="#f53535" stroke-opacity="0.26" stroke-width="0.8" stroke-linecap="square" fill="none"/>
<path d="M351.9 298.5h0M362.7 312.2h0M359.5 301.9h0M344.1 296.1h0M358.0 296.4h0M355.3 299.6h0M356.1 320.1h0M367.2 313.7h0M356.9 303.4h0M375.6 311.1h0M365.4 280.8h0M372.7 318.3h0M346.4 300.8h0M362.1 314.6h0M358.7 307.9h0M356.7 301.7h0M372.9 315.2h0M360.2 301.9h0M352.6 308.0h0M351.9 315.2h0M356.1 314.9h0M342.6 310.1h0M359.8 311.8h0M349.9 308.0h0M358.5 311.8h0M365.4 289.5h0M368.8 315.7h0M354.6 307.3h0M393.6 324.3h0M367.5 313.5h0M353.1 290.1h0M357.0 302.2h0M354.4 309.3h0M354.6 288.6h0M359.5 319.2h0M358.1 315.6h0M361.4 314.2h0M359.0 307.4h0M343.1 317.4h0M347.8 295.4h0M352.0 307.3h0M357.8 310.5h0M353.3 302.4h0M356.8 303.9h0M357.0 298.5h0M363.8 315.4h0M361.2 323.3h0M351.8 296.8h0M341.8 302.4h0M351.9 297.4h0M347.9 302.3h0M345.8 292.5h0M361.1 281.5h0M361.8 306.6h0M376.4 322.0h0M349.8 314.4h0M347.3 309.5h0M351.4 293.7h0M361.0 317.2h0M364.4 297.0h0M350.0 308.0h0M349.7 311.4h0M363.2 318.5h0M364.8 309.1h0M376.1 307.8h0M349.2 310.2h0M369.1 293.6h0M358.2 320.1h0M356.6 315.4h0M367.7 313.0h0M353.1 300.0h0M353.2 311.8h0M348.7 285.3h0M368.5 292.7h0M361.1 296.3h0M350.3 325.6h0M373.8 303.8h0M357.9 309.6h0M355.4 302.9h0M361.8 300.9h0M357.1 310.7h0M359.1 299.8h0M362.5 314.2h0M360.7 308.7h0M366.9 300.9h0M358.1 312.2h0M357.8 303.5h0M347.3 305.2h0M348.9 303.8h0M360.9 304.3h0M358.3 300.3h0M362.4 307.5h0M356.4 317.4h0M358.5 312.1h0M370.3 319.5h0M364.6 301.1h0M359.1 291.2h0M371.2 288.1h0M351.5 302.6h0M348.1 312.9h0M365.7 309.4h0M370.7 315.7h0M358.5 311.8h0M355.2 319.5h0M355.0 296.9h0M356.1 307.8h0M344.0 308.3h0M344.6 301.5h0M342.3 300.3h0M365.8 297.2h0M361.6 301.2h0M366.9 325.4h0M353.5 314.6h0M367.7 314.9h0M357.3 302.1h0M357.2 309.1h0M351.5 309.3h0M345.1 298.1h0M347.6 311.3h0M372.8 303.5h0" stroke="#f53535" stroke-opacity="0.28" stroke-width="0.8" stroke-linecap="square" fill="none"/>
</g>
<g clip-path="url(#g14)">
<ellipse cx="370.5" cy="297.5" rx="5" ry="5" transform="rotate(0 370.5 297.5)" fill="url(#bg)" fill-opacity="0.90" filter="url(#b1)"/>
<path d="M364.4 299.0h0M372.6 300.2h0M375.7 296.7h0M373.9 291.8h0M373.4 294.1h0M375.1 299.2h0M369.3 297.5h0M375.0 302.7h0M372.6 297.6h0M373.2 290.2h0M371.3 305.5h0M368.0 295.4h0M367.2 297.6h0M369.1 296.9h0M371.8 294.8h0M369.2 299.0h0M371.9 301.3h0M372.1 296.6h0M370.5 291.5h0M364.6 295.6h0M374.0 295.0h0M371.0 294.3h0M372.8 299.7h0M368.3 298.0h0M371.3 300.5h0M379.6 295.3h0M373.4 302.5h0M369.7 300.4h0M373.8 294.5h0M371.5 296.5h0M368.4 297.7h0M370.4 296.7h0M366.2 299.5h0M368.3 294.2h0M372.4 297.5h0M368.6 296.9h0M369.8 301.7h0M367.8 295.8h0M373.4 299.3h0M366.4 296.0h0M368.8 295.8h0M366.6 295.3h0M368.8 303.0h0M375.9 305.1h0M380.7 294.8h0M373.6 297.7h0M374.5 300.1h0M366.4 295.1h0M370.4 297.0h0M374.9 291.6h0M368.7 295.9h0M374.1 296.3h0M373.9 295.1h0M374.2 297.1h0M370.5 298.0h0M372.2 299.0h0M368.4 303.8h0M372.1 299.3h0M367.4 296.0h0M369.8 297.7h0M372.2 299.3h0M373.2 294.2h0M370.9 295.8h0M376.0 296.4h0M363.5 300.5h0M367.9 297.9h0M370.2 295.8h0M369.9 295.7h0M374.3 295.6h0M374.8 292.9h0M368.6 294.0h0M371.3 302.6h0M371.7 294.5h0M372.9 297.9h0M366.9 295.1h0M370.8 297.1h0M369.2 295.5h0M369.3 302.3h0M367.6 299.1h0M367.4 292.6h0M373.1 296.9h0M368.9 297.8h0M369.6 301.4h0M367.9 298.0h0M367.1 292.8h0M369.4 300.3h0M363.9 294.5h0M369.0 296.2h0M368.4 298.6h0M367.5 299.9h0M368.4 298.9h0M371.3 299.4h0M369.0 297.5h0M371.5 303.4h0M373.2 302.8h0M368.1 296.6h0M369.3 298.6h0M371.0 295.2h0M364.9 297.0h0" stroke="#3a4af0" stroke-opacity="0.45" stroke-width="0.8" stroke-linecap="square" fill="none"/>
<path d="M365.9 294.6h0M364.5 297.2h0M367.7 296.2h0M372.0 290.3h0M372.3 300.2h0M369.8 298.0h0M372.1 297.2h0M377.0 296.5h0M373.3 295.1h0M363.7 296.0h0M376.5 303.9h0M380.6 304.0h0M376.5 296.3h0M365.3 297.7h0M366.0 295.9h0M369.3 300.3h0M370.4 295.8h0M372.1 298.8h0M368.6 296.4h0M374.6 303.6h0M375.2 292.4h0M368.3 295.3h0M380.5 299.7h0M371.1 293.1h0M370.3 294.2h0M379.8 295.6h0M372.8 299.4h0M367.3 293.7h0M374.0 296.1h0M380.8 302.4h0M367.4 294.5h0M369.7 300.2h0M366.4 293.8h0M369.2 304.3h0M367.1 292.4h0M363.4 306.2h0M363.5 291.4h0M370.1 295.7h0M372.9 294.1h0M379.6 297.1h0M367.6 295.3h0M368.9 304.8h0M372.3 292.4h0M364.2 292.6h0M369.3 290.3h0M373.4 304.0h0M369.8 300.6h0M372.0 292.5h0M381.0 293.1h0M369.7 294.5h0M370.7 298.4h0M378.3 296.2h0" stroke="#7580f0" stroke-opacity="0.35" stroke-width="0.8" stroke-linecap="square" fill="none"/>
</g>
<line x1="341.4" y1="276.3" x2="341.4" y2="328.8" stroke="#808080" stroke-width="0.7"/>
<line x1="341.4" y1="328.8" x2="395.4" y2="328.8" stroke="#808080" stroke-width="0.7"/>
<line x1="340.2" y1="279.1" x2="341.4" y2="279.1" stroke="#777" stroke-width="0.5"/>
<text x="340.0" y="280.3" font-size="3.4" text-anchor="end" font-family='"Liberation Serif", serif' fill="#555">1<tspan font-size="2.4" dy="-1.1">1</tspan></text>
<line x1="340.2" y1="292.8" x2="341.4" y2="292.8" stroke="#777" stroke-width="0.5"/>
<text x="340.0" y="294.0" font-size="3.4" text-anchor="end" font-family='"Liberation Serif", serif' fill="#555">1<tspan font-size="2.4" dy="-1.1">2</tspan></text>
<line x1="340.2" y1="306.5" x2="341.4" y2="306.5" stroke="#777" stroke-width="0.5"/>
<text x="340.0" y="307.7" font-size="3.4" text-anchor="end" font-family='"Liberation Serif", serif' fill="#555">1<tspan font-size="2.4" dy="-1.1">3</tspan></text>
<line x1="340.2" y1="320.3" x2="341.4" y2="320.3" stroke="#777" stroke-width="0.5"/>
<text x="340.0" y="321.5" font-size="3.4" text-anchor="end" font-family='"Liberation Serif", serif' fill="#555">1<tspan font-size="2.4" dy="-1.1">4</tspan></text>
<line x1="350.4" y1="328.8" x2="350.4" y2="330.0" stroke="#777" stroke-width="0.5"/>
<text x="350.4" y="332.6" font-size="3.4" text-anchor="middle" font-family='"Liberation Serif", serif' fill="#555">1<tspan font-size="2.4" dy="-1.1">1</tspan></text>
<line x1="364.2" y1="328.8" x2="364.2" y2="330.0" stroke="#777" stroke-width="0.5"/>
<text x="364.2" y="332.6" font-size="3.4" text-anchor="middle" font-family='"Liberation Serif", serif' fill="#555">1<tspan font-size="2.4" dy="-1.1">2</tspan></text>
<line x1="378.0" y1="328.8" x2="378.0" y2="330.0" stroke="#777" stroke-width="0.5"/>
<text x="378.0" y="332.6" font-size="3.4" text-anchor="middle" font-family='"Liberation Serif", serif' fill="#555">1<tspan font-size="2.4" dy="-1.1">3</tspan></text>
<line x1="391.79999999999995" y1="328.8" x2="391.79999999999995" y2="330.0" stroke="#777" stroke-width="0.5"/>
<text x="391.79999999999995" y="332.6" font-size="3.4" text-anchor="middle" font-family='"Liberation Serif", serif' fill="#555">1<tspan font-size="2.4" dy="-1.1">4</tspan></text>
<rect x="362.3" y="289.4" width="21.3" height="19.6" fill="none" stroke="#767676" stroke-width="0.75"/>
<text x="371.3" y="285.5" font-size="5.6" font-family='"Liberation Serif", serif' font-weight="bold" fill="#111" textLength="15.7" lengthAdjust="spacingAndGlyphs">11.6%</text>
<clipPath id="c15"><rect x="403.7" y="276.3" width="53.7" height="52.2"/></clipPath>
<clipPath id="g15"><rect x="425.29999999999995" y="289.29999999999995" width="20.2" height="19.7"/></clipPath>
<g clip-path="url(#c15)">
<ellipse cx="427" cy="320" rx="9" ry="6.5" transform="rotate(0 427 320)" fill="url(#rg)" fill-opacity="0.33" filter="url(#b1)"/>
<path d="M427.7 319.9h0M426.7 317.9h0M427.9 319.9h0M432.4 316.3h0M439.8 308.4h0M427.3 323.2h0M426.0 317.2h0M426.7 322.6h0M433.3 314.3h0M428.0 317.6h0M432.3 318.1h0M427.6 323.9h0M425.2 320.7h0M422.7 318.7h0M416.7 316.5h0M423.9 317.1h0M437.6 311.2h0M415.1 320.5h0M429.7 320.2h0M432.5 327.4h0M424.1 314.7h0M425.7 324.1h0M428.7 318.9h0M428.1 320.7h0M417.7 321.3h0M422.3 318.8h0M423.9 320.0h0M431.4 318.9h0M427.4 323.1h0M429.0 317.2h0M430.7 318.2h0M425.2 320.5h0M434.4 316.5h0M424.6 320.3h0M422.2 320.2h0M433.1 313.1h0M426.8 317.1h0M437.1 321.9h0M429.7 319.3h0M421.3 320.0h0M428.5 319.8h0M435.8 322.6h0M422.0 318.3h0M428.2 315.3h0M425.7 317.4h0M427.6 320.2h0M423.4 324.5h0M423.7 322.3h0M421.3 316.2h0M423.5 318.3h0M430.9 314.2h0M435.2 315.3h0M434.3 320.5h0M424.2 322.9h0M424.3 319.8h0M427.1 328.0h0M421.7 326.9h0M425.3 317.2h0M424.2 324.4h0M425.7 316.9h0M429.8 320.8h0M432.1 315.6h0M434.3 324.3h0M423.0 318.5h0M429.0 318.8h0M430.7 321.9h0M426.5 315.5h0M416.3 320.8h0M420.1 323.9h0M435.6 320.2h0M431.0 324.3h0M430.8 315.6h0M421.5 317.9h0M427.0 316.6h0M427.7 324.5h0M424.6 319.8h0M421.5 319.2h0M431.3 324.7h0M427.8 316.8h0M436.7 312.1h0" stroke="#f41818" stroke-opacity="0.5" stroke-width="0.8" stroke-linecap="square" fill="none"/>
<path d="M423.4 321.7h0M430.0 322.3h0M428.9 320.0h0M434.2 317.0h0M427.5 318.3h0M424.8 317.9h0M422.7 313.8h0M425.8 315.2h0M429.9 318.1h0M433.0 326.5h0M432.3 321.4h0M417.3 323.9h0M422.1 323.6h0M420.8 320.0h0M421.0 320.7h0M422.3 317.6h0M416.1 324.1h0" stroke="#fff" stroke-opacity="0.25" stroke-width="0.9" stroke-linecap="square" fill="none"/>
<path d="M433.4 319.3h0M428.8 319.6h0M417.9 327.9h0M433.2 328.0h0M438.8 319.7h0M424.9 320.4h0M417.9 322.1h0M429.1 314.0h0M430.0 314.1h0M417.5 312.2h0M437.7 328.1h0M417.7 322.2h0M438.0 318.6h0M421.1 319.5h0M429.7 327.9h0M414.5 319.7h0M422.6 311.2h0M419.4 328.0h0M421.9 321.2h0M439.4 310.2h0M439.9 328.1h0M424.4 315.5h0M409.8 313.7h0M434.3 327.4h0M427.3 323.5h0M453.6 313.8h0M418.5 310.9h0M419.9 324.0h0M415.2 312.5h0M424.1 313.4h0M421.0 315.5h0M433.4 308.4h0M428.1 314.6h0M409.5 328.2h0M417.9 326.3h0M430.7 321.9h0M429.0 328.3h0M428.7 327.9h0M438.8 324.2h0M425.0 315.5h0M427.5 324.7h0M421.5 320.2h0M428.5 327.7h0M431.7 318.6h0M414.6 318.9h0M437.4 317.5h0M412.6 317.9h0M430.2 310.5h0M415.8 312.1h0M441.1 322.8h0M428.4 325.7h0M418.9 324.6h0M417.4 315.6h0M423.7 325.3h0M416.0 308.1h0M426.2 320.5h0M437.8 309.7h0M433.6 312.6h0M424.3 321.1h0M435.0 316.8h0M435.6 326.0h0M435.2 321.7h0M414.7 313.3h0M423.4 323.2h0M418.2 327.7h0M430.9 321.8h0M414.9 327.8h0M443.6 309.2h0M436.6 322.2h0M433.9 326.5h0" stroke="#f53535" stroke-opacity="0.26" stroke-width="0.8" stroke-linecap="square" fill="none"/>
<ellipse cx="410" cy="305" rx="8" ry="7" transform="rotate(0 410 305)" fill="url(#rg)" fill-opacity="0.38" filter="url(#b1)"/>
<path d="M413.7 300.4h0M407.8 305.1h0M410.8 302.7h0M417.9 301.8h0M408.0 313.2h0M410.3 298.0h0M412.7 306.9h0M415.9 312.6h0M410.2 309.2h0M410.1 301.1h0M405.8 301.0h0M404.4 311.1h0M406.5 299.5h0M409.3 299.7h0M414.7 312.5h0M411.9 304.4h0M408.1 306.8h0M413.9 308.7h0M407.8 305.8h0M403.9 305.7h0M414.2 309.2h0M405.5 298.9h0M419.1 304.9h0M408.7 306.1h0M408.7 307.0h0M412.5 302.1h0M403.9 302.7h0M404.2 308.3h0M406.8 300.6h0M411.6 307.5h0M408.2 301.2h0M403.8 301.2h0M406.3 298.4h0M408.9 306.1h0M408.4 313.2h0M410.1 307.0h0M426.4 311.6h0M410.4 306.5h0M409.2 305.9h0M409.2 299.2h0M403.7 307.9h0M417.8 305.8h0M405.4 300.0h0M416.8 312.4h0M415.0 304.6h0M407.7 309.2h0M408.7 300.9h0M404.2 302.4h0M408.9 301.3h0M416.5 301.4h0M415.1 305.6h0M408.8 308.1h0M404.3 310.3h0M407.5 303.2h0M412.3 305.9h0M406.1 308.4h0M405.4 305.1h0M406.3 304.4h0M413.0 304.2h0M405.6 309.1h0M412.4 301.7h0M407.8 302.8h0M421.6 305.7h0M416.8 307.7h0M413.6 305.6h0M404.4 304.2h0M411.2 301.9h0M417.4 305.3h0M409.7 296.0h0M414.4 309.3h0M404.0 299.7h0M414.3 299.6h0M411.1 303.7h0M416.0 304.6h0M412.0 303.7h0M403.8 304.2h0M415.9 303.9h0M410.7 304.5h0M412.7 306.8h0M414.9 300.7h0M404.4 308.8h0M407.5 304.8h0M416.7 302.8h0M417.7 304.8h0M403.7 304.8h0M410.4 305.4h0M409.1 314.4h0M416.3 308.4h0M407.7 304.5h0M411.8 310.9h0M404.4 310.1h0M415.5 306.6h0" stroke="#f41818" stroke-opacity="0.5" stroke-width="0.8" stroke-linecap="square" fill="none"/>
<path d="M404.4 308.6h0M403.8 312.5h0M406.4 300.3h0M415.7 307.5h0M410.6 311.6h0M408.6 307.8h0M412.3 307.5h0M412.7 307.4h0M404.0 303.1h0M410.8 301.1h0M414.0 303.2h0M404.6 307.3h0M405.5 302.2h0M408.3 302.6h0M411.0 308.7h0M406.6 306.2h0M408.3 304.3h0M405.3 307.2h0M407.9 303.6h0M407.0 301.1h0" stroke="#fff" stroke-opacity="0.25" stroke-width="0.9" stroke-linecap="square" fill="none"/>
<path d="M413.7 289.8h0M415.9 292.0h0M405.0 306.8h0M409.5 314.4h0M405.8 299.0h0M415.6 317.6h0M407.4 309.4h0M416.6 295.0h0M404.1 294.6h0M404.1 298.6h0M406.4 307.6h0M413.3 303.7h0M410.9 299.2h0M409.9 290.8h0M410.3 303.6h0M413.8 301.5h0M407.8 324.3h0M412.5 301.7h0M413.5 300.8h0M403.8 296.3h0M414.4 306.8h0M412.9 307.6h0M411.6 304.1h0M404.0 316.8h0M418.3 306.0h0M418.4 292.2h0M411.1 303.0h0M422.1 307.7h0M404.0 306.9h0M404.1 294.1h0M406.7 321.6h0M405.4 317.8h0M411.9 305.9h0M404.0 298.5h0M408.2 303.2h0M425.6 298.7h0M419.8 299.1h0M418.2 305.3h0M412.1 309.4h0M404.1 306.8h0M404.1 290.5h0M408.0 307.3h0M414.9 291.9h0M404.5 304.8h0M406.3 301.1h0M404.0 310.2h0M407.9 294.3h0M416.2 308.9h0M404.1 304.6h0M415.4 307.1h0M403.8 308.6h0M415.1 304.4h0M405.3 303.1h0M414.2 309.0h0M404.3 310.9h0M404.2 320.0h0M411.5 298.4h0M414.4 301.3h0M418.4 305.8h0M403.8 298.0h0M411.3 305.1h0M404.1 291.2h0M404.1 305.7h0M411.9 308.3h0M404.1 308.7h0M417.0 310.5h0M409.4 303.7h0M411.8 300.9h0M415.0 297.1h0M415.0 306.5h0M407.7 306.0h0M409.4 298.0h0M413.6 308.4h0M406.7 298.6h0M405.0 304.3h0M409.1 309.8h0M406.1 306.3h0M428.5 307.8h0M412.1 304.7h0M415.0 301.5h0" stroke="#f53535" stroke-opacity="0.26" stroke-width="0.8" stroke-linecap="square" fill="none"/>
<ellipse cx="413.5" cy="314.5" rx="10" ry="11.5" transform="rotate(20 413.5 314.5)" fill="url(#rg)" fill-opacity="0.95" filter="url(#b1)"/>
<path d="M411.8 321.6h0M403.8 303.1h0M422.0 308.9h0M407.6 318.7h0M407.7 320.5h0M419.4 305.2h0M423.0 314.3h0M417.0 308.5h0M412.1 320.5h0M408.0 311.4h0M412.7 314.2h0M418.8 315.6h0M405.1 322.9h0M404.2 318.5h0M417.0 320.8h0M418.7 318.6h0M416.2 310.4h0M411.2 304.9h0M410.0 315.5h0M415.2 301.9h0M429.7 313.1h0M418.4 311.8h0M417.5 304.0h0M403.8 314.7h0M416.8 323.8h0M413.9 310.0h0M416.6 322.9h0M416.3 318.5h0M422.5 311.9h0M407.7 317.1h0M408.5 323.6h0M407.9 309.0h0M409.9 328.3h0M409.7 323.5h0M424.7 317.2h0M418.9 319.0h0M414.6 307.7h0M411.6 318.6h0M406.3 319.5h0M404.9 308.1h0M409.3 322.8h0M418.5 315.2h0M408.7 316.8h0M415.9 317.4h0M416.2 309.8h0M409.1 325.6h0M418.0 316.3h0M413.8 320.4h0M416.3 323.4h0M409.2 322.9h0M417.0 325.7h0M417.8 323.8h0M414.8 320.9h0M412.3 312.3h0M407.2 309.8h0M404.4 316.6h0M412.2 313.5h0M420.7 299.1h0M414.4 318.0h0M408.7 307.9h0M410.0 314.5h0M408.6 313.0h0M404.0 307.6h0M404.1 316.5h0M417.3 313.9h0M410.8 313.5h0M415.4 321.9h0M420.8 320.5h0M415.4 297.2h0M417.9 303.2h0M404.3 327.3h0M410.5 328.2h0M422.8 312.6h0M415.9 311.1h0M416.2 311.2h0M413.0 317.2h0M419.9 306.3h0M411.8 314.6h0M416.3 325.2h0M412.6 309.7h0M420.6 312.9h0M426.9 324.2h0M408.4 319.0h0M426.0 309.6h0M407.8 326.5h0M413.0 315.7h0M415.7 317.1h0M410.6 311.0h0M418.1 310.5h0M417.8 319.5h0M413.9 315.1h0M416.1 314.1h0M415.4 318.6h0M415.9 320.3h0M412.9 308.4h0M412.1 313.4h0M414.2 319.2h0M410.1 305.3h0M419.8 314.9h0M413.6 320.3h0M403.7 320.4h0M412.9 307.4h0M404.8 312.5h0M415.1 300.7h0M404.9 311.0h0M425.5 315.6h0M416.3 328.3h0M404.5 306.7h0M424.1 310.4h0M419.4 306.1h0M420.3 317.0h0M410.2 322.1h0M408.1 304.7h0M411.0 308.9h0M415.7 307.6h0M409.2 327.7h0M412.5 306.3h0M417.9 307.9h0M411.6 314.4h0M411.8 310.0h0M407.6 303.4h0M414.5 304.4h0M417.7 321.7h0M420.3 312.4h0M413.2 309.4h0M413.8 309.7h0M405.3 309.9h0M406.8 310.6h0M413.7 322.5h0M411.1 305.6h0M413.1 322.2h0M407.3 311.2h0M413.8 326.5h0M411.0 310.2h0M420.9 316.4h0M409.2 319.2h0M409.9 317.2h0M414.1 317.1h0M419.2 320.9h0M408.7 317.8h0M404.2 320.6h0M417.9 313.6h0M413.4 298.4h0M419.1 310.5h0M416.3 311.2h0M414.4 309.7h0M414.7 309.2h0M416.3 313.5h0M410.6 317.5h0M411.7 314.0h0M414.2 319.0h0M420.7 319.4h0M425.6 304.6h0M408.2 314.8h0M410.5 310.1h0M418.5 316.8h0M416.1 310.4h0M410.7 319.6h0M417.3 310.1h0M410.4 317.8h0M415.6 326.7h0M423.6 313.9h0M410.1 311.0h0M410.8 307.5h0M409.9 323.4h0M421.2 310.3h0M403.9 324.6h0M421.3 311.5h0M410.9 318.0h0M417.8 312.6h0M416.2 318.2h0M421.9 307.0h0M425.1 310.7h0M415.2 306.1h0M418.2 308.0h0M418.1 315.2h0M420.9 320.2h0M404.4 308.1h0M406.1 313.9h0M414.9 320.8h0M413.6 315.5h0M417.8 322.4h0M415.4 313.6h0M418.6 308.7h0M411.9 314.4h0M421.1 316.8h0M415.2 321.4h0M409.2 318.2h0M422.4 325.9h0M410.6 314.4h0M412.5 320.2h0M420.3 316.8h0M404.3 318.2h0M421.0 317.9h0M419.1 319.0h0M411.7 305.1h0M411.4 308.6h0M423.3 316.9h0M414.0 315.1h0M415.8 320.0h0M414.4 319.5h0M417.0 317.6h0M413.0 318.3h0M422.2 311.6h0M418.8 311.6h0M413.9 318.3h0M412.7 310.1h0M415.9 319.8h0M409.2 316.9h0M404.1 316.6h0M412.8 309.7h0M404.2 319.1h0M418.6 315.2h0M412.1 318.5h0M404.5 318.0h0M417.1 320.9h0M414.2 312.4h0M413.7 311.7h0M410.3 320.6h0M409.8 317.9h0M414.6 320.5h0M423.5 308.7h0M411.1 315.8h0M411.8 307.7h0M416.3 307.7h0M411.9 316.3h0M410.8 315.1h0M414.1 319.4h0M407.9 313.6h0M411.5 315.0h0" stroke="#f41818" stroke-opacity="0.5" stroke-width="0.8" stroke-linecap="square" fill="none"/>
<path d="M406.7 318.0h0M410.0 326.9h0M413.4 323.8h0M426.5 297.5h0M409.6 310.3h0M411.5 321.0h0M421.2 328.2h0M417.0 328.1h0M411.0 315.6h0M429.1 308.5h0M420.6 327.5h0M414.0 323.0h0M410.2 316.0h0M411.0 327.7h0M408.4 309.5h0M414.5 324.8h0M405.1 312.3h0M412.7 296.9h0M411.1 305.6h0M411.1 317.6h0M418.7 314.7h0M423.4 310.5h0M419.5 325.0h0M412.4 321.1h0M414.0 321.2h0M415.5 307.4h0M419.5 303.8h0M407.3 323.7h0M403.9 312.8h0M415.2 311.7h0M413.0 312.1h0M413.7 312.0h0M415.6 328.2h0M403.7 307.0h0M420.1 317.4h0M421.6 321.4h0M408.8 316.4h0M410.9 315.1h0M407.3 306.8h0M419.4 307.1h0M404.5 324.2h0M423.2 314.1h0M417.6 312.3h0M418.7 306.3h0M418.2 318.7h0M409.0 295.0h0M435.4 310.6h0M417.7 315.2h0M420.8 312.4h0M416.6 306.3h0" stroke="#fff" stroke-opacity="0.25" stroke-width="0.9" stroke-linecap="square" fill="none"/>
<path d="M422.0 309.1h0M404.0 315.3h0M406.5 315.7h0M413.9 321.6h0M417.1 299.7h0M421.9 305.1h0M417.4 303.6h0M424.0 302.8h0M415.1 291.7h0M404.3 327.1h0M411.2 311.6h0M415.4 314.2h0M420.4 294.8h0M410.7 313.8h0M424.8 319.7h0M407.5 292.5h0M424.2 313.4h0M423.2 307.9h0M403.8 320.5h0M416.8 325.8h0M411.8 308.9h0M422.2 324.4h0M434.5 321.1h0M427.0 319.2h0M423.1 298.7h0M406.3 304.4h0M404.1 312.5h0M404.3 328.2h0M428.4 305.9h0M404.3 321.1h0M404.9 323.7h0M414.1 315.2h0M410.3 321.2h0M423.2 317.9h0M404.0 306.9h0M410.0 311.1h0M412.5 319.4h0M408.8 319.9h0M409.0 321.7h0M424.7 298.9h0M416.4 306.4h0M418.5 324.9h0M408.9 328.3h0M414.9 302.6h0M418.8 313.2h0M423.6 320.3h0M421.8 316.2h0M407.5 312.6h0M404.1 316.6h0M415.7 315.4h0M434.5 312.1h0M405.3 328.1h0M410.4 313.6h0M417.0 318.9h0M411.0 310.6h0M403.9 306.9h0M407.1 312.5h0M414.2 323.9h0M405.5 310.9h0M436.8 301.0h0M407.8 327.8h0M411.0 301.7h0M403.8 328.0h0M419.1 296.9h0M404.5 310.5h0M406.4 322.3h0M413.0 296.3h0M415.9 320.4h0M420.0 328.0h0M418.5 303.8h0M417.3 328.1h0M404.1 302.5h0M405.2 323.1h0M415.5 303.1h0M423.0 323.8h0M425.1 323.2h0M403.9 309.7h0M412.9 322.0h0M403.9 328.1h0M413.8 307.7h0M406.9 326.9h0M426.5 315.4h0M403.9 328.5h0M413.7 321.6h0M407.9 327.8h0M420.7 306.0h0M416.6 314.3h0M432.3 297.0h0M414.8 322.4h0M414.8 324.0h0M415.4 321.4h0M425.6 326.0h0M423.6 305.0h0M416.2 300.5h0M404.5 300.7h0M421.5 314.0h0M404.4 306.6h0M431.7 294.1h0M413.1 324.1h0M422.1 305.3h0M420.6 316.9h0M407.5 318.2h0M404.5 313.7h0M404.3 328.3h0M421.0 315.0h0M411.4 317.8h0M404.1 328.1h0M407.3 328.0h0M404.2 319.9h0M420.1 309.4h0M419.0 315.5h0M415.7 319.4h0M436.3 304.2h0M432.6 319.7h0M403.9 301.8h0M405.0 323.3h0M423.4 297.6h0M404.0 314.9h0M409.8 305.3h0M404.3 321.0h0M416.0 318.0h0M419.4 316.0h0M409.2 309.3h0M414.9 327.9h0M421.2 299.1h0M411.1 318.1h0M420.4 305.4h0M436.4 321.2h0M409.8 309.8h0M433.3 317.5h0M412.9 321.1h0M404.1 328.3h0M404.5 328.5h0M418.9 327.8h0M404.0 313.5h0M403.7 328.5h0M413.6 313.3h0M403.9 299.5h0M412.1 318.0h0M436.5 299.7h0M421.5 296.5h0M420.1 323.0h0M419.4 302.6h0M419.6 312.3h0M407.1 300.2h0M403.9 328.0h0M404.2 319.6h0M410.4 315.8h0M416.7 312.0h0M416.4 286.8h0M404.4 327.8h0M412.4 292.6h0M420.4 321.7h0M416.1 323.2h0M409.3 327.0h0M423.0 307.9h0M405.5 328.1h0M423.4 306.4h0M425.0 307.0h0M404.1 318.5h0M428.7 328.4h0M403.8 326.2h0M404.0 292.9h0M412.6 310.6h0M421.6 320.0h0M414.6 323.1h0M424.2 304.3h0M406.3 327.9h0M404.5 328.4h0M405.0 328.1h0M418.5 305.0h0M424.2 321.2h0M403.8 316.1h0M412.0 327.3h0M418.1 300.9h0M413.6 307.1h0M421.1 315.7h0M418.6 308.5h0M404.2 328.3h0M407.5 309.7h0M413.1 317.2h0M415.9 322.1h0M404.0 325.9h0M414.1 314.7h0M404.2 328.1h0M432.1 327.9h0M418.0 318.5h0M406.3 314.3h0M419.9 297.9h0M433.5 328.3h0M420.6 311.6h0M416.0 303.9h0M404.2 327.9h0M422.8 314.9h0M404.2 298.1h0M418.7 308.9h0M411.5 305.9h0M414.7 325.8h0M403.9 323.3h0M422.1 328.3h0" stroke="#f53535" stroke-opacity="0.26" stroke-width="0.8" stroke-linecap="square" fill="none"/>
<path d="M418.8 313.3h0M408.5 307.3h0M411.7 322.2h0M418.0 307.7h0M430.9 295.4h0M412.3 323.9h0M405.8 319.5h0M422.5 318.1h0M422.3 309.9h0M421.4 314.8h0M403.8 322.8h0M420.2 319.2h0M403.7 311.4h0M403.9 327.0h0M421.9 328.5h0M408.8 301.3h0M403.7 328.1h0M423.9 307.6h0M412.8 304.9h0M407.3 304.9h0M421.5 321.9h0M415.3 328.4h0M413.6 303.0h0M411.0 316.3h0M414.8 306.2h0M409.1 318.7h0M404.5 312.8h0M427.0 314.7h0M408.9 318.7h0M414.3 309.8h0M426.2 307.0h0M417.9 300.1h0M413.1 312.3h0M413.0 328.1h0M442.1 301.5h0M412.7 314.9h0M414.2 316.2h0M436.3 328.0h0M416.8 309.2h0M426.2 305.3h0M425.2 325.1h0M414.1 316.5h0M421.5 306.6h0M422.3 322.3h0M406.9 310.6h0M421.1 310.6h0M428.3 307.0h0M407.9 319.4h0M425.6 319.7h0M410.2 321.2h0M415.5 314.1h0M410.4 306.4h0M417.3 314.3h0M425.4 315.4h0M412.6 317.3h0M413.4 320.6h0M406.8 307.9h0M412.6 294.7h0M435.0 302.5h0M427.6 309.2h0M426.1 327.1h0M403.9 317.3h0M404.5 319.7h0M407.4 299.4h0M417.3 314.2h0M423.3 304.1h0M415.5 313.2h0M421.0 302.4h0M425.0 312.9h0M412.6 309.4h0M429.4 309.0h0M419.4 297.2h0M422.2 318.0h0M431.0 328.1h0M405.3 309.8h0M418.5 308.5h0M417.0 308.4h0M404.1 303.2h0M426.3 312.3h0M412.0 317.5h0M404.1 315.5h0M425.5 315.8h0M424.9 314.4h0M420.5 310.5h0M420.4 297.2h0M408.1 308.3h0M428.7 305.1h0M404.0 312.3h0M412.4 298.4h0M428.1 297.7h0M405.6 327.5h0M407.1 311.2h0M422.2 298.5h0M440.9 305.5h0M420.5 311.5h0M407.4 314.0h0M404.0 307.5h0M405.2 323.7h0M416.1 295.0h0M408.0 311.1h0M427.7 320.5h0M416.6 305.4h0M419.9 315.3h0M404.3 313.3h0M421.8 300.1h0M419.9 310.1h0M415.9 328.2h0M421.2 320.6h0M417.7 328.3h0M422.4 308.4h0M410.9 316.4h0M420.2 327.4h0M438.0 324.0h0M418.2 317.9h0M418.5 318.9h0M421.0 291.2h0M410.8 304.8h0M411.4 318.0h0M419.3 296.2h0M422.9 310.4h0M411.0 305.0h0M432.5 313.3h0M410.1 294.7h0M419.0 306.7h0M415.5 318.2h0M417.6 314.1h0M428.4 300.8h0M410.6 313.1h0M413.5 296.8h0M435.1 306.9h0M423.5 302.3h0M413.3 313.4h0M428.0 309.5h0M410.8 298.0h0M413.5 311.1h0M421.6 303.1h0M404.5 301.5h0M404.0 292.3h0M410.9 296.4h0M412.0 323.9h0M419.5 318.0h0M420.1 314.8h0M427.9 298.6h0M426.5 305.5h0M421.9 323.0h0M408.1 322.0h0M423.2 314.6h0M432.4 299.5h0M404.5 310.2h0M407.5 307.2h0" stroke="#f53535" stroke-opacity="0.28" stroke-width="0.8" stroke-linecap="square" fill="none"/>
</g>
<g clip-path="url(#g15)">
<ellipse cx="432.5" cy="299" rx="3.8" ry="5.8" transform="rotate(30 432.5 299)" fill="url(#bg)" fill-opacity="1.00" filter="url(#b1)"/>
<path d="M432.4 298.5h0M432.2 296.2h0M434.5 301.8h0M434.8 295.1h0M432.4 299.8h0M429.7 299.5h0M433.3 297.9h0M432.1 298.1h0M432.7 300.3h0M437.5 294.7h0M434.8 305.7h0M434.3 296.7h0M433.8 295.6h0M433.4 299.8h0M431.3 299.4h0M432.5 307.3h0M434.5 297.3h0M432.6 300.8h0M437.2 297.0h0M431.7 299.8h0M428.9 299.2h0M430.5 298.3h0M431.0 299.2h0M429.0 303.4h0M425.7 298.0h0M429.1 300.2h0M431.0 299.2h0M432.2 297.8h0M434.8 297.4h0M430.8 296.4h0M434.0 295.9h0M433.0 296.7h0M434.5 295.5h0M432.6 296.9h0M432.8 297.5h0M433.6 300.5h0M437.3 298.9h0M428.8 300.1h0M436.8 294.9h0M431.3 304.2h0M432.2 294.7h0M435.5 302.2h0M437.7 296.3h0M431.3 298.6h0M433.9 300.0h0M432.8 298.5h0M435.7 293.8h0M431.1 299.5h0M432.8 297.0h0M434.4 299.2h0M437.8 294.9h0M431.7 301.2h0M439.2 298.5h0M434.8 299.8h0M430.2 299.3h0M430.2 297.4h0M433.4 307.1h0M434.4 298.6h0M429.7 305.9h0M427.0 298.8h0M434.5 300.1h0M435.5 296.4h0M430.0 302.7h0M436.0 294.9h0M434.3 299.6h0M428.8 300.8h0M431.8 298.7h0M434.6 301.8h0M430.9 300.7h0M433.1 299.0h0M432.8 299.8h0M434.3 305.5h0M430.5 300.3h0M429.2 298.6h0M433.4 298.3h0M432.1 295.5h0M428.0 301.9h0M432.0 296.6h0M433.3 294.5h0M430.9 296.5h0M431.2 301.9h0M428.2 296.9h0M433.7 300.8h0M432.3 299.6h0M433.4 299.7h0M430.8 296.8h0M432.2 302.3h0M431.0 299.8h0M434.1 300.2h0M429.6 300.1h0M431.1 297.9h0M429.6 297.9h0M436.4 294.1h0M432.7 297.8h0M436.6 290.7h0M433.6 295.3h0M431.1 300.2h0M438.9 293.7h0M430.2 300.0h0M436.0 300.3h0M435.9 294.7h0M432.8 297.9h0M434.0 302.8h0M435.3 300.3h0M432.9 298.7h0M431.0 298.6h0M438.0 298.1h0M430.2 300.6h0M428.3 302.1h0M431.8 299.9h0" stroke="#3a4af0" stroke-opacity="0.45" stroke-width="0.8" stroke-linecap="square" fill="none"/>
<path d="M434.6 293.9h0M433.6 293.3h0M428.6 299.2h0M442.1 305.7h0M429.6 300.1h0M429.9 304.1h0M432.4 295.5h0M441.0 308.7h0M433.8 303.3h0M432.0 297.1h0M433.3 301.9h0M427.6 300.2h0M431.3 290.3h0M431.4 308.6h0M438.9 291.2h0M429.9 306.7h0M437.0 300.0h0M430.6 299.1h0M430.9 301.1h0M429.7 299.4h0M432.2 300.5h0M437.8 297.5h0M439.7 297.3h0M428.8 303.1h0M434.2 294.8h0M432.1 299.3h0M434.2 292.3h0M430.2 299.1h0M430.0 297.3h0M431.9 290.7h0M436.0 297.9h0M428.3 304.7h0M441.5 300.5h0M435.4 296.2h0M437.4 301.0h0M439.2 293.5h0M438.1 296.9h0M434.7 291.4h0M438.1 301.7h0M432.4 292.1h0M434.4 302.3h0M428.5 307.7h0M433.7 298.5h0M430.1 293.0h0M440.7 291.3h0M436.6 292.2h0M434.2 297.4h0M432.0 299.1h0M432.4 303.4h0M428.0 308.7h0M436.9 301.3h0M433.4 308.0h0M436.6 291.2h0M445.1 299.1h0M437.2 291.1h0M429.0 304.8h0" stroke="#7580f0" stroke-opacity="0.35" stroke-width="0.8" stroke-linecap="square" fill="none"/>
</g>
<line x1="403.4" y1="276.3" x2="403.4" y2="328.8" stroke="#808080" stroke-width="0.7"/>
<line x1="403.4" y1="328.8" x2="457.4" y2="328.8" stroke="#808080" stroke-width="0.7"/>
<line x1="402.2" y1="279.1" x2="403.4" y2="279.1" stroke="#777" stroke-width="0.5"/>
<text x="402.0" y="280.3" font-size="3.4" text-anchor="end" font-family='"Liberation Serif", serif' fill="#555">1<tspan font-size="2.4" dy="-1.1">1</tspan></text>
<line x1="402.2" y1="292.8" x2="403.4" y2="292.8" stroke="#777" stroke-width="0.5"/>
<text x="402.0" y="294.0" font-size="3.4" text-anchor="end" font-family='"Liberation Serif", serif' fill="#555">1<tspan font-size="2.4" dy="-1.1">2</tspan></text>
<line x1="402.2" y1="306.5" x2="403.4" y2="306.5" stroke="#777" stroke-width="0.5"/>
<text x="402.0" y="307.7" font-size="3.4" text-anchor="end" font-family='"Liberation Serif", serif' fill="#555">1<tspan font-size="2.4" dy="-1.1">3</tspan></text>
<line x1="402.2" y1="320.3" x2="403.4" y2="320.3" stroke="#777" stroke-width="0.5"/>
<text x="402.0" y="321.5" font-size="3.4" text-anchor="end" font-family='"Liberation Serif", serif' fill="#555">1<tspan font-size="2.4" dy="-1.1">4</tspan></text>
<line x1="412.4" y1="328.8" x2="412.4" y2="330.0" stroke="#777" stroke-width="0.5"/>
<text x="412.4" y="332.6" font-size="3.4" text-anchor="middle" font-family='"Liberation Serif", serif' fill="#555">1<tspan font-size="2.4" dy="-1.1">1</tspan></text>
<line x1="426.2" y1="328.8" x2="426.2" y2="330.0" stroke="#777" stroke-width="0.5"/>
<text x="426.2" y="332.6" font-size="3.4" text-anchor="middle" font-family='"Liberation Serif", serif' fill="#555">1<tspan font-size="2.4" dy="-1.1">2</tspan></text>
<line x1="440.0" y1="328.8" x2="440.0" y2="330.0" stroke="#777" stroke-width="0.5"/>
<text x="440.0" y="332.6" font-size="3.4" text-anchor="middle" font-family='"Liberation Serif", serif' fill="#555">1<tspan font-size="2.4" dy="-1.1">3</tspan></text>
<line x1="453.79999999999995" y1="328.8" x2="453.79999999999995" y2="330.0" stroke="#777" stroke-width="0.5"/>
<text x="453.79999999999995" y="332.6" font-size="3.4" text-anchor="middle" font-family='"Liberation Serif", serif' fill="#555">1<tspan font-size="2.4" dy="-1.1">4</tspan></text>
<rect x="424.9" y="288.9" width="21.0" height="20.5" fill="none" stroke="#767676" stroke-width="0.75"/>
<text x="432.5" y="284.7" font-size="5.6" font-family='"Liberation Serif", serif' font-weight="bold" fill="#111" textLength="15.7" lengthAdjust="spacingAndGlyphs">11.5%</text>
<clipPath id="c16"><rect x="463.40000000000003" y="276.3" width="53.7" height="52.2"/></clipPath>
<clipPath id="g16"><rect x="485.29999999999995" y="289.79999999999995" width="19.7" height="18.8"/></clipPath>
<g clip-path="url(#c16)">
<ellipse cx="488" cy="318" rx="6.5" ry="5" transform="rotate(0 488 318)" fill="url(#rg)" fill-opacity="0.21" filter="url(#b1)"/>
<path d="M485.4 320.4h0M484.6 319.5h0M483.6 320.2h0M487.7 321.9h0M491.0 318.1h0M487.0 319.3h0M487.9 315.6h0M490.2 311.3h0M487.8 323.8h0M489.9 314.2h0M491.9 318.5h0M485.9 316.4h0M488.5 320.3h0M487.7 322.8h0M485.8 320.4h0M482.6 312.8h0M487.7 318.8h0M494.7 317.2h0M489.1 314.8h0M488.2 319.6h0M486.7 320.9h0M493.1 319.7h0M487.9 317.6h0M490.3 315.3h0M491.5 316.5h0M489.1 315.1h0M484.8 315.9h0M490.0 318.2h0M488.4 320.8h0M485.0 320.5h0M486.1 315.7h0M486.2 321.0h0M494.0 316.6h0M484.3 313.8h0M488.2 319.3h0M489.5 318.8h0M493.0 318.2h0M489.5 317.3h0M484.7 312.0h0M488.2 316.4h0M486.2 316.4h0M488.2 318.4h0M480.1 317.0h0M489.6 318.9h0M487.2 318.5h0M482.4 319.0h0M487.0 318.2h0M490.3 318.3h0M484.0 312.6h0M486.3 318.0h0" stroke="#f41818" stroke-opacity="0.5" stroke-width="0.8" stroke-linecap="square" fill="none"/>
<path d="M488.9 321.0h0M489.5 318.9h0M481.2 320.3h0M488.6 324.2h0M491.0 315.8h0M488.4 319.9h0M484.4 313.1h0M489.7 316.4h0M487.3 318.3h0M486.9 320.4h0M489.1 318.8h0" stroke="#fff" stroke-opacity="0.25" stroke-width="0.9" stroke-linecap="square" fill="none"/>
<path d="M493.3 317.8h0M480.4 318.0h0M479.9 319.1h0M480.8 317.9h0M495.7 321.2h0M483.2 311.3h0M485.3 322.9h0M491.5 310.8h0M493.3 319.4h0M492.6 324.6h0M483.0 320.7h0M489.1 323.2h0M486.3 311.4h0M489.1 322.7h0M486.5 316.9h0M489.1 317.4h0M485.5 316.1h0M497.1 316.0h0M489.3 323.5h0M494.8 310.3h0M483.4 312.2h0M487.3 307.5h0M479.5 317.4h0M490.2 312.6h0M489.6 324.1h0M482.3 324.1h0M487.8 307.7h0M489.0 318.6h0M497.1 314.8h0M499.3 317.9h0M491.4 317.2h0M491.3 324.0h0M488.2 315.6h0M492.2 316.9h0M489.9 322.9h0M489.1 319.9h0M489.4 318.6h0M493.4 323.8h0M490.0 310.0h0M479.0 321.9h0M497.3 324.3h0M485.3 319.3h0M485.0 320.1h0M487.7 313.4h0" stroke="#f53535" stroke-opacity="0.26" stroke-width="0.8" stroke-linecap="square" fill="none"/>
<ellipse cx="470" cy="300" rx="6" ry="7" transform="rotate(0 470 300)" fill="url(#rg)" fill-opacity="0.28" filter="url(#b1)"/>
<path d="M472.1 300.3h0M477.1 304.6h0M465.1 303.6h0M467.2 297.8h0M469.5 295.1h0M480.2 303.3h0M467.2 304.5h0M463.8 304.9h0M470.6 301.1h0M473.2 301.0h0M472.1 296.6h0M471.7 299.1h0M472.0 299.5h0M471.6 298.3h0M466.0 297.4h0M473.3 299.3h0M470.6 299.0h0M473.2 297.2h0M463.4 297.6h0M468.2 304.9h0M467.6 298.3h0M472.1 303.2h0M469.1 305.2h0M468.9 300.9h0M467.2 291.9h0M467.9 297.8h0M467.3 309.1h0M465.0 302.1h0M475.4 303.2h0M472.0 298.1h0M468.3 305.2h0M475.5 298.0h0M471.6 300.3h0M472.6 297.5h0M473.4 298.8h0M471.2 297.7h0M473.7 299.0h0M472.2 300.1h0M473.0 302.0h0M478.5 297.3h0M473.0 298.3h0M470.7 293.7h0M474.3 291.2h0M472.8 294.3h0M469.2 302.1h0M467.6 301.6h0M470.0 297.7h0M471.6 306.0h0M471.3 300.4h0M470.7 300.0h0M474.4 303.7h0M469.8 301.8h0M466.9 300.1h0M471.2 300.0h0M469.9 304.0h0M472.5 302.7h0M463.4 300.9h0M467.8 297.9h0M470.4 302.4h0M463.8 306.2h0M471.8 299.6h0M466.6 294.8h0M475.0 297.1h0M469.0 298.8h0M469.3 309.1h0M475.8 295.7h0M467.0 305.7h0M470.8 296.2h0M468.1 303.7h0" stroke="#f41818" stroke-opacity="0.5" stroke-width="0.8" stroke-linecap="square" fill="none"/>
<path d="M473.7 300.0h0M465.9 303.0h0M464.5 298.8h0M469.3 299.8h0M472.7 300.9h0M464.1 309.4h0M468.1 300.0h0M471.6 296.9h0M465.5 302.8h0M469.5 296.9h0M469.6 300.3h0M476.7 296.6h0M471.0 297.4h0M467.3 296.8h0M471.4 302.4h0" stroke="#fff" stroke-opacity="0.25" stroke-width="0.9" stroke-linecap="square" fill="none"/>
<path d="M464.0 294.4h0M475.0 306.7h0M473.0 297.2h0M471.3 315.4h0M469.1 307.3h0M478.1 294.6h0M468.0 305.5h0M470.0 301.9h0M466.8 299.4h0M469.5 312.5h0M471.7 301.9h0M477.6 303.0h0M470.1 305.3h0M464.1 298.6h0M472.0 299.6h0M469.4 301.0h0M464.9 307.9h0M466.8 306.0h0M464.5 317.5h0M474.4 287.0h0M463.9 290.8h0M468.4 297.7h0M479.4 312.0h0M464.0 296.5h0M463.7 294.9h0M471.0 303.7h0M471.9 310.6h0M464.3 295.3h0M471.7 306.7h0M469.4 302.9h0M479.8 296.6h0M471.5 293.8h0M475.5 289.7h0M471.5 316.5h0M470.7 297.9h0M471.9 301.7h0M468.4 296.6h0M470.9 301.4h0M465.5 302.2h0M466.7 298.4h0M467.5 291.1h0M463.6 310.5h0M464.0 295.4h0M470.4 305.6h0M468.9 294.0h0M474.6 304.4h0M466.8 300.2h0M470.5 315.2h0M472.3 293.4h0M470.4 290.5h0M472.4 307.9h0M477.1 303.6h0M467.4 299.3h0M465.8 299.5h0M463.7 283.2h0M470.7 297.7h0M464.0 295.2h0M474.0 297.3h0M474.5 303.6h0M464.1 310.8h0" stroke="#f53535" stroke-opacity="0.26" stroke-width="0.8" stroke-linecap="square" fill="none"/>
<ellipse cx="471.8" cy="313" rx="9.5" ry="11.5" transform="rotate(0 471.8 313)" fill="url(#rg)" fill-opacity="0.95" filter="url(#b1)"/>
<path d="M469.8 307.9h0M474.5 306.9h0M472.1 320.5h0M475.1 308.6h0M469.3 319.9h0M480.7 309.6h0M471.1 308.3h0M465.9 306.9h0M469.9 320.4h0M478.1 324.8h0M468.1 305.0h0M475.4 303.2h0M467.8 320.2h0M477.4 319.8h0M467.4 318.6h0M473.9 308.4h0M475.3 323.5h0M469.0 326.2h0M474.6 311.5h0M464.2 307.4h0M467.4 305.7h0M475.4 318.2h0M471.9 312.8h0M470.7 307.7h0M469.7 324.7h0M467.6 318.5h0M476.2 312.9h0M476.2 311.7h0M470.3 311.9h0M477.6 312.0h0M464.2 313.5h0M470.8 313.7h0M471.2 314.2h0M482.1 316.0h0M473.6 303.2h0M468.6 308.2h0M467.8 310.7h0M465.5 305.1h0M468.8 316.4h0M470.0 316.9h0M480.5 307.3h0M470.9 315.8h0M463.6 312.9h0M469.6 323.3h0M469.4 316.0h0M474.8 303.6h0M465.6 319.4h0M468.5 323.0h0M468.1 306.2h0M469.3 321.4h0M472.4 328.3h0M463.7 309.0h0M474.2 314.1h0M470.1 316.6h0M466.6 318.9h0M472.1 309.9h0M470.5 310.2h0M472.2 300.5h0M470.4 307.4h0M466.9 321.3h0M473.4 310.5h0M470.9 325.8h0M472.4 308.6h0M472.7 314.6h0M469.6 325.0h0M468.9 311.4h0M473.1 315.4h0M469.7 315.2h0M477.0 318.0h0M472.2 313.8h0M480.6 315.5h0M471.4 312.3h0M481.8 309.5h0M482.7 313.8h0M475.5 313.0h0M476.5 318.6h0M469.8 309.3h0M464.0 307.1h0M474.7 314.5h0M471.9 312.4h0M470.6 317.8h0M471.1 312.4h0M478.9 313.1h0M471.5 310.9h0M469.1 310.1h0M474.8 304.4h0M469.1 309.6h0M464.2 317.4h0M464.1 312.4h0M472.2 307.9h0M466.9 327.8h0M470.9 309.2h0M467.3 311.9h0M468.1 304.6h0M475.9 306.6h0M476.0 318.7h0M476.3 317.5h0M467.5 316.0h0M471.8 316.8h0M471.0 322.2h0M474.7 319.3h0M484.9 308.7h0M472.0 305.4h0M466.6 309.5h0M476.0 308.4h0M482.1 317.3h0M473.8 326.7h0M475.1 309.7h0M471.5 325.7h0M476.5 308.4h0M476.8 317.4h0M476.3 310.4h0M465.1 302.3h0M467.1 311.6h0M468.2 310.3h0M473.5 309.1h0M472.4 305.3h0M473.5 326.5h0M474.6 311.8h0M465.9 324.3h0M477.5 320.7h0M470.0 319.8h0M471.2 314.8h0M463.5 313.2h0M473.9 322.6h0M480.2 321.6h0M475.6 313.6h0M472.0 321.9h0M464.0 312.0h0M463.8 307.5h0M473.1 317.1h0M463.4 308.8h0M463.9 318.1h0M471.9 326.1h0M463.5 312.5h0M482.8 311.3h0M474.1 303.8h0M466.9 321.3h0M466.5 307.8h0M479.5 322.3h0M476.3 298.9h0M467.1 314.1h0M464.2 305.8h0M468.3 317.2h0M463.6 294.9h0M465.0 305.2h0M469.9 313.8h0M476.4 308.4h0M469.4 308.6h0M473.1 309.7h0M464.1 309.3h0M471.7 310.7h0M480.2 300.0h0M475.4 311.2h0M478.4 313.2h0M470.1 310.2h0M470.1 313.2h0M481.3 321.1h0M468.6 309.6h0M469.2 311.4h0M466.7 320.6h0M471.0 315.6h0M474.0 312.1h0M467.6 308.8h0M463.5 310.6h0M471.3 319.8h0M469.3 319.0h0M468.1 308.2h0M473.4 303.8h0M469.7 307.2h0M470.0 320.9h0M467.9 307.4h0M475.2 312.8h0M463.6 309.7h0M470.6 323.3h0M468.9 299.6h0M468.4 316.6h0M471.1 302.5h0M467.0 308.0h0M476.9 316.6h0M466.8 321.6h0M477.9 312.1h0M474.1 307.5h0M465.1 317.5h0M474.2 319.5h0M476.4 315.0h0M482.9 300.1h0M471.9 321.2h0M470.5 312.8h0M476.1 320.8h0M479.4 322.2h0M475.4 310.5h0M473.9 313.4h0M481.3 319.8h0M463.4 299.6h0M466.3 304.3h0M464.8 316.4h0M474.6 311.6h0M473.0 313.8h0M468.6 316.6h0M470.1 319.2h0M466.0 311.9h0M468.1 325.2h0M475.6 323.0h0M471.4 311.5h0M463.6 321.9h0M469.6 312.9h0M472.4 309.3h0M463.4 311.0h0M486.8 313.4h0M472.6 313.5h0M471.7 314.4h0M468.6 307.5h0M464.9 312.3h0M475.9 316.2h0M482.1 308.9h0M466.0 310.7h0M476.7 300.3h0M477.1 314.3h0M480.5 312.9h0M467.3 305.1h0M479.5 316.5h0M469.9 312.6h0M474.2 316.2h0M469.5 316.5h0M466.9 305.1h0M474.4 305.1h0M466.8 308.7h0M468.9 303.5h0M480.1 318.2h0" stroke="#f41818" stroke-opacity="0.5" stroke-width="0.8" stroke-linecap="square" fill="none"/>
<path d="M470.0 304.2h0M472.5 325.3h0M471.3 319.6h0M472.0 321.7h0M481.0 307.8h0M477.5 301.2h0M470.0 308.2h0M466.0 311.2h0M466.6 311.3h0M476.5 325.6h0M468.1 305.1h0M468.8 313.1h0M470.2 313.1h0M466.9 315.6h0M463.7 313.0h0M473.4 315.8h0M474.8 317.2h0M470.1 309.5h0M470.3 313.8h0M478.4 301.0h0M480.0 304.4h0M476.9 317.3h0M470.7 319.5h0M464.2 307.4h0M473.2 309.7h0M465.2 299.6h0M468.2 310.4h0M471.6 310.4h0M472.2 314.2h0M468.4 319.3h0M470.7 308.0h0M478.4 316.5h0M479.6 319.5h0M466.6 310.1h0M469.8 312.5h0M465.9 308.8h0M486.4 309.1h0M473.2 311.8h0M474.1 328.3h0M484.3 303.6h0M470.2 309.3h0M468.1 318.0h0M473.3 308.9h0M465.5 308.3h0M481.3 309.1h0M472.8 301.5h0M466.4 314.8h0M467.9 312.6h0M473.1 312.4h0M463.6 307.5h0" stroke="#fff" stroke-opacity="0.25" stroke-width="0.9" stroke-linecap="square" fill="none"/>
<path d="M475.2 327.8h0M474.8 302.7h0M483.2 311.3h0M468.6 328.3h0M463.6 300.5h0M466.5 327.9h0M472.6 304.9h0M471.6 317.9h0M478.7 305.2h0M480.4 302.0h0M476.3 314.4h0M469.3 307.1h0M485.1 322.9h0M480.8 312.7h0M500.9 310.7h0M463.9 312.9h0M470.0 328.1h0M484.7 304.8h0M467.1 320.5h0M492.7 316.0h0M465.3 307.1h0M483.2 320.7h0M488.3 310.8h0M482.1 324.3h0M495.1 317.1h0M470.5 301.3h0M464.1 304.9h0M463.5 312.2h0M482.5 303.5h0M482.1 311.4h0M477.3 298.6h0M471.3 293.8h0M463.9 317.9h0M470.0 315.4h0M494.7 313.0h0M466.6 320.6h0M475.5 312.5h0M470.8 328.5h0M463.7 315.3h0M486.5 319.2h0M477.8 323.3h0M463.9 313.6h0M468.4 320.3h0M463.5 319.7h0M467.0 298.5h0M480.9 310.1h0M480.0 307.8h0M476.0 326.6h0M466.9 318.3h0M464.0 288.0h0M463.8 328.3h0M470.2 304.4h0M481.5 314.1h0M481.3 304.8h0M463.5 319.5h0M464.1 298.4h0M464.1 310.9h0M463.7 328.0h0M475.8 307.6h0M470.7 314.0h0M491.0 315.4h0M479.6 293.9h0M468.5 321.1h0M482.7 317.3h0M467.3 326.0h0M463.5 310.5h0M465.0 310.5h0M466.6 316.8h0M470.9 305.5h0M477.0 328.1h0M492.9 304.2h0M463.6 318.4h0M463.5 301.4h0M475.0 297.1h0M478.4 328.4h0M465.8 318.5h0M471.0 315.7h0M475.0 297.8h0M471.7 297.2h0M474.8 315.4h0M468.0 286.9h0M463.8 300.0h0M478.6 311.6h0M474.3 315.4h0M476.0 313.7h0M475.6 328.3h0M479.6 303.2h0M480.9 317.7h0M497.9 294.4h0M475.2 314.1h0M467.3 325.0h0M486.9 316.2h0M466.4 322.3h0M477.4 327.8h0M467.2 319.0h0M463.6 328.1h0M481.0 305.3h0M477.8 295.0h0M465.3 328.2h0M470.7 300.9h0M465.8 324.5h0M463.6 305.8h0M475.7 327.7h0M475.3 316.3h0M473.8 312.7h0M463.5 306.5h0M463.6 297.9h0M467.2 291.7h0M478.9 317.3h0M466.2 302.2h0M483.8 322.2h0M472.2 311.0h0M477.3 315.2h0M484.4 305.4h0M487.7 318.4h0M478.3 292.4h0M463.9 318.3h0M475.2 302.1h0M471.9 307.8h0M475.2 307.5h0M480.4 294.8h0M464.0 327.3h0M488.0 299.5h0M488.2 301.3h0M479.7 312.4h0M480.5 326.4h0M464.7 320.2h0M493.7 288.5h0M472.1 318.3h0M485.8 302.1h0M464.0 322.8h0M480.0 307.9h0M481.3 319.5h0M463.7 286.1h0M472.9 324.0h0M465.3 310.7h0M489.4 319.6h0M464.0 291.1h0M478.4 328.0h0M479.5 302.5h0M466.8 317.4h0M471.1 319.8h0M480.3 306.6h0M472.9 306.2h0M468.9 316.2h0M477.1 310.6h0M475.9 311.5h0M472.9 322.9h0M485.2 315.2h0M470.6 327.8h0M475.9 308.3h0M469.7 320.8h0M470.5 323.7h0M467.0 296.3h0M470.7 288.4h0M481.5 316.4h0M475.8 327.5h0M472.5 307.1h0M465.7 299.3h0M463.6 299.4h0M479.2 313.5h0M467.9 317.2h0M464.0 290.6h0M478.9 328.4h0M494.7 294.2h0M478.9 308.6h0M485.4 316.8h0M479.8 300.8h0M468.6 322.1h0M469.2 312.2h0M484.9 312.5h0M488.5 297.8h0M473.6 300.9h0M478.3 294.1h0M464.3 307.8h0M474.7 309.9h0M464.1 310.6h0M470.6 298.5h0M478.4 303.1h0M484.1 327.9h0M464.0 293.2h0M471.2 314.4h0M464.0 316.4h0M477.3 302.6h0M487.0 323.2h0M473.7 310.0h0M483.7 309.0h0M490.7 327.9h0M482.0 327.9h0M464.1 298.1h0M463.8 299.2h0M480.3 301.4h0M482.2 305.1h0M464.2 323.6h0M484.6 314.1h0M466.3 318.3h0M474.3 328.5h0M464.7 307.1h0M474.4 313.7h0" stroke="#f53535" stroke-opacity="0.26" stroke-width="0.8" stroke-linecap="square" fill="none"/>
<path d="M477.4 306.6h0M472.8 307.3h0M480.7 306.2h0M476.2 301.9h0M484.9 311.0h0M485.5 295.2h0M479.1 302.2h0M471.2 294.3h0M476.7 315.9h0M474.6 290.2h0M473.7 314.2h0M467.9 303.4h0M464.1 299.6h0M474.7 313.5h0M469.8 307.8h0M469.4 303.0h0M469.8 305.9h0M474.6 314.9h0M471.4 296.5h0M475.5 280.7h0M479.5 310.1h0M472.9 305.8h0M486.5 308.3h0M467.0 308.2h0M474.1 291.8h0M464.8 319.6h0M476.9 290.6h0M479.8 297.0h0M464.7 303.4h0M475.7 305.1h0M463.9 297.2h0M472.7 296.6h0M464.1 302.5h0M474.4 298.4h0M484.4 309.6h0M474.9 295.6h0M472.8 296.8h0M487.9 307.7h0M482.2 300.9h0M471.9 298.7h0M477.4 304.4h0M464.9 294.3h0M469.2 312.2h0M468.0 297.0h0M476.3 292.9h0M470.5 299.9h0M471.3 300.8h0M476.6 303.4h0M476.9 295.3h0M476.3 291.2h0M476.1 303.0h0M478.4 294.1h0M476.5 303.5h0M463.8 306.6h0M464.2 307.2h0M478.7 302.8h0M479.2 308.1h0M477.1 295.7h0M468.6 304.8h0M477.1 312.8h0M467.4 289.0h0M477.8 301.6h0M488.6 312.7h0M476.6 316.6h0M479.2 319.4h0M482.4 303.1h0M478.8 295.1h0M464.0 319.5h0M472.3 292.0h0M463.5 297.3h0M472.0 308.8h0M463.8 300.0h0M464.1 288.8h0M463.9 305.8h0M475.5 297.9h0M470.4 295.9h0M477.4 302.4h0M474.7 294.8h0M473.5 291.7h0M468.8 303.2h0M481.8 303.8h0M471.7 308.9h0M463.5 309.9h0M472.9 296.0h0M482.0 294.8h0M475.1 303.1h0M480.9 312.0h0M464.2 301.1h0M465.3 301.8h0M477.7 300.2h0" stroke="#f53535" stroke-opacity="0.28" stroke-width="0.8" stroke-linecap="square" fill="none"/>
</g>
<g clip-path="url(#g16)">
<ellipse cx="493.9" cy="296.5" rx="4.8" ry="3.5" transform="rotate(-25 493.9 296.5)" fill="url(#bg)" fill-opacity="1.00" filter="url(#b1)"/>
<path d="M495.1 298.6h0M495.6 296.6h0M491.1 300.3h0M497.6 297.2h0M491.1 295.2h0M491.5 296.1h0M495.0 299.7h0M497.4 294.5h0M495.2 298.0h0M495.3 300.2h0M491.6 295.3h0M492.3 294.8h0M496.9 294.4h0M486.9 297.0h0M492.8 296.2h0M494.4 298.5h0M490.0 300.4h0M488.8 295.2h0M494.6 298.0h0M494.4 293.4h0M493.5 299.1h0M494.2 298.3h0M494.0 301.7h0M491.4 296.8h0M495.4 299.0h0M497.3 297.8h0M495.2 296.3h0M489.5 296.3h0M497.6 295.4h0M492.4 296.6h0M490.2 297.1h0M498.1 297.3h0M496.3 296.5h0M495.3 296.8h0M494.2 297.9h0M496.3 291.6h0M492.7 301.1h0M496.5 296.9h0M492.4 297.4h0M495.6 297.3h0M492.2 299.8h0M488.2 294.5h0M495.2 299.4h0M498.7 296.4h0M495.1 293.7h0M496.6 294.8h0M494.3 296.7h0M495.3 299.0h0M496.5 294.5h0M492.2 296.8h0M488.8 297.9h0M492.7 298.3h0M495.1 296.8h0M494.9 291.6h0M494.2 300.2h0M489.6 296.0h0M490.0 296.1h0M489.2 294.6h0M493.3 294.9h0M488.4 297.3h0M487.1 297.9h0M494.7 294.6h0M494.6 295.9h0M488.8 297.7h0M490.9 301.4h0M494.5 296.1h0M486.4 294.8h0M490.4 299.7h0M490.6 297.0h0M499.3 295.1h0M493.7 298.4h0M490.5 296.5h0M496.4 298.4h0M494.1 299.3h0M491.5 295.0h0M493.1 298.2h0M492.5 297.8h0M497.7 290.2h0M495.8 297.4h0M495.9 295.4h0M489.9 298.7h0M496.4 296.1h0M492.9 296.2h0M497.9 295.9h0M495.2 295.5h0M491.1 296.4h0M491.5 297.9h0M494.5 292.4h0M495.7 294.1h0M491.3 299.6h0M492.5 297.9h0M495.1 294.4h0M488.6 298.5h0M491.7 295.2h0M490.1 298.3h0M490.5 297.5h0M490.8 297.0h0M491.9 297.5h0M494.8 296.0h0M496.5 292.8h0M489.8 296.0h0M493.3 293.6h0M492.9 295.0h0M493.6 295.7h0M495.7 298.6h0M494.6 296.9h0M495.1 300.4h0M492.2 299.5h0M493.3 294.5h0M496.3 297.2h0" stroke="#3a4af0" stroke-opacity="0.45" stroke-width="0.8" stroke-linecap="square" fill="none"/>
<path d="M498.1 293.2h0M494.8 293.8h0M502.9 296.2h0M498.1 292.2h0M501.5 297.4h0M499.9 297.8h0M495.7 300.2h0M491.9 298.8h0M492.9 300.9h0M494.0 296.3h0M499.8 302.7h0M487.0 297.6h0M497.1 299.6h0M490.9 293.0h0M493.6 300.2h0M492.4 296.5h0M493.8 291.1h0M493.6 292.6h0M499.0 300.1h0M497.6 293.3h0M490.6 291.6h0M497.1 299.8h0M498.6 294.9h0M497.2 295.8h0M494.4 297.5h0M494.2 294.6h0M495.3 295.0h0M491.9 292.4h0M492.4 293.4h0M495.0 297.5h0M494.1 299.0h0M490.1 294.5h0M498.8 296.1h0M489.0 298.2h0M490.9 296.5h0M497.1 294.0h0M502.4 297.5h0M490.8 294.4h0M499.0 297.5h0M492.3 294.7h0M489.3 290.0h0M485.8 296.7h0M495.3 292.4h0M495.3 296.2h0M496.4 300.3h0M491.0 292.4h0M493.5 298.1h0M501.5 301.2h0M489.0 300.4h0M491.2 292.5h0M498.1 296.6h0M490.2 294.2h0M500.5 292.9h0M489.1 296.0h0M497.5 299.1h0M495.7 290.0h0M495.7 291.6h0M490.4 301.6h0M493.9 294.2h0M490.2 298.7h0" stroke="#7580f0" stroke-opacity="0.35" stroke-width="0.8" stroke-linecap="square" fill="none"/>
</g>
<line x1="463.1" y1="276.3" x2="463.1" y2="328.8" stroke="#808080" stroke-width="0.7"/>
<line x1="463.1" y1="328.8" x2="517.1" y2="328.8" stroke="#808080" stroke-width="0.7"/>
<line x1="461.90000000000003" y1="279.1" x2="463.1" y2="279.1" stroke="#777" stroke-width="0.5"/>
<text x="461.70000000000005" y="280.3" font-size="3.4" text-anchor="end" font-family='"Liberation Serif", serif' fill="#555">1<tspan font-size="2.4" dy="-1.1">1</tspan></text>
<line x1="461.90000000000003" y1="292.8" x2="463.1" y2="292.8" stroke="#777" stroke-width="0.5"/>
<text x="461.70000000000005" y="294.0" font-size="3.4" text-anchor="end" font-family='"Liberation Serif", serif' fill="#555">1<tspan font-size="2.4" dy="-1.1">2</tspan></text>
<line x1="461.90000000000003" y1="306.5" x2="463.1" y2="306.5" stroke="#777" stroke-width="0.5"/>
<text x="461.70000000000005" y="307.7" font-size="3.4" text-anchor="end" font-family='"Liberation Serif", serif' fill="#555">1<tspan font-size="2.4" dy="-1.1">3</tspan></text>
<line x1="461.90000000000003" y1="320.3" x2="463.1" y2="320.3" stroke="#777" stroke-width="0.5"/>
<text x="461.70000000000005" y="321.5" font-size="3.4" text-anchor="end" font-family='"Liberation Serif", serif' fill="#555">1<tspan font-size="2.4" dy="-1.1">4</tspan></text>
<line x1="472.1" y1="328.8" x2="472.1" y2="330.0" stroke="#777" stroke-width="0.5"/>
<text x="472.1" y="332.6" font-size="3.4" text-anchor="middle" font-family='"Liberation Serif", serif' fill="#555">1<tspan font-size="2.4" dy="-1.1">1</tspan></text>
<line x1="485.90000000000003" y1="328.8" x2="485.90000000000003" y2="330.0" stroke="#777" stroke-width="0.5"/>
<text x="485.90000000000003" y="332.6" font-size="3.4" text-anchor="middle" font-family='"Liberation Serif", serif' fill="#555">1<tspan font-size="2.4" dy="-1.1">2</tspan></text>
<line x1="499.70000000000005" y1="328.8" x2="499.70000000000005" y2="330.0" stroke="#777" stroke-width="0.5"/>
<text x="499.70000000000005" y="332.6" font-size="3.4" text-anchor="middle" font-family='"Liberation Serif", serif' fill="#555">1<tspan font-size="2.4" dy="-1.1">3</tspan></text>
<line x1="513.5" y1="328.8" x2="513.5" y2="330.0" stroke="#777" stroke-width="0.5"/>
<text x="513.5" y="332.6" font-size="3.4" text-anchor="middle" font-family='"Liberation Serif", serif' fill="#555">1<tspan font-size="2.4" dy="-1.1">4</tspan></text>
<rect x="484.9" y="289.4" width="20.5" height="19.6" fill="none" stroke="#767676" stroke-width="0.75"/>
<text x="492.3" y="284.7" font-size="5.6" font-family='"Liberation Serif", serif' font-weight="bold" fill="#111" textLength="14.9" lengthAdjust="spacingAndGlyphs">10.9%</text>
<text x="380" y="8" font-size="10.5" font-family='"Liberation Serif", serif' font-weight="bold" fill="#111" textLength="47.0" lengthAdjust="spacingAndGlyphs">Wild Type</text>
<line x1="380" y1="10.2" x2="427" y2="10.2" stroke="#222" stroke-width="1.0"/>
<text x="384.8" y="181.2" font-size="10.5" font-family='"Liberation Serif", serif' font-weight="bold" fill="#111" textLength="37.2" lengthAdjust="spacingAndGlyphs">Gata1<tspan font-size="5.8" dy="-3.5">low</tspan></text>
<line x1="384.8" y1="182.8" x2="422" y2="182.8" stroke="#222" stroke-width="1.0"/>
<text x="306" y="26.0" font-size="9.0" font-family='"Liberation Serif", serif' font-weight="bold" fill="#111" textLength="19.1" lengthAdjust="spacingAndGlyphs">MEP</text>
<text x="360.6" y="26.0" font-size="9.0" font-family='"Liberation Serif", serif' font-weight="bold" fill="#111" textLength="20.5" lengthAdjust="spacingAndGlyphs">CMP</text>
<text x="423.3" y="26.0" font-size="9.0" font-family='"Liberation Serif", serif' font-weight="bold" fill="#111" textLength="14.2" lengthAdjust="spacingAndGlyphs">MP</text>
<text x="479.9" y="26.0" font-size="9.0" font-family='"Liberation Serif", serif' font-weight="bold" fill="#111" textLength="19.9" lengthAdjust="spacingAndGlyphs">MCP</text>
<text x="307.8" y="192.9" font-size="9.0" font-family='"Liberation Serif", serif' font-weight="bold" fill="#111" textLength="19.9" lengthAdjust="spacingAndGlyphs">MEP</text>
<text x="358.8" y="192.9" font-size="9.0" font-family='"Liberation Serif", serif' font-weight="bold" fill="#111" textLength="19.9" lengthAdjust="spacingAndGlyphs">CMP</text>
<text x="421.6" y="192.9" font-size="9.0" font-family='"Liberation Serif", serif' font-weight="bold" fill="#111" textLength="12.8" lengthAdjust="spacingAndGlyphs">MP</text>
<text x="474.7" y="192.9" font-size="9.0" font-family='"Liberation Serif", serif' font-weight="bold" fill="#111" textLength="12.1" lengthAdjust="spacingAndGlyphs">MP</text>
<text x="434.6" y="189.6" font-size="6.0" font-family='"Liberation Serif", serif' font-weight="bold" fill="#111" textLength="8.4" lengthAdjust="spacingAndGlyphs">low</text>
<text x="487" y="189.6" font-size="6.0" font-family='"Liberation Serif", serif' font-weight="bold" fill="#111" textLength="12.8" lengthAdjust="spacingAndGlyphs">high</text>
<line x1="276.7" y1="52.1" x2="276.7" y2="87.6" stroke="#555" stroke-width="0.75"/>
<line x1="276.7" y1="87.6" x2="310" y2="87.6" stroke="#555" stroke-width="0.75"/>
<text x="279.6" y="96.6" font-size="6.9" font-family='"Liberation Serif", serif' font-weight="bold" fill="#111" textLength="35.2" lengthAdjust="spacingAndGlyphs">FITC T1/ST2</text>
<text transform="translate(274.0,67.3) rotate(-90)" font-size="5.9" text-anchor="middle" font-family='"Liberation Serif", serif' font-weight="bold" fill="#111" textLength="21" lengthAdjust="spacingAndGlyphs">PE c-Kit</text>
<line x1="276.7" y1="123.9" x2="276.7" y2="159.6" stroke="#555" stroke-width="0.75"/>
<line x1="276.7" y1="159.6" x2="310" y2="159.6" stroke="#555" stroke-width="0.75"/>
<text x="280" y="169" font-size="6.9" font-family='"Liberation Serif", serif' font-weight="bold" fill="#111" textLength="30.0" lengthAdjust="spacingAndGlyphs">FITC Fc&#949;RI</text>
<text transform="translate(273.6,140.7) rotate(-90)" font-size="5.9" text-anchor="middle" font-family='"Liberation Serif", serif' font-weight="bold" fill="#111" textLength="21" lengthAdjust="spacingAndGlyphs">PE c-Kit</text>
<line x1="276.2" y1="223.9" x2="276.2" y2="262.2" stroke="#555" stroke-width="0.75"/>
<line x1="276.2" y1="262.2" x2="310" y2="262.2" stroke="#555" stroke-width="0.75"/>
<text x="278.1" y="270.8" font-size="6.9" font-family='"Liberation Serif", serif' font-weight="bold" fill="#111" textLength="35.2" lengthAdjust="spacingAndGlyphs">FITC T1/ST2</text>
<text transform="translate(273.2,241.3) rotate(-90)" font-size="5.9" text-anchor="middle" font-family='"Liberation Serif", serif' font-weight="bold" fill="#111" textLength="21" lengthAdjust="spacingAndGlyphs">PE c-Kit</text>
<line x1="275.9" y1="300.5" x2="275.9" y2="338.3" stroke="#555" stroke-width="0.75"/>
<line x1="275.9" y1="338.3" x2="310" y2="338.3" stroke="#555" stroke-width="0.75"/>
<text x="278.7" y="347.7" font-size="6.9" font-family='"Liberation Serif", serif' font-weight="bold" fill="#111" textLength="30.5" lengthAdjust="spacingAndGlyphs">FITC Fc&#949;RI</text>
<text transform="translate(273.2,317.6) rotate(-90)" font-size="5.9" text-anchor="middle" font-family='"Liberation Serif", serif' font-weight="bold" fill="#111" textLength="21" lengthAdjust="spacingAndGlyphs">PE c-Kit</text>
</svg></body></html>
